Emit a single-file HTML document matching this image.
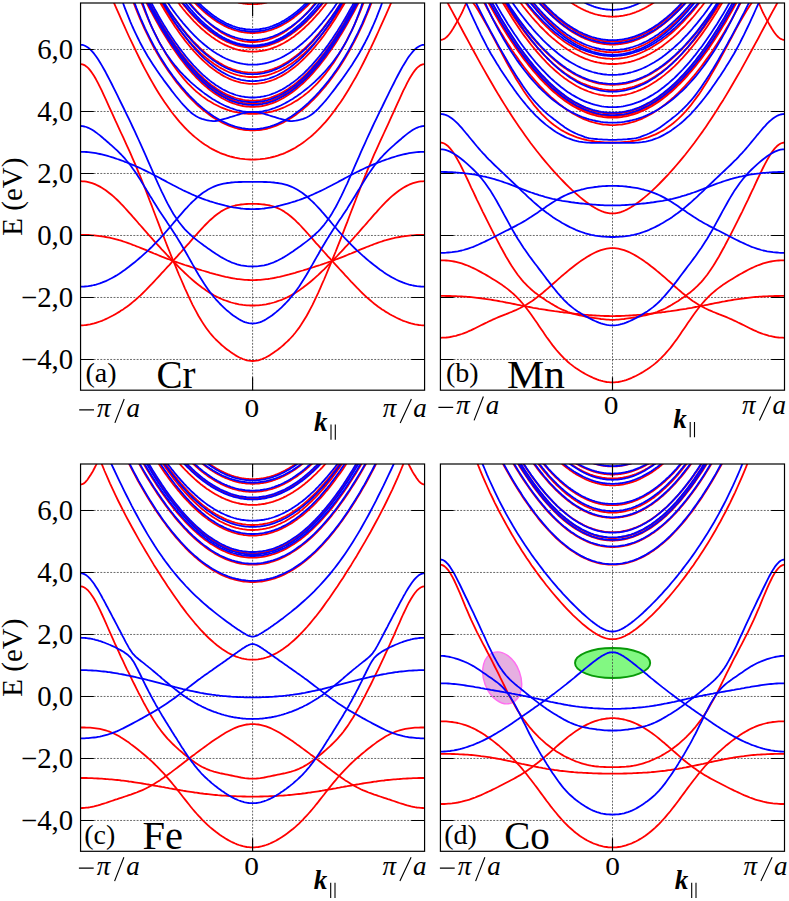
<!DOCTYPE html>
<html><head><meta charset="utf-8"><title>bands</title>
<style>
html,body{margin:0;padding:0;background:#fff;}
body{width:789px;height:901px;position:relative;overflow:hidden;font-family:"Liberation Serif",serif;}
svg text{font-family:"Liberation Serif",serif;fill:#000;}
.tk{font-size:28.8px;text-anchor:end;}
.mi{font-size:27px;font-style:italic;}
.mr{font-size:26px;}
.pl{font-size:28px;}
.el{font-size:39px;}
.yl{font-size:29px;text-anchor:middle;}
</style></head><body>
<svg width="789" height="901" viewBox="0 0 789 901" style="position:absolute;left:0;top:0">
<defs>
<clipPath id="ca"><rect x="80.5" y="3.0" width="344.0" height="387.2"/></clipPath>
<clipPath id="cb"><rect x="440.4" y="3.0" width="344.1" height="387.2"/></clipPath>
<clipPath id="cc"><rect x="80.5" y="464.0" width="344.0" height="387.3"/></clipPath>
<clipPath id="cd"><rect x="440.4" y="464.0" width="344.1" height="387.3"/></clipPath>
</defs>
<path d="M80.55 359.47 H424.58 M80.55 297.47 H424.58 M80.55 235.47 H424.58 M80.55 173.47 H424.58 M80.55 111.47 H424.58 M80.55 49.47 H424.58 M252.6 3.0 V390.2" stroke="#444" stroke-width="0.8" stroke-dasharray="1.9 1.4" fill="none"/>
<g clip-path="url(#ca)" fill="none" stroke-width="1.8" stroke-linejoin="round">
<path d="M80.6 64.1 L82.5 64.3 L84.4 65.1 L86.3 66.4 L88.3 68.2 L90.2 70.4 L92.1 73.0 L94.1 76.0 L96.0 79.3 L97.9 82.9 L99.9 86.8 L101.8 90.7 L103.7 94.9 L105.7 99.1 L107.6 103.3 L109.5 107.6 L111.5 111.9 L113.4 116.1 L115.3 120.4 L117.3 124.6 L119.2 128.8 L121.1 133.0 L123.1 137.2 L125.0 141.4 L126.9 145.6 L128.9 149.9 L130.8 154.2 L132.7 158.6 L134.7 163.1 L136.6 167.7 L138.5 172.3 L140.5 177.0 L142.4 181.8 L144.3 186.7 L146.3 191.7 L148.2 196.6 L150.1 201.7 L152.1 206.7 L154.0 211.8 L155.9 216.8 L157.9 221.9 L159.8 226.9 L161.7 231.9 L163.7 236.8 L165.6 241.8 L167.5 246.6 L169.5 251.5 L171.4 256.3 L173.3 261.0 L175.3 265.7 L177.2 270.4 L179.1 275.0 L181.1 279.5 L183.0 283.9 L184.9 288.3 L186.9 292.6 L188.8 296.8 L190.7 300.8 L192.6 304.8 L194.6 308.6 L196.5 312.2 L198.4 315.7 L200.4 319.0 L202.3 322.1 L204.2 325.1 L206.2 327.9 L208.1 330.5 L210.0 333.0 L212.0 335.3 L213.9 337.5 L215.8 339.5 L217.8 341.4 L219.7 343.2 L221.6 345.0 L223.6 346.6 L225.5 348.2 L227.4 349.7 L229.4 351.1 L231.3 352.5 L233.2 353.8 L235.2 355.1 L237.1 356.2 L239.0 357.3 L241.0 358.2 L242.9 359.0 L244.8 359.7 L246.8 360.3 L248.7 360.7 L250.6 360.9 L252.6 361.0 L254.5 360.9 L256.4 360.7 L258.4 360.3 L260.3 359.7 L262.2 359.0 L264.2 358.2 L266.1 357.3 L268.0 356.2 L270.0 355.1 L271.9 353.8 L273.8 352.5 L275.8 351.1 L277.7 349.7 L279.6 348.2 L281.6 346.6 L283.5 345.0 L285.4 343.2 L287.4 341.4 L289.3 339.5 L291.2 337.5 L293.2 335.3 L295.1 333.0 L297.0 330.5 L299.0 327.9 L300.9 325.1 L302.8 322.1 L304.7 319.0 L306.7 315.7 L308.6 312.2 L310.5 308.6 L312.5 304.8 L314.4 300.8 L316.3 296.8 L318.3 292.6 L320.2 288.3 L322.1 283.9 L324.1 279.5 L326.0 275.0 L327.9 270.4 L329.9 265.7 L331.8 261.0 L333.7 256.3 L335.7 251.5 L337.6 246.6 L339.5 241.8 L341.5 236.8 L343.4 231.9 L345.3 226.9 L347.3 221.9 L349.2 216.8 L351.1 211.8 L353.1 206.7 L355.0 201.7 L356.9 196.6 L358.9 191.7 L360.8 186.7 L362.7 181.8 L364.7 177.0 L366.6 172.3 L368.5 167.7 L370.5 163.1 L372.4 158.6 L374.3 154.2 L376.3 149.9 L378.2 145.6 L380.1 141.4 L382.1 137.2 L384.0 133.0 L385.9 128.8 L387.9 124.6 L389.8 120.4 L391.7 116.1 L393.7 111.9 L395.6 107.6 L397.5 103.3 L399.5 99.1 L401.4 94.9 L403.3 90.7 L405.3 86.8 L407.2 82.9 L409.1 79.3 L411.1 76.0 L413.0 73.0 L414.9 70.4 L416.8 68.2 L418.8 66.4 L420.7 65.1 L422.6 64.3 L424.6 64.1" stroke="#ff0000"/>
<path d="M80.6 181.2 L82.5 181.3 L84.4 181.4 L86.3 181.7 L88.3 182.1 L90.2 182.6 L92.1 183.2 L94.1 183.9 L96.0 184.7 L97.9 185.6 L99.9 186.6 L101.8 187.7 L103.7 188.9 L105.7 190.2 L107.6 191.7 L109.5 193.2 L111.5 194.8 L113.4 196.4 L115.3 198.2 L117.3 200.0 L119.2 201.9 L121.1 203.9 L123.1 205.9 L125.0 208.0 L126.9 210.1 L128.9 212.3 L130.8 214.4 L132.7 216.6 L134.7 218.8 L136.6 221.0 L138.5 223.3 L140.5 225.5 L142.4 227.7 L144.3 229.9 L146.3 232.1 L148.2 234.3 L150.1 236.5 L152.1 238.7 L154.0 240.8 L155.9 243.0 L157.9 245.1 L159.8 247.2 L161.7 249.3 L163.7 251.4 L165.6 253.4 L167.5 255.5 L169.5 257.5 L171.4 259.5 L173.3 261.5 L175.3 263.5 L177.2 265.4 L179.1 267.4 L181.1 269.3 L183.0 271.1 L184.9 273.0 L186.9 274.8 L188.8 276.6 L190.7 278.3 L192.6 280.0 L194.6 281.7 L196.5 283.3 L198.4 284.8 L200.4 286.3 L202.3 287.8 L204.2 289.1 L206.2 290.5 L208.1 291.7 L210.0 293.0 L212.0 294.1 L213.9 295.2 L215.8 296.2 L217.8 297.2 L219.7 298.1 L221.6 299.0 L223.6 299.8 L225.5 300.5 L227.4 301.2 L229.4 301.9 L231.3 302.5 L233.2 303.0 L235.2 303.5 L237.1 303.9 L239.0 304.3 L241.0 304.6 L242.9 304.9 L244.8 305.1 L246.8 305.3 L248.7 305.4 L250.6 305.5 L252.6 305.5 L254.5 305.5 L256.4 305.4 L258.4 305.3 L260.3 305.1 L262.2 304.9 L264.2 304.6 L266.1 304.3 L268.0 303.9 L270.0 303.5 L271.9 303.0 L273.8 302.5 L275.8 301.9 L277.7 301.2 L279.6 300.5 L281.6 299.8 L283.5 299.0 L285.4 298.1 L287.4 297.2 L289.3 296.2 L291.2 295.2 L293.2 294.1 L295.1 293.0 L297.0 291.7 L299.0 290.5 L300.9 289.1 L302.8 287.8 L304.7 286.3 L306.7 284.8 L308.6 283.3 L310.5 281.7 L312.5 280.0 L314.4 278.3 L316.3 276.6 L318.3 274.8 L320.2 273.0 L322.1 271.1 L324.1 269.3 L326.0 267.4 L327.9 265.4 L329.9 263.5 L331.8 261.5 L333.7 259.5 L335.7 257.5 L337.6 255.5 L339.5 253.4 L341.5 251.4 L343.4 249.3 L345.3 247.2 L347.3 245.1 L349.2 243.0 L351.1 240.8 L353.1 238.7 L355.0 236.5 L356.9 234.3 L358.9 232.1 L360.8 229.9 L362.7 227.7 L364.7 225.5 L366.6 223.3 L368.5 221.0 L370.5 218.8 L372.4 216.6 L374.3 214.4 L376.3 212.3 L378.2 210.1 L380.1 208.0 L382.1 205.9 L384.0 203.9 L385.9 201.9 L387.9 200.0 L389.8 198.2 L391.7 196.4 L393.7 194.8 L395.6 193.2 L397.5 191.7 L399.5 190.2 L401.4 188.9 L403.3 187.7 L405.3 186.6 L407.2 185.6 L409.1 184.7 L411.1 183.9 L413.0 183.2 L414.9 182.6 L416.8 182.1 L418.8 181.7 L420.7 181.4 L422.6 181.3 L424.6 181.2" stroke="#ff0000"/>
<path d="M80.6 234.8 L82.5 234.9 L84.4 234.9 L86.3 235.0 L88.3 235.0 L90.2 235.1 L92.1 235.3 L94.1 235.4 L96.0 235.6 L97.9 235.8 L99.9 236.1 L101.8 236.4 L103.7 236.7 L105.7 237.0 L107.6 237.3 L109.5 237.7 L111.5 238.2 L113.4 238.6 L115.3 239.1 L117.3 239.6 L119.2 240.2 L121.1 240.7 L123.1 241.4 L125.0 242.0 L126.9 242.6 L128.9 243.3 L130.8 244.0 L132.7 244.8 L134.7 245.5 L136.6 246.3 L138.5 247.0 L140.5 247.8 L142.4 248.6 L144.3 249.4 L146.3 250.2 L148.2 251.0 L150.1 251.8 L152.1 252.6 L154.0 253.5 L155.9 254.2 L157.9 255.0 L159.8 255.8 L161.7 256.6 L163.7 257.3 L165.6 258.1 L167.5 258.8 L169.5 259.5 L171.4 260.3 L173.3 261.0 L175.3 261.7 L177.2 262.3 L179.1 263.0 L181.1 263.7 L183.0 264.3 L184.9 265.0 L186.9 265.6 L188.8 266.2 L190.7 266.9 L192.6 267.5 L194.6 268.1 L196.5 268.7 L198.4 269.3 L200.4 269.9 L202.3 270.5 L204.2 271.0 L206.2 271.6 L208.1 272.2 L210.0 272.8 L212.0 273.3 L213.9 273.8 L215.8 274.4 L217.8 274.9 L219.7 275.4 L221.6 275.9 L223.6 276.3 L225.5 276.8 L227.4 277.2 L229.4 277.6 L231.3 278.0 L233.2 278.3 L235.2 278.7 L237.1 279.0 L239.0 279.2 L241.0 279.4 L242.9 279.6 L244.8 279.8 L246.8 279.9 L248.7 280.0 L250.6 280.1 L252.6 280.1 L254.5 280.1 L256.4 280.0 L258.4 279.9 L260.3 279.8 L262.2 279.6 L264.2 279.4 L266.1 279.2 L268.0 279.0 L270.0 278.7 L271.9 278.3 L273.8 278.0 L275.8 277.6 L277.7 277.2 L279.6 276.8 L281.6 276.3 L283.5 275.9 L285.4 275.4 L287.4 274.9 L289.3 274.4 L291.2 273.8 L293.2 273.3 L295.1 272.8 L297.0 272.2 L299.0 271.6 L300.9 271.0 L302.8 270.5 L304.7 269.9 L306.7 269.3 L308.6 268.7 L310.5 268.1 L312.5 267.5 L314.4 266.9 L316.3 266.2 L318.3 265.6 L320.2 265.0 L322.1 264.3 L324.1 263.7 L326.0 263.0 L327.9 262.3 L329.9 261.7 L331.8 261.0 L333.7 260.3 L335.7 259.5 L337.6 258.8 L339.5 258.1 L341.5 257.3 L343.4 256.6 L345.3 255.8 L347.3 255.0 L349.2 254.2 L351.1 253.5 L353.1 252.6 L355.0 251.8 L356.9 251.0 L358.9 250.2 L360.8 249.4 L362.7 248.6 L364.7 247.8 L366.6 247.0 L368.5 246.3 L370.5 245.5 L372.4 244.8 L374.3 244.0 L376.3 243.3 L378.2 242.6 L380.1 242.0 L382.1 241.4 L384.0 240.7 L385.9 240.2 L387.9 239.6 L389.8 239.1 L391.7 238.6 L393.7 238.2 L395.6 237.7 L397.5 237.3 L399.5 237.0 L401.4 236.7 L403.3 236.4 L405.3 236.1 L407.2 235.8 L409.1 235.6 L411.1 235.4 L413.0 235.3 L414.9 235.1 L416.8 235.0 L418.8 235.0 L420.7 234.9 L422.6 234.9 L424.6 234.8" stroke="#ff0000"/>
<path d="M80.6 325.4 L82.5 325.3 L84.4 325.2 L86.3 325.0 L88.3 324.7 L90.2 324.4 L92.1 323.9 L94.1 323.4 L96.0 322.8 L97.9 322.2 L99.9 321.5 L101.8 320.8 L103.7 320.0 L105.7 319.1 L107.6 318.2 L109.5 317.3 L111.5 316.3 L113.4 315.3 L115.3 314.2 L117.3 313.0 L119.2 311.9 L121.1 310.6 L123.1 309.4 L125.0 308.0 L126.9 306.7 L128.9 305.2 L130.8 303.7 L132.7 302.1 L134.7 300.5 L136.6 298.8 L138.5 297.1 L140.5 295.3 L142.4 293.5 L144.3 291.6 L146.3 289.7 L148.2 287.7 L150.1 285.7 L152.1 283.7 L154.0 281.6 L155.9 279.5 L157.9 277.4 L159.8 275.3 L161.7 273.2 L163.7 271.1 L165.6 269.0 L167.5 266.9 L169.5 264.8 L171.4 262.7 L173.3 260.5 L175.3 258.4 L177.2 256.3 L179.1 254.1 L181.1 252.0 L183.0 249.8 L184.9 247.6 L186.9 245.4 L188.8 243.3 L190.7 241.1 L192.6 238.9 L194.6 236.7 L196.5 234.5 L198.4 232.3 L200.4 230.2 L202.3 228.1 L204.2 226.0 L206.2 224.0 L208.1 222.1 L210.0 220.2 L212.0 218.5 L213.9 216.8 L215.8 215.2 L217.8 213.7 L219.7 212.4 L221.6 211.1 L223.6 210.0 L225.5 209.0 L227.4 208.1 L229.4 207.3 L231.3 206.6 L233.2 206.0 L235.2 205.5 L237.1 205.1 L239.0 204.8 L241.0 204.5 L242.9 204.3 L244.8 204.1 L246.8 204.0 L248.7 203.9 L250.6 203.9 L252.6 203.9 L254.5 203.9 L256.4 203.9 L258.4 204.0 L260.3 204.1 L262.2 204.3 L264.2 204.5 L266.1 204.8 L268.0 205.1 L270.0 205.5 L271.9 206.0 L273.8 206.6 L275.8 207.3 L277.7 208.1 L279.6 209.0 L281.6 210.0 L283.5 211.1 L285.4 212.4 L287.4 213.7 L289.3 215.2 L291.2 216.8 L293.2 218.5 L295.1 220.2 L297.0 222.1 L299.0 224.0 L300.9 226.0 L302.8 228.1 L304.7 230.2 L306.7 232.3 L308.6 234.5 L310.5 236.7 L312.5 238.9 L314.4 241.1 L316.3 243.3 L318.3 245.4 L320.2 247.6 L322.1 249.8 L324.1 252.0 L326.0 254.1 L327.9 256.3 L329.9 258.4 L331.8 260.5 L333.7 262.7 L335.7 264.8 L337.6 266.9 L339.5 269.0 L341.5 271.1 L343.4 273.2 L345.3 275.3 L347.3 277.4 L349.2 279.5 L351.1 281.6 L353.1 283.7 L355.0 285.7 L356.9 287.7 L358.9 289.7 L360.8 291.6 L362.7 293.5 L364.7 295.3 L366.6 297.1 L368.5 298.8 L370.5 300.5 L372.4 302.1 L374.3 303.7 L376.3 305.2 L378.2 306.7 L380.1 308.0 L382.1 309.4 L384.0 310.6 L385.9 311.9 L387.9 313.0 L389.8 314.2 L391.7 315.3 L393.7 316.3 L395.6 317.3 L397.5 318.2 L399.5 319.1 L401.4 320.0 L403.3 320.8 L405.3 321.5 L407.2 322.2 L409.1 322.8 L411.1 323.4 L413.0 323.9 L414.9 324.4 L416.8 324.7 L418.8 325.0 L420.7 325.2 L422.6 325.3 L424.6 325.4" stroke="#ff0000"/>
<path d="M104.1 -19.9 L106.6 -14.2 L109.1 -8.5 L111.6 -2.7 L114.1 3.1 L116.6 8.8 L119.2 14.6 L121.7 20.3 L124.2 25.9 L126.7 31.5 L129.2 37.0 L131.8 42.4 L134.3 47.7 L136.8 52.9 L139.3 58.0 L141.8 63.0 L144.3 67.8 L146.9 72.6 L149.4 77.2 L151.9 81.6 L154.4 86.0 L156.9 90.2 L159.4 94.2 L162.0 98.2 L164.5 102.0 L167.0 105.6 L169.5 109.1 L172.0 112.5 L174.5 115.7 L177.1 118.8 L179.6 121.8 L182.1 124.6 L184.6 127.3 L187.1 129.9 L189.6 132.3 L192.2 134.7 L194.7 136.9 L197.2 138.9 L199.7 140.9 L202.2 142.8 L204.7 144.5 L207.3 146.1 L209.8 147.7 L212.3 149.1 L214.8 150.4 L217.3 151.6 L219.8 152.8 L222.4 153.8 L224.9 154.7 L227.4 155.6 L229.9 156.4 L232.4 157.0 L234.9 157.6 L237.5 158.1 L240.0 158.6 L242.5 158.9 L245.0 159.2 L247.5 159.4 L250.0 159.5 L252.6 159.6 L255.1 159.5 L257.6 159.4 L260.1 159.2 L262.6 158.9 L265.1 158.6 L267.7 158.1 L270.2 157.6 L272.7 157.0 L275.2 156.4 L277.7 155.6 L280.3 154.7 L282.8 153.8 L285.3 152.8 L287.8 151.6 L290.3 150.4 L292.8 149.1 L295.4 147.7 L297.9 146.1 L300.4 144.5 L302.9 142.8 L305.4 140.9 L307.9 138.9 L310.5 136.9 L313.0 134.7 L315.5 132.3 L318.0 129.9 L320.5 127.3 L323.0 124.6 L325.6 121.8 L328.1 118.8 L330.6 115.7 L333.1 112.5 L335.6 109.1 L338.1 105.6 L340.7 102.0 L343.2 98.2 L345.7 94.2 L348.2 90.2 L350.7 86.0 L353.2 81.6 L355.8 77.2 L358.3 72.6 L360.8 67.8 L363.3 63.0 L365.8 58.0 L368.3 52.9 L370.9 47.7 L373.4 42.4 L375.9 37.0 L378.4 31.5 L380.9 25.9 L383.4 20.3 L386.0 14.6 L388.5 8.8 L391.0 3.1 L393.5 -2.7 L396.0 -8.5 L398.5 -14.2 L401.1 -19.9" stroke="#ff0000"/>
<path d="M124.9 -22.4 L127.0 -15.8 L129.2 -9.4 L131.3 -3.4 L133.5 2.5 L135.7 8.1 L137.8 13.4 L140.0 18.6 L142.2 23.6 L144.3 28.3 L146.5 32.9 L148.7 37.3 L150.8 41.6 L153.0 45.7 L155.2 49.7 L157.3 53.5 L159.5 57.2 L161.6 60.7 L163.8 64.2 L166.0 67.5 L168.1 70.7 L170.3 73.8 L172.5 76.8 L174.6 79.8 L176.8 82.6 L179.0 85.3 L181.1 87.9 L183.3 90.5 L185.5 92.9 L187.6 95.3 L189.8 97.6 L192.0 99.8 L194.1 101.9 L196.3 104.0 L198.4 106.0 L200.6 107.9 L202.8 109.7 L204.9 111.4 L207.1 113.1 L209.3 114.7 L211.4 116.2 L213.6 117.7 L215.8 119.0 L217.9 120.3 L220.1 121.5 L222.3 122.7 L224.4 123.7 L226.6 124.7 L228.8 125.6 L230.9 126.4 L233.1 127.2 L235.2 127.9 L237.4 128.5 L239.6 129.0 L241.7 129.4 L243.9 129.8 L246.1 130.0 L248.2 130.2 L250.4 130.4 L252.6 130.4 L254.7 130.4 L256.9 130.2 L259.1 130.0 L261.2 129.8 L263.4 129.4 L265.6 129.0 L267.7 128.5 L269.9 127.9 L272.0 127.2 L274.2 126.4 L276.4 125.6 L278.5 124.7 L280.7 123.7 L282.9 122.7 L285.0 121.5 L287.2 120.3 L289.4 119.0 L291.5 117.7 L293.7 116.2 L295.9 114.7 L298.0 113.1 L300.2 111.4 L302.4 109.7 L304.5 107.9 L306.7 106.0 L308.8 104.0 L311.0 101.9 L313.2 99.8 L315.3 97.6 L317.5 95.3 L319.7 92.9 L321.8 90.5 L324.0 87.9 L326.2 85.3 L328.3 82.6 L330.5 79.8 L332.7 76.8 L334.8 73.8 L337.0 70.7 L339.2 67.5 L341.3 64.2 L343.5 60.7 L345.6 57.2 L347.8 53.5 L350.0 49.7 L352.1 45.7 L354.3 41.6 L356.5 37.3 L358.6 32.9 L360.8 28.3 L363.0 23.6 L365.1 18.6 L367.3 13.4 L369.5 8.1 L371.6 2.5 L373.8 -3.4 L375.9 -9.4 L378.1 -15.8 L380.3 -22.4" stroke="#ff0000"/>
<path d="M133.2 -20.1 L135.3 -14.2 L137.3 -8.5 L139.3 -3.0 L141.3 2.3 L143.4 7.4 L145.4 12.4 L147.4 17.2 L149.4 21.8 L151.4 26.3 L153.5 30.6 L155.5 34.7 L157.5 38.7 L159.5 42.6 L161.6 46.3 L163.6 49.9 L165.6 53.3 L167.6 56.6 L169.6 59.8 L171.7 62.9 L173.7 65.8 L175.7 68.6 L177.7 71.3 L179.8 74.0 L181.8 76.4 L183.8 78.8 L185.8 81.1 L187.8 83.3 L189.9 85.4 L191.9 87.4 L193.9 89.3 L195.9 91.2 L198.0 92.9 L200.0 94.5 L202.0 96.1 L204.0 97.6 L206.0 99.0 L208.1 100.4 L210.1 101.6 L212.1 102.8 L214.1 104.0 L216.2 105.0 L218.2 106.0 L220.2 107.0 L222.2 107.8 L224.3 108.6 L226.3 109.4 L228.3 110.1 L230.3 110.7 L232.3 111.3 L234.4 111.8 L236.4 112.2 L238.4 112.6 L240.4 113.0 L242.5 113.3 L244.5 113.5 L246.5 113.7 L248.5 113.8 L250.5 113.9 L252.6 113.9 L254.6 113.9 L256.6 113.8 L258.6 113.7 L260.7 113.5 L262.7 113.3 L264.7 113.0 L266.7 112.6 L268.7 112.2 L270.8 111.8 L272.8 111.3 L274.8 110.7 L276.8 110.1 L278.9 109.4 L280.9 108.6 L282.9 107.8 L284.9 107.0 L286.9 106.0 L289.0 105.0 L291.0 104.0 L293.0 102.8 L295.0 101.6 L297.1 100.4 L299.1 99.0 L301.1 97.6 L303.1 96.1 L305.1 94.5 L307.2 92.9 L309.2 91.2 L311.2 89.3 L313.2 87.4 L315.3 85.4 L317.3 83.3 L319.3 81.1 L321.3 78.8 L323.4 76.4 L325.4 74.0 L327.4 71.3 L329.4 68.6 L331.4 65.8 L333.5 62.9 L335.5 59.8 L337.5 56.6 L339.5 53.3 L341.6 49.9 L343.6 46.3 L345.6 42.6 L347.6 38.7 L349.6 34.7 L351.7 30.6 L353.7 26.3 L355.7 21.8 L357.7 17.2 L359.8 12.4 L361.8 7.4 L363.8 2.3 L365.8 -3.0 L367.8 -8.5 L369.9 -14.2 L371.9 -20.1" stroke="#ff0000"/>
<path d="M138.5 -13.5 L140.5 -9.4 L142.4 -5.5 L144.3 -1.5 L146.3 2.3 L148.2 6.1 L150.1 9.8 L152.1 13.4 L154.0 16.9 L155.9 20.4 L157.9 23.9 L159.8 27.2 L161.7 30.5 L163.7 33.7 L165.6 36.8 L167.5 39.9 L169.5 42.9 L171.4 45.9 L173.3 48.7 L175.3 51.5 L177.2 54.3 L179.1 56.9 L181.0 59.5 L183.0 62.0 L184.9 64.5 L186.8 66.9 L188.8 69.2 L190.7 71.4 L192.6 73.6 L194.6 75.7 L196.5 77.8 L198.4 79.7 L200.4 81.6 L202.3 83.5 L204.2 85.2 L206.2 86.9 L208.1 88.5 L210.0 90.1 L212.0 91.6 L213.9 93.0 L215.8 94.3 L217.8 95.6 L219.7 96.8 L221.6 98.0 L223.6 99.0 L225.5 100.0 L227.4 101.0 L229.4 101.8 L231.3 102.6 L233.2 103.4 L235.2 104.0 L237.1 104.6 L239.0 105.1 L241.0 105.6 L242.9 106.0 L244.8 106.3 L246.8 106.5 L248.7 106.7 L250.6 106.8 L252.6 106.8 L254.5 106.8 L256.4 106.7 L258.4 106.5 L260.3 106.3 L262.2 106.0 L264.2 105.6 L266.1 105.1 L268.0 104.6 L270.0 104.0 L271.9 103.4 L273.8 102.6 L275.8 101.8 L277.7 101.0 L279.6 100.0 L281.6 99.0 L283.5 98.0 L285.4 96.8 L287.4 95.6 L289.3 94.3 L291.2 93.0 L293.2 91.6 L295.1 90.1 L297.0 88.5 L299.0 86.9 L300.9 85.2 L302.8 83.5 L304.8 81.6 L306.7 79.7 L308.6 77.8 L310.6 75.7 L312.5 73.6 L314.4 71.4 L316.3 69.2 L318.3 66.9 L320.2 64.5 L322.1 62.0 L324.1 59.5 L326.0 56.9 L327.9 54.3 L329.9 51.5 L331.8 48.7 L333.7 45.9 L335.7 42.9 L337.6 39.9 L339.5 36.8 L341.5 33.7 L343.4 30.5 L345.3 27.2 L347.3 23.9 L349.2 20.4 L351.1 16.9 L353.1 13.4 L355.0 9.8 L356.9 6.1 L358.9 2.3 L360.8 -1.5 L362.7 -5.5 L364.7 -9.4 L366.6 -13.5" stroke="#ff0000"/>
<path d="M140.2 -13.0 L142.1 -9.1 L144.0 -5.2 L145.9 -1.5 L147.8 2.3 L149.7 5.9 L151.6 9.5 L153.5 13.0 L155.4 16.5 L157.3 19.9 L159.2 23.2 L161.1 26.4 L163.0 29.6 L164.9 32.8 L166.8 35.8 L168.7 38.8 L170.6 41.7 L172.6 44.6 L174.5 47.3 L176.4 50.1 L178.3 52.7 L180.2 55.3 L182.1 57.8 L184.0 60.3 L185.9 62.6 L187.8 64.9 L189.7 67.2 L191.6 69.4 L193.5 71.5 L195.4 73.5 L197.3 75.5 L199.2 77.4 L201.1 79.3 L203.0 81.0 L204.9 82.8 L206.8 84.4 L208.7 86.0 L210.7 87.5 L212.6 88.9 L214.5 90.3 L216.4 91.6 L218.3 92.9 L220.2 94.0 L222.1 95.1 L224.0 96.2 L225.9 97.1 L227.8 98.1 L229.7 98.9 L231.6 99.7 L233.5 100.4 L235.4 101.0 L237.3 101.6 L239.2 102.1 L241.1 102.5 L243.0 102.9 L244.9 103.2 L246.8 103.4 L248.8 103.6 L250.7 103.7 L252.6 103.7 L254.5 103.7 L256.4 103.6 L258.3 103.4 L260.2 103.2 L262.1 102.9 L264.0 102.5 L265.9 102.1 L267.8 101.6 L269.7 101.0 L271.6 100.4 L273.5 99.7 L275.4 98.9 L277.3 98.1 L279.2 97.1 L281.1 96.2 L283.0 95.1 L285.0 94.0 L286.9 92.9 L288.8 91.6 L290.7 90.3 L292.6 88.9 L294.5 87.5 L296.4 86.0 L298.3 84.4 L300.2 82.8 L302.1 81.0 L304.0 79.3 L305.9 77.4 L307.8 75.5 L309.7 73.5 L311.6 71.5 L313.5 69.4 L315.4 67.2 L317.3 64.9 L319.2 62.6 L321.1 60.3 L323.1 57.8 L325.0 55.3 L326.9 52.7 L328.8 50.1 L330.7 47.3 L332.6 44.6 L334.5 41.7 L336.4 38.8 L338.3 35.8 L340.2 32.8 L342.1 29.6 L344.0 26.4 L345.9 23.2 L347.8 19.9 L349.7 16.5 L351.6 13.0 L353.5 9.5 L355.4 5.9 L357.3 2.3 L359.2 -1.5 L361.2 -5.2 L363.1 -9.1 L365.0 -13.0" stroke="#ff0000"/>
<path d="M142.0 -12.6 L143.9 -8.8 L145.7 -5.0 L147.6 -1.4 L149.5 2.2 L151.4 5.8 L153.2 9.3 L155.1 12.7 L157.0 16.0 L158.9 19.3 L160.7 22.5 L162.6 25.7 L164.5 28.8 L166.4 31.8 L168.2 34.8 L170.1 37.7 L172.0 40.5 L173.9 43.2 L175.7 45.9 L177.6 48.6 L179.5 51.2 L181.3 53.7 L183.2 56.1 L185.1 58.5 L187.0 60.8 L188.8 63.0 L190.7 65.2 L192.6 67.3 L194.5 69.4 L196.3 71.3 L198.2 73.3 L200.1 75.1 L202.0 76.9 L203.8 78.6 L205.7 80.3 L207.6 81.9 L209.5 83.4 L211.3 84.9 L213.2 86.3 L215.1 87.6 L217.0 88.9 L218.8 90.1 L220.7 91.2 L222.6 92.3 L224.5 93.3 L226.3 94.2 L228.2 95.1 L230.1 95.9 L231.9 96.7 L233.8 97.4 L235.7 98.0 L237.6 98.5 L239.4 99.0 L241.3 99.4 L243.2 99.8 L245.1 100.1 L246.9 100.3 L248.8 100.5 L250.7 100.6 L252.6 100.6 L254.4 100.6 L256.3 100.5 L258.2 100.3 L260.1 100.1 L261.9 99.8 L263.8 99.4 L265.7 99.0 L267.6 98.5 L269.4 98.0 L271.3 97.4 L273.2 96.7 L275.1 95.9 L276.9 95.1 L278.8 94.2 L280.7 93.3 L282.6 92.3 L284.4 91.2 L286.3 90.1 L288.2 88.9 L290.0 87.6 L291.9 86.3 L293.8 84.9 L295.7 83.4 L297.5 81.9 L299.4 80.3 L301.3 78.6 L303.2 76.9 L305.0 75.1 L306.9 73.3 L308.8 71.3 L310.7 69.4 L312.5 67.3 L314.4 65.2 L316.3 63.0 L318.2 60.8 L320.0 58.5 L321.9 56.1 L323.8 53.7 L325.7 51.2 L327.5 48.6 L329.4 45.9 L331.3 43.2 L333.2 40.5 L335.0 37.7 L336.9 34.8 L338.8 31.8 L340.6 28.8 L342.5 25.7 L344.4 22.5 L346.3 19.3 L348.1 16.0 L350.0 12.7 L351.9 9.3 L353.8 5.8 L355.6 2.2 L357.5 -1.4 L359.4 -5.0 L361.3 -8.8 L363.1 -12.6" stroke="#ff0000"/>
<path d="M153.1 -10.3 L154.8 -7.1 L156.5 -4.0 L158.2 -0.9 L159.9 2.1 L161.5 5.0 L163.2 7.9 L164.9 10.8 L166.6 13.5 L168.3 16.3 L170.0 18.9 L171.7 21.6 L173.3 24.1 L175.0 26.7 L176.7 29.1 L178.4 31.5 L180.1 33.9 L181.8 36.2 L183.5 38.4 L185.1 40.6 L186.8 42.7 L188.5 44.8 L190.2 46.9 L191.9 48.8 L193.6 50.8 L195.3 52.6 L196.9 54.4 L198.6 56.2 L200.3 57.9 L202.0 59.5 L203.7 61.1 L205.4 62.7 L207.1 64.2 L208.7 65.6 L210.4 67.0 L212.1 68.3 L213.8 69.6 L215.5 70.8 L217.2 72.0 L218.9 73.1 L220.5 74.1 L222.2 75.1 L223.9 76.1 L225.6 77.0 L227.3 77.8 L229.0 78.6 L230.7 79.3 L232.3 80.0 L234.0 80.6 L235.7 81.2 L237.4 81.7 L239.1 82.1 L240.8 82.6 L242.5 82.9 L244.1 83.2 L245.8 83.4 L247.5 83.6 L249.2 83.8 L250.9 83.9 L252.6 83.9 L254.3 83.9 L255.9 83.8 L257.6 83.6 L259.3 83.4 L261.0 83.2 L262.7 82.9 L264.4 82.6 L266.1 82.1 L267.7 81.7 L269.4 81.2 L271.1 80.6 L272.8 80.0 L274.5 79.3 L276.2 78.6 L277.8 77.8 L279.5 77.0 L281.2 76.1 L282.9 75.1 L284.6 74.1 L286.3 73.1 L288.0 72.0 L289.6 70.8 L291.3 69.6 L293.0 68.3 L294.7 67.0 L296.4 65.6 L298.1 64.2 L299.8 62.7 L301.4 61.1 L303.1 59.5 L304.8 57.9 L306.5 56.2 L308.2 54.4 L309.9 52.6 L311.6 50.8 L313.2 48.8 L314.9 46.9 L316.6 44.8 L318.3 42.7 L320.0 40.6 L321.7 38.4 L323.4 36.2 L325.0 33.9 L326.7 31.5 L328.4 29.1 L330.1 26.7 L331.8 24.1 L333.5 21.6 L335.2 18.9 L336.8 16.3 L338.5 13.5 L340.2 10.8 L341.9 7.9 L343.6 5.0 L345.3 2.1 L347.0 -0.9 L348.6 -4.0 L350.3 -7.1 L352.0 -10.3" stroke="#ff0000"/>
<path d="M154.2 -9.2 L155.9 -6.3 L157.5 -3.4 L159.2 -0.6 L160.9 2.1 L162.5 4.8 L164.2 7.5 L165.9 10.1 L167.5 12.6 L169.2 15.1 L170.9 17.6 L172.5 20.0 L174.2 22.3 L175.9 24.6 L177.5 26.9 L179.2 29.1 L180.9 31.3 L182.5 33.4 L184.2 35.4 L185.9 37.4 L187.5 39.4 L189.2 41.3 L190.9 43.1 L192.5 45.0 L194.2 46.7 L195.9 48.4 L197.6 50.1 L199.2 51.7 L200.9 53.3 L202.6 54.8 L204.2 56.2 L205.9 57.6 L207.6 59.0 L209.2 60.3 L210.9 61.6 L212.6 62.8 L214.2 64.0 L215.9 65.1 L217.6 66.1 L219.2 67.2 L220.9 68.1 L222.6 69.0 L224.2 69.9 L225.9 70.7 L227.6 71.5 L229.2 72.2 L230.9 72.9 L232.6 73.5 L234.2 74.1 L235.9 74.6 L237.6 75.1 L239.2 75.5 L240.9 75.8 L242.6 76.2 L244.2 76.4 L245.9 76.7 L247.6 76.8 L249.2 77.0 L250.9 77.0 L252.6 77.1 L254.2 77.0 L255.9 77.0 L257.6 76.8 L259.2 76.7 L260.9 76.4 L262.6 76.2 L264.2 75.8 L265.9 75.5 L267.6 75.1 L269.2 74.6 L270.9 74.1 L272.6 73.5 L274.2 72.9 L275.9 72.2 L277.6 71.5 L279.2 70.7 L280.9 69.9 L282.6 69.0 L284.2 68.1 L285.9 67.2 L287.6 66.1 L289.2 65.1 L290.9 64.0 L292.6 62.8 L294.2 61.6 L295.9 60.3 L297.6 59.0 L299.2 57.6 L300.9 56.2 L302.6 54.8 L304.2 53.3 L305.9 51.7 L307.6 50.1 L309.2 48.4 L310.9 46.7 L312.6 45.0 L314.2 43.1 L315.9 41.3 L317.6 39.4 L319.2 37.4 L320.9 35.4 L322.6 33.4 L324.2 31.3 L325.9 29.1 L327.6 26.9 L329.3 24.6 L330.9 22.3 L332.6 20.0 L334.3 17.6 L335.9 15.1 L337.6 12.6 L339.3 10.1 L340.9 7.5 L342.6 4.8 L344.3 2.1 L345.9 -0.6 L347.6 -3.4 L349.3 -6.3 L350.9 -9.2" stroke="#ff0000"/>
<path d="M157.3 -8.6 L158.9 -5.8 L160.5 -3.1 L162.2 -0.5 L163.8 2.1 L165.4 4.6 L167.0 7.1 L168.6 9.6 L170.2 12.0 L171.8 14.3 L173.5 16.7 L175.1 18.9 L176.7 21.1 L178.3 23.3 L179.9 25.4 L181.5 27.5 L183.1 29.5 L184.8 31.5 L186.4 33.5 L188.0 35.4 L189.6 37.2 L191.2 39.0 L192.8 40.8 L194.4 42.5 L196.1 44.1 L197.7 45.7 L199.3 47.3 L200.9 48.8 L202.5 50.3 L204.1 51.7 L205.7 53.1 L207.4 54.4 L209.0 55.7 L210.6 56.9 L212.2 58.1 L213.8 59.3 L215.4 60.4 L217.0 61.4 L218.7 62.4 L220.3 63.4 L221.9 64.3 L223.5 65.2 L225.1 66.0 L226.7 66.7 L228.3 67.5 L230.0 68.1 L231.6 68.8 L233.2 69.4 L234.8 69.9 L236.4 70.4 L238.0 70.8 L239.6 71.2 L241.3 71.6 L242.9 71.9 L244.5 72.1 L246.1 72.3 L247.7 72.5 L249.3 72.6 L251.0 72.7 L252.6 72.7 L254.2 72.7 L255.8 72.6 L257.4 72.5 L259.0 72.3 L260.6 72.1 L262.3 71.9 L263.9 71.6 L265.5 71.2 L267.1 70.8 L268.7 70.4 L270.3 69.9 L271.9 69.4 L273.6 68.8 L275.2 68.1 L276.8 67.5 L278.4 66.7 L280.0 66.0 L281.6 65.2 L283.2 64.3 L284.9 63.4 L286.5 62.4 L288.1 61.4 L289.7 60.4 L291.3 59.3 L292.9 58.1 L294.5 56.9 L296.2 55.7 L297.8 54.4 L299.4 53.1 L301.0 51.7 L302.6 50.3 L304.2 48.8 L305.8 47.3 L307.5 45.7 L309.1 44.1 L310.7 42.5 L312.3 40.8 L313.9 39.0 L315.5 37.2 L317.1 35.4 L318.8 33.5 L320.4 31.5 L322.0 29.5 L323.6 27.5 L325.2 25.4 L326.8 23.3 L328.4 21.1 L330.1 18.9 L331.7 16.7 L333.3 14.3 L334.9 12.0 L336.5 9.6 L338.1 7.1 L339.8 4.6 L341.4 2.1 L343.0 -0.5 L344.6 -3.1 L346.2 -5.8 L347.8 -8.6" stroke="#ff0000"/>
<path d="M172.3 -5.5 L173.6 -3.5 L175.0 -1.7 L176.3 0.2 L177.7 2.0 L179.1 3.8 L180.4 5.6 L181.8 7.3 L183.1 9.0 L184.5 10.6 L185.9 12.3 L187.2 13.8 L188.6 15.4 L190.0 16.9 L191.3 18.4 L192.7 19.9 L194.0 21.3 L195.4 22.7 L196.8 24.1 L198.1 25.4 L199.5 26.7 L200.8 28.0 L202.2 29.2 L203.6 30.4 L204.9 31.5 L206.3 32.7 L207.6 33.8 L209.0 34.8 L210.4 35.9 L211.7 36.9 L213.1 37.8 L214.5 38.8 L215.8 39.7 L217.2 40.6 L218.5 41.4 L219.9 42.2 L221.3 43.0 L222.6 43.7 L224.0 44.4 L225.3 45.1 L226.7 45.7 L228.1 46.3 L229.4 46.9 L230.8 47.4 L232.1 47.9 L233.5 48.4 L234.9 48.9 L236.2 49.3 L237.6 49.7 L239.0 50.0 L240.3 50.3 L241.7 50.6 L243.0 50.8 L244.4 51.0 L245.8 51.2 L247.1 51.4 L248.5 51.5 L249.8 51.6 L251.2 51.6 L252.6 51.6 L253.9 51.6 L255.3 51.6 L256.6 51.5 L258.0 51.4 L259.4 51.2 L260.7 51.0 L262.1 50.8 L263.5 50.6 L264.8 50.3 L266.2 50.0 L267.5 49.7 L268.9 49.3 L270.3 48.9 L271.6 48.4 L273.0 47.9 L274.3 47.4 L275.7 46.9 L277.1 46.3 L278.4 45.7 L279.8 45.1 L281.1 44.4 L282.5 43.7 L283.9 43.0 L285.2 42.2 L286.6 41.4 L288.0 40.6 L289.3 39.7 L290.7 38.8 L292.0 37.8 L293.4 36.9 L294.8 35.9 L296.1 34.8 L297.5 33.8 L298.8 32.7 L300.2 31.5 L301.6 30.4 L302.9 29.2 L304.3 28.0 L305.6 26.7 L307.0 25.4 L308.4 24.1 L309.7 22.7 L311.1 21.3 L312.5 19.9 L313.8 18.4 L315.2 16.9 L316.5 15.4 L317.9 13.8 L319.3 12.3 L320.6 10.6 L322.0 9.0 L323.3 7.3 L324.7 5.6 L326.1 3.8 L327.4 2.0 L328.8 0.2 L330.1 -1.7 L331.5 -3.5 L332.9 -5.5" stroke="#ff0000"/>
<path d="M176.1 -4.9 L177.4 -3.1 L178.7 -1.4 L180.0 0.3 L181.3 2.0 L182.6 3.6 L183.9 5.3 L185.2 6.8 L186.5 8.4 L187.8 9.9 L189.0 11.4 L190.3 12.9 L191.6 14.3 L192.9 15.7 L194.2 17.1 L195.5 18.4 L196.8 19.7 L198.1 21.0 L199.4 22.3 L200.7 23.5 L202.0 24.7 L203.3 25.8 L204.6 27.0 L205.9 28.1 L207.2 29.1 L208.5 30.2 L209.8 31.2 L211.1 32.2 L212.4 33.1 L213.7 34.0 L215.0 34.9 L216.3 35.8 L217.6 36.6 L218.9 37.4 L220.2 38.2 L221.5 38.9 L222.8 39.6 L224.0 40.3 L225.3 41.0 L226.6 41.6 L227.9 42.2 L229.2 42.7 L230.5 43.3 L231.8 43.7 L233.1 44.2 L234.4 44.7 L235.7 45.1 L237.0 45.4 L238.3 45.8 L239.6 46.1 L240.9 46.4 L242.2 46.6 L243.5 46.9 L244.8 47.1 L246.1 47.2 L247.4 47.4 L248.7 47.5 L250.0 47.5 L251.3 47.6 L252.6 47.6 L253.9 47.6 L255.2 47.5 L256.5 47.5 L257.7 47.4 L259.0 47.2 L260.3 47.1 L261.6 46.9 L262.9 46.6 L264.2 46.4 L265.5 46.1 L266.8 45.8 L268.1 45.4 L269.4 45.1 L270.7 44.7 L272.0 44.2 L273.3 43.7 L274.6 43.3 L275.9 42.7 L277.2 42.2 L278.5 41.6 L279.8 41.0 L281.1 40.3 L282.4 39.6 L283.7 38.9 L285.0 38.2 L286.3 37.4 L287.6 36.6 L288.9 35.8 L290.2 34.9 L291.5 34.0 L292.7 33.1 L294.0 32.2 L295.3 31.2 L296.6 30.2 L297.9 29.1 L299.2 28.1 L300.5 27.0 L301.8 25.8 L303.1 24.7 L304.4 23.5 L305.7 22.3 L307.0 21.0 L308.3 19.7 L309.6 18.4 L310.9 17.1 L312.2 15.7 L313.5 14.3 L314.8 12.9 L316.1 11.4 L317.4 9.9 L318.7 8.4 L320.0 6.8 L321.3 5.3 L322.6 3.6 L323.9 2.0 L325.2 0.3 L326.5 -1.4 L327.7 -3.1 L329.0 -4.9" stroke="#ff0000"/>
<path d="M184.3 -4.2 L185.4 -2.6 L186.6 -1.1 L187.8 0.4 L188.9 1.9 L190.1 3.3 L191.2 4.8 L192.4 6.2 L193.5 7.5 L194.7 8.9 L195.9 10.2 L197.0 11.5 L198.2 12.7 L199.3 14.0 L200.5 15.2 L201.6 16.3 L202.8 17.5 L204.0 18.6 L205.1 19.7 L206.3 20.8 L207.4 21.8 L208.6 22.9 L209.7 23.9 L210.9 24.8 L212.1 25.8 L213.2 26.7 L214.4 27.6 L215.5 28.4 L216.7 29.3 L217.9 30.1 L219.0 30.9 L220.2 31.6 L221.3 32.4 L222.5 33.1 L223.6 33.7 L224.8 34.4 L226.0 35.0 L227.1 35.6 L228.3 36.2 L229.4 36.7 L230.6 37.2 L231.7 37.7 L232.9 38.2 L234.1 38.6 L235.2 39.0 L236.4 39.4 L237.5 39.8 L238.7 40.1 L239.8 40.4 L241.0 40.7 L242.2 41.0 L243.3 41.2 L244.5 41.4 L245.6 41.6 L246.8 41.7 L247.9 41.8 L249.1 41.9 L250.3 42.0 L251.4 42.0 L252.6 42.0 L253.7 42.0 L254.9 42.0 L256.0 41.9 L257.2 41.8 L258.4 41.7 L259.5 41.6 L260.7 41.4 L261.8 41.2 L263.0 41.0 L264.1 40.7 L265.3 40.4 L266.5 40.1 L267.6 39.8 L268.8 39.4 L269.9 39.0 L271.1 38.6 L272.2 38.2 L273.4 37.7 L274.6 37.2 L275.7 36.7 L276.9 36.2 L278.0 35.6 L279.2 35.0 L280.3 34.4 L281.5 33.7 L282.7 33.1 L283.8 32.4 L285.0 31.6 L286.1 30.9 L287.3 30.1 L288.4 29.3 L289.6 28.4 L290.8 27.6 L291.9 26.7 L293.1 25.8 L294.2 24.8 L295.4 23.9 L296.5 22.9 L297.7 21.8 L298.9 20.8 L300.0 19.7 L301.2 18.6 L302.3 17.5 L303.5 16.3 L304.6 15.2 L305.8 14.0 L307.0 12.7 L308.1 11.5 L309.3 10.2 L310.4 8.9 L311.6 7.5 L312.7 6.2 L313.9 4.8 L315.1 3.3 L316.2 1.9 L317.4 0.4 L318.5 -1.1 L319.7 -2.6 L320.8 -4.2" stroke="#ff0000"/>
<path d="M189.8 -2.7 L190.8 -1.5 L191.9 -0.3 L193.0 0.9 L194.0 2.0 L195.1 3.1 L196.1 4.2 L197.2 5.3 L198.3 6.4 L199.3 7.4 L200.4 8.4 L201.5 9.4 L202.5 10.4 L203.6 11.3 L204.7 12.3 L205.7 13.2 L206.8 14.1 L207.9 14.9 L208.9 15.8 L210.0 16.6 L211.1 17.4 L212.1 18.2 L213.2 19.0 L214.2 19.7 L215.3 20.5 L216.4 21.2 L217.4 21.9 L218.5 22.5 L219.6 23.2 L220.6 23.8 L221.7 24.4 L222.8 25.0 L223.8 25.6 L224.9 26.1 L226.0 26.6 L227.0 27.1 L228.1 27.6 L229.1 28.1 L230.2 28.5 L231.3 28.9 L232.3 29.3 L233.4 29.7 L234.5 30.1 L235.5 30.4 L236.6 30.7 L237.7 31.0 L238.7 31.3 L239.8 31.6 L240.9 31.8 L241.9 32.0 L243.0 32.2 L244.0 32.4 L245.1 32.5 L246.2 32.7 L247.2 32.8 L248.3 32.9 L249.4 32.9 L250.4 33.0 L251.5 33.0 L252.6 33.0 L253.6 33.0 L254.7 33.0 L255.8 32.9 L256.8 32.9 L257.9 32.8 L259.0 32.7 L260.0 32.5 L261.1 32.4 L262.1 32.2 L263.2 32.0 L264.3 31.8 L265.3 31.6 L266.4 31.3 L267.5 31.0 L268.5 30.7 L269.6 30.4 L270.7 30.1 L271.7 29.7 L272.8 29.3 L273.9 28.9 L274.9 28.5 L276.0 28.1 L277.0 27.6 L278.1 27.1 L279.2 26.6 L280.2 26.1 L281.3 25.6 L282.4 25.0 L283.4 24.4 L284.5 23.8 L285.6 23.2 L286.6 22.5 L287.7 21.9 L288.8 21.2 L289.8 20.5 L290.9 19.7 L291.9 19.0 L293.0 18.2 L294.1 17.4 L295.1 16.6 L296.2 15.8 L297.3 14.9 L298.3 14.1 L299.4 13.2 L300.5 12.3 L301.5 11.3 L302.6 10.4 L303.7 9.4 L304.7 8.4 L305.8 7.4 L306.9 6.4 L307.9 5.3 L309.0 4.2 L310.0 3.1 L311.1 2.0 L312.2 0.9 L313.2 -0.3 L314.3 -1.5 L315.4 -2.7" stroke="#ff0000"/>
<path d="M238.1 2.4 L238.3 2.5 L238.6 2.5 L238.8 2.6 L239.1 2.7 L239.3 2.7 L239.6 2.8 L239.8 2.8 L240.0 2.9 L240.3 2.9 L240.5 3.0 L240.8 3.0 L241.0 3.1 L241.3 3.1 L241.5 3.2 L241.8 3.2 L242.0 3.3 L242.3 3.3 L242.5 3.3 L242.7 3.4 L243.0 3.4 L243.2 3.5 L243.5 3.5 L243.7 3.5 L244.0 3.6 L244.2 3.6 L244.5 3.6 L244.7 3.7 L245.0 3.7 L245.2 3.7 L245.4 3.8 L245.7 3.8 L245.9 3.8 L246.2 3.9 L246.4 3.9 L246.7 3.9 L246.9 3.9 L247.2 4.0 L247.4 4.0 L247.7 4.0 L247.9 4.0 L248.1 4.0 L248.4 4.1 L248.6 4.1 L248.9 4.1 L249.1 4.1 L249.4 4.1 L249.6 4.1 L249.9 4.1 L250.1 4.2 L250.4 4.2 L250.6 4.2 L250.8 4.2 L251.1 4.2 L251.3 4.2 L251.6 4.2 L251.8 4.2 L252.1 4.2 L252.3 4.2 L252.6 4.2 L252.8 4.2 L253.1 4.2 L253.3 4.2 L253.5 4.2 L253.8 4.2 L254.0 4.2 L254.3 4.2 L254.5 4.2 L254.8 4.2 L255.0 4.2 L255.3 4.1 L255.5 4.1 L255.8 4.1 L256.0 4.1 L256.2 4.1 L256.5 4.1 L256.7 4.1 L257.0 4.0 L257.2 4.0 L257.5 4.0 L257.7 4.0 L258.0 4.0 L258.2 3.9 L258.5 3.9 L258.7 3.9 L258.9 3.9 L259.2 3.8 L259.4 3.8 L259.7 3.8 L259.9 3.7 L260.2 3.7 L260.4 3.7 L260.7 3.6 L260.9 3.6 L261.2 3.6 L261.4 3.5 L261.6 3.5 L261.9 3.5 L262.1 3.4 L262.4 3.4 L262.6 3.3 L262.9 3.3 L263.1 3.3 L263.4 3.2 L263.6 3.2 L263.9 3.1 L264.1 3.1 L264.3 3.0 L264.6 3.0 L264.8 2.9 L265.1 2.9 L265.3 2.8 L265.6 2.8 L265.8 2.7 L266.1 2.7 L266.3 2.6 L266.6 2.5 L266.8 2.5 L267.0 2.4" stroke="#ff0000"/>
<path d="M80.6 44.8 L82.5 44.9 L84.4 45.5 L86.3 46.5 L88.3 47.8 L90.2 49.4 L92.1 51.4 L94.1 53.7 L96.0 56.3 L97.9 59.1 L99.9 62.2 L101.8 65.4 L103.7 68.8 L105.7 72.3 L107.6 76.0 L109.5 79.7 L111.5 83.5 L113.4 87.4 L115.3 91.2 L117.3 95.1 L119.2 99.1 L121.1 103.0 L123.1 107.0 L125.0 110.9 L126.9 114.9 L128.9 118.9 L130.8 122.9 L132.7 127.0 L134.7 131.1 L136.6 135.3 L138.5 139.5 L140.5 143.8 L142.4 148.1 L144.3 152.4 L146.3 156.8 L148.2 161.3 L150.1 165.7 L152.1 170.1 L154.0 174.6 L155.9 178.9 L157.9 183.3 L159.8 187.5 L161.7 191.7 L163.7 195.7 L165.6 199.6 L167.5 203.4 L169.5 207.0 L171.4 210.4 L173.3 213.7 L175.3 216.7 L177.2 219.6 L179.1 222.3 L181.1 224.8 L183.0 227.1 L184.9 229.3 L186.9 231.3 L188.8 233.2 L190.7 235.0 L192.6 236.7 L194.6 238.4 L196.5 239.9 L198.4 241.4 L200.4 242.9 L202.3 244.3 L204.2 245.7 L206.2 247.1 L208.1 248.5 L210.0 249.8 L212.0 251.2 L213.9 252.5 L215.8 253.8 L217.8 255.0 L219.7 256.2 L221.6 257.4 L223.6 258.5 L225.5 259.5 L227.4 260.5 L229.4 261.4 L231.3 262.3 L233.2 263.0 L235.2 263.7 L237.1 264.3 L239.0 264.8 L241.0 265.3 L242.9 265.6 L244.8 265.9 L246.8 266.2 L248.7 266.3 L250.6 266.4 L252.6 266.5 L254.5 266.4 L256.4 266.3 L258.4 266.2 L260.3 265.9 L262.2 265.6 L264.2 265.3 L266.1 264.8 L268.0 264.3 L270.0 263.7 L271.9 263.0 L273.8 262.3 L275.8 261.4 L277.7 260.5 L279.6 259.5 L281.6 258.5 L283.5 257.4 L285.4 256.2 L287.4 255.0 L289.3 253.8 L291.2 252.5 L293.2 251.2 L295.1 249.8 L297.0 248.5 L299.0 247.1 L300.9 245.7 L302.8 244.3 L304.7 242.9 L306.7 241.4 L308.6 239.9 L310.5 238.4 L312.5 236.7 L314.4 235.0 L316.3 233.2 L318.3 231.3 L320.2 229.3 L322.1 227.1 L324.1 224.8 L326.0 222.3 L327.9 219.6 L329.9 216.7 L331.8 213.7 L333.7 210.4 L335.7 207.0 L337.6 203.4 L339.5 199.6 L341.5 195.7 L343.4 191.7 L345.3 187.5 L347.3 183.3 L349.2 178.9 L351.1 174.6 L353.1 170.1 L355.0 165.7 L356.9 161.3 L358.9 156.8 L360.8 152.4 L362.7 148.1 L364.7 143.8 L366.6 139.5 L368.5 135.3 L370.5 131.1 L372.4 127.0 L374.3 122.9 L376.3 118.9 L378.2 114.9 L380.1 110.9 L382.1 107.0 L384.0 103.0 L385.9 99.1 L387.9 95.1 L389.8 91.2 L391.7 87.4 L393.7 83.5 L395.6 79.7 L397.5 76.0 L399.5 72.3 L401.4 68.8 L403.3 65.4 L405.3 62.2 L407.2 59.1 L409.1 56.3 L411.1 53.7 L413.0 51.4 L414.9 49.4 L416.8 47.8 L418.8 46.5 L420.7 45.5 L422.6 44.9 L424.6 44.8" stroke="#0000ff"/>
<path d="M80.6 126.0 L82.5 126.1 L84.4 126.5 L86.3 127.0 L88.3 127.8 L90.2 128.7 L92.1 129.8 L94.1 131.1 L96.0 132.4 L97.9 133.9 L99.9 135.4 L101.8 137.0 L103.7 138.7 L105.7 140.3 L107.6 142.0 L109.5 143.7 L111.5 145.4 L113.4 147.1 L115.3 148.9 L117.3 150.7 L119.2 152.6 L121.1 154.5 L123.1 156.6 L125.0 158.7 L126.9 161.0 L128.9 163.3 L130.8 165.8 L132.7 168.5 L134.7 171.2 L136.6 174.1 L138.5 177.1 L140.5 180.1 L142.4 183.2 L144.3 186.4 L146.3 189.6 L148.2 192.8 L150.1 196.0 L152.1 199.1 L154.0 202.3 L155.9 205.3 L157.9 208.4 L159.8 211.4 L161.7 214.3 L163.7 217.2 L165.6 220.1 L167.5 223.0 L169.5 225.9 L171.4 228.8 L173.3 231.8 L175.3 234.8 L177.2 237.9 L179.1 241.0 L181.1 244.2 L183.0 247.5 L184.9 250.8 L186.9 254.2 L188.8 257.6 L190.7 261.0 L192.6 264.4 L194.6 267.8 L196.5 271.2 L198.4 274.5 L200.4 277.7 L202.3 280.8 L204.2 283.8 L206.2 286.7 L208.1 289.5 L210.0 292.1 L212.0 294.6 L213.9 297.0 L215.8 299.3 L217.8 301.4 L219.7 303.5 L221.6 305.4 L223.6 307.3 L225.5 309.1 L227.4 310.8 L229.4 312.4 L231.3 314.0 L233.2 315.5 L235.2 316.8 L237.1 318.1 L239.0 319.3 L241.0 320.4 L242.9 321.3 L244.8 322.1 L246.8 322.7 L248.7 323.1 L250.6 323.4 L252.6 323.5 L254.5 323.4 L256.4 323.1 L258.4 322.7 L260.3 322.1 L262.2 321.3 L264.2 320.4 L266.1 319.3 L268.0 318.1 L270.0 316.8 L271.9 315.5 L273.8 314.0 L275.8 312.4 L277.7 310.8 L279.6 309.1 L281.6 307.3 L283.5 305.4 L285.4 303.5 L287.4 301.4 L289.3 299.3 L291.2 297.0 L293.2 294.6 L295.1 292.1 L297.0 289.5 L299.0 286.7 L300.9 283.8 L302.8 280.8 L304.7 277.7 L306.7 274.5 L308.6 271.2 L310.5 267.8 L312.5 264.4 L314.4 261.0 L316.3 257.6 L318.3 254.2 L320.2 250.8 L322.1 247.5 L324.1 244.2 L326.0 241.0 L327.9 237.9 L329.9 234.8 L331.8 231.8 L333.7 228.8 L335.7 225.9 L337.6 223.0 L339.5 220.1 L341.5 217.2 L343.4 214.3 L345.3 211.4 L347.3 208.4 L349.2 205.3 L351.1 202.3 L353.1 199.1 L355.0 196.0 L356.9 192.8 L358.9 189.6 L360.8 186.4 L362.7 183.2 L364.7 180.1 L366.6 177.1 L368.5 174.1 L370.5 171.2 L372.4 168.5 L374.3 165.8 L376.3 163.3 L378.2 161.0 L380.1 158.7 L382.1 156.6 L384.0 154.5 L385.9 152.6 L387.9 150.7 L389.8 148.9 L391.7 147.1 L393.7 145.4 L395.6 143.7 L397.5 142.0 L399.5 140.3 L401.4 138.7 L403.3 137.0 L405.3 135.4 L407.2 133.9 L409.1 132.4 L411.1 131.1 L413.0 129.8 L414.9 128.7 L416.8 127.8 L418.8 127.0 L420.7 126.5 L422.6 126.1 L424.6 126.0" stroke="#0000ff"/>
<path d="M80.6 151.8 L82.5 151.8 L84.4 151.9 L86.3 152.0 L88.3 152.1 L90.2 152.3 L92.1 152.6 L94.1 152.9 L96.0 153.2 L97.9 153.6 L99.9 154.0 L101.8 154.4 L103.7 154.9 L105.7 155.4 L107.6 155.9 L109.5 156.5 L111.5 157.1 L113.4 157.7 L115.3 158.3 L117.3 159.0 L119.2 159.6 L121.1 160.3 L123.1 161.0 L125.0 161.8 L126.9 162.5 L128.9 163.3 L130.8 164.1 L132.7 164.9 L134.7 165.7 L136.6 166.6 L138.5 167.4 L140.5 168.3 L142.4 169.2 L144.3 170.1 L146.3 171.1 L148.2 172.0 L150.1 173.0 L152.1 174.0 L154.0 175.0 L155.9 176.0 L157.9 177.0 L159.8 178.0 L161.7 179.1 L163.7 180.1 L165.6 181.1 L167.5 182.2 L169.5 183.2 L171.4 184.2 L173.3 185.3 L175.3 186.3 L177.2 187.3 L179.1 188.3 L181.1 189.2 L183.0 190.2 L184.9 191.1 L186.9 192.0 L188.8 192.9 L190.7 193.8 L192.6 194.7 L194.6 195.5 L196.5 196.3 L198.4 197.1 L200.4 197.8 L202.3 198.6 L204.2 199.3 L206.2 200.0 L208.1 200.6 L210.0 201.3 L212.0 201.9 L213.9 202.5 L215.8 203.1 L217.8 203.7 L219.7 204.2 L221.6 204.7 L223.6 205.2 L225.5 205.7 L227.4 206.1 L229.4 206.6 L231.3 206.9 L233.2 207.3 L235.2 207.6 L237.1 207.9 L239.0 208.2 L241.0 208.5 L242.9 208.7 L244.8 208.8 L246.8 209.0 L248.7 209.0 L250.6 209.1 L252.6 209.1 L254.5 209.1 L256.4 209.0 L258.4 209.0 L260.3 208.8 L262.2 208.7 L264.2 208.5 L266.1 208.2 L268.0 207.9 L270.0 207.6 L271.9 207.3 L273.8 206.9 L275.8 206.6 L277.7 206.1 L279.6 205.7 L281.6 205.2 L283.5 204.7 L285.4 204.2 L287.4 203.7 L289.3 203.1 L291.2 202.5 L293.2 201.9 L295.1 201.3 L297.0 200.6 L299.0 200.0 L300.9 199.3 L302.8 198.6 L304.7 197.8 L306.7 197.1 L308.6 196.3 L310.5 195.5 L312.5 194.7 L314.4 193.8 L316.3 192.9 L318.3 192.0 L320.2 191.1 L322.1 190.2 L324.1 189.2 L326.0 188.3 L327.9 187.3 L329.9 186.3 L331.8 185.3 L333.7 184.2 L335.7 183.2 L337.6 182.2 L339.5 181.1 L341.5 180.1 L343.4 179.1 L345.3 178.0 L347.3 177.0 L349.2 176.0 L351.1 175.0 L353.1 174.0 L355.0 173.0 L356.9 172.0 L358.9 171.1 L360.8 170.1 L362.7 169.2 L364.7 168.3 L366.6 167.4 L368.5 166.6 L370.5 165.7 L372.4 164.9 L374.3 164.1 L376.3 163.3 L378.2 162.5 L380.1 161.8 L382.1 161.0 L384.0 160.3 L385.9 159.6 L387.9 159.0 L389.8 158.3 L391.7 157.7 L393.7 157.1 L395.6 156.5 L397.5 155.9 L399.5 155.4 L401.4 154.9 L403.3 154.4 L405.3 154.0 L407.2 153.6 L409.1 153.2 L411.1 152.9 L413.0 152.6 L414.9 152.3 L416.8 152.1 L418.8 152.0 L420.7 151.9 L422.6 151.8 L424.6 151.8" stroke="#0000ff"/>
<path d="M80.6 286.6 L82.5 286.6 L84.4 286.5 L86.3 286.3 L88.3 286.1 L90.2 285.8 L92.1 285.5 L94.1 285.0 L96.0 284.6 L97.9 284.0 L99.9 283.4 L101.8 282.7 L103.7 281.9 L105.7 281.1 L107.6 280.2 L109.5 279.3 L111.5 278.3 L113.4 277.2 L115.3 276.1 L117.3 274.9 L119.2 273.7 L121.1 272.4 L123.1 271.0 L125.0 269.7 L126.9 268.3 L128.9 266.8 L130.8 265.3 L132.7 263.8 L134.7 262.2 L136.6 260.6 L138.5 259.0 L140.5 257.3 L142.4 255.6 L144.3 253.9 L146.3 252.1 L148.2 250.3 L150.1 248.5 L152.1 246.6 L154.0 244.6 L155.9 242.7 L157.9 240.6 L159.8 238.6 L161.7 236.5 L163.7 234.3 L165.6 232.2 L167.5 230.0 L169.5 227.7 L171.4 225.5 L173.3 223.2 L175.3 220.9 L177.2 218.6 L179.1 216.4 L181.1 214.1 L183.0 211.9 L184.9 209.7 L186.9 207.6 L188.8 205.5 L190.7 203.5 L192.6 201.6 L194.6 199.8 L196.5 198.0 L198.4 196.3 L200.4 194.8 L202.3 193.3 L204.2 191.9 L206.2 190.7 L208.1 189.5 L210.0 188.5 L212.0 187.5 L213.9 186.7 L215.8 185.9 L217.8 185.2 L219.7 184.6 L221.6 184.1 L223.6 183.7 L225.5 183.3 L227.4 183.0 L229.4 182.8 L231.3 182.5 L233.2 182.4 L235.2 182.2 L237.1 182.1 L239.0 182.0 L241.0 182.0 L242.9 181.9 L244.8 181.9 L246.8 181.9 L248.7 181.9 L250.6 181.8 L252.6 181.8 L254.5 181.8 L256.4 181.9 L258.4 181.9 L260.3 181.9 L262.2 181.9 L264.2 182.0 L266.1 182.0 L268.0 182.1 L270.0 182.2 L271.9 182.4 L273.8 182.5 L275.8 182.8 L277.7 183.0 L279.6 183.3 L281.6 183.7 L283.5 184.1 L285.4 184.6 L287.4 185.2 L289.3 185.9 L291.2 186.7 L293.2 187.5 L295.1 188.5 L297.0 189.5 L299.0 190.7 L300.9 191.9 L302.8 193.3 L304.7 194.8 L306.7 196.3 L308.6 198.0 L310.5 199.8 L312.5 201.6 L314.4 203.5 L316.3 205.5 L318.3 207.6 L320.2 209.7 L322.1 211.9 L324.1 214.1 L326.0 216.4 L327.9 218.6 L329.9 220.9 L331.8 223.2 L333.7 225.5 L335.7 227.7 L337.6 230.0 L339.5 232.2 L341.5 234.3 L343.4 236.5 L345.3 238.6 L347.3 240.6 L349.2 242.7 L351.1 244.6 L353.1 246.6 L355.0 248.5 L356.9 250.3 L358.9 252.1 L360.8 253.9 L362.7 255.6 L364.7 257.3 L366.6 259.0 L368.5 260.6 L370.5 262.2 L372.4 263.8 L374.3 265.3 L376.3 266.8 L378.2 268.3 L380.1 269.7 L382.1 271.0 L384.0 272.4 L385.9 273.7 L387.9 274.9 L389.8 276.1 L391.7 277.2 L393.7 278.3 L395.6 279.3 L397.5 280.2 L399.5 281.1 L401.4 281.9 L403.3 282.7 L405.3 283.4 L407.2 284.0 L409.1 284.6 L411.1 285.0 L413.0 285.5 L414.9 285.8 L416.8 286.1 L418.8 286.3 L420.7 286.5 L422.6 286.6 L424.6 286.6" stroke="#0000ff"/>
<path d="M125.8 -22.8 L127.9 -16.0 L130.1 -9.6 L132.2 -3.4 L134.4 2.4 L136.5 8.1 L138.7 13.5 L140.8 18.6 L143.0 23.6 L145.1 28.3 L147.3 32.9 L149.4 37.2 L151.6 41.4 L153.7 45.5 L155.9 49.4 L158.0 53.1 L160.1 56.8 L162.3 60.3 L164.4 63.6 L166.6 66.9 L168.7 70.1 L170.9 73.1 L173.0 76.1 L175.2 78.9 L177.3 81.7 L179.5 84.3 L181.6 86.9 L183.8 89.4 L185.9 91.9 L188.1 94.2 L190.2 96.5 L192.4 98.6 L194.5 100.7 L196.7 102.8 L198.8 104.7 L201.0 106.6 L203.1 108.4 L205.3 110.2 L207.4 111.8 L209.6 113.4 L211.7 114.9 L213.9 116.4 L216.0 117.7 L218.2 119.0 L220.3 120.2 L222.5 121.4 L224.6 122.4 L226.8 123.4 L228.9 124.3 L231.1 125.2 L233.2 125.9 L235.4 126.6 L237.5 127.2 L239.7 127.7 L241.8 128.2 L244.0 128.5 L246.1 128.8 L248.3 129.0 L250.4 129.1 L252.6 129.2 L254.7 129.1 L256.9 129.0 L259.0 128.8 L261.2 128.5 L263.3 128.2 L265.5 127.7 L267.6 127.2 L269.8 126.6 L271.9 125.9 L274.1 125.2 L276.2 124.3 L278.4 123.4 L280.5 122.4 L282.7 121.4 L284.8 120.2 L287.0 119.0 L289.1 117.7 L291.3 116.4 L293.4 114.9 L295.5 113.4 L297.7 111.8 L299.8 110.2 L302.0 108.4 L304.1 106.6 L306.3 104.7 L308.4 102.8 L310.6 100.7 L312.7 98.6 L314.9 96.5 L317.0 94.2 L319.2 91.9 L321.3 89.4 L323.5 86.9 L325.6 84.3 L327.8 81.7 L329.9 78.9 L332.1 76.1 L334.2 73.1 L336.4 70.1 L338.5 66.9 L340.7 63.6 L342.8 60.3 L345.0 56.8 L347.1 53.1 L349.3 49.4 L351.4 45.5 L353.6 41.4 L355.7 37.2 L357.9 32.9 L360.0 28.3 L362.2 23.6 L364.3 18.6 L366.5 13.5 L368.6 8.1 L370.8 2.4 L372.9 -3.4 L375.1 -9.6 L377.2 -16.0 L379.4 -22.8" stroke="#0000ff"/>
<path d="M134.3 -26.4 L136.3 -18.5 L138.3 -11.2 L140.3 -4.3 L142.3 2.1 L144.4 8.1 L146.4 13.6 L148.4 18.9 L150.4 23.8 L152.4 28.4 L154.4 32.7 L156.4 36.7 L158.4 40.6 L160.4 44.2 L162.4 47.6 L164.4 50.8 L166.4 53.9 L168.4 56.8 L170.4 59.6 L172.4 62.2 L174.4 64.8 L176.4 67.2 L178.4 69.5 L180.4 71.8 L182.4 73.9 L184.4 76.0 L186.4 78.0 L188.4 79.9 L190.4 81.8 L192.4 83.6 L194.5 85.4 L196.5 87.1 L198.5 88.7 L200.5 90.3 L202.5 91.9 L204.5 93.4 L206.5 94.8 L208.5 96.2 L210.5 97.6 L212.5 98.9 L214.5 100.1 L216.5 101.3 L218.5 102.4 L220.5 103.5 L222.5 104.5 L224.5 105.5 L226.5 106.4 L228.5 107.2 L230.5 108.0 L232.5 108.7 L234.5 109.4 L236.5 110.0 L238.5 110.5 L240.5 110.9 L242.5 111.3 L244.5 111.6 L246.6 111.9 L248.6 112.0 L250.6 112.2 L252.6 112.2 L254.6 112.2 L256.6 112.0 L258.6 111.9 L260.6 111.6 L262.6 111.3 L264.6 110.9 L266.6 110.5 L268.6 110.0 L270.6 109.4 L272.6 108.7 L274.6 108.0 L276.6 107.2 L278.6 106.4 L280.6 105.5 L282.6 104.5 L284.6 103.5 L286.6 102.4 L288.6 101.3 L290.6 100.1 L292.6 98.9 L294.6 97.6 L296.7 96.2 L298.7 94.8 L300.7 93.4 L302.7 91.9 L304.7 90.3 L306.7 88.7 L308.7 87.1 L310.7 85.4 L312.7 83.6 L314.7 81.8 L316.7 79.9 L318.7 78.0 L320.7 76.0 L322.7 73.9 L324.7 71.8 L326.7 69.5 L328.7 67.2 L330.7 64.8 L332.7 62.2 L334.7 59.6 L336.7 56.8 L338.7 53.9 L340.7 50.8 L342.7 47.6 L344.7 44.2 L346.8 40.6 L348.8 36.7 L350.8 32.7 L352.8 28.4 L354.8 23.8 L356.8 18.9 L358.8 13.6 L360.8 8.1 L362.8 2.1 L364.8 -4.3 L366.8 -11.2 L368.8 -18.5 L370.8 -26.4" stroke="#0000ff"/>
<path d="M139.6 -13.2 L141.5 -9.2 L143.4 -5.3 L145.4 -1.5 L147.3 2.3 L149.2 6.0 L151.1 9.6 L153.0 13.2 L154.9 16.7 L156.8 20.1 L158.8 23.5 L160.7 26.7 L162.6 30.0 L164.5 33.1 L166.4 36.2 L168.3 39.2 L170.2 42.2 L172.2 45.1 L174.1 47.9 L176.0 50.6 L177.9 53.3 L179.8 55.9 L181.7 58.5 L183.6 61.0 L185.6 63.4 L187.5 65.7 L189.4 68.0 L191.3 70.2 L193.2 72.3 L195.1 74.4 L197.0 76.4 L199.0 78.3 L200.9 80.2 L202.8 82.0 L204.7 83.7 L206.6 85.4 L208.5 87.0 L210.4 88.5 L212.4 90.0 L214.3 91.4 L216.2 92.7 L218.1 94.0 L220.0 95.1 L221.9 96.3 L223.9 97.3 L225.8 98.3 L227.7 99.2 L229.6 100.1 L231.5 100.9 L233.4 101.6 L235.3 102.2 L237.3 102.8 L239.2 103.3 L241.1 103.7 L243.0 104.1 L244.9 104.4 L246.8 104.7 L248.7 104.8 L250.7 104.9 L252.6 105.0 L254.5 104.9 L256.4 104.8 L258.3 104.7 L260.2 104.4 L262.1 104.1 L264.1 103.7 L266.0 103.3 L267.9 102.8 L269.8 102.2 L271.7 101.6 L273.6 100.9 L275.5 100.1 L277.5 99.2 L279.4 98.3 L281.3 97.3 L283.2 96.3 L285.1 95.1 L287.0 94.0 L288.9 92.7 L290.9 91.4 L292.8 90.0 L294.7 88.5 L296.6 87.0 L298.5 85.4 L300.4 83.7 L302.3 82.0 L304.3 80.2 L306.2 78.3 L308.1 76.4 L310.0 74.4 L311.9 72.3 L313.8 70.2 L315.7 68.0 L317.7 65.7 L319.6 63.4 L321.5 61.0 L323.4 58.5 L325.3 55.9 L327.2 53.3 L329.1 50.6 L331.1 47.9 L333.0 45.1 L334.9 42.2 L336.8 39.2 L338.7 36.2 L340.6 33.1 L342.5 30.0 L344.5 26.7 L346.4 23.5 L348.3 20.1 L350.2 16.7 L352.1 13.2 L354.0 9.6 L355.9 6.0 L357.9 2.3 L359.8 -1.5 L361.7 -5.3 L363.6 -9.2 L365.5 -13.2" stroke="#0000ff"/>
<path d="M141.4 -12.8 L143.3 -9.0 L145.2 -5.2 L147.1 -1.4 L149.0 2.2 L150.9 5.8 L152.7 9.4 L154.6 12.8 L156.5 16.2 L158.4 19.6 L160.3 22.9 L162.2 26.1 L164.0 29.2 L165.9 32.3 L167.8 35.3 L169.7 38.2 L171.6 41.1 L173.5 43.9 L175.3 46.6 L177.2 49.3 L179.1 51.9 L181.0 54.5 L182.9 56.9 L184.8 59.4 L186.6 61.7 L188.5 64.0 L190.4 66.2 L192.3 68.3 L194.2 70.4 L196.1 72.4 L197.9 74.4 L199.8 76.3 L201.7 78.1 L203.6 79.8 L205.5 81.5 L207.4 83.1 L209.2 84.7 L211.1 86.2 L213.0 87.6 L214.9 89.0 L216.8 90.2 L218.7 91.5 L220.5 92.6 L222.4 93.7 L224.3 94.7 L226.2 95.7 L228.1 96.6 L230.0 97.4 L231.8 98.2 L233.7 98.9 L235.6 99.5 L237.5 100.1 L239.4 100.6 L241.3 101.0 L243.1 101.3 L245.0 101.6 L246.9 101.9 L248.8 102.0 L250.7 102.1 L252.6 102.2 L254.4 102.1 L256.3 102.0 L258.2 101.9 L260.1 101.6 L262.0 101.3 L263.9 101.0 L265.7 100.6 L267.6 100.1 L269.5 99.5 L271.4 98.9 L273.3 98.2 L275.2 97.4 L277.0 96.6 L278.9 95.7 L280.8 94.7 L282.7 93.7 L284.6 92.6 L286.5 91.5 L288.3 90.2 L290.2 89.0 L292.1 87.6 L294.0 86.2 L295.9 84.7 L297.8 83.1 L299.7 81.5 L301.5 79.8 L303.4 78.1 L305.3 76.3 L307.2 74.4 L309.1 72.4 L311.0 70.4 L312.8 68.3 L314.7 66.2 L316.6 64.0 L318.5 61.7 L320.4 59.4 L322.3 56.9 L324.1 54.5 L326.0 51.9 L327.9 49.3 L329.8 46.6 L331.7 43.9 L333.6 41.1 L335.4 38.2 L337.3 35.3 L339.2 32.3 L341.1 29.2 L343.0 26.1 L344.9 22.9 L346.7 19.6 L348.6 16.2 L350.5 12.8 L352.4 9.4 L354.3 5.8 L356.2 2.2 L358.0 -1.4 L359.9 -5.2 L361.8 -9.0 L363.7 -12.8" stroke="#0000ff"/>
<path d="M143.6 -12.2 L145.5 -8.5 L147.3 -4.8 L149.2 -1.3 L151.0 2.2 L152.9 5.6 L154.7 9.0 L156.6 12.3 L158.4 15.6 L160.2 18.8 L162.1 21.9 L163.9 24.9 L165.8 27.9 L167.6 30.9 L169.5 33.7 L171.3 36.5 L173.2 39.3 L175.0 41.9 L176.9 44.6 L178.7 47.1 L180.6 49.6 L182.4 52.0 L184.3 54.4 L186.1 56.7 L187.9 58.9 L189.8 61.1 L191.6 63.2 L193.5 65.3 L195.3 67.2 L197.2 69.2 L199.0 71.0 L200.9 72.8 L202.7 74.6 L204.6 76.2 L206.4 77.8 L208.3 79.4 L210.1 80.9 L211.9 82.3 L213.8 83.6 L215.6 84.9 L217.5 86.1 L219.3 87.3 L221.2 88.4 L223.0 89.5 L224.9 90.4 L226.7 91.3 L228.6 92.2 L230.4 93.0 L232.3 93.7 L234.1 94.4 L235.9 95.0 L237.8 95.5 L239.6 96.0 L241.5 96.4 L243.3 96.7 L245.2 97.0 L247.0 97.2 L248.9 97.4 L250.7 97.5 L252.6 97.5 L254.4 97.5 L256.3 97.4 L258.1 97.2 L260.0 97.0 L261.8 96.7 L263.6 96.4 L265.5 96.0 L267.3 95.5 L269.2 95.0 L271.0 94.4 L272.9 93.7 L274.7 93.0 L276.6 92.2 L278.4 91.3 L280.3 90.4 L282.1 89.5 L284.0 88.4 L285.8 87.3 L287.6 86.1 L289.5 84.9 L291.3 83.6 L293.2 82.3 L295.0 80.9 L296.9 79.4 L298.7 77.8 L300.6 76.2 L302.4 74.6 L304.3 72.8 L306.1 71.0 L308.0 69.2 L309.8 67.2 L311.6 65.3 L313.5 63.2 L315.3 61.1 L317.2 58.9 L319.0 56.7 L320.9 54.4 L322.7 52.0 L324.6 49.6 L326.4 47.1 L328.3 44.6 L330.1 41.9 L332.0 39.3 L333.8 36.5 L335.6 33.7 L337.5 30.9 L339.3 27.9 L341.2 24.9 L343.0 21.9 L344.9 18.8 L346.7 15.6 L348.6 12.3 L350.4 9.0 L352.3 5.6 L354.1 2.2 L356.0 -1.3 L357.8 -4.8 L359.7 -8.5 L361.5 -12.2" stroke="#0000ff"/>
<path d="M155.8 -9.9 L157.5 -6.8 L159.1 -3.8 L160.8 -0.9 L162.4 2.0 L164.0 4.9 L165.7 7.7 L167.3 10.4 L169.0 13.1 L170.6 15.7 L172.2 18.3 L173.9 20.9 L175.5 23.4 L177.2 25.8 L178.8 28.2 L180.4 30.5 L182.1 32.8 L183.7 35.0 L185.4 37.2 L187.0 39.3 L188.6 41.3 L190.3 43.3 L191.9 45.3 L193.6 47.2 L195.2 49.1 L196.8 50.9 L198.5 52.6 L200.1 54.3 L201.7 56.0 L203.4 57.6 L205.0 59.1 L206.7 60.6 L208.3 62.0 L209.9 63.4 L211.6 64.8 L213.2 66.0 L214.9 67.3 L216.5 68.4 L218.1 69.6 L219.8 70.6 L221.4 71.7 L223.1 72.6 L224.7 73.5 L226.3 74.4 L228.0 75.2 L229.6 76.0 L231.3 76.7 L232.9 77.3 L234.5 77.9 L236.2 78.5 L237.8 79.0 L239.5 79.4 L241.1 79.8 L242.7 80.1 L244.4 80.4 L246.0 80.7 L247.6 80.9 L249.3 81.0 L250.9 81.1 L252.6 81.1 L254.2 81.1 L255.8 81.0 L257.5 80.9 L259.1 80.7 L260.8 80.4 L262.4 80.1 L264.0 79.8 L265.7 79.4 L267.3 79.0 L269.0 78.5 L270.6 77.9 L272.2 77.3 L273.9 76.7 L275.5 76.0 L277.2 75.2 L278.8 74.4 L280.4 73.5 L282.1 72.6 L283.7 71.7 L285.4 70.6 L287.0 69.6 L288.6 68.4 L290.3 67.3 L291.9 66.0 L293.5 64.8 L295.2 63.4 L296.8 62.0 L298.5 60.6 L300.1 59.1 L301.7 57.6 L303.4 56.0 L305.0 54.3 L306.7 52.6 L308.3 50.9 L309.9 49.1 L311.6 47.2 L313.2 45.3 L314.9 43.3 L316.5 41.3 L318.1 39.3 L319.8 37.2 L321.4 35.0 L323.1 32.8 L324.7 30.5 L326.3 28.2 L328.0 25.8 L329.6 23.4 L331.3 20.9 L332.9 18.3 L334.5 15.7 L336.2 13.1 L337.8 10.4 L339.4 7.7 L341.1 4.9 L342.7 2.0 L344.4 -0.9 L346.0 -3.8 L347.6 -6.8 L349.3 -9.9" stroke="#0000ff"/>
<path d="M157.1 -8.8 L158.7 -6.0 L160.4 -3.3 L162.0 -0.6 L163.6 2.1 L165.2 4.7 L166.8 7.2 L168.4 9.7 L170.1 12.2 L171.7 14.6 L173.3 17.0 L174.9 19.3 L176.5 21.5 L178.2 23.8 L179.8 25.9 L181.4 28.1 L183.0 30.1 L184.6 32.2 L186.2 34.1 L187.9 36.1 L189.5 38.0 L191.1 39.8 L192.7 41.6 L194.3 43.3 L195.9 45.0 L197.6 46.7 L199.2 48.3 L200.8 49.8 L202.4 51.3 L204.0 52.8 L205.7 54.2 L207.3 55.6 L208.9 56.9 L210.5 58.1 L212.1 59.4 L213.7 60.5 L215.4 61.6 L217.0 62.7 L218.6 63.7 L220.2 64.7 L221.8 65.7 L223.4 66.5 L225.1 67.4 L226.7 68.2 L228.3 68.9 L229.9 69.6 L231.5 70.2 L233.2 70.8 L234.8 71.4 L236.4 71.9 L238.0 72.3 L239.6 72.7 L241.2 73.1 L242.9 73.4 L244.5 73.7 L246.1 73.9 L247.7 74.1 L249.3 74.2 L250.9 74.2 L252.6 74.3 L254.2 74.2 L255.8 74.2 L257.4 74.1 L259.0 73.9 L260.7 73.7 L262.3 73.4 L263.9 73.1 L265.5 72.7 L267.1 72.3 L268.7 71.9 L270.4 71.4 L272.0 70.8 L273.6 70.2 L275.2 69.6 L276.8 68.9 L278.4 68.2 L280.1 67.4 L281.7 66.5 L283.3 65.7 L284.9 64.7 L286.5 63.7 L288.2 62.7 L289.8 61.6 L291.4 60.5 L293.0 59.4 L294.6 58.1 L296.2 56.9 L297.9 55.6 L299.5 54.2 L301.1 52.8 L302.7 51.3 L304.3 49.8 L305.9 48.3 L307.6 46.7 L309.2 45.0 L310.8 43.3 L312.4 41.6 L314.0 39.8 L315.7 38.0 L317.3 36.1 L318.9 34.1 L320.5 32.2 L322.1 30.1 L323.7 28.1 L325.4 25.9 L327.0 23.8 L328.6 21.5 L330.2 19.3 L331.8 17.0 L333.4 14.6 L335.1 12.2 L336.7 9.7 L338.3 7.2 L339.9 4.7 L341.5 2.1 L343.2 -0.6 L344.8 -3.3 L346.4 -6.0 L348.0 -8.8" stroke="#0000ff"/>
<path d="M161.1 -7.3 L162.7 -4.9 L164.2 -2.5 L165.8 -0.2 L167.3 2.1 L168.9 4.3 L170.4 6.6 L172.0 8.7 L173.5 10.9 L175.1 13.0 L176.6 15.0 L178.2 17.0 L179.7 19.0 L181.3 20.9 L182.8 22.8 L184.4 24.6 L185.9 26.4 L187.5 28.2 L189.0 29.9 L190.6 31.6 L192.1 33.2 L193.7 34.8 L195.2 36.3 L196.8 37.9 L198.3 39.3 L199.9 40.8 L201.4 42.1 L203.0 43.5 L204.5 44.8 L206.1 46.0 L207.6 47.3 L209.2 48.4 L210.7 49.6 L212.3 50.7 L213.8 51.7 L215.4 52.7 L216.9 53.7 L218.5 54.6 L220.0 55.5 L221.6 56.4 L223.1 57.2 L224.7 58.0 L226.2 58.7 L227.8 59.4 L229.3 60.0 L230.9 60.6 L232.4 61.2 L234.0 61.7 L235.5 62.2 L237.1 62.6 L238.6 63.0 L240.2 63.3 L241.7 63.6 L243.3 63.9 L244.8 64.1 L246.4 64.3 L247.9 64.5 L249.5 64.6 L251.0 64.6 L252.6 64.7 L254.1 64.6 L255.7 64.6 L257.2 64.5 L258.8 64.3 L260.3 64.1 L261.9 63.9 L263.4 63.6 L265.0 63.3 L266.5 63.0 L268.1 62.6 L269.6 62.2 L271.2 61.7 L272.7 61.2 L274.3 60.6 L275.8 60.0 L277.4 59.4 L278.9 58.7 L280.5 58.0 L282.0 57.2 L283.6 56.4 L285.1 55.5 L286.7 54.6 L288.2 53.7 L289.8 52.7 L291.3 51.7 L292.9 50.7 L294.4 49.6 L296.0 48.4 L297.5 47.3 L299.1 46.0 L300.6 44.8 L302.2 43.5 L303.7 42.1 L305.3 40.8 L306.8 39.3 L308.4 37.9 L309.9 36.3 L311.5 34.8 L313.0 33.2 L314.6 31.6 L316.1 29.9 L317.7 28.2 L319.2 26.4 L320.7 24.6 L322.3 22.8 L323.8 20.9 L325.4 19.0 L326.9 17.0 L328.5 15.0 L330.0 13.0 L331.6 10.9 L333.1 8.7 L334.7 6.6 L336.2 4.3 L337.8 2.1 L339.3 -0.2 L340.9 -2.5 L342.4 -4.9 L344.0 -7.3" stroke="#0000ff"/>
<path d="M177.0 -4.7 L178.3 -3.0 L179.6 -1.3 L180.8 0.4 L182.1 2.0 L183.4 3.6 L184.7 5.2 L186.0 6.7 L187.2 8.2 L188.5 9.7 L189.8 11.1 L191.1 12.6 L192.4 14.0 L193.6 15.3 L194.9 16.7 L196.2 18.0 L197.5 19.2 L198.8 20.5 L200.1 21.7 L201.3 22.9 L202.6 24.1 L203.9 25.2 L205.2 26.3 L206.5 27.4 L207.7 28.4 L209.0 29.4 L210.3 30.4 L211.6 31.3 L212.9 32.3 L214.1 33.2 L215.4 34.0 L216.7 34.9 L218.0 35.7 L219.3 36.5 L220.5 37.2 L221.8 37.9 L223.1 38.6 L224.4 39.3 L225.7 39.9 L226.9 40.5 L228.2 41.1 L229.5 41.6 L230.8 42.1 L232.1 42.6 L233.4 43.1 L234.6 43.5 L235.9 43.9 L237.2 44.3 L238.5 44.6 L239.8 44.9 L241.0 45.2 L242.3 45.4 L243.6 45.7 L244.9 45.8 L246.2 46.0 L247.4 46.1 L248.7 46.2 L250.0 46.3 L251.3 46.4 L252.6 46.4 L253.8 46.4 L255.1 46.3 L256.4 46.2 L257.7 46.1 L259.0 46.0 L260.2 45.8 L261.5 45.7 L262.8 45.4 L264.1 45.2 L265.4 44.9 L266.7 44.6 L267.9 44.3 L269.2 43.9 L270.5 43.5 L271.8 43.1 L273.1 42.6 L274.3 42.1 L275.6 41.6 L276.9 41.1 L278.2 40.5 L279.5 39.9 L280.7 39.3 L282.0 38.6 L283.3 37.9 L284.6 37.2 L285.9 36.5 L287.1 35.7 L288.4 34.9 L289.7 34.0 L291.0 33.2 L292.3 32.3 L293.6 31.3 L294.8 30.4 L296.1 29.4 L297.4 28.4 L298.7 27.4 L300.0 26.3 L301.2 25.2 L302.5 24.1 L303.8 22.9 L305.1 21.7 L306.4 20.5 L307.6 19.2 L308.9 18.0 L310.2 16.7 L311.5 15.3 L312.8 14.0 L314.0 12.6 L315.3 11.1 L316.6 9.7 L317.9 8.2 L319.2 6.7 L320.4 5.2 L321.7 3.6 L323.0 2.0 L324.3 0.4 L325.6 -1.3 L326.9 -3.0 L328.1 -4.7" stroke="#0000ff"/>
<path d="M179.7 -4.6 L181.0 -2.9 L182.2 -1.3 L183.4 0.3 L184.7 1.9 L185.9 3.5 L187.1 5.0 L188.4 6.6 L189.6 8.0 L190.8 9.5 L192.1 10.9 L193.3 12.3 L194.5 13.7 L195.8 15.0 L197.0 16.3 L198.3 17.6 L199.5 18.9 L200.7 20.1 L202.0 21.3 L203.2 22.4 L204.4 23.6 L205.7 24.7 L206.9 25.8 L208.1 26.8 L209.4 27.8 L210.6 28.8 L211.8 29.8 L213.1 30.7 L214.3 31.6 L215.5 32.5 L216.8 33.3 L218.0 34.2 L219.2 35.0 L220.5 35.7 L221.7 36.5 L222.9 37.2 L224.2 37.8 L225.4 38.5 L226.6 39.1 L227.9 39.7 L229.1 40.2 L230.3 40.8 L231.6 41.3 L232.8 41.8 L234.0 42.2 L235.3 42.6 L236.5 43.0 L237.8 43.4 L239.0 43.7 L240.2 44.0 L241.5 44.3 L242.7 44.5 L243.9 44.7 L245.2 44.9 L246.4 45.1 L247.6 45.2 L248.9 45.3 L250.1 45.4 L251.3 45.4 L252.6 45.4 L253.8 45.4 L255.0 45.4 L256.3 45.3 L257.5 45.2 L258.7 45.1 L260.0 44.9 L261.2 44.7 L262.4 44.5 L263.7 44.3 L264.9 44.0 L266.1 43.7 L267.4 43.4 L268.6 43.0 L269.8 42.6 L271.1 42.2 L272.3 41.8 L273.6 41.3 L274.8 40.8 L276.0 40.2 L277.3 39.7 L278.5 39.1 L279.7 38.5 L281.0 37.8 L282.2 37.2 L283.4 36.5 L284.7 35.7 L285.9 35.0 L287.1 34.2 L288.4 33.3 L289.6 32.5 L290.8 31.6 L292.1 30.7 L293.3 29.8 L294.5 28.8 L295.8 27.8 L297.0 26.8 L298.2 25.8 L299.5 24.7 L300.7 23.6 L301.9 22.4 L303.2 21.3 L304.4 20.1 L305.6 18.9 L306.9 17.6 L308.1 16.3 L309.3 15.0 L310.6 13.7 L311.8 12.3 L313.1 10.9 L314.3 9.5 L315.5 8.0 L316.8 6.6 L318.0 5.0 L319.2 3.5 L320.5 1.9 L321.7 0.3 L322.9 -1.3 L324.2 -2.9 L325.4 -4.6" stroke="#0000ff"/>
<path d="M183.2 -3.8 L184.4 -2.3 L185.5 -0.9 L186.7 0.6 L187.9 2.0 L189.1 3.4 L190.3 4.7 L191.4 6.0 L192.6 7.3 L193.8 8.6 L195.0 9.9 L196.1 11.1 L197.3 12.3 L198.5 13.5 L199.7 14.6 L200.8 15.7 L202.0 16.8 L203.2 17.9 L204.4 18.9 L205.5 20.0 L206.7 21.0 L207.9 21.9 L209.1 22.9 L210.2 23.8 L211.4 24.7 L212.6 25.6 L213.8 26.4 L214.9 27.2 L216.1 28.0 L217.3 28.8 L218.5 29.6 L219.6 30.3 L220.8 31.0 L222.0 31.6 L223.2 32.3 L224.3 32.9 L225.5 33.5 L226.7 34.1 L227.9 34.6 L229.1 35.1 L230.2 35.6 L231.4 36.1 L232.6 36.5 L233.8 36.9 L234.9 37.3 L236.1 37.7 L237.3 38.0 L238.5 38.4 L239.6 38.6 L240.8 38.9 L242.0 39.1 L243.2 39.4 L244.3 39.6 L245.5 39.7 L246.7 39.9 L247.9 40.0 L249.0 40.1 L250.2 40.1 L251.4 40.2 L252.6 40.2 L253.7 40.2 L254.9 40.1 L256.1 40.1 L257.3 40.0 L258.4 39.9 L259.6 39.7 L260.8 39.6 L262.0 39.4 L263.1 39.1 L264.3 38.9 L265.5 38.6 L266.7 38.4 L267.8 38.0 L269.0 37.7 L270.2 37.3 L271.4 36.9 L272.6 36.5 L273.7 36.1 L274.9 35.6 L276.1 35.1 L277.3 34.6 L278.4 34.1 L279.6 33.5 L280.8 32.9 L282.0 32.3 L283.1 31.6 L284.3 31.0 L285.5 30.3 L286.7 29.6 L287.8 28.8 L289.0 28.0 L290.2 27.2 L291.4 26.4 L292.5 25.6 L293.7 24.7 L294.9 23.8 L296.1 22.9 L297.2 21.9 L298.4 21.0 L299.6 20.0 L300.8 18.9 L301.9 17.9 L303.1 16.8 L304.3 15.7 L305.5 14.6 L306.6 13.5 L307.8 12.3 L309.0 11.1 L310.2 9.9 L311.4 8.6 L312.5 7.3 L313.7 6.0 L314.9 4.7 L316.1 3.4 L317.2 2.0 L318.4 0.6 L319.6 -0.9 L320.8 -2.3 L321.9 -3.8" stroke="#0000ff"/>
<path d="M191.6 -2.4 L192.6 -1.3 L193.7 -0.2 L194.7 0.9 L195.7 2.0 L196.8 3.1 L197.8 4.1 L198.8 5.1 L199.9 6.1 L200.9 7.1 L201.9 8.1 L203.0 9.0 L204.0 10.0 L205.0 10.9 L206.1 11.8 L207.1 12.6 L208.1 13.5 L209.2 14.3 L210.2 15.1 L211.2 15.9 L212.3 16.7 L213.3 17.4 L214.3 18.1 L215.4 18.9 L216.4 19.5 L217.4 20.2 L218.5 20.9 L219.5 21.5 L220.5 22.1 L221.6 22.7 L222.6 23.3 L223.6 23.8 L224.7 24.4 L225.7 24.9 L226.7 25.4 L227.8 25.9 L228.8 26.3 L229.8 26.8 L230.9 27.2 L231.9 27.6 L232.9 28.0 L234.0 28.3 L235.0 28.7 L236.0 29.0 L237.1 29.3 L238.1 29.6 L239.1 29.8 L240.2 30.1 L241.2 30.3 L242.2 30.5 L243.3 30.7 L244.3 30.9 L245.3 31.0 L246.4 31.1 L247.4 31.2 L248.4 31.3 L249.5 31.4 L250.5 31.5 L251.5 31.5 L252.6 31.5 L253.6 31.5 L254.6 31.5 L255.7 31.4 L256.7 31.3 L257.7 31.2 L258.8 31.1 L259.8 31.0 L260.8 30.9 L261.9 30.7 L262.9 30.5 L263.9 30.3 L265.0 30.1 L266.0 29.8 L267.0 29.6 L268.1 29.3 L269.1 29.0 L270.1 28.7 L271.2 28.3 L272.2 28.0 L273.2 27.6 L274.3 27.2 L275.3 26.8 L276.3 26.3 L277.4 25.9 L278.4 25.4 L279.4 24.9 L280.5 24.4 L281.5 23.8 L282.5 23.3 L283.6 22.7 L284.6 22.1 L285.6 21.5 L286.7 20.9 L287.7 20.2 L288.7 19.5 L289.8 18.9 L290.8 18.1 L291.8 17.4 L292.9 16.7 L293.9 15.9 L294.9 15.1 L296.0 14.3 L297.0 13.5 L298.0 12.6 L299.1 11.8 L300.1 10.9 L301.1 10.0 L302.2 9.0 L303.2 8.1 L304.2 7.1 L305.3 6.1 L306.3 5.1 L307.3 4.1 L308.4 3.1 L309.4 2.0 L310.4 0.9 L311.5 -0.2 L312.5 -1.3 L313.5 -2.4" stroke="#0000ff"/>
<path d="M194.0 -2.2 L194.9 -1.1 L195.9 -0.0 L196.9 1.0 L197.9 2.0 L198.9 3.0 L199.9 4.0 L200.9 4.9 L201.9 5.9 L202.9 6.8 L203.9 7.7 L204.9 8.6 L205.9 9.5 L206.9 10.3 L207.9 11.1 L208.9 11.9 L209.9 12.7 L210.8 13.5 L211.8 14.3 L212.8 15.0 L213.8 15.7 L214.8 16.4 L215.8 17.1 L216.8 17.8 L217.8 18.4 L218.8 19.1 L219.8 19.7 L220.8 20.3 L221.8 20.9 L222.8 21.4 L223.8 21.9 L224.8 22.5 L225.7 23.0 L226.7 23.5 L227.7 23.9 L228.7 24.4 L229.7 24.8 L230.7 25.2 L231.7 25.6 L232.7 26.0 L233.7 26.3 L234.7 26.7 L235.7 27.0 L236.7 27.3 L237.7 27.6 L238.7 27.8 L239.7 28.1 L240.6 28.3 L241.6 28.5 L242.6 28.7 L243.6 28.9 L244.6 29.0 L245.6 29.2 L246.6 29.3 L247.6 29.4 L248.6 29.5 L249.6 29.5 L250.6 29.6 L251.6 29.6 L252.6 29.6 L253.6 29.6 L254.6 29.6 L255.5 29.5 L256.5 29.5 L257.5 29.4 L258.5 29.3 L259.5 29.2 L260.5 29.0 L261.5 28.9 L262.5 28.7 L263.5 28.5 L264.5 28.3 L265.5 28.1 L266.5 27.8 L267.5 27.6 L268.5 27.3 L269.5 27.0 L270.4 26.7 L271.4 26.3 L272.4 26.0 L273.4 25.6 L274.4 25.2 L275.4 24.8 L276.4 24.4 L277.4 23.9 L278.4 23.5 L279.4 23.0 L280.4 22.5 L281.4 21.9 L282.4 21.4 L283.4 20.9 L284.4 20.3 L285.3 19.7 L286.3 19.1 L287.3 18.4 L288.3 17.8 L289.3 17.1 L290.3 16.4 L291.3 15.7 L292.3 15.0 L293.3 14.3 L294.3 13.5 L295.3 12.7 L296.3 11.9 L297.3 11.1 L298.3 10.3 L299.3 9.5 L300.2 8.6 L301.2 7.7 L302.2 6.8 L303.2 5.9 L304.2 4.9 L305.2 4.0 L306.2 3.0 L307.2 2.0 L308.2 1.0 L309.2 -0.0 L310.2 -1.1 L311.2 -2.2" stroke="#0000ff"/>
<path d="M123.0 3.0 L124.9 8.1 L126.8 12.9 L128.7 17.6 L130.5 22.1 L132.4 26.5 L134.3 30.6 L136.2 34.6 L138.1 38.5 L139.9 42.2 L141.8 45.7 L143.7 49.2 L145.6 52.5 L147.4 55.7 L149.3 58.8 L151.2 61.8 L153.1 64.7 L155.0 67.6 L156.8 70.3 L158.7 73.0 L160.6 75.7 L162.5 78.3 L164.3 80.9 L166.2 83.4 L168.1 85.9 L170.0 88.4 L171.8 90.9 L173.7 93.3 L175.6 95.7 L177.5 98.0 L179.4 100.3 L181.2 102.5 L183.1 104.7 L185.0 106.7 L186.9 108.7 L188.7 110.5 L190.6 112.2 L192.5 113.7 L194.4 115.1 L196.2 116.3 L198.1 117.3 L200.0 118.2 L201.9 118.9 L203.8 119.4 L205.6 119.9 L207.5 120.3 L209.4 120.7 L211.3 120.9 L213.1 121.1 L215.0 121.0 L216.9 120.8 L218.8 120.4 L220.7 119.9 L222.5 119.4 L224.4 118.9 L226.3 118.4 L228.2 117.8 L230.0 117.2 L231.9 116.7 L233.8 116.1 L235.7 115.5 L237.5 114.9 L239.4 114.3 L241.3 113.7 L243.2 113.2 L245.1 112.8 L246.9 112.4 L248.8 112.1 L250.7 111.9 L252.6 111.8 L254.4 111.9 L256.3 112.1 L258.2 112.4 L260.1 112.8 L262.0 113.2 L263.8 113.7 L265.7 114.3 L267.6 114.9 L269.5 115.5 L271.3 116.1 L273.2 116.7 L275.1 117.2 L277.0 117.8 L278.8 118.4 L280.7 118.9 L282.6 119.4 L284.5 119.9 L286.4 120.4 L288.2 120.8 L290.1 121.0 L292.0 121.1 L293.9 120.9 L295.7 120.7 L297.6 120.3 L299.5 119.9 L301.4 119.4 L303.2 118.9 L305.1 118.2 L307.0 117.3 L308.9 116.3 L310.8 115.1 L312.6 113.7 L314.5 112.2 L316.4 110.5 L318.3 108.7 L320.1 106.7 L322.0 104.7 L323.9 102.5 L325.8 100.3 L327.7 98.0 L329.5 95.7 L331.4 93.3 L333.3 90.9 L335.2 88.4 L337.0 85.9 L338.9 83.4 L340.8 80.9 L342.7 78.3 L344.5 75.7 L346.4 73.0 L348.3 70.3 L350.2 67.6 L352.1 64.7 L353.9 61.8 L355.8 58.8 L357.7 55.7 L359.6 52.5 L361.4 49.2 L363.3 45.7 L365.2 42.2 L367.1 38.5 L369.0 34.6 L370.8 30.6 L372.7 26.5 L374.6 22.1 L376.5 17.6 L378.3 12.9 L380.2 8.1 L382.1 3.0" stroke="#0000ff"/>
</g>
<path d="M80.55 359.47 h13.3 M424.58 359.47 h-13.3 M80.55 297.47 h13.3 M424.58 297.47 h-13.3 M80.55 235.47 h13.3 M424.58 235.47 h-13.3 M80.55 173.47 h13.3 M424.58 173.47 h-13.3 M80.55 111.47 h13.3 M424.58 111.47 h-13.3 M80.55 49.47 h13.3 M424.58 49.47 h-13.3 M252.6 3.0 v13 M252.6 390.2 v-13" stroke="#000" stroke-width="1.15" fill="none"/>
<rect x="80.55" y="3.00" width="344.03" height="387.20" fill="none" stroke="#000" stroke-width="1.2"/>
<path d="M440.42 359.47 H784.50 M440.42 297.47 H784.50 M440.42 235.47 H784.50 M440.42 173.47 H784.50 M440.42 111.47 H784.50 M440.42 49.47 H784.50 M612.5 3.0 V390.2" stroke="#444" stroke-width="0.8" stroke-dasharray="1.9 1.4" fill="none"/>
<g clip-path="url(#cb)" fill="none" stroke-width="1.8" stroke-linejoin="round">
<path d="M440.4 142.5 L442.4 142.8 L444.3 143.5 L446.2 144.7 L448.2 146.3 L450.1 148.4 L452.0 150.8 L454.0 153.6 L455.9 156.7 L457.8 160.1 L459.8 163.7 L461.7 167.5 L463.6 171.4 L465.5 175.4 L467.5 179.5 L469.4 183.6 L471.3 187.8 L473.3 191.9 L475.2 196.0 L477.1 200.1 L479.1 204.1 L481.0 208.1 L482.9 212.1 L484.9 216.0 L486.8 219.9 L488.7 223.7 L490.7 227.6 L492.6 231.4 L494.5 235.1 L496.5 238.9 L498.4 242.5 L500.3 246.2 L502.3 249.8 L504.2 253.3 L506.1 256.7 L508.1 260.0 L510.0 263.2 L511.9 266.3 L513.9 269.2 L515.8 272.0 L517.7 274.7 L519.7 277.2 L521.6 279.6 L523.5 281.8 L525.5 283.9 L527.4 285.9 L529.3 287.7 L531.3 289.5 L533.2 291.1 L535.1 292.7 L537.1 294.1 L539.0 295.6 L540.9 297.0 L542.9 298.3 L544.8 299.6 L546.7 300.9 L548.7 302.1 L550.6 303.3 L552.5 304.4 L554.5 305.6 L556.4 306.6 L558.3 307.7 L560.3 308.7 L562.2 309.6 L564.1 310.4 L566.1 311.2 L568.0 312.0 L569.9 312.7 L571.9 313.3 L573.8 313.8 L575.7 314.4 L577.7 314.8 L579.6 315.3 L581.5 315.7 L583.5 316.1 L585.4 316.5 L587.3 316.8 L589.3 317.2 L591.2 317.5 L593.1 317.8 L595.1 318.1 L597.0 318.4 L598.9 318.7 L600.9 319.0 L602.8 319.2 L604.7 319.4 L606.7 319.6 L608.6 319.7 L610.5 319.8 L612.5 319.8 L614.4 319.8 L616.3 319.7 L618.3 319.6 L620.2 319.4 L622.1 319.2 L624.1 319.0 L626.0 318.7 L627.9 318.4 L629.9 318.1 L631.8 317.8 L633.7 317.5 L635.7 317.2 L637.6 316.8 L639.5 316.5 L641.5 316.1 L643.4 315.7 L645.3 315.3 L647.3 314.8 L649.2 314.4 L651.1 313.8 L653.1 313.3 L655.0 312.7 L656.9 312.0 L658.9 311.2 L660.8 310.4 L662.7 309.6 L664.7 308.7 L666.6 307.7 L668.5 306.6 L670.5 305.6 L672.4 304.4 L674.3 303.3 L676.3 302.1 L678.2 300.9 L680.1 299.6 L682.0 298.3 L684.0 297.0 L685.9 295.6 L687.8 294.1 L689.8 292.7 L691.7 291.1 L693.6 289.5 L695.6 287.7 L697.5 285.9 L699.4 283.9 L701.4 281.8 L703.3 279.6 L705.2 277.2 L707.2 274.7 L709.1 272.0 L711.0 269.2 L713.0 266.3 L714.9 263.2 L716.8 260.0 L718.8 256.7 L720.7 253.3 L722.6 249.8 L724.6 246.2 L726.5 242.5 L728.4 238.9 L730.4 235.1 L732.3 231.4 L734.2 227.6 L736.2 223.7 L738.1 219.9 L740.0 216.0 L742.0 212.1 L743.9 208.1 L745.8 204.1 L747.8 200.1 L749.7 196.0 L751.6 191.9 L753.6 187.8 L755.5 183.6 L757.4 179.5 L759.4 175.4 L761.3 171.4 L763.2 167.5 L765.2 163.7 L767.1 160.1 L769.0 156.7 L771.0 153.6 L772.9 150.8 L774.8 148.4 L776.8 146.3 L778.7 144.7 L780.6 143.5 L782.6 142.8 L784.5 142.5" stroke="#ff0000"/>
<path d="M440.4 -9.9 L443.3 -4.8 L446.3 0.4 L449.2 5.7 L452.1 11.1 L455.0 16.5 L457.9 21.9 L460.8 27.3 L463.7 32.7 L466.7 38.2 L469.6 43.6 L472.5 49.0 L475.4 54.3 L478.3 59.6 L481.2 64.9 L484.2 70.1 L487.1 75.2 L490.0 80.3 L492.9 85.3 L495.8 90.2 L498.7 95.1 L501.7 99.9 L504.6 104.6 L507.5 109.2 L510.4 113.8 L513.3 118.2 L516.2 122.6 L519.2 126.9 L522.1 131.1 L525.0 135.2 L527.9 139.2 L530.8 143.2 L533.7 147.0 L536.6 150.8 L539.6 154.5 L542.5 158.1 L545.4 161.6 L548.3 165.0 L551.2 168.4 L554.1 171.7 L557.1 174.9 L560.0 178.0 L562.9 181.0 L565.8 184.0 L568.7 186.8 L571.6 189.6 L574.6 192.3 L577.5 194.9 L580.4 197.4 L583.3 199.7 L586.2 202.0 L589.1 204.1 L591.8 205.9 L592.0 206.1 L592.7 206.5 L593.5 207.0 L594.4 207.5 L595.0 207.9 L595.3 208.0 L596.1 208.5 L597.0 209.0 L597.8 209.5 L597.9 209.5 L598.7 209.9 L599.6 210.3 L600.4 210.7 L600.8 210.8 L601.3 211.0 L602.1 211.4 L603.0 211.7 L603.7 212.0 L603.9 212.0 L604.7 212.3 L605.6 212.5 L606.4 212.7 L606.6 212.8 L607.3 212.9 L608.2 213.1 L609.0 213.2 L609.5 213.3 L609.9 213.3 L610.7 213.4 L611.6 213.4 L612.5 213.5 L613.3 213.4 L614.2 213.4 L615.0 213.3 L615.4 213.3 L615.9 213.2 L616.8 213.1 L617.6 212.9 L618.3 212.8 L618.5 212.7 L619.3 212.5 L620.2 212.3 L621.1 212.0 L621.2 212.0 L621.9 211.7 L622.8 211.4 L623.6 211.0 L624.1 210.8 L624.5 210.7 L625.4 210.3 L626.2 209.9 L627.0 209.5 L627.1 209.5 L627.9 209.0 L628.8 208.5 L629.7 208.0 L630.0 207.9 L630.5 207.5 L631.4 207.0 L632.2 206.5 L632.9 206.1 L633.1 205.9 L635.8 204.1 L638.7 202.0 L641.6 199.7 L644.5 197.4 L647.5 194.9 L650.4 192.3 L653.3 189.6 L656.2 186.8 L659.1 184.0 L662.0 181.0 L664.9 178.0 L667.9 174.9 L670.8 171.7 L673.7 168.4 L676.6 165.0 L679.5 161.6 L682.4 158.1 L685.4 154.5 L688.3 150.8 L691.2 147.0 L694.1 143.2 L697.0 139.2 L699.9 135.2 L702.9 131.1 L705.8 126.9 L708.7 122.6 L711.6 118.2 L714.5 113.8 L717.4 109.2 L720.3 104.6 L723.3 99.9 L726.2 95.1 L729.1 90.2 L732.0 85.3 L734.9 80.3 L737.8 75.2 L740.8 70.1 L743.7 64.9 L746.6 59.6 L749.5 54.3 L752.4 49.0 L755.3 43.6 L758.3 38.2 L761.2 32.7 L764.1 27.3 L767.0 21.9 L769.9 16.5 L772.8 11.1 L775.8 5.7 L778.7 0.4 L781.6 -4.8 L784.5 -9.9" stroke="#ff0000"/>
<path d="M440.4 260.3 L442.4 260.3 L444.3 260.4 L446.2 260.5 L448.2 260.7 L450.1 260.9 L452.0 261.2 L454.0 261.5 L455.9 261.9 L457.8 262.4 L459.8 262.9 L461.7 263.4 L463.6 264.1 L465.5 264.8 L467.5 265.5 L469.4 266.3 L471.3 267.2 L473.3 268.1 L475.2 269.0 L477.1 270.0 L479.1 271.1 L481.0 272.1 L482.9 273.2 L484.9 274.3 L486.8 275.4 L488.7 276.5 L490.7 277.7 L492.6 278.9 L494.5 280.1 L496.5 281.3 L498.4 282.5 L500.3 283.8 L502.3 285.1 L504.2 286.5 L506.1 287.9 L508.1 289.4 L510.0 291.0 L511.9 292.6 L513.9 294.3 L515.8 296.2 L517.7 298.1 L519.7 300.2 L521.6 302.3 L523.5 304.6 L525.5 307.0 L527.4 309.5 L529.3 312.0 L531.3 314.7 L533.2 317.4 L535.1 320.2 L537.1 323.0 L539.0 325.9 L540.9 328.7 L542.9 331.6 L544.8 334.4 L546.7 337.2 L548.7 339.9 L550.6 342.5 L552.5 345.1 L554.5 347.6 L556.4 350.0 L558.3 352.2 L560.3 354.4 L562.2 356.4 L564.1 358.4 L566.1 360.2 L568.0 362.0 L569.9 363.6 L571.9 365.1 L573.8 366.6 L575.7 368.0 L577.7 369.3 L579.6 370.6 L581.5 371.8 L583.5 372.9 L585.4 374.0 L587.3 375.0 L589.3 376.0 L591.2 376.9 L593.1 377.8 L595.1 378.6 L597.0 379.4 L598.9 380.1 L600.9 380.7 L602.8 381.2 L604.7 381.6 L606.7 382.0 L608.6 382.2 L610.5 382.4 L612.5 382.4 L614.4 382.4 L616.3 382.2 L618.3 382.0 L620.2 381.6 L622.1 381.2 L624.1 380.7 L626.0 380.1 L627.9 379.4 L629.9 378.6 L631.8 377.8 L633.7 376.9 L635.7 376.0 L637.6 375.0 L639.5 374.0 L641.5 372.9 L643.4 371.8 L645.3 370.6 L647.3 369.3 L649.2 368.0 L651.1 366.6 L653.1 365.1 L655.0 363.6 L656.9 362.0 L658.9 360.2 L660.8 358.4 L662.7 356.4 L664.7 354.4 L666.6 352.2 L668.5 350.0 L670.5 347.6 L672.4 345.1 L674.3 342.5 L676.3 339.9 L678.2 337.2 L680.1 334.4 L682.0 331.6 L684.0 328.7 L685.9 325.9 L687.8 323.0 L689.8 320.2 L691.7 317.4 L693.6 314.7 L695.6 312.0 L697.5 309.5 L699.4 307.0 L701.4 304.6 L703.3 302.3 L705.2 300.2 L707.2 298.1 L709.1 296.2 L711.0 294.3 L713.0 292.6 L714.9 291.0 L716.8 289.4 L718.8 287.9 L720.7 286.5 L722.6 285.1 L724.6 283.8 L726.5 282.5 L728.4 281.3 L730.4 280.1 L732.3 278.9 L734.2 277.7 L736.2 276.5 L738.1 275.4 L740.0 274.3 L742.0 273.2 L743.9 272.1 L745.8 271.1 L747.8 270.0 L749.7 269.0 L751.6 268.1 L753.6 267.2 L755.5 266.3 L757.4 265.5 L759.4 264.8 L761.3 264.1 L763.2 263.4 L765.2 262.9 L767.1 262.4 L769.0 261.9 L771.0 261.5 L772.9 261.2 L774.8 260.9 L776.8 260.7 L778.7 260.5 L780.6 260.4 L782.6 260.3 L784.5 260.3" stroke="#ff0000"/>
<path d="M440.4 295.9 L442.4 295.9 L444.3 295.9 L446.2 296.0 L448.2 296.0 L450.1 296.0 L452.0 296.1 L454.0 296.1 L455.9 296.2 L457.8 296.3 L459.8 296.4 L461.7 296.5 L463.6 296.6 L465.5 296.7 L467.5 296.9 L469.4 297.0 L471.3 297.2 L473.3 297.4 L475.2 297.6 L477.1 297.8 L479.1 298.0 L481.0 298.3 L482.9 298.5 L484.9 298.8 L486.8 299.1 L488.7 299.4 L490.7 299.7 L492.6 300.0 L494.5 300.3 L496.5 300.6 L498.4 301.0 L500.3 301.4 L502.3 301.7 L504.2 302.1 L506.1 302.5 L508.1 302.8 L510.0 303.2 L511.9 303.6 L513.9 304.0 L515.8 304.4 L517.7 304.8 L519.7 305.2 L521.6 305.6 L523.5 305.9 L525.5 306.3 L527.4 306.7 L529.3 307.0 L531.3 307.4 L533.2 307.8 L535.1 308.1 L537.1 308.4 L539.0 308.8 L540.9 309.1 L542.9 309.4 L544.8 309.7 L546.7 310.0 L548.7 310.3 L550.6 310.6 L552.5 310.9 L554.5 311.2 L556.4 311.4 L558.3 311.7 L560.3 312.0 L562.2 312.2 L564.1 312.5 L566.1 312.7 L568.0 312.9 L569.9 313.2 L571.9 313.4 L573.8 313.6 L575.7 313.8 L577.7 314.0 L579.6 314.2 L581.5 314.4 L583.5 314.6 L585.4 314.8 L587.3 314.9 L589.3 315.1 L591.2 315.2 L593.1 315.4 L595.1 315.5 L597.0 315.6 L598.9 315.7 L600.9 315.8 L602.8 315.9 L604.7 316.0 L606.7 316.0 L608.6 316.0 L610.5 316.1 L612.5 316.1 L614.4 316.1 L616.3 316.0 L618.3 316.0 L620.2 316.0 L622.1 315.9 L624.1 315.8 L626.0 315.7 L627.9 315.6 L629.9 315.5 L631.8 315.4 L633.7 315.2 L635.7 315.1 L637.6 314.9 L639.5 314.8 L641.5 314.6 L643.4 314.4 L645.3 314.2 L647.3 314.0 L649.2 313.8 L651.1 313.6 L653.1 313.4 L655.0 313.2 L656.9 312.9 L658.9 312.7 L660.8 312.5 L662.7 312.2 L664.7 312.0 L666.6 311.7 L668.5 311.4 L670.5 311.2 L672.4 310.9 L674.3 310.6 L676.3 310.3 L678.2 310.0 L680.1 309.7 L682.0 309.4 L684.0 309.1 L685.9 308.8 L687.8 308.4 L689.8 308.1 L691.7 307.8 L693.6 307.4 L695.6 307.0 L697.5 306.7 L699.4 306.3 L701.4 305.9 L703.3 305.6 L705.2 305.2 L707.2 304.8 L709.1 304.4 L711.0 304.0 L713.0 303.6 L714.9 303.2 L716.8 302.8 L718.8 302.5 L720.7 302.1 L722.6 301.7 L724.6 301.4 L726.5 301.0 L728.4 300.6 L730.4 300.3 L732.3 300.0 L734.2 299.7 L736.2 299.4 L738.1 299.1 L740.0 298.8 L742.0 298.5 L743.9 298.3 L745.8 298.0 L747.8 297.8 L749.7 297.6 L751.6 297.4 L753.6 297.2 L755.5 297.0 L757.4 296.9 L759.4 296.7 L761.3 296.6 L763.2 296.5 L765.2 296.4 L767.1 296.3 L769.0 296.2 L771.0 296.1 L772.9 296.1 L774.8 296.0 L776.8 296.0 L778.7 296.0 L780.6 295.9 L782.6 295.9 L784.5 295.9" stroke="#ff0000"/>
<path d="M440.4 337.8 L442.4 337.7 L444.3 337.6 L446.2 337.5 L448.2 337.3 L450.1 337.0 L452.0 336.6 L454.0 336.2 L455.9 335.8 L457.8 335.2 L459.8 334.6 L461.7 334.0 L463.6 333.3 L465.5 332.6 L467.5 331.8 L469.4 330.9 L471.3 330.1 L473.3 329.1 L475.2 328.2 L477.1 327.3 L479.1 326.3 L481.0 325.3 L482.9 324.4 L484.9 323.4 L486.8 322.5 L488.7 321.5 L490.7 320.6 L492.6 319.7 L494.5 318.9 L496.5 318.0 L498.4 317.2 L500.3 316.4 L502.3 315.6 L504.2 314.8 L506.1 314.1 L508.1 313.3 L510.0 312.5 L511.9 311.8 L513.9 310.9 L515.8 310.1 L517.7 309.2 L519.7 308.3 L521.6 307.3 L523.5 306.3 L525.5 305.2 L527.4 304.0 L529.3 302.8 L531.3 301.6 L533.2 300.2 L535.1 298.8 L537.1 297.3 L539.0 295.8 L540.9 294.3 L542.9 292.7 L544.8 291.0 L546.7 289.4 L548.7 287.7 L550.6 286.0 L552.5 284.2 L554.5 282.5 L556.4 280.8 L558.3 279.1 L560.3 277.4 L562.2 275.7 L564.1 274.1 L566.1 272.5 L568.0 270.9 L569.9 269.3 L571.9 267.7 L573.8 266.2 L575.7 264.7 L577.7 263.3 L579.6 261.9 L581.5 260.5 L583.5 259.2 L585.4 258.0 L587.3 256.7 L589.3 255.6 L591.2 254.5 L593.1 253.5 L595.1 252.5 L597.0 251.6 L598.9 250.9 L600.9 250.2 L602.8 249.6 L604.7 249.1 L606.7 248.7 L608.6 248.4 L610.5 248.2 L612.5 248.2 L614.4 248.2 L616.3 248.4 L618.3 248.7 L620.2 249.1 L622.1 249.6 L624.1 250.2 L626.0 250.9 L627.9 251.6 L629.9 252.5 L631.8 253.5 L633.7 254.5 L635.7 255.6 L637.6 256.7 L639.5 258.0 L641.5 259.2 L643.4 260.5 L645.3 261.9 L647.3 263.3 L649.2 264.7 L651.1 266.2 L653.1 267.7 L655.0 269.3 L656.9 270.9 L658.9 272.5 L660.8 274.1 L662.7 275.7 L664.7 277.4 L666.6 279.1 L668.5 280.8 L670.5 282.5 L672.4 284.2 L674.3 286.0 L676.3 287.7 L678.2 289.4 L680.1 291.0 L682.0 292.7 L684.0 294.3 L685.9 295.8 L687.8 297.3 L689.8 298.8 L691.7 300.2 L693.6 301.6 L695.6 302.8 L697.5 304.0 L699.4 305.2 L701.4 306.3 L703.3 307.3 L705.2 308.3 L707.2 309.2 L709.1 310.1 L711.0 310.9 L713.0 311.8 L714.9 312.5 L716.8 313.3 L718.8 314.1 L720.7 314.8 L722.6 315.6 L724.6 316.4 L726.5 317.2 L728.4 318.0 L730.4 318.9 L732.3 319.7 L734.2 320.6 L736.2 321.5 L738.1 322.5 L740.0 323.4 L742.0 324.4 L743.9 325.3 L745.8 326.3 L747.8 327.3 L749.7 328.2 L751.6 329.1 L753.6 330.1 L755.5 330.9 L757.4 331.8 L759.4 332.6 L761.3 333.3 L763.2 334.0 L765.2 334.6 L767.1 335.2 L769.0 335.8 L771.0 336.2 L772.9 336.6 L774.8 337.0 L776.8 337.3 L778.7 337.5 L780.6 337.6 L782.6 337.7 L784.5 337.8" stroke="#ff0000"/>
<path d="M440.4 39.9 L440.8 39.8 L441.2 39.8 L441.6 39.8 L442.0 39.7 L442.4 39.6 L442.8 39.5 L443.2 39.3 L443.6 39.1 L444.0 39.0 L444.4 38.7 L444.8 38.5 L445.2 38.2 L445.6 37.9 L446.0 37.6 L446.4 37.3 L446.8 36.9 L447.2 36.5 L447.6 36.1 L448.0 35.7 L448.4 35.2 L448.8 34.7 L449.2 34.2 L449.6 33.7 L450.0 33.2 L450.4 32.6 L450.8 32.1 L451.2 31.5 L451.6 30.9 L452.0 30.3 L452.4 29.6 L452.8 29.0 L453.2 28.4 L453.6 27.7 L454.0 27.0 L454.4 26.3 L454.8 25.7 L455.2 25.0 L455.6 24.3 L456.0 23.6 L456.4 22.9 L456.8 22.1 L457.2 21.4 L457.6 20.7 L458.0 20.0 L458.4 19.3 L458.8 18.6 L459.2 17.9 L459.6 17.1 L460.0 16.4 L460.4 15.7 L460.8 14.9 L461.2 14.1 L461.6 13.3 L462.0 12.5 L462.4 11.7 L462.8 10.8 L463.2 10.0 L463.6 9.0 L464.0 8.1 L464.4 7.2 L464.8 6.2 L465.2 5.3 L465.6 4.4 L466.0 3.4 L466.4 2.5 L466.7 1.7 L467.1 0.8 L467.5 0.0 L467.9 -0.8 M757.0 -0.8 L757.4 0.0 L757.8 0.8 L758.2 1.7 L758.6 2.5 L759.0 3.4 L759.4 4.4 L759.8 5.3 L760.2 6.2 L760.6 7.2 L761.0 8.1 L761.4 9.0 L761.8 10.0 L762.2 10.8 L762.6 11.7 L763.0 12.5 L763.4 13.3 L763.8 14.1 L764.2 14.9 L764.6 15.7 L765.0 16.4 L765.4 17.1 L765.8 17.9 L766.1 18.6 L766.5 19.3 L766.9 20.0 L767.3 20.7 L767.7 21.4 L768.1 22.1 L768.5 22.9 L768.9 23.6 L769.3 24.3 L769.7 25.0 L770.1 25.7 L770.5 26.3 L770.9 27.0 L771.3 27.7 L771.7 28.4 L772.1 29.0 L772.5 29.6 L772.9 30.3 L773.3 30.9 L773.7 31.5 L774.1 32.1 L774.5 32.6 L774.9 33.2 L775.3 33.7 L775.7 34.2 L776.1 34.7 L776.5 35.2 L776.9 35.7 L777.3 36.1 L777.7 36.5 L778.1 36.9 L778.5 37.3 L778.9 37.6 L779.3 37.9 L779.7 38.2 L780.1 38.5 L780.5 38.7 L780.9 39.0 L781.3 39.1 L781.7 39.3 L782.1 39.5 L782.5 39.6 L782.9 39.7 L783.3 39.8 L783.7 39.8 L784.1 39.8 L784.5 39.9" stroke="#ff0000"/>
<path d="M463.2 -8.9 L465.7 -6.4 L468.3 -3.6 L470.8 -0.4 L473.3 3.0 L475.9 6.8 L478.4 10.8 L480.9 15.0 L483.4 19.3 L486.0 23.8 L488.5 28.4 L491.0 33.1 L493.6 37.8 L496.1 42.6 L498.6 47.4 L501.2 52.1 L503.7 56.8 L506.2 61.5 L508.7 66.0 L511.3 70.5 L513.8 74.9 L516.3 79.2 L518.9 83.3 L521.4 87.3 L523.9 91.2 L526.5 94.9 L529.0 98.4 L531.5 101.8 L534.0 105.1 L536.6 108.1 L539.1 111.1 L541.6 113.8 L544.2 116.4 L546.7 118.9 L549.2 121.1 L551.7 123.3 L554.3 125.3 L556.8 127.1 L559.3 128.8 L561.9 130.4 L564.4 131.8 L566.9 133.1 L569.5 134.4 L572.0 135.4 L574.5 136.4 L577.0 137.3 L579.6 138.1 L582.1 138.9 L584.6 139.5 L587.2 140.1 L589.7 140.6 L592.2 141.0 L594.8 141.4 L597.3 141.7 L599.8 141.9 L602.3 142.1 L604.9 142.3 L607.4 142.4 L609.9 142.5 L612.5 142.5 L615.0 142.5 L617.5 142.4 L620.0 142.3 L622.6 142.1 L625.1 141.9 L627.6 141.7 L630.2 141.4 L632.7 141.0 L635.2 140.6 L637.8 140.1 L640.3 139.5 L642.8 138.9 L645.3 138.1 L647.9 137.3 L650.4 136.4 L652.9 135.4 L655.5 134.4 L658.0 133.1 L660.5 131.8 L663.1 130.4 L665.6 128.8 L668.1 127.1 L670.6 125.3 L673.2 123.3 L675.7 121.1 L678.2 118.9 L680.8 116.4 L683.3 113.8 L685.8 111.1 L688.4 108.1 L690.9 105.1 L693.4 101.8 L695.9 98.4 L698.5 94.9 L701.0 91.2 L703.5 87.3 L706.1 83.3 L708.6 79.2 L711.1 74.9 L713.6 70.5 L716.2 66.0 L718.7 61.5 L721.2 56.8 L723.8 52.1 L726.3 47.4 L728.8 42.6 L731.4 37.8 L733.9 33.1 L736.4 28.4 L738.9 23.8 L741.5 19.3 L744.0 15.0 L746.5 10.8 L749.1 6.8 L751.6 3.0 L754.1 -0.4 L756.7 -3.6 L759.2 -6.4 L761.7 -8.9" stroke="#ff0000"/>
<path d="M474.9 -15.6 L477.2 -10.9 L479.5 -6.2 L481.9 -1.7 L484.2 2.8 L486.5 7.2 L488.9 11.5 L491.2 15.8 L493.5 20.0 L495.9 24.0 L498.2 28.0 L500.5 32.0 L502.9 35.8 L505.2 39.6 L507.5 43.2 L509.9 46.8 L512.2 50.4 L514.5 53.8 L516.9 57.1 L519.2 60.4 L521.5 63.6 L523.8 66.7 L526.2 69.8 L528.5 72.7 L530.8 75.6 L533.2 78.4 L535.5 81.1 L537.8 83.7 L540.2 86.3 L542.5 88.7 L544.8 91.1 L547.2 93.4 L549.5 95.6 L551.8 97.8 L554.2 99.8 L556.5 101.8 L558.8 103.7 L561.2 105.5 L563.5 107.3 L565.8 108.9 L568.2 110.5 L570.5 112.0 L572.8 113.4 L575.2 114.8 L577.5 116.0 L579.8 117.2 L582.1 118.3 L584.5 119.3 L586.8 120.2 L589.1 121.1 L591.5 121.8 L593.8 122.5 L596.1 123.1 L598.5 123.7 L600.8 124.1 L603.1 124.5 L605.5 124.7 L607.8 124.9 L610.1 125.1 L612.5 125.1 L614.8 125.1 L617.1 124.9 L619.5 124.7 L621.8 124.5 L624.1 124.1 L626.5 123.7 L628.8 123.1 L631.1 122.5 L633.4 121.8 L635.8 121.1 L638.1 120.2 L640.4 119.3 L642.8 118.3 L645.1 117.2 L647.4 116.0 L649.8 114.8 L652.1 113.4 L654.4 112.0 L656.8 110.5 L659.1 108.9 L661.4 107.3 L663.8 105.5 L666.1 103.7 L668.4 101.8 L670.8 99.8 L673.1 97.8 L675.4 95.6 L677.8 93.4 L680.1 91.1 L682.4 88.7 L684.7 86.3 L687.1 83.7 L689.4 81.1 L691.7 78.4 L694.1 75.6 L696.4 72.7 L698.7 69.8 L701.1 66.7 L703.4 63.6 L705.7 60.4 L708.1 57.1 L710.4 53.8 L712.7 50.4 L715.1 46.8 L717.4 43.2 L719.7 39.6 L722.1 35.8 L724.4 32.0 L726.7 28.0 L729.1 24.0 L731.4 20.0 L733.7 15.8 L736.0 11.5 L738.4 7.2 L740.7 2.8 L743.0 -1.7 L745.4 -6.2 L747.7 -10.9 L750.0 -15.6" stroke="#ff0000"/>
<path d="M479.4 -14.6 L481.7 -10.2 L483.9 -5.8 L486.2 -1.5 L488.5 2.7 L490.7 6.9 L493.0 10.9 L495.2 14.9 L497.5 18.8 L499.7 22.7 L502.0 26.4 L504.2 30.1 L506.5 33.7 L508.7 37.3 L511.0 40.7 L513.3 44.1 L515.5 47.4 L517.8 50.6 L520.0 53.8 L522.3 56.9 L524.5 59.9 L526.8 62.8 L529.0 65.6 L531.3 68.4 L533.5 71.1 L535.8 73.7 L538.1 76.3 L540.3 78.8 L542.6 81.2 L544.8 83.5 L547.1 85.7 L549.3 87.9 L551.6 90.0 L553.8 92.0 L556.1 93.9 L558.3 95.8 L560.6 97.6 L562.9 99.3 L565.1 100.9 L567.4 102.5 L569.6 104.0 L571.9 105.4 L574.1 106.7 L576.4 107.9 L578.6 109.1 L580.9 110.2 L583.2 111.2 L585.4 112.2 L587.7 113.1 L589.9 113.9 L592.2 114.6 L594.4 115.2 L596.7 115.8 L598.9 116.3 L601.2 116.7 L603.4 117.1 L605.7 117.3 L608.0 117.5 L610.2 117.6 L612.5 117.7 L614.7 117.6 L617.0 117.5 L619.2 117.3 L621.5 117.1 L623.7 116.7 L626.0 116.3 L628.2 115.8 L630.5 115.2 L632.8 114.6 L635.0 113.9 L637.3 113.1 L639.5 112.2 L641.8 111.2 L644.0 110.2 L646.3 109.1 L648.5 107.9 L650.8 106.7 L653.0 105.4 L655.3 104.0 L657.6 102.5 L659.8 100.9 L662.1 99.3 L664.3 97.6 L666.6 95.8 L668.8 93.9 L671.1 92.0 L673.3 90.0 L675.6 87.9 L677.8 85.7 L680.1 83.5 L682.4 81.2 L684.6 78.8 L686.9 76.3 L689.1 73.7 L691.4 71.1 L693.6 68.4 L695.9 65.6 L698.1 62.8 L700.4 59.9 L702.6 56.9 L704.9 53.8 L707.2 50.6 L709.4 47.4 L711.7 44.1 L713.9 40.7 L716.2 37.3 L718.4 33.7 L720.7 30.1 L722.9 26.4 L725.2 22.7 L727.4 18.8 L729.7 14.9 L732.0 10.9 L734.2 6.9 L736.5 2.7 L738.7 -1.5 L741.0 -5.8 L743.2 -10.2 L745.5 -14.6" stroke="#ff0000"/>
<path d="M480.4 -14.4 L482.6 -10.0 L484.8 -5.7 L487.1 -1.5 L489.3 2.7 L491.5 6.8 L493.8 10.8 L496.0 14.7 L498.3 18.6 L500.5 22.4 L502.7 26.1 L505.0 29.7 L507.2 33.3 L509.5 36.8 L511.7 40.2 L513.9 43.5 L516.2 46.8 L518.4 50.0 L520.7 53.1 L522.9 56.1 L525.1 59.1 L527.4 62.0 L529.6 64.8 L531.9 67.5 L534.1 70.2 L536.3 72.8 L538.6 75.3 L540.8 77.7 L543.0 80.1 L545.3 82.4 L547.5 84.6 L549.8 86.7 L552.0 88.8 L554.2 90.8 L556.5 92.7 L558.7 94.5 L561.0 96.3 L563.2 98.0 L565.4 99.6 L567.7 101.1 L569.9 102.6 L572.2 104.0 L574.4 105.3 L576.6 106.5 L578.9 107.7 L581.1 108.8 L583.4 109.8 L585.6 110.7 L587.8 111.6 L590.1 112.4 L592.3 113.1 L594.5 113.7 L596.8 114.3 L599.0 114.8 L601.3 115.2 L603.5 115.5 L605.7 115.8 L608.0 116.0 L610.2 116.1 L612.5 116.1 L614.7 116.1 L616.9 116.0 L619.2 115.8 L621.4 115.5 L623.7 115.2 L625.9 114.8 L628.1 114.3 L630.4 113.7 L632.6 113.1 L634.9 112.4 L637.1 111.6 L639.3 110.7 L641.6 109.8 L643.8 108.8 L646.0 107.7 L648.3 106.5 L650.5 105.3 L652.8 104.0 L655.0 102.6 L657.2 101.1 L659.5 99.6 L661.7 98.0 L664.0 96.3 L666.2 94.5 L668.4 92.7 L670.7 90.8 L672.9 88.8 L675.2 86.7 L677.4 84.6 L679.6 82.4 L681.9 80.1 L684.1 77.7 L686.4 75.3 L688.6 72.8 L690.8 70.2 L693.1 67.5 L695.3 64.8 L697.5 62.0 L699.8 59.1 L702.0 56.1 L704.3 53.1 L706.5 50.0 L708.7 46.8 L711.0 43.5 L713.2 40.2 L715.5 36.8 L717.7 33.3 L719.9 29.7 L722.2 26.1 L724.4 22.4 L726.7 18.6 L728.9 14.7 L731.1 10.8 L733.4 6.8 L735.6 2.7 L737.9 -1.5 L740.1 -5.7 L742.3 -10.0 L744.6 -14.4" stroke="#ff0000"/>
<path d="M483.1 -14.1 L485.3 -9.8 L487.5 -5.6 L489.7 -1.4 L491.9 2.6 L494.0 6.6 L496.2 10.6 L498.4 14.4 L500.6 18.2 L502.8 21.9 L505.0 25.5 L507.2 29.1 L509.4 32.6 L511.6 36.0 L513.8 39.3 L516.0 42.6 L518.2 45.8 L520.4 48.9 L522.6 52.0 L524.7 54.9 L526.9 57.8 L529.1 60.7 L531.3 63.4 L533.5 66.1 L535.7 68.7 L537.9 71.2 L540.1 73.7 L542.3 76.1 L544.5 78.4 L546.7 80.6 L548.9 82.8 L551.1 84.9 L553.3 86.9 L555.4 88.8 L557.6 90.7 L559.8 92.5 L562.0 94.2 L564.2 95.9 L566.4 97.5 L568.6 99.0 L570.8 100.4 L573.0 101.8 L575.2 103.0 L577.4 104.2 L579.6 105.4 L581.8 106.4 L584.0 107.4 L586.1 108.4 L588.3 109.2 L590.5 110.0 L592.7 110.7 L594.9 111.3 L597.1 111.8 L599.3 112.3 L601.5 112.7 L603.7 113.1 L605.9 113.3 L608.1 113.5 L610.3 113.6 L612.5 113.6 L614.7 113.6 L616.8 113.5 L619.0 113.3 L621.2 113.1 L623.4 112.7 L625.6 112.3 L627.8 111.8 L630.0 111.3 L632.2 110.7 L634.4 110.0 L636.6 109.2 L638.8 108.4 L641.0 107.4 L643.2 106.4 L645.4 105.4 L647.5 104.2 L649.7 103.0 L651.9 101.8 L654.1 100.4 L656.3 99.0 L658.5 97.5 L660.7 95.9 L662.9 94.2 L665.1 92.5 L667.3 90.7 L669.5 88.8 L671.7 86.9 L673.9 84.9 L676.1 82.8 L678.2 80.6 L680.4 78.4 L682.6 76.1 L684.8 73.7 L687.0 71.2 L689.2 68.7 L691.4 66.1 L693.6 63.4 L695.8 60.7 L698.0 57.8 L700.2 54.9 L702.4 52.0 L704.6 48.9 L706.7 45.8 L708.9 42.6 L711.1 39.3 L713.3 36.0 L715.5 32.6 L717.7 29.1 L719.9 25.5 L722.1 21.9 L724.3 18.2 L726.5 14.4 L728.7 10.6 L730.9 6.6 L733.1 2.6 L735.3 -1.4 L737.4 -5.6 L739.6 -9.8 L741.8 -14.1" stroke="#ff0000"/>
<path d="M494.6 -11.6 L496.6 -8.0 L498.6 -4.5 L500.6 -1.0 L502.6 2.5 L504.6 5.8 L506.6 9.1 L508.6 12.4 L510.6 15.6 L512.6 18.7 L514.6 21.7 L516.6 24.7 L518.6 27.7 L520.5 30.6 L522.5 33.4 L524.5 36.1 L526.5 38.8 L528.5 41.4 L530.5 44.0 L532.5 46.5 L534.5 48.9 L536.5 51.3 L538.5 53.6 L540.5 55.9 L542.5 58.1 L544.5 60.2 L546.5 62.3 L548.5 64.3 L550.5 66.3 L552.5 68.1 L554.5 70.0 L556.5 71.7 L558.5 73.4 L560.5 75.1 L562.5 76.6 L564.5 78.2 L566.5 79.6 L568.5 81.0 L570.5 82.3 L572.5 83.6 L574.5 84.8 L576.5 86.0 L578.5 87.0 L580.5 88.1 L582.5 89.0 L584.5 89.9 L586.5 90.7 L588.5 91.5 L590.5 92.2 L592.5 92.9 L594.5 93.5 L596.5 94.0 L598.5 94.5 L600.5 94.9 L602.5 95.2 L604.5 95.5 L606.5 95.7 L608.5 95.8 L610.5 95.9 L612.5 96.0 L614.5 95.9 L616.5 95.8 L618.5 95.7 L620.5 95.5 L622.5 95.2 L624.4 94.9 L626.4 94.5 L628.4 94.0 L630.4 93.5 L632.4 92.9 L634.4 92.2 L636.4 91.5 L638.4 90.7 L640.4 89.9 L642.4 89.0 L644.4 88.1 L646.4 87.0 L648.4 86.0 L650.4 84.8 L652.4 83.6 L654.4 82.3 L656.4 81.0 L658.4 79.6 L660.4 78.2 L662.4 76.6 L664.4 75.1 L666.4 73.4 L668.4 71.7 L670.4 70.0 L672.4 68.1 L674.4 66.3 L676.4 64.3 L678.4 62.3 L680.4 60.2 L682.4 58.1 L684.4 55.9 L686.4 53.6 L688.4 51.3 L690.4 48.9 L692.4 46.5 L694.4 44.0 L696.4 41.4 L698.4 38.8 L700.4 36.1 L702.4 33.4 L704.4 30.6 L706.4 27.7 L708.4 24.7 L710.4 21.7 L712.4 18.7 L714.4 15.6 L716.4 12.4 L718.4 9.1 L720.4 5.8 L722.4 2.5 L724.4 -1.0 L726.3 -4.5 L728.3 -8.0 L730.3 -11.6" stroke="#ff0000"/>
<path d="M496.6 -10.8 L498.5 -7.4 L500.5 -4.0 L502.5 -0.8 L504.4 2.4 L506.4 5.6 L508.4 8.7 L510.3 11.7 L512.3 14.7 L514.3 17.7 L516.2 20.5 L518.2 23.3 L520.1 26.1 L522.1 28.8 L524.1 31.4 L526.0 34.0 L528.0 36.5 L530.0 39.0 L531.9 41.4 L533.9 43.7 L535.9 46.0 L537.8 48.2 L539.8 50.4 L541.8 52.5 L543.7 54.6 L545.7 56.6 L547.6 58.5 L549.6 60.4 L551.6 62.2 L553.5 64.0 L555.5 65.7 L557.5 67.4 L559.4 69.0 L561.4 70.5 L563.4 72.0 L565.3 73.4 L567.3 74.8 L569.3 76.1 L571.2 77.3 L573.2 78.5 L575.1 79.6 L577.1 80.7 L579.1 81.7 L581.0 82.7 L583.0 83.6 L585.0 84.4 L586.9 85.2 L588.9 85.9 L590.9 86.6 L592.8 87.2 L594.8 87.7 L596.7 88.2 L598.7 88.7 L600.7 89.0 L602.6 89.4 L604.6 89.6 L606.6 89.8 L608.5 90.0 L610.5 90.1 L612.5 90.1 L614.4 90.1 L616.4 90.0 L618.4 89.8 L620.3 89.6 L622.3 89.4 L624.2 89.0 L626.2 88.7 L628.2 88.2 L630.1 87.7 L632.1 87.2 L634.1 86.6 L636.0 85.9 L638.0 85.2 L640.0 84.4 L641.9 83.6 L643.9 82.7 L645.8 81.7 L647.8 80.7 L649.8 79.6 L651.7 78.5 L653.7 77.3 L655.7 76.1 L657.6 74.8 L659.6 73.4 L661.6 72.0 L663.5 70.5 L665.5 69.0 L667.5 67.4 L669.4 65.7 L671.4 64.0 L673.3 62.2 L675.3 60.4 L677.3 58.5 L679.2 56.6 L681.2 54.6 L683.2 52.5 L685.1 50.4 L687.1 48.2 L689.1 46.0 L691.0 43.7 L693.0 41.4 L695.0 39.0 L696.9 36.5 L698.9 34.0 L700.8 31.4 L702.8 28.8 L704.8 26.1 L706.7 23.3 L708.7 20.5 L710.7 17.7 L712.6 14.7 L714.6 11.7 L716.6 8.7 L718.5 5.6 L720.5 2.4 L722.4 -0.8 L724.4 -4.0 L726.4 -7.4 L728.3 -10.8" stroke="#ff0000"/>
<path d="M499.1 -10.0 L501.1 -6.8 L503.0 -3.7 L504.9 -0.6 L506.8 2.4 L508.7 5.4 L510.7 8.3 L512.6 11.2 L514.5 14.0 L516.4 16.7 L518.3 19.4 L520.3 22.1 L522.2 24.6 L524.1 27.2 L526.0 29.7 L527.9 32.1 L529.9 34.4 L531.8 36.8 L533.7 39.0 L535.6 41.2 L537.5 43.4 L539.5 45.5 L541.4 47.5 L543.3 49.5 L545.2 51.4 L547.2 53.3 L549.1 55.1 L551.0 56.9 L552.9 58.6 L554.8 60.3 L556.8 61.9 L558.7 63.5 L560.6 65.0 L562.5 66.4 L564.4 67.8 L566.4 69.1 L568.3 70.4 L570.2 71.6 L572.1 72.8 L574.0 73.9 L576.0 75.0 L577.9 76.0 L579.8 76.9 L581.7 77.8 L583.6 78.7 L585.6 79.5 L587.5 80.2 L589.4 80.9 L591.3 81.5 L593.3 82.1 L595.2 82.6 L597.1 83.1 L599.0 83.5 L600.9 83.8 L602.9 84.1 L604.8 84.4 L606.7 84.6 L608.6 84.7 L610.5 84.8 L612.5 84.8 L614.4 84.8 L616.3 84.7 L618.2 84.6 L620.1 84.4 L622.1 84.1 L624.0 83.8 L625.9 83.5 L627.8 83.1 L629.7 82.6 L631.7 82.1 L633.6 81.5 L635.5 80.9 L637.4 80.2 L639.4 79.5 L641.3 78.7 L643.2 77.8 L645.1 76.9 L647.0 76.0 L649.0 75.0 L650.9 73.9 L652.8 72.8 L654.7 71.6 L656.6 70.4 L658.6 69.1 L660.5 67.8 L662.4 66.4 L664.3 65.0 L666.2 63.5 L668.2 61.9 L670.1 60.3 L672.0 58.6 L673.9 56.9 L675.8 55.1 L677.8 53.3 L679.7 51.4 L681.6 49.5 L683.5 47.5 L685.4 45.5 L687.4 43.4 L689.3 41.2 L691.2 39.0 L693.1 36.8 L695.1 34.4 L697.0 32.1 L698.9 29.7 L700.8 27.2 L702.7 24.6 L704.7 22.1 L706.6 19.4 L708.5 16.7 L710.4 14.0 L712.3 11.2 L714.3 8.3 L716.2 5.4 L718.1 2.4 L720.0 -0.6 L721.9 -3.7 L723.9 -6.8 L725.8 -10.0" stroke="#ff0000"/>
<path d="M513.4 -7.0 L515.0 -4.6 L516.7 -2.3 L518.4 0.0 L520.1 2.3 L521.8 4.5 L523.4 6.7 L525.1 8.8 L526.8 10.9 L528.5 13.0 L530.2 15.0 L531.8 17.0 L533.5 18.9 L535.2 20.8 L536.9 22.7 L538.6 24.5 L540.2 26.3 L541.9 28.0 L543.6 29.7 L545.3 31.4 L547.0 33.0 L548.6 34.6 L550.3 36.1 L552.0 37.6 L553.7 39.0 L555.4 40.4 L557.0 41.8 L558.7 43.1 L560.4 44.4 L562.1 45.7 L563.7 46.9 L565.4 48.0 L567.1 49.2 L568.8 50.2 L570.5 51.3 L572.1 52.3 L573.8 53.2 L575.5 54.2 L577.2 55.0 L578.9 55.9 L580.5 56.7 L582.2 57.4 L583.9 58.1 L585.6 58.8 L587.3 59.4 L588.9 60.0 L590.6 60.6 L592.3 61.1 L594.0 61.6 L595.7 62.0 L597.3 62.4 L599.0 62.7 L600.7 63.0 L602.4 63.3 L604.1 63.5 L605.7 63.7 L607.4 63.9 L609.1 64.0 L610.8 64.0 L612.5 64.0 L614.1 64.0 L615.8 64.0 L617.5 63.9 L619.2 63.7 L620.9 63.5 L622.5 63.3 L624.2 63.0 L625.9 62.7 L627.6 62.4 L629.3 62.0 L630.9 61.6 L632.6 61.1 L634.3 60.6 L636.0 60.0 L637.7 59.4 L639.3 58.8 L641.0 58.1 L642.7 57.4 L644.4 56.7 L646.1 55.9 L647.7 55.0 L649.4 54.2 L651.1 53.2 L652.8 52.3 L654.5 51.3 L656.1 50.2 L657.8 49.2 L659.5 48.0 L661.2 46.9 L662.9 45.7 L664.5 44.4 L666.2 43.1 L667.9 41.8 L669.6 40.4 L671.2 39.0 L672.9 37.6 L674.6 36.1 L676.3 34.6 L678.0 33.0 L679.6 31.4 L681.3 29.7 L683.0 28.0 L684.7 26.3 L686.4 24.5 L688.0 22.7 L689.7 20.8 L691.4 18.9 L693.1 17.0 L694.8 15.0 L696.4 13.0 L698.1 10.9 L699.8 8.8 L701.5 6.7 L703.2 4.5 L704.8 2.3 L706.5 0.0 L708.2 -2.3 L709.9 -4.6 L711.6 -7.0" stroke="#ff0000"/>
<path d="M518.6 -6.3 L520.2 -4.1 L521.8 -2.0 L523.4 0.2 L525.0 2.2 L526.6 4.3 L528.2 6.3 L529.8 8.2 L531.4 10.2 L533.0 12.0 L534.5 13.9 L536.1 15.7 L537.7 17.5 L539.3 19.2 L540.9 20.9 L542.5 22.6 L544.1 24.2 L545.7 25.8 L547.3 27.4 L548.9 28.9 L550.4 30.3 L552.0 31.8 L553.6 33.2 L555.2 34.5 L556.8 35.9 L558.4 37.2 L560.0 38.4 L561.6 39.6 L563.2 40.8 L564.8 41.9 L566.3 43.1 L567.9 44.1 L569.5 45.1 L571.1 46.1 L572.7 47.1 L574.3 48.0 L575.9 48.9 L577.5 49.7 L579.1 50.5 L580.7 51.3 L582.2 52.0 L583.8 52.7 L585.4 53.4 L587.0 54.0 L588.6 54.6 L590.2 55.1 L591.8 55.6 L593.4 56.1 L595.0 56.5 L596.6 56.9 L598.1 57.3 L599.7 57.6 L601.3 57.9 L602.9 58.1 L604.5 58.3 L606.1 58.5 L607.7 58.6 L609.3 58.7 L610.9 58.8 L612.5 58.8 L614.1 58.8 L615.6 58.7 L617.2 58.6 L618.8 58.5 L620.4 58.3 L622.0 58.1 L623.6 57.9 L625.2 57.6 L626.8 57.3 L628.4 56.9 L630.0 56.5 L631.5 56.1 L633.1 55.6 L634.7 55.1 L636.3 54.6 L637.9 54.0 L639.5 53.4 L641.1 52.7 L642.7 52.0 L644.3 51.3 L645.9 50.5 L647.4 49.7 L649.0 48.9 L650.6 48.0 L652.2 47.1 L653.8 46.1 L655.4 45.1 L657.0 44.1 L658.6 43.1 L660.2 41.9 L661.8 40.8 L663.3 39.6 L664.9 38.4 L666.5 37.2 L668.1 35.9 L669.7 34.5 L671.3 33.2 L672.9 31.8 L674.5 30.3 L676.1 28.9 L677.7 27.4 L679.2 25.8 L680.8 24.2 L682.4 22.6 L684.0 20.9 L685.6 19.2 L687.2 17.5 L688.8 15.7 L690.4 13.9 L692.0 12.0 L693.6 10.2 L695.1 8.2 L696.7 6.3 L698.3 4.3 L699.9 2.2 L701.5 0.2 L703.1 -2.0 L704.7 -4.1 L706.3 -6.3" stroke="#ff0000"/>
<path d="M525.0 -5.4 L526.5 -3.4 L528.0 -1.5 L529.5 0.3 L531.0 2.2 L532.4 4.0 L533.9 5.8 L535.4 7.5 L536.9 9.2 L538.4 10.9 L539.8 12.5 L541.3 14.1 L542.8 15.7 L544.3 17.2 L545.8 18.7 L547.3 20.2 L548.7 21.6 L550.2 23.1 L551.7 24.4 L553.2 25.8 L554.7 27.1 L556.1 28.4 L557.6 29.6 L559.1 30.8 L560.6 32.0 L562.1 33.1 L563.6 34.2 L565.0 35.3 L566.5 36.4 L568.0 37.4 L569.5 38.3 L571.0 39.3 L572.4 40.2 L573.9 41.1 L575.4 41.9 L576.9 42.7 L578.4 43.5 L579.9 44.2 L581.3 45.0 L582.8 45.6 L584.3 46.3 L585.8 46.9 L587.3 47.5 L588.7 48.0 L590.2 48.5 L591.7 49.0 L593.2 49.5 L594.7 49.9 L596.2 50.3 L597.6 50.6 L599.1 50.9 L600.6 51.2 L602.1 51.4 L603.6 51.7 L605.1 51.8 L606.5 52.0 L608.0 52.1 L609.5 52.2 L611.0 52.2 L612.5 52.3 L613.9 52.2 L615.4 52.2 L616.9 52.1 L618.4 52.0 L619.9 51.8 L621.4 51.7 L622.8 51.4 L624.3 51.2 L625.8 50.9 L627.3 50.6 L628.8 50.3 L630.2 49.9 L631.7 49.5 L633.2 49.0 L634.7 48.5 L636.2 48.0 L637.7 47.5 L639.1 46.9 L640.6 46.3 L642.1 45.6 L643.6 45.0 L645.1 44.2 L646.5 43.5 L648.0 42.7 L649.5 41.9 L651.0 41.1 L652.5 40.2 L654.0 39.3 L655.4 38.3 L656.9 37.4 L658.4 36.4 L659.9 35.3 L661.4 34.2 L662.8 33.1 L664.3 32.0 L665.8 30.8 L667.3 29.6 L668.8 28.4 L670.3 27.1 L671.7 25.8 L673.2 24.4 L674.7 23.1 L676.2 21.6 L677.7 20.2 L679.1 18.7 L680.6 17.2 L682.1 15.7 L683.6 14.1 L685.1 12.5 L686.6 10.9 L688.0 9.2 L689.5 7.5 L691.0 5.8 L692.5 4.0 L694.0 2.2 L695.4 0.3 L696.9 -1.5 L698.4 -3.4 L699.9 -5.4" stroke="#ff0000"/>
<path d="M533.4 -4.3 L534.8 -2.6 L536.1 -1.0 L537.4 0.6 L538.8 2.1 L540.1 3.7 L541.5 5.2 L542.8 6.6 L544.1 8.1 L545.5 9.5 L546.8 10.9 L548.2 12.2 L549.5 13.6 L550.8 14.9 L552.2 16.1 L553.5 17.4 L554.9 18.6 L556.2 19.8 L557.5 21.0 L558.9 22.1 L560.2 23.2 L561.6 24.3 L562.9 25.3 L564.2 26.4 L565.6 27.3 L566.9 28.3 L568.3 29.3 L569.6 30.2 L570.9 31.0 L572.3 31.9 L573.6 32.7 L574.9 33.5 L576.3 34.3 L577.6 35.0 L579.0 35.8 L580.3 36.4 L581.6 37.1 L583.0 37.7 L584.3 38.3 L585.7 38.9 L587.0 39.5 L588.3 40.0 L589.7 40.5 L591.0 40.9 L592.4 41.4 L593.7 41.8 L595.0 42.1 L596.4 42.5 L597.7 42.8 L599.1 43.1 L600.4 43.4 L601.7 43.6 L603.1 43.8 L604.4 44.0 L605.8 44.2 L607.1 44.3 L608.4 44.4 L609.8 44.5 L611.1 44.5 L612.5 44.5 L613.8 44.5 L615.1 44.5 L616.5 44.4 L617.8 44.3 L619.2 44.2 L620.5 44.0 L621.8 43.8 L623.2 43.6 L624.5 43.4 L625.9 43.1 L627.2 42.8 L628.5 42.5 L629.9 42.1 L631.2 41.8 L632.6 41.4 L633.9 40.9 L635.2 40.5 L636.6 40.0 L637.9 39.5 L639.3 38.9 L640.6 38.3 L641.9 37.7 L643.3 37.1 L644.6 36.4 L646.0 35.8 L647.3 35.0 L648.6 34.3 L650.0 33.5 L651.3 32.7 L652.7 31.9 L654.0 31.0 L655.3 30.2 L656.7 29.3 L658.0 28.3 L659.3 27.3 L660.7 26.4 L662.0 25.3 L663.4 24.3 L664.7 23.2 L666.0 22.1 L667.4 21.0 L668.7 19.8 L670.1 18.6 L671.4 17.4 L672.7 16.1 L674.1 14.9 L675.4 13.6 L676.8 12.2 L678.1 10.9 L679.4 9.5 L680.8 8.1 L682.1 6.6 L683.5 5.2 L684.8 3.7 L686.1 2.1 L687.5 0.6 L688.8 -1.0 L690.2 -2.6 L691.5 -4.3" stroke="#ff0000"/>
<path d="M536.0 -3.8 L537.3 -2.3 L538.6 -0.8 L539.9 0.7 L541.2 2.1 L542.5 3.5 L543.7 5.0 L545.0 6.3 L546.3 7.7 L547.6 9.0 L548.9 10.3 L550.2 11.6 L551.5 12.8 L552.8 14.0 L554.1 15.2 L555.4 16.4 L556.7 17.5 L558.0 18.6 L559.3 19.7 L560.6 20.8 L561.9 21.8 L563.2 22.8 L564.5 23.8 L565.8 24.8 L567.1 25.7 L568.4 26.6 L569.7 27.5 L571.0 28.3 L572.3 29.1 L573.6 29.9 L574.9 30.7 L576.2 31.5 L577.5 32.2 L578.8 32.9 L580.0 33.5 L581.3 34.2 L582.6 34.8 L583.9 35.4 L585.2 35.9 L586.5 36.5 L587.8 37.0 L589.1 37.5 L590.4 37.9 L591.7 38.4 L593.0 38.8 L594.3 39.2 L595.6 39.5 L596.9 39.8 L598.2 40.1 L599.5 40.4 L600.8 40.7 L602.1 40.9 L603.4 41.1 L604.7 41.2 L606.0 41.4 L607.3 41.5 L608.6 41.6 L609.9 41.7 L611.2 41.7 L612.5 41.7 L613.8 41.7 L615.1 41.7 L616.3 41.6 L617.6 41.5 L618.9 41.4 L620.2 41.2 L621.5 41.1 L622.8 40.9 L624.1 40.7 L625.4 40.4 L626.7 40.1 L628.0 39.8 L629.3 39.5 L630.6 39.2 L631.9 38.8 L633.2 38.4 L634.5 37.9 L635.8 37.5 L637.1 37.0 L638.4 36.5 L639.7 35.9 L641.0 35.4 L642.3 34.8 L643.6 34.2 L644.9 33.5 L646.2 32.9 L647.5 32.2 L648.8 31.5 L650.1 30.7 L651.4 29.9 L652.6 29.1 L653.9 28.3 L655.2 27.5 L656.5 26.6 L657.8 25.7 L659.1 24.8 L660.4 23.8 L661.7 22.8 L663.0 21.8 L664.3 20.8 L665.6 19.7 L666.9 18.6 L668.2 17.5 L669.5 16.4 L670.8 15.2 L672.1 14.0 L673.4 12.8 L674.7 11.6 L676.0 10.3 L677.3 9.0 L678.6 7.7 L679.9 6.3 L681.2 5.0 L682.5 3.5 L683.8 2.1 L685.1 0.7 L686.4 -0.8 L687.7 -2.3 L688.9 -3.8" stroke="#ff0000"/>
<path d="M567.5 0.0 L568.3 0.6 L569.0 1.1 L569.8 1.7 L570.6 2.2 L571.3 2.7 L572.1 3.2 L572.9 3.7 L573.6 4.2 L574.4 4.7 L575.1 5.2 L575.9 5.6 L576.7 6.1 L577.4 6.5 L578.2 7.0 L578.9 7.4 L579.7 7.8 L580.5 8.2 L581.2 8.6 L582.0 9.0 L582.8 9.4 L583.5 9.7 L584.3 10.1 L585.0 10.4 L585.8 10.8 L586.6 11.1 L587.3 11.4 L588.1 11.7 L588.8 12.0 L589.6 12.3 L590.4 12.6 L591.1 12.9 L591.9 13.1 L592.7 13.4 L593.4 13.6 L594.2 13.9 L594.9 14.1 L595.7 14.3 L596.5 14.5 L597.2 14.7 L598.0 14.9 L598.7 15.1 L599.5 15.2 L600.3 15.4 L601.0 15.5 L601.8 15.7 L602.6 15.8 L603.3 15.9 L604.1 16.0 L604.8 16.1 L605.6 16.2 L606.4 16.3 L607.1 16.4 L607.9 16.4 L608.7 16.5 L609.4 16.5 L610.2 16.6 L610.9 16.6 L611.7 16.6 L612.5 16.6 L613.2 16.6 L614.0 16.6 L614.7 16.6 L615.5 16.5 L616.3 16.5 L617.0 16.4 L617.8 16.4 L618.6 16.3 L619.3 16.2 L620.1 16.1 L620.8 16.0 L621.6 15.9 L622.4 15.8 L623.1 15.7 L623.9 15.5 L624.6 15.4 L625.4 15.2 L626.2 15.1 L626.9 14.9 L627.7 14.7 L628.5 14.5 L629.2 14.3 L630.0 14.1 L630.7 13.9 L631.5 13.6 L632.3 13.4 L633.0 13.1 L633.8 12.9 L634.5 12.6 L635.3 12.3 L636.1 12.0 L636.8 11.7 L637.6 11.4 L638.4 11.1 L639.1 10.8 L639.9 10.4 L640.6 10.1 L641.4 9.7 L642.2 9.4 L642.9 9.0 L643.7 8.6 L644.5 8.2 L645.2 7.8 L646.0 7.4 L646.7 7.0 L647.5 6.5 L648.3 6.1 L649.0 5.6 L649.8 5.2 L650.5 4.7 L651.3 4.2 L652.1 3.7 L652.8 3.2 L653.6 2.7 L654.4 2.2 L655.1 1.7 L655.9 1.1 L656.6 0.6 L657.4 0.0" stroke="#ff0000"/>
<path d="M440.4 114.0 L442.4 114.1 L444.3 114.5 L446.2 115.1 L448.2 116.0 L450.1 117.2 L452.0 118.5 L454.0 120.1 L455.9 121.8 L457.8 123.7 L459.8 125.8 L461.7 127.9 L463.6 130.2 L465.5 132.5 L467.5 134.8 L469.4 137.2 L471.3 139.5 L473.3 141.9 L475.2 144.2 L477.1 146.5 L479.1 148.8 L481.0 151.0 L482.9 153.1 L484.9 155.2 L486.8 157.3 L488.7 159.3 L490.7 161.2 L492.6 163.1 L494.5 165.0 L496.5 166.9 L498.4 168.7 L500.3 170.5 L502.3 172.3 L504.2 174.2 L506.1 176.0 L508.1 177.8 L510.0 179.6 L511.9 181.5 L513.9 183.3 L515.8 185.2 L517.7 187.0 L519.7 188.9 L521.6 190.8 L523.5 192.6 L525.5 194.4 L527.4 196.3 L529.3 198.1 L531.3 199.8 L533.2 201.6 L535.1 203.3 L537.1 205.0 L539.0 206.6 L540.9 208.2 L542.9 209.7 L544.8 211.3 L546.7 212.7 L548.7 214.1 L550.6 215.5 L552.5 216.9 L554.5 218.2 L556.4 219.4 L558.3 220.6 L560.3 221.8 L562.2 223.0 L564.1 224.0 L566.1 225.1 L568.0 226.1 L569.9 227.1 L571.9 228.0 L573.8 228.9 L575.7 229.8 L577.7 230.6 L579.6 231.3 L581.5 232.0 L583.5 232.7 L585.4 233.3 L587.3 233.8 L589.3 234.3 L591.2 234.8 L593.1 235.2 L595.1 235.6 L597.0 235.9 L598.9 236.2 L600.9 236.4 L602.8 236.6 L604.7 236.7 L606.7 236.9 L608.6 236.9 L610.5 237.0 L612.5 237.0 L614.4 237.0 L616.3 236.9 L618.3 236.9 L620.2 236.7 L622.1 236.6 L624.1 236.4 L626.0 236.2 L627.9 235.9 L629.9 235.6 L631.8 235.2 L633.7 234.8 L635.7 234.3 L637.6 233.8 L639.5 233.3 L641.5 232.7 L643.4 232.0 L645.3 231.3 L647.3 230.6 L649.2 229.8 L651.1 228.9 L653.1 228.0 L655.0 227.1 L656.9 226.1 L658.9 225.1 L660.8 224.0 L662.7 223.0 L664.7 221.8 L666.6 220.6 L668.5 219.4 L670.5 218.2 L672.4 216.9 L674.3 215.5 L676.3 214.1 L678.2 212.7 L680.1 211.3 L682.0 209.7 L684.0 208.2 L685.9 206.6 L687.8 205.0 L689.8 203.3 L691.7 201.6 L693.6 199.8 L695.6 198.1 L697.5 196.3 L699.4 194.4 L701.4 192.6 L703.3 190.8 L705.2 188.9 L707.2 187.0 L709.1 185.2 L711.0 183.3 L713.0 181.5 L714.9 179.6 L716.8 177.8 L718.8 176.0 L720.7 174.2 L722.6 172.3 L724.6 170.5 L726.5 168.7 L728.4 166.9 L730.4 165.0 L732.3 163.1 L734.2 161.2 L736.2 159.3 L738.1 157.3 L740.0 155.2 L742.0 153.1 L743.9 151.0 L745.8 148.8 L747.8 146.5 L749.7 144.2 L751.6 141.9 L753.6 139.5 L755.5 137.2 L757.4 134.8 L759.4 132.5 L761.3 130.2 L763.2 127.9 L765.2 125.8 L767.1 123.7 L769.0 121.8 L771.0 120.1 L772.9 118.5 L774.8 117.2 L776.8 116.0 L778.7 115.1 L780.6 114.5 L782.6 114.1 L784.5 114.0" stroke="#0000ff"/>
<path d="M440.4 149.3 L442.4 149.4 L444.3 149.7 L446.2 150.2 L448.2 150.8 L450.1 151.6 L452.0 152.6 L454.0 153.7 L455.9 155.0 L457.8 156.3 L459.8 157.7 L461.7 159.2 L463.6 160.8 L465.5 162.4 L467.5 164.1 L469.4 165.8 L471.3 167.6 L473.3 169.5 L475.2 171.4 L477.1 173.4 L479.1 175.6 L481.0 177.8 L482.9 180.2 L484.9 182.7 L486.8 185.4 L488.7 188.2 L490.7 191.1 L492.6 194.2 L494.5 197.4 L496.5 200.7 L498.4 204.2 L500.3 207.6 L502.3 211.2 L504.2 214.8 L506.1 218.3 L508.1 221.9 L510.0 225.4 L511.9 228.9 L513.9 232.2 L515.8 235.5 L517.7 238.7 L519.7 241.8 L521.6 244.8 L523.5 247.7 L525.5 250.5 L527.4 253.3 L529.3 256.0 L531.3 258.6 L533.2 261.2 L535.1 263.8 L537.1 266.3 L539.0 268.9 L540.9 271.4 L542.9 274.0 L544.8 276.5 L546.7 279.1 L548.7 281.6 L550.6 284.1 L552.5 286.6 L554.5 289.0 L556.4 291.4 L558.3 293.7 L560.3 295.9 L562.2 298.0 L564.1 300.1 L566.1 302.0 L568.0 303.8 L569.9 305.5 L571.9 307.1 L573.8 308.6 L575.7 310.0 L577.7 311.4 L579.6 312.6 L581.5 313.8 L583.5 315.0 L585.4 316.1 L587.3 317.1 L589.3 318.2 L591.2 319.1 L593.1 320.1 L595.1 321.0 L597.0 321.8 L598.9 322.6 L600.9 323.3 L602.8 323.9 L604.7 324.4 L606.7 324.8 L608.6 325.1 L610.5 325.3 L612.5 325.4 L614.4 325.3 L616.3 325.1 L618.3 324.8 L620.2 324.4 L622.1 323.9 L624.1 323.3 L626.0 322.6 L627.9 321.8 L629.9 321.0 L631.8 320.1 L633.7 319.1 L635.7 318.2 L637.6 317.1 L639.5 316.1 L641.5 315.0 L643.4 313.8 L645.3 312.6 L647.3 311.4 L649.2 310.0 L651.1 308.6 L653.1 307.1 L655.0 305.5 L656.9 303.8 L658.9 302.0 L660.8 300.1 L662.7 298.0 L664.7 295.9 L666.6 293.7 L668.5 291.4 L670.5 289.0 L672.4 286.6 L674.3 284.1 L676.3 281.6 L678.2 279.1 L680.1 276.5 L682.0 274.0 L684.0 271.4 L685.9 268.9 L687.8 266.3 L689.8 263.8 L691.7 261.2 L693.6 258.6 L695.6 256.0 L697.5 253.3 L699.4 250.5 L701.4 247.7 L703.3 244.8 L705.2 241.8 L707.2 238.7 L709.1 235.5 L711.0 232.2 L713.0 228.9 L714.9 225.4 L716.8 221.9 L718.8 218.3 L720.7 214.8 L722.6 211.2 L724.6 207.6 L726.5 204.2 L728.4 200.7 L730.4 197.4 L732.3 194.2 L734.2 191.1 L736.2 188.2 L738.1 185.4 L740.0 182.7 L742.0 180.2 L743.9 177.8 L745.8 175.6 L747.8 173.4 L749.7 171.4 L751.6 169.5 L753.6 167.6 L755.5 165.8 L757.4 164.1 L759.4 162.4 L761.3 160.8 L763.2 159.2 L765.2 157.7 L767.1 156.3 L769.0 155.0 L771.0 153.7 L772.9 152.6 L774.8 151.6 L776.8 150.8 L778.7 150.2 L780.6 149.7 L782.6 149.4 L784.5 149.3" stroke="#0000ff"/>
<path d="M440.4 171.9 L442.4 171.9 L444.3 172.0 L446.2 172.0 L448.2 172.1 L450.1 172.1 L452.0 172.2 L454.0 172.3 L455.9 172.5 L457.8 172.6 L459.8 172.8 L461.7 172.9 L463.6 173.1 L465.5 173.4 L467.5 173.6 L469.4 173.8 L471.3 174.1 L473.3 174.4 L475.2 174.7 L477.1 175.1 L479.1 175.5 L481.0 175.8 L482.9 176.3 L484.9 176.7 L486.8 177.2 L488.7 177.6 L490.7 178.1 L492.6 178.7 L494.5 179.2 L496.5 179.8 L498.4 180.4 L500.3 181.0 L502.3 181.7 L504.2 182.4 L506.1 183.0 L508.1 183.7 L510.0 184.4 L511.9 185.2 L513.9 185.9 L515.8 186.6 L517.7 187.4 L519.7 188.1 L521.6 188.9 L523.5 189.6 L525.5 190.3 L527.4 191.1 L529.3 191.8 L531.3 192.5 L533.2 193.1 L535.1 193.8 L537.1 194.4 L539.0 195.1 L540.9 195.7 L542.9 196.2 L544.8 196.8 L546.7 197.3 L548.7 197.8 L550.6 198.3 L552.5 198.8 L554.5 199.2 L556.4 199.6 L558.3 200.0 L560.3 200.4 L562.2 200.8 L564.1 201.1 L566.1 201.4 L568.0 201.7 L569.9 202.0 L571.9 202.3 L573.8 202.5 L575.7 202.8 L577.7 203.0 L579.6 203.3 L581.5 203.5 L583.5 203.7 L585.4 203.9 L587.3 204.1 L589.3 204.3 L591.2 204.4 L593.1 204.6 L595.1 204.7 L597.0 204.9 L598.9 205.0 L600.9 205.1 L602.8 205.2 L604.7 205.3 L606.7 205.3 L608.6 205.4 L610.5 205.4 L612.5 205.4 L614.4 205.4 L616.3 205.4 L618.3 205.3 L620.2 205.3 L622.1 205.2 L624.1 205.1 L626.0 205.0 L627.9 204.9 L629.9 204.7 L631.8 204.6 L633.7 204.4 L635.7 204.3 L637.6 204.1 L639.5 203.9 L641.5 203.7 L643.4 203.5 L645.3 203.3 L647.3 203.0 L649.2 202.8 L651.1 202.5 L653.1 202.3 L655.0 202.0 L656.9 201.7 L658.9 201.4 L660.8 201.1 L662.7 200.8 L664.7 200.4 L666.6 200.0 L668.5 199.6 L670.5 199.2 L672.4 198.8 L674.3 198.3 L676.3 197.8 L678.2 197.3 L680.1 196.8 L682.0 196.2 L684.0 195.7 L685.9 195.1 L687.8 194.4 L689.8 193.8 L691.7 193.1 L693.6 192.5 L695.6 191.8 L697.5 191.1 L699.4 190.3 L701.4 189.6 L703.3 188.9 L705.2 188.1 L707.2 187.4 L709.1 186.6 L711.0 185.9 L713.0 185.2 L714.9 184.4 L716.8 183.7 L718.8 183.0 L720.7 182.4 L722.6 181.7 L724.6 181.0 L726.5 180.4 L728.4 179.8 L730.4 179.2 L732.3 178.7 L734.2 178.1 L736.2 177.6 L738.1 177.2 L740.0 176.7 L742.0 176.3 L743.9 175.8 L745.8 175.5 L747.8 175.1 L749.7 174.7 L751.6 174.4 L753.6 174.1 L755.5 173.8 L757.4 173.6 L759.4 173.4 L761.3 173.1 L763.2 172.9 L765.2 172.8 L767.1 172.6 L769.0 172.5 L771.0 172.3 L772.9 172.2 L774.8 172.1 L776.8 172.1 L778.7 172.0 L780.6 172.0 L782.6 171.9 L784.5 171.9" stroke="#0000ff"/>
<path d="M440.4 252.8 L442.4 252.8 L444.3 252.8 L446.2 252.7 L448.2 252.5 L450.1 252.4 L452.0 252.2 L454.0 251.9 L455.9 251.6 L457.8 251.3 L459.8 250.9 L461.7 250.5 L463.6 250.0 L465.5 249.4 L467.5 248.8 L469.4 248.2 L471.3 247.5 L473.3 246.8 L475.2 246.0 L477.1 245.2 L479.1 244.3 L481.0 243.4 L482.9 242.5 L484.9 241.6 L486.8 240.6 L488.7 239.7 L490.7 238.7 L492.6 237.7 L494.5 236.7 L496.5 235.7 L498.4 234.7 L500.3 233.8 L502.3 232.8 L504.2 231.8 L506.1 230.8 L508.1 229.9 L510.0 228.9 L511.9 227.9 L513.9 226.9 L515.8 225.9 L517.7 224.8 L519.7 223.8 L521.6 222.7 L523.5 221.6 L525.5 220.4 L527.4 219.2 L529.3 218.0 L531.3 216.8 L533.2 215.5 L535.1 214.3 L537.1 213.0 L539.0 211.6 L540.9 210.3 L542.9 209.0 L544.8 207.7 L546.7 206.3 L548.7 205.1 L550.6 203.8 L552.5 202.5 L554.5 201.3 L556.4 200.1 L558.3 199.0 L560.3 197.9 L562.2 196.9 L564.1 195.9 L566.1 195.0 L568.0 194.1 L569.9 193.3 L571.9 192.6 L573.8 191.9 L575.7 191.2 L577.7 190.6 L579.6 190.1 L581.5 189.5 L583.5 189.1 L585.4 188.6 L587.3 188.2 L589.3 187.9 L591.2 187.6 L593.1 187.3 L595.1 187.0 L597.0 186.8 L598.9 186.5 L600.9 186.4 L602.8 186.2 L604.7 186.1 L606.7 186.0 L608.6 185.9 L610.5 185.9 L612.5 185.9 L614.4 185.9 L616.3 185.9 L618.3 186.0 L620.2 186.1 L622.1 186.2 L624.1 186.4 L626.0 186.5 L627.9 186.8 L629.9 187.0 L631.8 187.3 L633.7 187.6 L635.7 187.9 L637.6 188.2 L639.5 188.6 L641.5 189.1 L643.4 189.5 L645.3 190.1 L647.3 190.6 L649.2 191.2 L651.1 191.9 L653.1 192.6 L655.0 193.3 L656.9 194.1 L658.9 195.0 L660.8 195.9 L662.7 196.9 L664.7 197.9 L666.6 199.0 L668.5 200.1 L670.5 201.3 L672.4 202.5 L674.3 203.8 L676.3 205.1 L678.2 206.3 L680.1 207.7 L682.0 209.0 L684.0 210.3 L685.9 211.6 L687.8 213.0 L689.8 214.3 L691.7 215.5 L693.6 216.8 L695.6 218.0 L697.5 219.2 L699.4 220.4 L701.4 221.6 L703.3 222.7 L705.2 223.8 L707.2 224.8 L709.1 225.9 L711.0 226.9 L713.0 227.9 L714.9 228.9 L716.8 229.9 L718.8 230.8 L720.7 231.8 L722.6 232.8 L724.6 233.8 L726.5 234.7 L728.4 235.7 L730.4 236.7 L732.3 237.7 L734.2 238.7 L736.2 239.7 L738.1 240.6 L740.0 241.6 L742.0 242.5 L743.9 243.4 L745.8 244.3 L747.8 245.2 L749.7 246.0 L751.6 246.8 L753.6 247.5 L755.5 248.2 L757.4 248.8 L759.4 249.4 L761.3 250.0 L763.2 250.5 L765.2 250.9 L767.1 251.3 L769.0 251.6 L771.0 251.9 L772.9 252.2 L774.8 252.4 L776.8 252.5 L778.7 252.7 L780.6 252.8 L782.6 252.8 L784.5 252.8" stroke="#0000ff"/>
<path d="M457.6 -17.2 L459.6 -12.5 L461.5 -7.8 L463.5 -3.2 L465.5 1.3 L467.4 5.6 L469.4 10.0 L471.3 14.3 L473.3 18.6 L475.3 22.8 L477.2 27.0 L479.2 31.1 L481.1 35.1 L483.1 39.0 L485.1 42.9 L487.0 46.6 L489.0 50.2 L490.9 53.7 L492.9 57.0 L494.9 60.3 L496.8 63.5 L498.8 66.6 L500.7 69.7 L502.7 72.7 L504.7 75.7 L506.6 78.6 L508.6 81.5 L510.5 84.3 L512.5 87.1 L514.5 89.9 L516.4 92.6 L518.4 95.2 L520.3 97.7 L522.3 100.2 L524.3 102.6 L526.2 105.0 L528.2 107.3 L530.1 109.5 L532.1 111.7 L534.1 113.8 L536.0 115.8 L538.0 117.7 L539.9 119.5 L541.9 121.3 L543.9 123.0 L545.8 124.6 L547.8 126.1 L549.7 127.6 L551.7 129.0 L553.7 130.4 L555.6 131.7 L557.6 132.9 L559.5 134.0 L561.5 135.1 L563.5 136.1 L565.4 137.1 L567.4 138.0 L569.3 138.7 L571.3 139.4 L573.3 140.1 L575.2 140.7 L577.2 141.2 L579.1 141.6 L581.1 141.9 L583.1 142.2 L585.0 142.4 L587.0 142.6 L588.9 142.7 L590.9 142.8 L592.9 142.8 L594.8 142.8 L596.8 142.9 L598.7 142.9 L600.7 142.9 L602.7 142.9 L604.6 142.9 L606.6 142.9 L608.5 142.9 L610.5 142.9 L612.5 142.9 L614.4 142.9 L616.4 142.9 L618.3 142.9 L620.3 142.9 L622.3 142.9 L624.2 142.9 L626.2 142.9 L628.1 142.9 L630.1 142.8 L632.1 142.8 L634.0 142.8 L636.0 142.7 L637.9 142.6 L639.9 142.4 L641.9 142.2 L643.8 141.9 L645.8 141.6 L647.7 141.2 L649.7 140.7 L651.7 140.1 L653.6 139.4 L655.6 138.7 L657.5 138.0 L659.5 137.1 L661.5 136.1 L663.4 135.1 L665.4 134.0 L667.3 132.9 L669.3 131.7 L671.3 130.4 L673.2 129.0 L675.2 127.6 L677.1 126.1 L679.1 124.6 L681.1 123.0 L683.0 121.3 L685.0 119.5 L686.9 117.7 L688.9 115.8 L690.9 113.8 L692.8 111.7 L694.8 109.5 L696.7 107.3 L698.7 105.0 L700.7 102.6 L702.6 100.2 L704.6 97.7 L706.5 95.2 L708.5 92.6 L710.5 89.9 L712.4 87.1 L714.4 84.3 L716.3 81.5 L718.3 78.6 L720.3 75.7 L722.2 72.7 L724.2 69.7 L726.1 66.6 L728.1 63.5 L730.1 60.3 L732.0 57.0 L734.0 53.7 L735.9 50.2 L737.9 46.6 L739.9 42.9 L741.8 39.0 L743.8 35.1 L745.7 31.1 L747.7 27.0 L749.7 22.8 L751.6 18.6 L753.6 14.3 L755.5 10.0 L757.5 5.6 L759.5 1.3 L761.4 -3.2 L763.4 -7.8 L765.3 -12.5 L767.3 -17.2" stroke="#0000ff"/>
<path d="M467.9 -14.1 L469.8 -10.1 L471.6 -6.2 L473.4 -2.4 L475.3 1.4 L477.1 5.1 L478.9 8.7 L480.8 12.4 L482.6 15.9 L484.4 19.5 L486.2 23.0 L488.1 26.5 L489.9 29.9 L491.7 33.3 L493.6 36.7 L495.4 40.0 L497.2 43.4 L499.0 46.6 L500.9 49.9 L502.7 53.1 L504.5 56.3 L506.4 59.5 L508.2 62.7 L510.0 65.8 L511.8 68.8 L513.7 71.8 L515.5 74.7 L517.3 77.5 L519.2 80.3 L521.0 83.0 L522.8 85.7 L524.7 88.4 L526.5 91.0 L528.3 93.5 L530.1 95.9 L532.0 98.2 L533.8 100.4 L535.6 102.4 L537.5 104.4 L539.3 106.3 L541.1 108.2 L542.9 109.9 L544.8 111.6 L546.6 113.3 L548.4 114.9 L550.3 116.4 L552.1 117.8 L553.9 119.3 L555.8 120.6 L557.6 122.0 L559.4 123.4 L561.2 124.8 L563.1 126.1 L564.9 127.4 L566.7 128.6 L568.6 129.7 L570.4 130.8 L572.2 131.7 L574.0 132.6 L575.9 133.5 L577.7 134.3 L579.5 135.0 L581.4 135.7 L583.2 136.4 L585.0 137.1 L586.8 137.7 L588.7 138.1 L590.5 138.4 L592.3 138.6 L594.2 138.8 L596.0 139.0 L597.8 139.2 L599.7 139.3 L601.5 139.4 L603.3 139.6 L605.1 139.7 L607.0 139.7 L608.8 139.8 L610.6 139.8 L612.5 139.8 L614.3 139.8 L616.1 139.8 L617.9 139.7 L619.8 139.7 L621.6 139.6 L623.4 139.4 L625.3 139.3 L627.1 139.2 L628.9 139.0 L630.8 138.8 L632.6 138.6 L634.4 138.4 L636.2 138.1 L638.1 137.7 L639.9 137.1 L641.7 136.4 L643.6 135.7 L645.4 135.0 L647.2 134.3 L649.0 133.5 L650.9 132.6 L652.7 131.7 L654.5 130.8 L656.4 129.7 L658.2 128.6 L660.0 127.4 L661.9 126.1 L663.7 124.8 L665.5 123.4 L667.3 122.0 L669.2 120.6 L671.0 119.3 L672.8 117.8 L674.7 116.4 L676.5 114.9 L678.3 113.3 L680.1 111.6 L682.0 109.9 L683.8 108.2 L685.6 106.3 L687.5 104.4 L689.3 102.4 L691.1 100.4 L692.9 98.2 L694.8 95.9 L696.6 93.5 L698.4 91.0 L700.3 88.4 L702.1 85.7 L703.9 83.0 L705.8 80.3 L707.6 77.5 L709.4 74.7 L711.2 71.8 L713.1 68.8 L714.9 65.8 L716.7 62.7 L718.6 59.5 L720.4 56.3 L722.2 53.1 L724.0 49.9 L725.9 46.6 L727.7 43.4 L729.5 40.0 L731.4 36.7 L733.2 33.3 L735.0 29.9 L736.9 26.5 L738.7 23.0 L740.5 19.5 L742.3 15.9 L744.2 12.4 L746.0 8.7 L747.8 5.1 L749.7 1.4 L751.5 -2.4 L753.3 -6.2 L755.1 -10.1 L757.0 -14.1" stroke="#0000ff"/>
<path d="M475.8 -18.7 L478.1 -13.1 L480.4 -7.7 L482.7 -2.4 L485.1 2.8 L487.4 7.8 L489.7 12.6 L492.0 17.3 L494.3 21.9 L496.6 26.4 L499.0 30.7 L501.3 34.9 L503.6 39.0 L505.9 42.9 L508.2 46.7 L510.5 50.4 L512.9 54.0 L515.2 57.5 L517.5 60.9 L519.8 64.1 L522.1 67.3 L524.4 70.3 L526.8 73.2 L529.1 76.1 L531.4 78.8 L533.7 81.5 L536.0 84.0 L538.3 86.5 L540.7 88.8 L543.0 91.1 L545.3 93.2 L547.6 95.3 L549.9 97.3 L552.2 99.3 L554.5 101.1 L556.9 102.8 L559.2 104.5 L561.5 106.1 L563.8 107.6 L566.1 109.0 L568.4 110.4 L570.8 111.7 L573.1 112.9 L575.4 114.0 L577.7 115.1 L580.0 116.1 L582.3 117.0 L584.7 117.8 L587.0 118.6 L589.3 119.3 L591.6 119.9 L593.9 120.5 L596.2 121.0 L598.6 121.4 L600.9 121.8 L603.2 122.1 L605.5 122.3 L607.8 122.5 L610.1 122.6 L612.5 122.6 L614.8 122.6 L617.1 122.5 L619.4 122.3 L621.7 122.1 L624.0 121.8 L626.4 121.4 L628.7 121.0 L631.0 120.5 L633.3 119.9 L635.6 119.3 L637.9 118.6 L640.3 117.8 L642.6 117.0 L644.9 116.1 L647.2 115.1 L649.5 114.0 L651.8 112.9 L654.2 111.7 L656.5 110.4 L658.8 109.0 L661.1 107.6 L663.4 106.1 L665.7 104.5 L668.1 102.8 L670.4 101.1 L672.7 99.3 L675.0 97.3 L677.3 95.3 L679.6 93.2 L682.0 91.1 L684.3 88.8 L686.6 86.5 L688.9 84.0 L691.2 81.5 L693.5 78.8 L695.9 76.1 L698.2 73.2 L700.5 70.3 L702.8 67.3 L705.1 64.1 L707.4 60.9 L709.7 57.5 L712.1 54.0 L714.4 50.4 L716.7 46.7 L719.0 42.9 L721.3 39.0 L723.6 34.9 L726.0 30.7 L728.3 26.4 L730.6 21.9 L732.9 17.3 L735.2 12.6 L737.5 7.8 L739.9 2.8 L742.2 -2.4 L744.5 -7.7 L746.8 -13.1 L749.1 -18.7" stroke="#0000ff"/>
<path d="M481.1 -14.3 L483.3 -9.9 L485.5 -5.6 L487.8 -1.4 L490.0 2.7 L492.2 6.7 L494.4 10.7 L496.7 14.6 L498.9 18.5 L501.1 22.2 L503.3 25.9 L505.6 29.5 L507.8 33.0 L510.0 36.5 L512.3 39.9 L514.5 43.2 L516.7 46.4 L518.9 49.6 L521.2 52.7 L523.4 55.7 L525.6 58.6 L527.8 61.5 L530.1 64.3 L532.3 67.0 L534.5 69.6 L536.7 72.2 L539.0 74.7 L541.2 77.1 L543.4 79.5 L545.7 81.7 L547.9 83.9 L550.1 86.0 L552.3 88.1 L554.6 90.0 L556.8 91.9 L559.0 93.8 L561.2 95.5 L563.5 97.2 L565.7 98.8 L567.9 100.3 L570.2 101.8 L572.4 103.1 L574.6 104.4 L576.8 105.7 L579.1 106.8 L581.3 107.9 L583.5 108.9 L585.7 109.8 L588.0 110.7 L590.2 111.5 L592.4 112.2 L594.6 112.8 L596.9 113.4 L599.1 113.9 L601.3 114.3 L603.6 114.6 L605.8 114.9 L608.0 115.0 L610.2 115.2 L612.5 115.2 L614.7 115.2 L616.9 115.0 L619.1 114.9 L621.4 114.6 L623.6 114.3 L625.8 113.9 L628.0 113.4 L630.3 112.8 L632.5 112.2 L634.7 111.5 L637.0 110.7 L639.2 109.8 L641.4 108.9 L643.6 107.9 L645.9 106.8 L648.1 105.7 L650.3 104.4 L652.5 103.1 L654.8 101.8 L657.0 100.3 L659.2 98.8 L661.4 97.2 L663.7 95.5 L665.9 93.8 L668.1 91.9 L670.4 90.0 L672.6 88.1 L674.8 86.0 L677.0 83.9 L679.3 81.7 L681.5 79.5 L683.7 77.1 L685.9 74.7 L688.2 72.2 L690.4 69.6 L692.6 67.0 L694.9 64.3 L697.1 61.5 L699.3 58.6 L701.5 55.7 L703.8 52.7 L706.0 49.6 L708.2 46.4 L710.4 43.2 L712.7 39.9 L714.9 36.5 L717.1 33.0 L719.3 29.5 L721.6 25.9 L723.8 22.2 L726.0 18.5 L728.3 14.6 L730.5 10.7 L732.7 6.7 L734.9 2.7 L737.2 -1.4 L739.4 -5.6 L741.6 -9.9 L743.8 -14.3" stroke="#0000ff"/>
<path d="M483.5 -13.9 L485.6 -9.7 L487.8 -5.5 L490.0 -1.4 L492.2 2.6 L494.4 6.6 L496.6 10.5 L498.8 14.3 L500.9 18.1 L503.1 21.7 L505.3 25.3 L507.5 28.9 L509.7 32.3 L511.9 35.7 L514.1 39.0 L516.2 42.3 L518.4 45.4 L520.6 48.5 L522.8 51.5 L525.0 54.5 L527.2 57.4 L529.4 60.2 L531.6 62.9 L533.7 65.6 L535.9 68.1 L538.1 70.6 L540.3 73.1 L542.5 75.5 L544.7 77.7 L546.9 80.0 L549.0 82.1 L551.2 84.2 L553.4 86.2 L555.6 88.1 L557.8 90.0 L560.0 91.8 L562.2 93.5 L564.4 95.1 L566.5 96.7 L568.7 98.2 L570.9 99.6 L573.1 100.9 L575.3 102.2 L577.5 103.4 L579.7 104.5 L581.8 105.6 L584.0 106.6 L586.2 107.5 L588.4 108.3 L590.6 109.1 L592.8 109.8 L595.0 110.4 L597.2 110.9 L599.3 111.4 L601.5 111.8 L603.7 112.1 L605.9 112.4 L608.1 112.6 L610.3 112.7 L612.5 112.7 L614.6 112.7 L616.8 112.6 L619.0 112.4 L621.2 112.1 L623.4 111.8 L625.6 111.4 L627.8 110.9 L630.0 110.4 L632.1 109.8 L634.3 109.1 L636.5 108.3 L638.7 107.5 L640.9 106.6 L643.1 105.6 L645.3 104.5 L647.4 103.4 L649.6 102.2 L651.8 100.9 L654.0 99.6 L656.2 98.2 L658.4 96.7 L660.6 95.1 L662.8 93.5 L664.9 91.8 L667.1 90.0 L669.3 88.1 L671.5 86.2 L673.7 84.2 L675.9 82.1 L678.1 80.0 L680.2 77.7 L682.4 75.5 L684.6 73.1 L686.8 70.6 L689.0 68.1 L691.2 65.6 L693.4 62.9 L695.6 60.2 L697.7 57.4 L699.9 54.5 L702.1 51.5 L704.3 48.5 L706.5 45.4 L708.7 42.3 L710.9 39.0 L713.0 35.7 L715.2 32.3 L717.4 28.9 L719.6 25.3 L721.8 21.7 L724.0 18.1 L726.2 14.3 L728.3 10.5 L730.5 6.6 L732.7 2.6 L734.9 -1.4 L737.1 -5.5 L739.3 -9.7 L741.5 -13.9" stroke="#0000ff"/>
<path d="M486.7 -13.2 L488.9 -9.1 L491.0 -5.2 L493.1 -1.3 L495.3 2.6 L497.4 6.4 L499.5 10.1 L501.6 13.7 L503.8 17.2 L505.9 20.7 L508.0 24.2 L510.2 27.5 L512.3 30.8 L514.4 34.0 L516.6 37.1 L518.7 40.2 L520.8 43.2 L523.0 46.2 L525.1 49.0 L527.2 51.8 L529.4 54.6 L531.5 57.2 L533.6 59.8 L535.7 62.3 L537.9 64.8 L540.0 67.2 L542.1 69.5 L544.3 71.7 L546.4 73.9 L548.5 76.0 L550.7 78.1 L552.8 80.0 L554.9 81.9 L557.1 83.8 L559.2 85.5 L561.3 87.2 L563.4 88.8 L565.6 90.4 L567.7 91.9 L569.8 93.3 L572.0 94.7 L574.1 95.9 L576.2 97.1 L578.4 98.3 L580.5 99.4 L582.6 100.4 L584.8 101.3 L586.9 102.2 L589.0 102.9 L591.2 103.7 L593.3 104.3 L595.4 104.9 L597.5 105.4 L599.7 105.9 L601.8 106.3 L603.9 106.6 L606.1 106.8 L608.2 107.0 L610.3 107.1 L612.5 107.1 L614.6 107.1 L616.7 107.0 L618.9 106.8 L621.0 106.6 L623.1 106.3 L625.2 105.9 L627.4 105.4 L629.5 104.9 L631.6 104.3 L633.8 103.7 L635.9 102.9 L638.0 102.2 L640.2 101.3 L642.3 100.4 L644.4 99.4 L646.6 98.3 L648.7 97.1 L650.8 95.9 L652.9 94.7 L655.1 93.3 L657.2 91.9 L659.3 90.4 L661.5 88.8 L663.6 87.2 L665.7 85.5 L667.9 83.8 L670.0 81.9 L672.1 80.0 L674.3 78.1 L676.4 76.0 L678.5 73.9 L680.7 71.7 L682.8 69.5 L684.9 67.2 L687.0 64.8 L689.2 62.3 L691.3 59.8 L693.4 57.2 L695.6 54.6 L697.7 51.8 L699.8 49.0 L702.0 46.2 L704.1 43.2 L706.2 40.2 L708.4 37.1 L710.5 34.0 L712.6 30.8 L714.7 27.5 L716.9 24.2 L719.0 20.7 L721.1 17.2 L723.3 13.7 L725.4 10.1 L727.5 6.4 L729.7 2.6 L731.8 -1.3 L733.9 -5.2 L736.1 -9.1 L738.2 -13.2" stroke="#0000ff"/>
<path d="M498.2 -11.1 L500.2 -7.6 L502.1 -4.2 L504.0 -0.9 L506.0 2.4 L507.9 5.6 L509.8 8.8 L511.8 11.9 L513.7 14.9 L515.6 17.9 L517.6 20.8 L519.5 23.7 L521.5 26.5 L523.4 29.2 L525.3 31.9 L527.3 34.5 L529.2 37.1 L531.1 39.6 L533.1 42.0 L535.0 44.4 L536.9 46.8 L538.9 49.0 L540.8 51.2 L542.8 53.4 L544.7 55.5 L546.6 57.5 L548.6 59.5 L550.5 61.4 L552.4 63.3 L554.4 65.1 L556.3 66.8 L558.2 68.5 L560.2 70.1 L562.1 71.7 L564.1 73.2 L566.0 74.6 L567.9 76.0 L569.9 77.4 L571.8 78.6 L573.7 79.8 L575.7 81.0 L577.6 82.1 L579.5 83.1 L581.5 84.1 L583.4 85.0 L585.4 85.8 L587.3 86.6 L589.2 87.4 L591.2 88.1 L593.1 88.7 L595.0 89.2 L597.0 89.7 L598.9 90.2 L600.8 90.6 L602.8 90.9 L604.7 91.2 L606.7 91.4 L608.6 91.5 L610.5 91.6 L612.5 91.6 L614.4 91.6 L616.3 91.5 L618.3 91.4 L620.2 91.2 L622.1 90.9 L624.1 90.6 L626.0 90.2 L627.9 89.7 L629.9 89.2 L631.8 88.7 L633.8 88.1 L635.7 87.4 L637.6 86.6 L639.6 85.8 L641.5 85.0 L643.4 84.1 L645.4 83.1 L647.3 82.1 L649.2 81.0 L651.2 79.8 L653.1 78.6 L655.1 77.4 L657.0 76.0 L658.9 74.6 L660.9 73.2 L662.8 71.7 L664.7 70.1 L666.7 68.5 L668.6 66.8 L670.5 65.1 L672.5 63.3 L674.4 61.4 L676.4 59.5 L678.3 57.5 L680.2 55.5 L682.2 53.4 L684.1 51.2 L686.0 49.0 L688.0 46.8 L689.9 44.4 L691.8 42.0 L693.8 39.6 L695.7 37.1 L697.7 34.5 L699.6 31.9 L701.5 29.2 L703.5 26.5 L705.4 23.7 L707.3 20.8 L709.3 17.9 L711.2 14.9 L713.1 11.9 L715.1 8.8 L717.0 5.6 L719.0 2.4 L720.9 -0.9 L722.8 -4.2 L724.8 -7.6 L726.7 -11.1" stroke="#0000ff"/>
<path d="M499.7 -9.9 L501.6 -6.7 L503.5 -3.6 L505.4 -0.6 L507.3 2.4 L509.2 5.3 L511.1 8.2 L513.1 11.1 L515.0 13.8 L516.9 16.6 L518.8 19.2 L520.7 21.8 L522.6 24.4 L524.5 26.9 L526.4 29.3 L528.4 31.7 L530.3 34.1 L532.2 36.4 L534.1 38.6 L536.0 40.8 L537.9 42.9 L539.8 45.0 L541.7 47.0 L543.6 49.0 L545.6 50.9 L547.5 52.7 L549.4 54.6 L551.3 56.3 L553.2 58.0 L555.1 59.6 L557.0 61.2 L558.9 62.8 L560.8 64.2 L562.8 65.7 L564.7 67.0 L566.6 68.4 L568.5 69.6 L570.4 70.8 L572.3 72.0 L574.2 73.1 L576.1 74.2 L578.1 75.2 L580.0 76.1 L581.9 77.0 L583.8 77.8 L585.7 78.6 L587.6 79.3 L589.5 80.0 L591.4 80.6 L593.3 81.2 L595.3 81.7 L597.2 82.2 L599.1 82.6 L601.0 82.9 L602.9 83.2 L604.8 83.4 L606.7 83.6 L608.6 83.8 L610.5 83.9 L612.5 83.9 L614.4 83.9 L616.3 83.8 L618.2 83.6 L620.1 83.4 L622.0 83.2 L623.9 82.9 L625.8 82.6 L627.8 82.2 L629.7 81.7 L631.6 81.2 L633.5 80.6 L635.4 80.0 L637.3 79.3 L639.2 78.6 L641.1 77.8 L643.0 77.0 L645.0 76.1 L646.9 75.2 L648.8 74.2 L650.7 73.1 L652.6 72.0 L654.5 70.8 L656.4 69.6 L658.3 68.4 L660.2 67.0 L662.2 65.7 L664.1 64.2 L666.0 62.8 L667.9 61.2 L669.8 59.6 L671.7 58.0 L673.6 56.3 L675.5 54.6 L677.5 52.7 L679.4 50.9 L681.3 49.0 L683.2 47.0 L685.1 45.0 L687.0 42.9 L688.9 40.8 L690.8 38.6 L692.7 36.4 L694.7 34.1 L696.6 31.7 L698.5 29.3 L700.4 26.9 L702.3 24.4 L704.2 21.8 L706.1 19.2 L708.0 16.6 L709.9 13.8 L711.9 11.1 L713.8 8.2 L715.7 5.3 L717.6 2.4 L719.5 -0.6 L721.4 -3.6 L723.3 -6.7 L725.2 -9.9" stroke="#0000ff"/>
<path d="M505.0 -8.6 L506.8 -5.8 L508.6 -3.0 L510.4 -0.3 L512.3 2.4 L514.1 5.0 L515.9 7.5 L517.7 10.1 L519.5 12.5 L521.4 15.0 L523.2 17.3 L525.0 19.6 L526.8 21.9 L528.7 24.2 L530.5 26.3 L532.3 28.5 L534.1 30.6 L535.9 32.6 L537.8 34.6 L539.6 36.5 L541.4 38.4 L543.2 40.3 L545.1 42.1 L546.9 43.8 L548.7 45.5 L550.5 47.2 L552.3 48.8 L554.2 50.3 L556.0 51.8 L557.8 53.3 L559.6 54.7 L561.4 56.1 L563.3 57.4 L565.1 58.7 L566.9 59.9 L568.7 61.1 L570.6 62.2 L572.4 63.3 L574.2 64.3 L576.0 65.3 L577.8 66.2 L579.7 67.1 L581.5 68.0 L583.3 68.8 L585.1 69.5 L587.0 70.2 L588.8 70.8 L590.6 71.4 L592.4 72.0 L594.2 72.5 L596.1 72.9 L597.9 73.4 L599.7 73.7 L601.5 74.0 L603.4 74.3 L605.2 74.5 L607.0 74.7 L608.8 74.8 L610.6 74.9 L612.5 74.9 L614.3 74.9 L616.1 74.8 L617.9 74.7 L619.7 74.5 L621.6 74.3 L623.4 74.0 L625.2 73.7 L627.0 73.4 L628.9 72.9 L630.7 72.5 L632.5 72.0 L634.3 71.4 L636.1 70.8 L638.0 70.2 L639.8 69.5 L641.6 68.8 L643.4 68.0 L645.3 67.1 L647.1 66.2 L648.9 65.3 L650.7 64.3 L652.5 63.3 L654.4 62.2 L656.2 61.1 L658.0 59.9 L659.8 58.7 L661.7 57.4 L663.5 56.1 L665.3 54.7 L667.1 53.3 L668.9 51.8 L670.8 50.3 L672.6 48.8 L674.4 47.2 L676.2 45.5 L678.0 43.8 L679.9 42.1 L681.7 40.3 L683.5 38.4 L685.3 36.5 L687.2 34.6 L689.0 32.6 L690.8 30.6 L692.6 28.5 L694.4 26.3 L696.3 24.2 L698.1 21.9 L699.9 19.6 L701.7 17.3 L703.6 15.0 L705.4 12.5 L707.2 10.1 L709.0 7.5 L710.8 5.0 L712.7 2.4 L714.5 -0.3 L716.3 -3.0 L718.1 -5.8 L720.0 -8.6" stroke="#0000ff"/>
<path d="M519.9 -5.9 L521.5 -3.8 L523.1 -1.7 L524.6 0.3 L526.2 2.2 L527.8 4.2 L529.3 6.1 L530.9 7.9 L532.5 9.8 L534.0 11.6 L535.6 13.3 L537.2 15.0 L538.7 16.7 L540.3 18.4 L541.9 20.0 L543.4 21.6 L545.0 23.1 L546.6 24.6 L548.2 26.1 L549.7 27.6 L551.3 29.0 L552.9 30.3 L554.4 31.7 L556.0 33.0 L557.6 34.2 L559.1 35.4 L560.7 36.6 L562.3 37.8 L563.8 38.9 L565.4 40.0 L567.0 41.0 L568.5 42.1 L570.1 43.0 L571.7 44.0 L573.2 44.9 L574.8 45.7 L576.4 46.6 L578.0 47.4 L579.5 48.1 L581.1 48.9 L582.7 49.6 L584.2 50.2 L585.8 50.8 L587.4 51.4 L588.9 52.0 L590.5 52.5 L592.1 53.0 L593.6 53.4 L595.2 53.8 L596.8 54.2 L598.3 54.5 L599.9 54.8 L601.5 55.1 L603.0 55.3 L604.6 55.5 L606.2 55.7 L607.8 55.8 L609.3 55.9 L610.9 56.0 L612.5 56.0 L614.0 56.0 L615.6 55.9 L617.2 55.8 L618.7 55.7 L620.3 55.5 L621.9 55.3 L623.4 55.1 L625.0 54.8 L626.6 54.5 L628.1 54.2 L629.7 53.8 L631.3 53.4 L632.8 53.0 L634.4 52.5 L636.0 52.0 L637.6 51.4 L639.1 50.8 L640.7 50.2 L642.3 49.6 L643.8 48.9 L645.4 48.1 L647.0 47.4 L648.5 46.6 L650.1 45.7 L651.7 44.9 L653.2 44.0 L654.8 43.0 L656.4 42.1 L657.9 41.0 L659.5 40.0 L661.1 38.9 L662.6 37.8 L664.2 36.6 L665.8 35.4 L667.4 34.2 L668.9 33.0 L670.5 31.7 L672.1 30.3 L673.6 29.0 L675.2 27.6 L676.8 26.1 L678.3 24.6 L679.9 23.1 L681.5 21.6 L683.0 20.0 L684.6 18.4 L686.2 16.7 L687.7 15.0 L689.3 13.3 L690.9 11.6 L692.4 9.8 L694.0 7.9 L695.6 6.1 L697.2 4.2 L698.7 2.2 L700.3 0.3 L701.9 -1.7 L703.4 -3.8 L705.0 -5.9" stroke="#0000ff"/>
<path d="M523.9 -5.8 L525.4 -3.7 L526.9 -1.7 L528.4 0.2 L529.9 2.2 L531.4 4.1 L532.9 5.9 L534.4 7.7 L535.9 9.5 L537.4 11.3 L538.9 13.0 L540.4 14.7 L541.9 16.3 L543.4 18.0 L544.9 19.5 L546.4 21.1 L547.9 22.6 L549.4 24.1 L550.9 25.5 L552.4 26.9 L553.9 28.3 L555.4 29.6 L556.9 30.9 L558.4 32.2 L559.9 33.5 L561.4 34.6 L562.9 35.8 L564.4 36.9 L565.9 38.0 L567.4 39.1 L568.9 40.1 L570.4 41.1 L571.9 42.1 L573.4 43.0 L574.9 43.9 L576.4 44.7 L578.0 45.5 L579.5 46.3 L581.0 47.1 L582.5 47.8 L584.0 48.5 L585.5 49.1 L587.0 49.7 L588.5 50.3 L590.0 50.8 L591.5 51.3 L593.0 51.8 L594.5 52.2 L596.0 52.6 L597.5 53.0 L599.0 53.3 L600.5 53.6 L602.0 53.9 L603.5 54.1 L605.0 54.3 L606.5 54.5 L608.0 54.6 L609.5 54.7 L611.0 54.7 L612.5 54.7 L614.0 54.7 L615.5 54.7 L617.0 54.6 L618.5 54.5 L620.0 54.3 L621.5 54.1 L623.0 53.9 L624.5 53.6 L626.0 53.3 L627.5 53.0 L629.0 52.6 L630.5 52.2 L632.0 51.8 L633.5 51.3 L635.0 50.8 L636.5 50.3 L638.0 49.7 L639.5 49.1 L641.0 48.5 L642.5 47.8 L644.0 47.1 L645.5 46.3 L647.0 45.5 L648.5 44.7 L650.0 43.9 L651.5 43.0 L653.0 42.1 L654.5 41.1 L656.0 40.1 L657.5 39.1 L659.0 38.0 L660.5 36.9 L662.0 35.8 L663.5 34.6 L665.0 33.5 L666.5 32.2 L668.0 30.9 L669.5 29.6 L671.0 28.3 L672.5 26.9 L674.0 25.5 L675.5 24.1 L677.0 22.6 L678.5 21.1 L680.0 19.5 L681.5 18.0 L683.0 16.3 L684.5 14.7 L686.0 13.0 L687.5 11.3 L689.0 9.5 L690.5 7.7 L692.0 5.9 L693.5 4.1 L695.0 2.2 L696.5 0.2 L698.0 -1.7 L699.5 -3.7 L701.0 -5.8" stroke="#0000ff"/>
<path d="M527.2 -5.1 L528.7 -3.2 L530.1 -1.4 L531.6 0.4 L533.0 2.2 L534.4 3.9 L535.9 5.6 L537.3 7.3 L538.8 8.9 L540.2 10.5 L541.7 12.1 L543.1 13.6 L544.6 15.1 L546.0 16.6 L547.4 18.0 L548.9 19.4 L550.3 20.8 L551.8 22.1 L553.2 23.5 L554.7 24.7 L556.1 26.0 L557.6 27.2 L559.0 28.4 L560.4 29.6 L561.9 30.7 L563.3 31.8 L564.8 32.8 L566.2 33.9 L567.7 34.9 L569.1 35.8 L570.6 36.8 L572.0 37.7 L573.5 38.5 L574.9 39.4 L576.3 40.2 L577.8 41.0 L579.2 41.7 L580.7 42.4 L582.1 43.1 L583.6 43.8 L585.0 44.4 L586.5 45.0 L587.9 45.5 L589.3 46.0 L590.8 46.5 L592.2 47.0 L593.7 47.4 L595.1 47.8 L596.6 48.2 L598.0 48.5 L599.5 48.8 L600.9 49.1 L602.3 49.3 L603.8 49.5 L605.2 49.7 L606.7 49.8 L608.1 49.9 L609.6 50.0 L611.0 50.1 L612.5 50.1 L613.9 50.1 L615.3 50.0 L616.8 49.9 L618.2 49.8 L619.7 49.7 L621.1 49.5 L622.6 49.3 L624.0 49.1 L625.5 48.8 L626.9 48.5 L628.4 48.2 L629.8 47.8 L631.2 47.4 L632.7 47.0 L634.1 46.5 L635.6 46.0 L637.0 45.5 L638.5 45.0 L639.9 44.4 L641.4 43.8 L642.8 43.1 L644.2 42.4 L645.7 41.7 L647.1 41.0 L648.6 40.2 L650.0 39.4 L651.5 38.5 L652.9 37.7 L654.4 36.8 L655.8 35.8 L657.2 34.9 L658.7 33.9 L660.1 32.8 L661.6 31.8 L663.0 30.7 L664.5 29.6 L665.9 28.4 L667.4 27.2 L668.8 26.0 L670.3 24.7 L671.7 23.5 L673.1 22.1 L674.6 20.8 L676.0 19.4 L677.5 18.0 L678.9 16.6 L680.4 15.1 L681.8 13.6 L683.3 12.1 L684.7 10.5 L686.1 8.9 L687.6 7.3 L689.0 5.6 L690.5 3.9 L691.9 2.2 L693.4 0.4 L694.8 -1.4 L696.3 -3.2 L697.7 -5.1" stroke="#0000ff"/>
<path d="M533.2 -4.0 L534.6 -2.5 L535.9 -0.9 L537.3 0.6 L538.6 2.2 L539.9 3.6 L541.3 5.1 L542.6 6.5 L544.0 7.9 L545.3 9.3 L546.7 10.6 L548.0 12.0 L549.3 13.2 L550.7 14.5 L552.0 15.7 L553.4 17.0 L554.7 18.1 L556.1 19.3 L557.4 20.4 L558.7 21.5 L560.1 22.6 L561.4 23.6 L562.8 24.7 L564.1 25.7 L565.5 26.6 L566.8 27.6 L568.1 28.5 L569.5 29.4 L570.8 30.2 L572.2 31.0 L573.5 31.8 L574.9 32.6 L576.2 33.4 L577.5 34.1 L578.9 34.8 L580.2 35.4 L581.6 36.1 L582.9 36.7 L584.3 37.3 L585.6 37.8 L586.9 38.4 L588.3 38.9 L589.6 39.3 L591.0 39.8 L592.3 40.2 L593.7 40.6 L595.0 41.0 L596.3 41.3 L597.7 41.6 L599.0 41.9 L600.4 42.2 L601.7 42.4 L603.1 42.6 L604.4 42.8 L605.7 42.9 L607.1 43.1 L608.4 43.1 L609.8 43.2 L611.1 43.3 L612.5 43.3 L613.8 43.3 L615.1 43.2 L616.5 43.1 L617.8 43.1 L619.2 42.9 L620.5 42.8 L621.9 42.6 L623.2 42.4 L624.5 42.2 L625.9 41.9 L627.2 41.6 L628.6 41.3 L629.9 41.0 L631.3 40.6 L632.6 40.2 L633.9 39.8 L635.3 39.3 L636.6 38.9 L638.0 38.4 L639.3 37.8 L640.7 37.3 L642.0 36.7 L643.3 36.1 L644.7 35.4 L646.0 34.8 L647.4 34.1 L648.7 33.4 L650.1 32.6 L651.4 31.8 L652.7 31.0 L654.1 30.2 L655.4 29.4 L656.8 28.5 L658.1 27.6 L659.5 26.6 L660.8 25.7 L662.1 24.7 L663.5 23.6 L664.8 22.6 L666.2 21.5 L667.5 20.4 L668.9 19.3 L670.2 18.1 L671.5 17.0 L672.9 15.7 L674.2 14.5 L675.6 13.2 L676.9 12.0 L678.3 10.6 L679.6 9.3 L680.9 7.9 L682.3 6.5 L683.6 5.1 L685.0 3.6 L686.3 2.2 L687.7 0.6 L689.0 -0.9 L690.3 -2.5 L691.7 -4.0" stroke="#0000ff"/>
<path d="M537.2 -3.6 L538.5 -2.1 L539.8 -0.7 L541.1 0.7 L542.3 2.1 L543.6 3.5 L544.9 4.8 L546.2 6.2 L547.4 7.5 L548.7 8.7 L550.0 10.0 L551.3 11.2 L552.5 12.4 L553.8 13.6 L555.1 14.7 L556.4 15.8 L557.6 16.9 L558.9 18.0 L560.2 19.0 L561.5 20.0 L562.7 21.0 L564.0 22.0 L565.3 23.0 L566.6 23.9 L567.8 24.8 L569.1 25.6 L570.4 26.5 L571.7 27.3 L572.9 28.1 L574.2 28.9 L575.5 29.6 L576.8 30.3 L578.0 31.0 L579.3 31.7 L580.6 32.3 L581.9 32.9 L583.1 33.5 L584.4 34.1 L585.7 34.6 L587.0 35.1 L588.2 35.6 L589.5 36.1 L590.8 36.5 L592.1 37.0 L593.3 37.3 L594.6 37.7 L595.9 38.0 L597.2 38.4 L598.4 38.6 L599.7 38.9 L601.0 39.2 L602.3 39.4 L603.5 39.6 L604.8 39.7 L606.1 39.9 L607.4 40.0 L608.6 40.1 L609.9 40.1 L611.2 40.2 L612.5 40.2 L613.7 40.2 L615.0 40.1 L616.3 40.1 L617.6 40.0 L618.8 39.9 L620.1 39.7 L621.4 39.6 L622.7 39.4 L623.9 39.2 L625.2 38.9 L626.5 38.6 L627.8 38.4 L629.0 38.0 L630.3 37.7 L631.6 37.3 L632.9 37.0 L634.1 36.5 L635.4 36.1 L636.7 35.6 L638.0 35.1 L639.2 34.6 L640.5 34.1 L641.8 33.5 L643.1 32.9 L644.3 32.3 L645.6 31.7 L646.9 31.0 L648.2 30.3 L649.4 29.6 L650.7 28.9 L652.0 28.1 L653.3 27.3 L654.5 26.5 L655.8 25.6 L657.1 24.8 L658.4 23.9 L659.6 23.0 L660.9 22.0 L662.2 21.0 L663.5 20.0 L664.7 19.0 L666.0 18.0 L667.3 16.9 L668.6 15.8 L669.8 14.7 L671.1 13.6 L672.4 12.4 L673.6 11.2 L674.9 10.0 L676.2 8.7 L677.5 7.5 L678.7 6.2 L680.0 4.8 L681.3 3.5 L682.6 2.1 L683.8 0.7 L685.1 -0.7 L686.4 -2.1 L687.7 -3.6" stroke="#0000ff"/>
<path d="M582.1 1.2 L582.6 1.5 L583.1 1.8 L583.7 2.0 L584.2 2.3 L584.7 2.6 L585.2 2.8 L585.7 3.1 L586.2 3.4 L586.7 3.6 L587.3 3.9 L587.8 4.1 L588.3 4.3 L588.8 4.6 L589.3 4.8 L589.8 5.0 L590.3 5.2 L590.9 5.4 L591.4 5.6 L591.9 5.8 L592.4 6.0 L592.9 6.2 L593.4 6.4 L593.9 6.6 L594.5 6.8 L595.0 6.9 L595.5 7.1 L596.0 7.3 L596.5 7.4 L597.0 7.6 L597.5 7.7 L598.1 7.9 L598.6 8.0 L599.1 8.1 L599.6 8.2 L600.1 8.4 L600.6 8.5 L601.1 8.6 L601.7 8.7 L602.2 8.8 L602.7 8.9 L603.2 9.0 L603.7 9.1 L604.2 9.2 L604.7 9.2 L605.3 9.3 L605.8 9.4 L606.3 9.4 L606.8 9.5 L607.3 9.5 L607.8 9.6 L608.3 9.6 L608.9 9.7 L609.4 9.7 L609.9 9.7 L610.4 9.8 L610.9 9.8 L611.4 9.8 L611.9 9.8 L612.5 9.8 L613.0 9.8 L613.5 9.8 L614.0 9.8 L614.5 9.8 L615.0 9.7 L615.5 9.7 L616.1 9.7 L616.6 9.6 L617.1 9.6 L617.6 9.5 L618.1 9.5 L618.6 9.4 L619.1 9.4 L619.7 9.3 L620.2 9.2 L620.7 9.2 L621.2 9.1 L621.7 9.0 L622.2 8.9 L622.7 8.8 L623.3 8.7 L623.8 8.6 L624.3 8.5 L624.8 8.4 L625.3 8.2 L625.8 8.1 L626.3 8.0 L626.9 7.9 L627.4 7.7 L627.9 7.6 L628.4 7.4 L628.9 7.3 L629.4 7.1 L630.0 6.9 L630.5 6.8 L631.0 6.6 L631.5 6.4 L632.0 6.2 L632.5 6.0 L633.0 5.8 L633.6 5.6 L634.1 5.4 L634.6 5.2 L635.1 5.0 L635.6 4.8 L636.1 4.6 L636.6 4.3 L637.2 4.1 L637.7 3.9 L638.2 3.6 L638.7 3.4 L639.2 3.1 L639.7 2.8 L640.2 2.6 L640.8 2.3 L641.3 2.0 L641.8 1.8 L642.3 1.5 L642.8 1.2" stroke="#0000ff"/>
</g>
<path d="M440.42 359.47 h13.3 M784.50 359.47 h-13.3 M440.42 297.47 h13.3 M784.50 297.47 h-13.3 M440.42 235.47 h13.3 M784.50 235.47 h-13.3 M440.42 173.47 h13.3 M784.50 173.47 h-13.3 M440.42 111.47 h13.3 M784.50 111.47 h-13.3 M440.42 49.47 h13.3 M784.50 49.47 h-13.3 M612.5 3.0 v13 M612.5 390.2 v-13" stroke="#000" stroke-width="1.15" fill="none"/>
<rect x="440.42" y="3.00" width="344.08" height="387.20" fill="none" stroke="#000" stroke-width="1.2"/>
<path d="M80.55 820.46 H424.58 M80.55 758.46 H424.58 M80.55 696.46 H424.58 M80.55 634.46 H424.58 M80.55 572.46 H424.58 M80.55 510.46 H424.58 M252.6 464.0 V851.3" stroke="#444" stroke-width="0.8" stroke-dasharray="1.9 1.4" fill="none"/>
<g clip-path="url(#cc)" fill="none" stroke-width="1.8" stroke-linejoin="round">
<path d="M80.6 586.4 L82.5 586.7 L84.4 587.5 L86.3 588.9 L88.3 590.7 L90.2 593.0 L92.1 595.7 L94.1 598.8 L96.0 602.2 L97.9 605.9 L99.9 609.9 L101.8 614.0 L103.7 618.2 L105.7 622.6 L107.6 627.0 L109.5 631.4 L111.5 635.8 L113.4 640.1 L115.3 644.5 L117.3 648.7 L119.2 652.9 L121.1 657.1 L123.1 661.2 L125.0 665.3 L126.9 669.3 L128.9 673.2 L130.8 677.2 L132.7 681.1 L134.7 685.0 L136.6 688.8 L138.5 692.7 L140.5 696.4 L142.4 700.1 L144.3 703.8 L146.3 707.4 L148.2 710.8 L150.1 714.2 L152.1 717.5 L154.0 720.6 L155.9 723.6 L157.9 726.4 L159.8 729.1 L161.7 731.7 L163.7 734.1 L165.6 736.4 L167.5 738.6 L169.5 740.6 L171.4 742.6 L173.3 744.5 L175.3 746.4 L177.2 748.1 L179.1 749.9 L181.1 751.5 L183.0 753.2 L184.9 754.8 L186.9 756.4 L188.8 757.9 L190.7 759.4 L192.6 760.8 L194.6 762.2 L196.5 763.5 L198.4 764.7 L200.4 765.9 L202.3 767.0 L204.2 767.9 L206.2 768.8 L208.1 769.6 L210.0 770.4 L212.0 771.0 L213.9 771.6 L215.8 772.1 L217.8 772.6 L219.7 773.1 L221.6 773.5 L223.6 773.9 L225.5 774.3 L227.4 774.7 L229.4 775.1 L231.3 775.5 L233.2 775.9 L235.2 776.3 L237.1 776.7 L239.0 777.1 L241.0 777.5 L242.9 777.8 L244.8 778.1 L246.8 778.3 L248.7 778.5 L250.6 778.6 L252.6 778.6 L254.5 778.6 L256.4 778.5 L258.4 778.3 L260.3 778.1 L262.2 777.8 L264.2 777.5 L266.1 777.1 L268.0 776.7 L270.0 776.3 L271.9 775.9 L273.8 775.5 L275.8 775.1 L277.7 774.7 L279.6 774.3 L281.6 773.9 L283.5 773.5 L285.4 773.1 L287.4 772.6 L289.3 772.1 L291.2 771.6 L293.2 771.0 L295.1 770.4 L297.0 769.6 L299.0 768.8 L300.9 767.9 L302.8 767.0 L304.7 765.9 L306.7 764.7 L308.6 763.5 L310.5 762.2 L312.5 760.8 L314.4 759.4 L316.3 757.9 L318.3 756.4 L320.2 754.8 L322.1 753.2 L324.1 751.5 L326.0 749.9 L327.9 748.1 L329.9 746.4 L331.8 744.5 L333.7 742.6 L335.7 740.6 L337.6 738.6 L339.5 736.4 L341.5 734.1 L343.4 731.7 L345.3 729.1 L347.3 726.4 L349.2 723.6 L351.1 720.6 L353.1 717.5 L355.0 714.2 L356.9 710.8 L358.9 707.4 L360.8 703.8 L362.7 700.1 L364.7 696.4 L366.6 692.7 L368.5 688.8 L370.5 685.0 L372.4 681.1 L374.3 677.2 L376.3 673.2 L378.2 669.3 L380.1 665.3 L382.1 661.2 L384.0 657.1 L385.9 652.9 L387.9 648.7 L389.8 644.5 L391.7 640.1 L393.7 635.8 L395.6 631.4 L397.5 627.0 L399.5 622.6 L401.4 618.2 L403.3 614.0 L405.3 609.9 L407.2 605.9 L409.1 602.2 L411.1 598.8 L413.0 595.7 L414.9 593.0 L416.8 590.7 L418.8 588.9 L420.7 587.5 L422.6 586.7 L424.6 586.4" stroke="#ff0000"/>
<path d="M90.9 434.8 L93.7 442.7 L96.4 450.2 L99.2 457.5 L101.9 464.4 L104.6 471.0 L107.4 477.4 L110.1 483.6 L112.9 489.6 L115.6 495.4 L118.3 501.0 L121.1 506.5 L123.8 511.9 L126.5 517.1 L129.3 522.3 L132.0 527.3 L134.8 532.3 L137.5 537.1 L140.2 541.9 L143.0 546.6 L145.7 551.3 L148.5 555.9 L151.2 560.4 L153.9 564.9 L156.7 569.3 L159.4 573.6 L162.2 577.9 L164.9 582.1 L167.6 586.3 L170.4 590.3 L173.1 594.3 L175.9 598.3 L178.6 602.1 L181.3 605.9 L184.1 609.6 L186.8 613.2 L189.6 616.7 L192.3 620.0 L195.0 623.3 L197.8 626.5 L200.5 629.6 L203.3 632.5 L206.0 635.3 L208.7 638.0 L211.5 640.5 L214.2 642.9 L217.0 645.2 L219.7 647.3 L222.4 649.2 L225.2 651.0 L227.9 652.7 L230.6 654.1 L233.4 655.4 L236.1 656.6 L238.9 657.5 L241.6 658.3 L244.3 658.9 L247.1 659.4 L249.8 659.7 L252.6 659.7 L255.3 659.7 L258.0 659.4 L260.8 658.9 L263.5 658.3 L266.3 657.5 L269.0 656.6 L271.7 655.4 L274.5 654.1 L277.2 652.7 L280.0 651.0 L282.7 649.2 L285.4 647.3 L288.2 645.2 L290.9 642.9 L293.7 640.5 L296.4 638.0 L299.1 635.3 L301.9 632.5 L304.6 629.6 L307.4 626.5 L310.1 623.3 L312.8 620.0 L315.6 616.7 L318.3 613.2 L321.1 609.6 L323.8 605.9 L326.5 602.1 L329.3 598.3 L332.0 594.3 L334.7 590.3 L337.5 586.3 L340.2 582.1 L343.0 577.9 L345.7 573.6 L348.4 569.3 L351.2 564.9 L353.9 560.4 L356.7 555.9 L359.4 551.3 L362.1 546.6 L364.9 541.9 L367.6 537.1 L370.4 532.3 L373.1 527.3 L375.8 522.3 L378.6 517.1 L381.3 511.9 L384.1 506.5 L386.8 501.0 L389.5 495.4 L392.3 489.6 L395.0 483.6 L397.8 477.4 L400.5 471.0 L403.2 464.4 L406.0 457.5 L408.7 450.2 L411.5 442.7 L414.2 434.8" stroke="#ff0000"/>
<path d="M80.6 727.5 L82.5 727.5 L84.4 727.5 L86.3 727.6 L88.3 727.6 L90.2 727.7 L92.1 727.9 L94.1 728.1 L96.0 728.3 L97.9 728.6 L99.9 728.9 L101.8 729.3 L103.7 729.8 L105.7 730.4 L107.6 731.0 L109.5 731.7 L111.5 732.5 L113.4 733.3 L115.3 734.2 L117.3 735.3 L119.2 736.3 L121.1 737.5 L123.1 738.7 L125.0 740.0 L126.9 741.3 L128.9 742.6 L130.8 744.1 L132.7 745.5 L134.7 747.0 L136.6 748.5 L138.5 750.0 L140.5 751.6 L142.4 753.2 L144.3 754.8 L146.3 756.5 L148.2 758.2 L150.1 759.9 L152.1 761.7 L154.0 763.5 L155.9 765.4 L157.9 767.3 L159.8 769.3 L161.7 771.3 L163.7 773.4 L165.6 775.6 L167.5 777.8 L169.5 780.1 L171.4 782.4 L173.3 784.7 L175.3 787.1 L177.2 789.6 L179.1 792.0 L181.1 794.5 L183.0 797.0 L184.9 799.4 L186.9 801.9 L188.8 804.3 L190.7 806.7 L192.6 809.0 L194.6 811.3 L196.5 813.5 L198.4 815.6 L200.4 817.7 L202.3 819.8 L204.2 821.7 L206.2 823.6 L208.1 825.4 L210.0 827.1 L212.0 828.7 L213.9 830.3 L215.8 831.8 L217.8 833.3 L219.7 834.7 L221.6 836.0 L223.6 837.3 L225.5 838.5 L227.4 839.6 L229.4 840.7 L231.3 841.7 L233.2 842.6 L235.2 843.5 L237.1 844.3 L239.0 845.0 L241.0 845.6 L242.9 846.2 L244.8 846.6 L246.8 847.0 L248.7 847.2 L250.6 847.4 L252.6 847.4 L254.5 847.4 L256.4 847.2 L258.4 847.0 L260.3 846.6 L262.2 846.2 L264.2 845.6 L266.1 845.0 L268.0 844.3 L270.0 843.5 L271.9 842.6 L273.8 841.7 L275.8 840.7 L277.7 839.6 L279.6 838.5 L281.6 837.3 L283.5 836.0 L285.4 834.7 L287.4 833.3 L289.3 831.8 L291.2 830.3 L293.2 828.7 L295.1 827.1 L297.0 825.4 L299.0 823.6 L300.9 821.7 L302.8 819.8 L304.7 817.7 L306.7 815.6 L308.6 813.5 L310.5 811.3 L312.5 809.0 L314.4 806.7 L316.3 804.3 L318.3 801.9 L320.2 799.4 L322.1 797.0 L324.1 794.5 L326.0 792.0 L327.9 789.6 L329.9 787.1 L331.8 784.7 L333.7 782.4 L335.7 780.1 L337.6 777.8 L339.5 775.6 L341.5 773.4 L343.4 771.3 L345.3 769.3 L347.3 767.3 L349.2 765.4 L351.1 763.5 L353.1 761.7 L355.0 759.9 L356.9 758.2 L358.9 756.5 L360.8 754.8 L362.7 753.2 L364.7 751.6 L366.6 750.0 L368.5 748.5 L370.5 747.0 L372.4 745.5 L374.3 744.1 L376.3 742.6 L378.2 741.3 L380.1 740.0 L382.1 738.7 L384.0 737.5 L385.9 736.3 L387.9 735.3 L389.8 734.2 L391.7 733.3 L393.7 732.5 L395.6 731.7 L397.5 731.0 L399.5 730.4 L401.4 729.8 L403.3 729.3 L405.3 728.9 L407.2 728.6 L409.1 728.3 L411.1 728.1 L413.0 727.9 L414.9 727.7 L416.8 727.6 L418.8 727.6 L420.7 727.5 L422.6 727.5 L424.6 727.5" stroke="#ff0000"/>
<path d="M80.6 778.0 L82.5 778.0 L84.4 778.0 L86.3 778.0 L88.3 778.1 L90.2 778.1 L92.1 778.2 L94.1 778.3 L96.0 778.4 L97.9 778.5 L99.9 778.6 L101.8 778.7 L103.7 778.8 L105.7 779.0 L107.6 779.1 L109.5 779.3 L111.5 779.4 L113.4 779.6 L115.3 779.8 L117.3 780.0 L119.2 780.2 L121.1 780.5 L123.1 780.7 L125.0 780.9 L126.9 781.2 L128.9 781.5 L130.8 781.7 L132.7 782.0 L134.7 782.3 L136.6 782.6 L138.5 782.9 L140.5 783.2 L142.4 783.5 L144.3 783.8 L146.3 784.2 L148.2 784.5 L150.1 784.8 L152.1 785.2 L154.0 785.5 L155.9 785.8 L157.9 786.2 L159.8 786.5 L161.7 786.9 L163.7 787.2 L165.6 787.6 L167.5 787.9 L169.5 788.3 L171.4 788.6 L173.3 789.0 L175.3 789.3 L177.2 789.7 L179.1 790.0 L181.1 790.3 L183.0 790.7 L184.9 791.0 L186.9 791.3 L188.8 791.6 L190.7 791.9 L192.6 792.2 L194.6 792.5 L196.5 792.7 L198.4 793.0 L200.4 793.3 L202.3 793.5 L204.2 793.8 L206.2 794.0 L208.1 794.2 L210.0 794.4 L212.0 794.6 L213.9 794.8 L215.8 795.0 L217.8 795.2 L219.7 795.3 L221.6 795.5 L223.6 795.6 L225.5 795.7 L227.4 795.9 L229.4 796.0 L231.3 796.1 L233.2 796.2 L235.2 796.2 L237.1 796.3 L239.0 796.4 L241.0 796.4 L242.9 796.5 L244.8 796.5 L246.8 796.6 L248.7 796.6 L250.6 796.6 L252.6 796.6 L254.5 796.6 L256.4 796.6 L258.4 796.6 L260.3 796.5 L262.2 796.5 L264.2 796.4 L266.1 796.4 L268.0 796.3 L270.0 796.2 L271.9 796.2 L273.8 796.1 L275.8 796.0 L277.7 795.9 L279.6 795.7 L281.6 795.6 L283.5 795.5 L285.4 795.3 L287.4 795.2 L289.3 795.0 L291.2 794.8 L293.2 794.6 L295.1 794.4 L297.0 794.2 L299.0 794.0 L300.9 793.8 L302.8 793.5 L304.7 793.3 L306.7 793.0 L308.6 792.7 L310.5 792.5 L312.5 792.2 L314.4 791.9 L316.3 791.6 L318.3 791.3 L320.2 791.0 L322.1 790.7 L324.1 790.3 L326.0 790.0 L327.9 789.7 L329.9 789.3 L331.8 789.0 L333.7 788.6 L335.7 788.3 L337.6 787.9 L339.5 787.6 L341.5 787.2 L343.4 786.9 L345.3 786.5 L347.3 786.2 L349.2 785.8 L351.1 785.5 L353.1 785.2 L355.0 784.8 L356.9 784.5 L358.9 784.2 L360.8 783.8 L362.7 783.5 L364.7 783.2 L366.6 782.9 L368.5 782.6 L370.5 782.3 L372.4 782.0 L374.3 781.7 L376.3 781.5 L378.2 781.2 L380.1 780.9 L382.1 780.7 L384.0 780.5 L385.9 780.2 L387.9 780.0 L389.8 779.8 L391.7 779.6 L393.7 779.4 L395.6 779.3 L397.5 779.1 L399.5 779.0 L401.4 778.8 L403.3 778.7 L405.3 778.6 L407.2 778.5 L409.1 778.4 L411.1 778.3 L413.0 778.2 L414.9 778.1 L416.8 778.1 L418.8 778.0 L420.7 778.0 L422.6 778.0 L424.6 778.0" stroke="#ff0000"/>
<path d="M80.6 808.1 L82.5 808.0 L84.4 807.9 L86.3 807.7 L88.3 807.5 L90.2 807.2 L92.1 806.8 L94.1 806.4 L96.0 805.9 L97.9 805.4 L99.9 804.8 L101.8 804.2 L103.7 803.6 L105.7 803.0 L107.6 802.3 L109.5 801.7 L111.5 801.0 L113.4 800.4 L115.3 799.7 L117.3 799.1 L119.2 798.4 L121.1 797.8 L123.1 797.2 L125.0 796.5 L126.9 795.9 L128.9 795.2 L130.8 794.6 L132.7 793.9 L134.7 793.2 L136.6 792.5 L138.5 791.7 L140.5 790.9 L142.4 790.1 L144.3 789.2 L146.3 788.2 L148.2 787.3 L150.1 786.2 L152.1 785.1 L154.0 784.0 L155.9 782.8 L157.9 781.6 L159.8 780.4 L161.7 779.0 L163.7 777.7 L165.6 776.3 L167.5 774.9 L169.5 773.5 L171.4 772.1 L173.3 770.6 L175.3 769.1 L177.2 767.7 L179.1 766.2 L181.1 764.7 L183.0 763.2 L184.9 761.7 L186.9 760.2 L188.8 758.8 L190.7 757.3 L192.6 755.8 L194.6 754.4 L196.5 752.9 L198.4 751.5 L200.4 750.0 L202.3 748.6 L204.2 747.2 L206.2 745.8 L208.1 744.4 L210.0 743.0 L212.0 741.6 L213.9 740.3 L215.8 739.0 L217.8 737.7 L219.7 736.4 L221.6 735.2 L223.6 734.0 L225.5 732.8 L227.4 731.7 L229.4 730.7 L231.3 729.7 L233.2 728.8 L235.2 727.9 L237.1 727.1 L239.0 726.4 L241.0 725.8 L242.9 725.3 L244.8 724.8 L246.8 724.5 L248.7 724.3 L250.6 724.1 L252.6 724.1 L254.5 724.1 L256.4 724.3 L258.4 724.5 L260.3 724.8 L262.2 725.3 L264.2 725.8 L266.1 726.4 L268.0 727.1 L270.0 727.9 L271.9 728.8 L273.8 729.7 L275.8 730.7 L277.7 731.7 L279.6 732.8 L281.6 734.0 L283.5 735.2 L285.4 736.4 L287.4 737.7 L289.3 739.0 L291.2 740.3 L293.2 741.6 L295.1 743.0 L297.0 744.4 L299.0 745.8 L300.9 747.2 L302.8 748.6 L304.7 750.0 L306.7 751.5 L308.6 752.9 L310.5 754.4 L312.5 755.8 L314.4 757.3 L316.3 758.8 L318.3 760.2 L320.2 761.7 L322.1 763.2 L324.1 764.7 L326.0 766.2 L327.9 767.7 L329.9 769.1 L331.8 770.6 L333.7 772.1 L335.7 773.5 L337.6 774.9 L339.5 776.3 L341.5 777.7 L343.4 779.0 L345.3 780.4 L347.3 781.6 L349.2 782.8 L351.1 784.0 L353.1 785.1 L355.0 786.2 L356.9 787.3 L358.9 788.2 L360.8 789.2 L362.7 790.1 L364.7 790.9 L366.6 791.7 L368.5 792.5 L370.5 793.2 L372.4 793.9 L374.3 794.6 L376.3 795.2 L378.2 795.9 L380.1 796.5 L382.1 797.2 L384.0 797.8 L385.9 798.4 L387.9 799.1 L389.8 799.7 L391.7 800.4 L393.7 801.0 L395.6 801.7 L397.5 802.3 L399.5 803.0 L401.4 803.6 L403.3 804.2 L405.3 804.8 L407.2 805.4 L409.1 805.9 L411.1 806.4 L413.0 806.8 L414.9 807.2 L416.8 807.5 L418.8 807.7 L420.7 807.9 L422.6 808.0 L424.6 808.1" stroke="#ff0000"/>
<path d="M80.6 484.4 L80.8 484.4 L81.1 484.4 L81.3 484.4 L81.6 484.3 L81.9 484.3 L82.1 484.2 L82.4 484.1 L82.6 484.0 L82.9 483.9 L83.2 483.7 L83.4 483.6 L83.7 483.4 L84.0 483.3 L84.2 483.1 L84.5 482.9 L84.7 482.7 L85.0 482.4 L85.3 482.2 L85.5 481.9 L85.8 481.6 L86.0 481.4 L86.3 481.0 L86.6 480.7 L86.8 480.4 L87.1 480.1 L87.4 479.7 L87.6 479.4 L87.9 479.0 L88.1 478.6 L88.4 478.2 L88.7 477.9 L88.9 477.5 L89.2 477.1 L89.4 476.7 L89.7 476.3 L90.0 475.9 L90.2 475.5 L90.5 475.1 L90.8 474.7 L91.0 474.3 L91.3 473.9 L91.5 473.4 L91.8 473.0 L92.1 472.6 L92.3 472.1 L92.6 471.7 L92.9 471.2 L93.1 470.8 L93.4 470.3 L93.6 469.8 L93.9 469.3 L94.2 468.8 L94.4 468.3 L94.7 467.8 L94.9 467.3 L95.2 466.8 L95.5 466.2 L95.7 465.7 L96.0 465.1 L96.3 464.6 L96.5 464.0 L96.8 463.5 L97.0 462.9 L97.3 462.3 L97.6 461.7 L97.8 461.1 L98.1 460.5 L98.3 459.9 L98.6 459.3 M406.5 459.3 L406.8 459.9 L407.0 460.5 L407.3 461.1 L407.6 461.7 L407.8 462.3 L408.1 462.9 L408.4 463.5 L408.6 464.0 L408.9 464.6 L409.1 465.1 L409.4 465.7 L409.7 466.2 L409.9 466.8 L410.2 467.3 L410.4 467.8 L410.7 468.3 L411.0 468.8 L411.2 469.3 L411.5 469.8 L411.8 470.3 L412.0 470.8 L412.3 471.2 L412.5 471.7 L412.8 472.1 L413.1 472.6 L413.3 473.0 L413.6 473.4 L413.8 473.9 L414.1 474.3 L414.4 474.7 L414.6 475.1 L414.9 475.5 L415.2 475.9 L415.4 476.3 L415.7 476.7 L415.9 477.1 L416.2 477.5 L416.5 477.9 L416.7 478.2 L417.0 478.6 L417.3 479.0 L417.5 479.4 L417.8 479.7 L418.0 480.1 L418.3 480.4 L418.6 480.7 L418.8 481.0 L419.1 481.4 L419.3 481.6 L419.6 481.9 L419.9 482.2 L420.1 482.4 L420.4 482.7 L420.7 482.9 L420.9 483.1 L421.2 483.3 L421.4 483.4 L421.7 483.6 L422.0 483.7 L422.2 483.9 L422.5 484.0 L422.7 484.1 L423.0 484.2 L423.3 484.3 L423.5 484.3 L423.8 484.4 L424.1 484.4 L424.3 484.4 L424.6 484.4" stroke="#ff0000"/>
<path d="M119.9 445.3 L122.2 450.0 L124.4 454.7 L126.7 459.2 L128.9 463.7 L131.2 468.1 L133.4 472.4 L135.7 476.6 L137.9 480.7 L140.2 484.7 L142.4 488.6 L144.7 492.5 L146.9 496.2 L149.2 499.9 L151.4 503.5 L153.6 507.0 L155.9 510.5 L158.1 513.8 L160.4 517.1 L162.6 520.2 L164.9 523.3 L167.1 526.4 L169.4 529.3 L171.6 532.1 L173.9 534.9 L176.1 537.6 L178.4 540.2 L180.6 542.7 L182.9 545.2 L185.1 547.5 L187.4 549.8 L189.6 552.0 L191.9 554.1 L194.1 556.2 L196.4 558.1 L198.6 560.0 L200.9 561.8 L203.1 563.6 L205.4 565.2 L207.6 566.8 L209.9 568.3 L212.1 569.7 L214.3 571.0 L216.6 572.3 L218.8 573.5 L221.1 574.6 L223.3 575.6 L225.6 576.6 L227.8 577.5 L230.1 578.3 L232.3 579.0 L234.6 579.6 L236.8 580.2 L239.1 580.7 L241.3 581.1 L243.6 581.5 L245.8 581.7 L248.1 581.9 L250.3 582.0 L252.6 582.1 L254.8 582.0 L257.1 581.9 L259.3 581.7 L261.6 581.5 L263.8 581.1 L266.1 580.7 L268.3 580.2 L270.5 579.6 L272.8 579.0 L275.0 578.3 L277.3 577.5 L279.5 576.6 L281.8 575.6 L284.0 574.6 L286.3 573.5 L288.5 572.3 L290.8 571.0 L293.0 569.7 L295.3 568.3 L297.5 566.8 L299.8 565.2 L302.0 563.6 L304.3 561.8 L306.5 560.0 L308.8 558.1 L311.0 556.2 L313.3 554.1 L315.5 552.0 L317.8 549.8 L320.0 547.5 L322.3 545.2 L324.5 542.7 L326.8 540.2 L329.0 537.6 L331.2 534.9 L333.5 532.1 L335.7 529.3 L338.0 526.4 L340.2 523.3 L342.5 520.2 L344.7 517.1 L347.0 513.8 L349.2 510.5 L351.5 507.0 L353.7 503.5 L356.0 499.9 L358.2 496.2 L360.5 492.5 L362.7 488.6 L365.0 484.7 L367.2 480.7 L369.5 476.6 L371.7 472.4 L374.0 468.1 L376.2 463.7 L378.5 459.2 L380.7 454.7 L383.0 450.0 L385.2 445.3" stroke="#ff0000"/>
<path d="M130.7 448.2 L132.8 452.2 L134.8 456.0 L136.9 459.8 L138.9 463.5 L141.0 467.1 L143.1 470.7 L145.1 474.2 L147.2 477.7 L149.3 481.1 L151.3 484.4 L153.4 487.6 L155.5 490.8 L157.5 493.9 L159.6 497.0 L161.7 499.9 L163.7 502.8 L165.8 505.7 L167.9 508.5 L169.9 511.2 L172.0 513.8 L174.1 516.4 L176.1 518.9 L178.2 521.3 L180.3 523.7 L182.3 526.0 L184.4 528.3 L186.5 530.4 L188.5 532.6 L190.6 534.6 L192.7 536.6 L194.7 538.5 L196.8 540.3 L198.9 542.1 L200.9 543.8 L203.0 545.4 L205.1 547.0 L207.1 548.5 L209.2 550.0 L211.2 551.3 L213.3 552.6 L215.4 553.9 L217.4 555.0 L219.5 556.1 L221.6 557.2 L223.6 558.2 L225.7 559.1 L227.8 559.9 L229.8 560.7 L231.9 561.4 L234.0 562.0 L236.0 562.6 L238.1 563.1 L240.2 563.5 L242.2 563.9 L244.3 564.2 L246.4 564.4 L248.4 564.6 L250.5 564.7 L252.6 564.7 L254.6 564.7 L256.7 564.6 L258.8 564.4 L260.8 564.2 L262.9 563.9 L265.0 563.5 L267.0 563.1 L269.1 562.6 L271.2 562.0 L273.2 561.4 L275.3 560.7 L277.4 559.9 L279.4 559.1 L281.5 558.2 L283.6 557.2 L285.6 556.1 L287.7 555.0 L289.7 553.9 L291.8 552.6 L293.9 551.3 L295.9 550.0 L298.0 548.5 L300.1 547.0 L302.1 545.4 L304.2 543.8 L306.3 542.1 L308.3 540.3 L310.4 538.5 L312.5 536.6 L314.5 534.6 L316.6 532.6 L318.7 530.4 L320.7 528.3 L322.8 526.0 L324.9 523.7 L326.9 521.3 L329.0 518.9 L331.1 516.4 L333.1 513.8 L335.2 511.2 L337.3 508.5 L339.3 505.7 L341.4 502.8 L343.5 499.9 L345.5 497.0 L347.6 493.9 L349.7 490.8 L351.7 487.6 L353.8 484.4 L355.9 481.1 L357.9 477.7 L360.0 474.2 L362.0 470.7 L364.1 467.1 L366.2 463.5 L368.2 459.8 L370.3 456.0 L372.4 452.2 L374.4 448.2" stroke="#ff0000"/>
<path d="M135.4 449.2 L137.4 452.9 L139.4 456.5 L141.4 460.0 L143.4 463.4 L145.4 466.8 L147.3 470.1 L149.3 473.4 L151.3 476.6 L153.3 479.8 L155.3 482.8 L157.3 485.9 L159.3 488.8 L161.2 491.7 L163.2 494.5 L165.2 497.3 L167.2 500.0 L169.2 502.7 L171.2 505.3 L173.1 507.8 L175.1 510.2 L177.1 512.6 L179.1 515.0 L181.1 517.2 L183.1 519.5 L185.1 521.6 L187.0 523.7 L189.0 525.7 L191.0 527.7 L193.0 529.6 L195.0 531.4 L197.0 533.2 L199.0 534.9 L200.9 536.5 L202.9 538.1 L204.9 539.7 L206.9 541.1 L208.9 542.5 L210.9 543.9 L212.9 545.1 L214.8 546.3 L216.8 547.5 L218.8 548.6 L220.8 549.6 L222.8 550.6 L224.8 551.5 L226.8 552.3 L228.7 553.1 L230.7 553.8 L232.7 554.5 L234.7 555.1 L236.7 555.6 L238.7 556.1 L240.7 556.5 L242.6 556.8 L244.6 557.1 L246.6 557.3 L248.6 557.5 L250.6 557.5 L252.6 557.6 L254.6 557.5 L256.5 557.5 L258.5 557.3 L260.5 557.1 L262.5 556.8 L264.5 556.5 L266.5 556.1 L268.4 555.6 L270.4 555.1 L272.4 554.5 L274.4 553.8 L276.4 553.1 L278.4 552.3 L280.4 551.5 L282.3 550.6 L284.3 549.6 L286.3 548.6 L288.3 547.5 L290.3 546.3 L292.3 545.1 L294.3 543.9 L296.2 542.5 L298.2 541.1 L300.2 539.7 L302.2 538.1 L304.2 536.5 L306.2 534.9 L308.2 533.2 L310.1 531.4 L312.1 529.6 L314.1 527.7 L316.1 525.7 L318.1 523.7 L320.1 521.6 L322.1 519.5 L324.0 517.2 L326.0 515.0 L328.0 512.6 L330.0 510.2 L332.0 507.8 L334.0 505.3 L336.0 502.7 L337.9 500.0 L339.9 497.3 L341.9 494.5 L343.9 491.7 L345.9 488.8 L347.9 485.9 L349.8 482.8 L351.8 479.8 L353.8 476.6 L355.8 473.4 L357.8 470.1 L359.8 466.8 L361.8 463.4 L363.7 460.0 L365.7 456.5 L367.7 452.9 L369.7 449.2" stroke="#ff0000"/>
<path d="M139.6 449.8 L141.5 453.3 L143.4 456.7 L145.4 460.1 L147.3 463.3 L149.2 466.6 L151.1 469.8 L153.0 472.9 L154.9 475.9 L156.8 478.9 L158.8 481.9 L160.7 484.8 L162.6 487.6 L164.5 490.4 L166.4 493.1 L168.3 495.7 L170.2 498.3 L172.2 500.8 L174.1 503.3 L176.0 505.7 L177.9 508.0 L179.8 510.3 L181.7 512.6 L183.6 514.7 L185.6 516.8 L187.5 518.9 L189.4 520.9 L191.3 522.8 L193.2 524.7 L195.1 526.5 L197.0 528.2 L199.0 529.9 L200.9 531.6 L202.8 533.2 L204.7 534.7 L206.6 536.1 L208.5 537.5 L210.4 538.9 L212.4 540.1 L214.3 541.4 L216.2 542.5 L218.1 543.6 L220.0 544.7 L221.9 545.6 L223.9 546.6 L225.8 547.4 L227.7 548.2 L229.6 549.0 L231.5 549.6 L233.4 550.3 L235.3 550.8 L237.3 551.3 L239.2 551.8 L241.1 552.2 L243.0 552.5 L244.9 552.8 L246.8 553.0 L248.7 553.1 L250.7 553.2 L252.6 553.2 L254.5 553.2 L256.4 553.1 L258.3 553.0 L260.2 552.8 L262.1 552.5 L264.1 552.2 L266.0 551.8 L267.9 551.3 L269.8 550.8 L271.7 550.3 L273.6 549.6 L275.5 549.0 L277.5 548.2 L279.4 547.4 L281.3 546.6 L283.2 545.6 L285.1 544.7 L287.0 543.6 L288.9 542.5 L290.9 541.4 L292.8 540.1 L294.7 538.9 L296.6 537.5 L298.5 536.1 L300.4 534.7 L302.3 533.2 L304.3 531.6 L306.2 529.9 L308.1 528.2 L310.0 526.5 L311.9 524.7 L313.8 522.8 L315.7 520.9 L317.7 518.9 L319.6 516.8 L321.5 514.7 L323.4 512.6 L325.3 510.3 L327.2 508.0 L329.1 505.7 L331.1 503.3 L333.0 500.8 L334.9 498.3 L336.8 495.7 L338.7 493.1 L340.6 490.4 L342.5 487.6 L344.5 484.8 L346.4 481.9 L348.3 478.9 L350.2 475.9 L352.1 472.9 L354.0 469.8 L355.9 466.6 L357.9 463.3 L359.8 460.1 L361.7 456.7 L363.6 453.3 L365.5 449.8" stroke="#ff0000"/>
<path d="M151.5 452.3 L153.2 455.1 L154.9 457.8 L156.6 460.6 L158.3 463.2 L160.0 465.8 L161.8 468.4 L163.5 470.9 L165.2 473.4 L166.9 475.8 L168.6 478.1 L170.3 480.5 L172.0 482.7 L173.7 485.0 L175.5 487.1 L177.2 489.3 L178.9 491.3 L180.6 493.4 L182.3 495.4 L184.0 497.3 L185.7 499.2 L187.5 501.0 L189.2 502.8 L190.9 504.6 L192.6 506.3 L194.3 507.9 L196.0 509.5 L197.7 511.1 L199.4 512.6 L201.2 514.0 L202.9 515.5 L204.6 516.8 L206.3 518.1 L208.0 519.4 L209.7 520.6 L211.4 521.8 L213.2 522.9 L214.9 524.0 L216.6 525.0 L218.3 526.0 L220.0 526.9 L221.7 527.8 L223.4 528.7 L225.1 529.4 L226.9 530.2 L228.6 530.9 L230.3 531.5 L232.0 532.1 L233.7 532.7 L235.4 533.2 L237.1 533.6 L238.9 534.0 L240.6 534.4 L242.3 534.7 L244.0 535.0 L245.7 535.2 L247.4 535.4 L249.1 535.5 L250.9 535.5 L252.6 535.6 L254.3 535.5 L256.0 535.5 L257.7 535.4 L259.4 535.2 L261.1 535.0 L262.8 534.7 L264.6 534.4 L266.3 534.0 L268.0 533.6 L269.7 533.2 L271.4 532.7 L273.1 532.1 L274.8 531.5 L276.6 530.9 L278.3 530.2 L280.0 529.4 L281.7 528.7 L283.4 527.8 L285.1 526.9 L286.8 526.0 L288.5 525.0 L290.3 524.0 L292.0 522.9 L293.7 521.8 L295.4 520.6 L297.1 519.4 L298.8 518.1 L300.5 516.8 L302.3 515.5 L304.0 514.0 L305.7 512.6 L307.4 511.1 L309.1 509.5 L310.8 507.9 L312.5 506.3 L314.2 504.6 L316.0 502.8 L317.7 501.0 L319.4 499.2 L321.1 497.3 L322.8 495.4 L324.5 493.4 L326.2 491.3 L328.0 489.3 L329.7 487.1 L331.4 485.0 L333.1 482.7 L334.8 480.5 L336.5 478.1 L338.2 475.8 L340.0 473.4 L341.7 470.9 L343.4 468.4 L345.1 465.8 L346.8 463.2 L348.5 460.6 L350.2 457.8 L351.9 455.1 L353.7 452.3" stroke="#ff0000"/>
<path d="M156.0 453.1 L157.7 455.7 L159.3 458.2 L160.9 460.7 L162.6 463.2 L164.2 465.6 L165.8 467.9 L167.5 470.2 L169.1 472.5 L170.8 474.8 L172.4 476.9 L174.0 479.1 L175.7 481.2 L177.3 483.2 L178.9 485.3 L180.6 487.2 L182.2 489.1 L183.8 491.0 L185.5 492.9 L187.1 494.6 L188.8 496.4 L190.4 498.1 L192.0 499.7 L193.7 501.4 L195.3 502.9 L196.9 504.4 L198.6 505.9 L200.2 507.4 L201.8 508.8 L203.5 510.1 L205.1 511.4 L206.8 512.7 L208.4 513.9 L210.0 515.1 L211.7 516.2 L213.3 517.3 L214.9 518.3 L216.6 519.3 L218.2 520.2 L219.8 521.2 L221.5 522.0 L223.1 522.8 L224.7 523.6 L226.4 524.3 L228.0 525.0 L229.7 525.7 L231.3 526.3 L232.9 526.8 L234.6 527.3 L236.2 527.8 L237.8 528.2 L239.5 528.6 L241.1 528.9 L242.7 529.2 L244.4 529.4 L246.0 529.6 L247.7 529.8 L249.3 529.9 L250.9 530.0 L252.6 530.0 L254.2 530.0 L255.8 529.9 L257.5 529.8 L259.1 529.6 L260.7 529.4 L262.4 529.2 L264.0 528.9 L265.7 528.6 L267.3 528.2 L268.9 527.8 L270.6 527.3 L272.2 526.8 L273.8 526.3 L275.5 525.7 L277.1 525.0 L278.7 524.3 L280.4 523.6 L282.0 522.8 L283.7 522.0 L285.3 521.2 L286.9 520.2 L288.6 519.3 L290.2 518.3 L291.8 517.3 L293.5 516.2 L295.1 515.1 L296.7 513.9 L298.4 512.7 L300.0 511.4 L301.7 510.1 L303.3 508.8 L304.9 507.4 L306.6 505.9 L308.2 504.4 L309.8 502.9 L311.5 501.4 L313.1 499.7 L314.7 498.1 L316.4 496.4 L318.0 494.6 L319.6 492.9 L321.3 491.0 L322.9 489.1 L324.6 487.2 L326.2 485.3 L327.8 483.2 L329.5 481.2 L331.1 479.1 L332.7 476.9 L334.4 474.8 L336.0 472.5 L337.6 470.2 L339.3 467.9 L340.9 465.6 L342.6 463.2 L344.2 460.7 L345.8 458.2 L347.5 455.7 L349.1 453.1" stroke="#ff0000"/>
<path d="M158.8 453.8 L160.4 456.2 L161.9 458.6 L163.5 460.9 L165.1 463.2 L166.7 465.4 L168.3 467.6 L169.9 469.7 L171.5 471.8 L173.1 473.9 L174.7 475.9 L176.3 477.9 L177.8 479.8 L179.4 481.7 L181.0 483.6 L182.6 485.4 L184.2 487.2 L185.8 488.9 L187.4 490.6 L189.0 492.3 L190.6 493.9 L192.2 495.5 L193.7 497.0 L195.3 498.5 L196.9 500.0 L198.5 501.4 L200.1 502.8 L201.7 504.1 L203.3 505.4 L204.9 506.6 L206.5 507.8 L208.0 509.0 L209.6 510.1 L211.2 511.2 L212.8 512.2 L214.4 513.2 L216.0 514.2 L217.6 515.1 L219.2 516.0 L220.8 516.8 L222.4 517.6 L223.9 518.4 L225.5 519.1 L227.1 519.8 L228.7 520.4 L230.3 521.0 L231.9 521.6 L233.5 522.1 L235.1 522.6 L236.7 523.0 L238.3 523.4 L239.8 523.7 L241.4 524.0 L243.0 524.3 L244.6 524.5 L246.2 524.7 L247.8 524.8 L249.4 524.9 L251.0 525.0 L252.6 525.0 L254.2 525.0 L255.7 524.9 L257.3 524.8 L258.9 524.7 L260.5 524.5 L262.1 524.3 L263.7 524.0 L265.3 523.7 L266.9 523.4 L268.5 523.0 L270.1 522.6 L271.6 522.1 L273.2 521.6 L274.8 521.0 L276.4 520.4 L278.0 519.8 L279.6 519.1 L281.2 518.4 L282.8 517.6 L284.4 516.8 L286.0 516.0 L287.5 515.1 L289.1 514.2 L290.7 513.2 L292.3 512.2 L293.9 511.2 L295.5 510.1 L297.1 509.0 L298.7 507.8 L300.3 506.6 L301.8 505.4 L303.4 504.1 L305.0 502.8 L306.6 501.4 L308.2 500.0 L309.8 498.5 L311.4 497.0 L313.0 495.5 L314.6 493.9 L316.2 492.3 L317.7 490.6 L319.3 488.9 L320.9 487.2 L322.5 485.4 L324.1 483.6 L325.7 481.7 L327.3 479.8 L328.9 477.9 L330.5 475.9 L332.1 473.9 L333.6 471.8 L335.2 469.7 L336.8 467.6 L338.4 465.4 L340.0 463.2 L341.6 460.9 L343.2 458.6 L344.8 456.2 L346.4 453.8" stroke="#ff0000"/>
<path d="M173.7 456.8 L175.1 458.4 L176.4 460.0 L177.7 461.6 L179.1 463.1 L180.4 464.6 L181.7 466.1 L183.1 467.6 L184.4 469.0 L185.7 470.4 L187.1 471.7 L188.4 473.1 L189.8 474.4 L191.1 475.7 L192.4 476.9 L193.8 478.2 L195.1 479.4 L196.4 480.5 L197.8 481.7 L199.1 482.8 L200.4 483.9 L201.8 484.9 L203.1 486.0 L204.5 487.0 L205.8 488.0 L207.1 488.9 L208.5 489.8 L209.8 490.7 L211.1 491.6 L212.5 492.5 L213.8 493.3 L215.1 494.1 L216.5 494.8 L217.8 495.5 L219.2 496.3 L220.5 496.9 L221.8 497.6 L223.2 498.2 L224.5 498.8 L225.8 499.4 L227.2 499.9 L228.5 500.4 L229.8 500.9 L231.2 501.3 L232.5 501.8 L233.9 502.2 L235.2 502.5 L236.5 502.9 L237.9 503.2 L239.2 503.5 L240.5 503.8 L241.9 504.0 L243.2 504.2 L244.5 504.4 L245.9 504.5 L247.2 504.7 L248.6 504.8 L249.9 504.8 L251.2 504.9 L252.6 504.9 L253.9 504.9 L255.2 504.8 L256.6 504.8 L257.9 504.7 L259.2 504.5 L260.6 504.4 L261.9 504.2 L263.3 504.0 L264.6 503.8 L265.9 503.5 L267.3 503.2 L268.6 502.9 L269.9 502.5 L271.3 502.2 L272.6 501.8 L273.9 501.3 L275.3 500.9 L276.6 500.4 L278.0 499.9 L279.3 499.4 L280.6 498.8 L282.0 498.2 L283.3 497.6 L284.6 496.9 L286.0 496.3 L287.3 495.5 L288.6 494.8 L290.0 494.1 L291.3 493.3 L292.7 492.5 L294.0 491.6 L295.3 490.7 L296.7 489.8 L298.0 488.9 L299.3 488.0 L300.7 487.0 L302.0 486.0 L303.3 484.9 L304.7 483.9 L306.0 482.8 L307.4 481.7 L308.7 480.5 L310.0 479.4 L311.4 478.2 L312.7 476.9 L314.0 475.7 L315.4 474.4 L316.7 473.1 L318.0 471.7 L319.4 470.4 L320.7 469.0 L322.1 467.6 L323.4 466.1 L324.7 464.6 L326.1 463.1 L327.4 461.6 L328.7 460.0 L330.1 458.4 L331.4 456.8" stroke="#ff0000"/>
<path d="M179.7 457.8 L181.0 459.1 L182.2 460.5 L183.4 461.8 L184.7 463.1 L185.9 464.4 L187.1 465.7 L188.4 466.9 L189.6 468.1 L190.8 469.3 L192.1 470.5 L193.3 471.6 L194.5 472.7 L195.8 473.8 L197.0 474.9 L198.3 475.9 L199.5 476.9 L200.7 477.9 L202.0 478.9 L203.2 479.9 L204.4 480.8 L205.7 481.7 L206.9 482.6 L208.1 483.4 L209.4 484.3 L210.6 485.1 L211.8 485.9 L213.1 486.6 L214.3 487.4 L215.5 488.1 L216.8 488.8 L218.0 489.5 L219.2 490.1 L220.5 490.7 L221.7 491.3 L222.9 491.9 L224.2 492.5 L225.4 493.0 L226.6 493.5 L227.9 494.0 L229.1 494.4 L230.3 494.9 L231.6 495.3 L232.8 495.7 L234.0 496.0 L235.3 496.4 L236.5 496.7 L237.8 497.0 L239.0 497.3 L240.2 497.5 L241.5 497.7 L242.7 497.9 L243.9 498.1 L245.2 498.3 L246.4 498.4 L247.6 498.5 L248.9 498.6 L250.1 498.6 L251.3 498.7 L252.6 498.7 L253.8 498.7 L255.0 498.6 L256.3 498.6 L257.5 498.5 L258.7 498.4 L260.0 498.3 L261.2 498.1 L262.4 497.9 L263.7 497.7 L264.9 497.5 L266.1 497.3 L267.4 497.0 L268.6 496.7 L269.8 496.4 L271.1 496.0 L272.3 495.7 L273.6 495.3 L274.8 494.9 L276.0 494.4 L277.3 494.0 L278.5 493.5 L279.7 493.0 L281.0 492.5 L282.2 491.9 L283.4 491.3 L284.7 490.7 L285.9 490.1 L287.1 489.5 L288.4 488.8 L289.6 488.1 L290.8 487.4 L292.1 486.6 L293.3 485.9 L294.5 485.1 L295.8 484.3 L297.0 483.4 L298.2 482.6 L299.5 481.7 L300.7 480.8 L301.9 479.9 L303.2 478.9 L304.4 477.9 L305.6 476.9 L306.9 475.9 L308.1 474.9 L309.3 473.8 L310.6 472.7 L311.8 471.6 L313.1 470.5 L314.3 469.3 L315.5 468.1 L316.8 466.9 L318.0 465.7 L319.2 464.4 L320.5 463.1 L321.7 461.8 L322.9 460.5 L324.2 459.1 L325.4 457.8" stroke="#ff0000"/>
<path d="M187.9 458.8 L189.0 459.9 L190.1 461.0 L191.2 462.1 L192.3 463.1 L193.4 464.1 L194.5 465.2 L195.6 466.2 L196.7 467.1 L197.8 468.1 L198.9 469.0 L200.0 470.0 L201.1 470.9 L202.2 471.7 L203.3 472.6 L204.4 473.5 L205.5 474.3 L206.6 475.1 L207.7 475.9 L208.8 476.7 L209.8 477.4 L210.9 478.1 L212.0 478.8 L213.1 479.5 L214.2 480.2 L215.3 480.9 L216.4 481.5 L217.5 482.1 L218.6 482.7 L219.7 483.3 L220.8 483.9 L221.9 484.4 L223.0 484.9 L224.1 485.4 L225.2 485.9 L226.3 486.4 L227.4 486.8 L228.5 487.3 L229.6 487.7 L230.7 488.1 L231.8 488.4 L232.8 488.8 L233.9 489.1 L235.0 489.4 L236.1 489.7 L237.2 490.0 L238.3 490.3 L239.4 490.5 L240.5 490.7 L241.6 490.9 L242.7 491.1 L243.8 491.3 L244.9 491.4 L246.0 491.5 L247.1 491.6 L248.2 491.7 L249.3 491.8 L250.4 491.8 L251.5 491.9 L252.6 491.9 L253.7 491.9 L254.8 491.8 L255.9 491.8 L256.9 491.7 L258.0 491.6 L259.1 491.5 L260.2 491.4 L261.3 491.3 L262.4 491.1 L263.5 490.9 L264.6 490.7 L265.7 490.5 L266.8 490.3 L267.9 490.0 L269.0 489.7 L270.1 489.4 L271.2 489.1 L272.3 488.8 L273.4 488.4 L274.5 488.1 L275.6 487.7 L276.7 487.3 L277.8 486.8 L278.9 486.4 L279.9 485.9 L281.0 485.4 L282.1 484.9 L283.2 484.4 L284.3 483.9 L285.4 483.3 L286.5 482.7 L287.6 482.1 L288.7 481.5 L289.8 480.9 L290.9 480.2 L292.0 479.5 L293.1 478.8 L294.2 478.1 L295.3 477.4 L296.4 476.7 L297.5 475.9 L298.6 475.1 L299.7 474.3 L300.8 473.5 L301.9 472.6 L303.0 471.7 L304.0 470.9 L305.1 470.0 L306.2 469.0 L307.3 468.1 L308.4 467.1 L309.5 466.2 L310.6 465.2 L311.7 464.1 L312.8 463.1 L313.9 462.1 L315.0 461.0 L316.1 459.9 L317.2 458.8" stroke="#ff0000"/>
<path d="M198.0 460.0 L198.9 460.8 L199.8 461.6 L200.7 462.4 L201.7 463.1 L202.6 463.9 L203.5 464.6 L204.4 465.3 L205.4 466.0 L206.3 466.7 L207.2 467.4 L208.1 468.1 L209.1 468.7 L210.0 469.4 L210.9 470.0 L211.8 470.6 L212.8 471.2 L213.7 471.8 L214.6 472.3 L215.5 472.9 L216.5 473.4 L217.4 473.9 L218.3 474.5 L219.3 475.0 L220.2 475.4 L221.1 475.9 L222.0 476.4 L223.0 476.8 L223.9 477.2 L224.8 477.7 L225.7 478.1 L226.7 478.4 L227.6 478.8 L228.5 479.2 L229.4 479.5 L230.4 479.9 L231.3 480.2 L232.2 480.5 L233.1 480.8 L234.1 481.1 L235.0 481.3 L235.9 481.6 L236.8 481.8 L237.8 482.1 L238.7 482.3 L239.6 482.5 L240.5 482.6 L241.5 482.8 L242.4 483.0 L243.3 483.1 L244.2 483.2 L245.2 483.4 L246.1 483.5 L247.0 483.6 L247.9 483.6 L248.9 483.7 L249.8 483.7 L250.7 483.8 L251.6 483.8 L252.6 483.8 L253.5 483.8 L254.4 483.8 L255.3 483.7 L256.3 483.7 L257.2 483.6 L258.1 483.6 L259.0 483.5 L260.0 483.4 L260.9 483.2 L261.8 483.1 L262.7 483.0 L263.7 482.8 L264.6 482.6 L265.5 482.5 L266.4 482.3 L267.4 482.1 L268.3 481.8 L269.2 481.6 L270.1 481.3 L271.1 481.1 L272.0 480.8 L272.9 480.5 L273.8 480.2 L274.8 479.9 L275.7 479.5 L276.6 479.2 L277.6 478.8 L278.5 478.4 L279.4 478.1 L280.3 477.7 L281.3 477.2 L282.2 476.8 L283.1 476.4 L284.0 475.9 L285.0 475.4 L285.9 475.0 L286.8 474.5 L287.7 473.9 L288.7 473.4 L289.6 472.9 L290.5 472.3 L291.4 471.8 L292.4 471.2 L293.3 470.6 L294.2 470.0 L295.1 469.4 L296.1 468.7 L297.0 468.1 L297.9 467.4 L298.8 466.7 L299.8 466.0 L300.7 465.3 L301.6 464.6 L302.5 463.9 L303.5 463.1 L304.4 462.4 L305.3 461.6 L306.2 460.8 L307.2 460.0" stroke="#ff0000"/>
<path d="M205.3 460.8 L206.1 461.4 L206.9 462.0 L207.7 462.6 L208.5 463.2 L209.3 463.8 L210.1 464.3 L210.9 464.9 L211.7 465.4 L212.5 465.9 L213.3 466.5 L214.1 467.0 L214.9 467.5 L215.7 468.0 L216.5 468.5 L217.3 468.9 L218.1 469.4 L218.9 469.8 L219.7 470.3 L220.5 470.7 L221.3 471.1 L222.1 471.5 L222.9 471.9 L223.7 472.3 L224.5 472.7 L225.3 473.0 L226.1 473.4 L226.9 473.7 L227.7 474.1 L228.5 474.4 L229.3 474.7 L230.1 475.0 L230.9 475.3 L231.7 475.6 L232.5 475.8 L233.3 476.1 L234.1 476.4 L234.9 476.6 L235.7 476.8 L236.5 477.0 L237.3 477.2 L238.1 477.4 L238.9 477.6 L239.7 477.8 L240.5 478.0 L241.3 478.1 L242.1 478.3 L242.9 478.4 L243.7 478.5 L244.5 478.6 L245.3 478.7 L246.2 478.8 L247.0 478.9 L247.8 479.0 L248.6 479.0 L249.4 479.1 L250.2 479.1 L251.0 479.1 L251.8 479.1 L252.6 479.2 L253.4 479.1 L254.2 479.1 L255.0 479.1 L255.8 479.1 L256.6 479.0 L257.4 479.0 L258.2 478.9 L259.0 478.8 L259.8 478.7 L260.6 478.6 L261.4 478.5 L262.2 478.4 L263.0 478.3 L263.8 478.1 L264.6 478.0 L265.4 477.8 L266.2 477.6 L267.0 477.4 L267.8 477.2 L268.6 477.0 L269.4 476.8 L270.2 476.6 L271.0 476.4 L271.8 476.1 L272.6 475.8 L273.4 475.6 L274.2 475.3 L275.0 475.0 L275.8 474.7 L276.6 474.4 L277.4 474.1 L278.2 473.7 L279.0 473.4 L279.8 473.0 L280.6 472.7 L281.4 472.3 L282.2 471.9 L283.0 471.5 L283.8 471.1 L284.6 470.7 L285.4 470.3 L286.2 469.8 L287.0 469.4 L287.8 468.9 L288.6 468.5 L289.4 468.0 L290.2 467.5 L291.0 467.0 L291.9 466.5 L292.7 465.9 L293.5 465.4 L294.3 464.9 L295.1 464.3 L295.9 463.8 L296.7 463.2 L297.5 462.6 L298.3 462.0 L299.1 461.4 L299.9 460.8" stroke="#ff0000"/>
<path d="M80.6 573.2 L81.8 573.3 L83.0 573.6 L84.3 574.1 L85.5 574.8 L86.7 575.6 L88.0 576.6 L89.2 577.8 L90.5 579.2 L91.7 580.7 L92.9 582.3 L94.2 584.0 L95.4 585.9 L96.6 587.8 L97.9 589.8 L99.1 591.9 L100.4 594.1 L101.6 596.3 L102.8 598.6 L104.1 600.8 L105.3 603.1 L106.5 605.5 L107.8 607.8 L109.0 610.1 L110.3 612.5 L111.5 614.8 L112.7 617.2 L114.0 619.5 L115.2 621.9 L116.4 624.2 L117.7 626.6 L118.9 629.0 L120.2 631.3 L121.4 633.7 L122.6 636.1 L123.9 638.4 L125.1 640.8 L126.3 643.1 L127.6 645.4 L128.8 647.6 L130.1 649.7 L131.3 651.6 L132.5 653.3 L133.8 654.7 L135.0 656.0 L136.2 657.1 L137.5 658.2 L138.7 659.2 L140.0 660.2 L141.2 661.2 L142.4 662.1 L143.7 663.1 L144.9 664.1 L146.1 665.1 L147.4 666.1 L148.6 667.1 L149.9 668.1 L151.1 669.1 L152.3 670.1 L153.6 671.2 L154.8 672.2 L156.0 673.3 L157.3 674.3 L158.5 675.4 L159.8 676.4 L161.0 677.5 L162.2 678.6 L163.5 679.6 L164.7 680.7 L165.9 681.7 L167.2 682.8 L168.4 683.8 L169.7 684.8 L170.9 685.9 L172.1 686.9 L173.4 687.9 L174.6 688.9 L175.8 689.8 L177.1 690.8 L178.3 691.7 L179.6 692.7 L180.8 693.6 L182.0 694.5 L183.3 695.4 L184.5 696.2 L185.7 697.1 L187.0 697.9 L188.2 698.7 L189.5 699.5 L190.7 700.3 L191.9 701.0 L193.2 701.8 L194.4 702.5 L195.6 703.2 L196.9 703.9 L198.1 704.6 L199.4 705.2 L200.6 705.8 L201.8 706.5 L203.1 707.1 L204.3 707.7 L205.5 708.2 L206.8 708.8 L208.0 709.3 L209.3 709.8 L210.5 710.3 L211.7 710.8 L213.0 711.3 L214.2 711.8 L215.4 712.2 L216.7 712.7 L217.9 713.1 L219.2 713.5 L220.4 713.9 L221.6 714.3 L222.9 714.6 L224.1 715.0 L225.3 715.3 L226.6 715.7 L227.8 716.0 L229.1 716.3 L230.3 716.5 L231.5 716.8 L232.8 717.0 L234.0 717.3 L235.2 717.5 L236.5 717.7 L237.7 717.9 L239.0 718.0 L240.2 718.2 L241.4 718.3 L242.7 718.5 L243.9 718.6 L245.1 718.7 L246.4 718.8 L247.6 718.8 L248.9 718.9 L250.1 718.9 L251.3 718.9 L252.6 719.0 L253.8 718.9 L255.0 718.9 L256.3 718.9 L257.5 718.8 L258.8 718.8 L260.0 718.7 L261.2 718.6 L262.5 718.5 L263.7 718.3 L264.9 718.2 L266.2 718.0 L267.4 717.9 L268.7 717.7 L269.9 717.5 L271.1 717.3 L272.4 717.0 L273.6 716.8 L274.8 716.5 L276.1 716.3 L277.3 716.0 L278.6 715.7 L279.8 715.3 L281.0 715.0 L282.3 714.6 L283.5 714.3 L284.7 713.9 L286.0 713.5 L287.2 713.1 L288.5 712.7 L289.7 712.2 L290.9 711.8 L292.2 711.3 L293.4 710.8 L294.6 710.3 L295.9 709.8 L297.1 709.3 L298.4 708.8 L299.6 708.2 L300.8 707.7 L302.1 707.1 L303.3 706.5 L304.5 705.8 L305.8 705.2 L307.0 704.6 L308.3 703.9 L309.5 703.2 L310.7 702.5 L312.0 701.8 L313.2 701.0 L314.4 700.3 L315.7 699.5 L316.9 698.7 L318.2 697.9 L319.4 697.1 L320.6 696.2 L321.9 695.4 L323.1 694.5 L324.3 693.6 L325.6 692.7 L326.8 691.7 L328.1 690.8 L329.3 689.8 L330.5 688.9 L331.8 687.9 L333.0 686.9 L334.2 685.9 L335.5 684.8 L336.7 683.8 L338.0 682.8 L339.2 681.7 L340.4 680.7 L341.7 679.6 L342.9 678.6 L344.1 677.5 L345.4 676.4 L346.6 675.4 L347.9 674.3 L349.1 673.3 L350.3 672.2 L351.6 671.2 L352.8 670.1 L354.0 669.1 L355.3 668.1 L356.5 667.1 L357.8 666.1 L359.0 665.1 L360.2 664.1 L361.5 663.1 L362.7 662.1 L363.9 661.2 L365.2 660.2 L366.4 659.2 L367.7 658.2 L368.9 657.1 L370.1 656.0 L371.4 654.7 L372.6 653.3 L373.8 651.6 L375.1 649.7 L376.3 647.6 L377.6 645.4 L378.8 643.1 L380.0 640.8 L381.3 638.4 L382.5 636.1 L383.7 633.7 L385.0 631.3 L386.2 629.0 L387.5 626.6 L388.7 624.2 L389.9 621.9 L391.2 619.5 L392.4 617.2 L393.6 614.8 L394.9 612.5 L396.1 610.1 L397.4 607.8 L398.6 605.5 L399.8 603.1 L401.1 600.8 L402.3 598.6 L403.5 596.3 L404.8 594.1 L406.0 591.9 L407.3 589.8 L408.5 587.8 L409.7 585.9 L411.0 584.0 L412.2 582.3 L413.4 580.7 L414.7 579.2 L415.9 577.8 L417.2 576.6 L418.4 575.6 L419.6 574.8 L420.9 574.1 L422.1 573.6 L423.3 573.3 L424.6 573.2" stroke="#0000ff"/>
<path d="M80.6 637.7 L81.8 637.8 L83.0 637.8 L84.3 637.9 L85.5 638.0 L86.7 638.1 L88.0 638.3 L89.2 638.5 L90.5 638.7 L91.7 638.9 L92.9 639.2 L94.2 639.4 L95.4 639.8 L96.6 640.1 L97.9 640.4 L99.1 640.8 L100.4 641.2 L101.6 641.6 L102.8 642.1 L104.1 642.5 L105.3 643.0 L106.5 643.5 L107.8 644.0 L109.0 644.5 L110.3 645.0 L111.5 645.6 L112.7 646.1 L114.0 646.7 L115.2 647.3 L116.4 647.9 L117.7 648.6 L118.9 649.2 L120.2 649.9 L121.4 650.6 L122.6 651.3 L123.9 652.1 L125.1 652.9 L126.3 653.7 L127.6 654.7 L128.8 655.8 L130.1 657.0 L131.3 658.4 L132.5 660.2 L133.8 662.1 L135.0 664.3 L136.2 666.6 L137.5 669.0 L138.7 671.5 L140.0 674.0 L141.2 676.5 L142.4 679.1 L143.7 681.6 L144.9 684.1 L146.1 686.5 L147.4 689.0 L148.6 691.4 L149.9 693.8 L151.1 696.1 L152.3 698.4 L153.6 700.7 L154.8 702.9 L156.0 705.2 L157.3 707.3 L158.5 709.4 L159.8 711.6 L161.0 713.6 L162.2 715.7 L163.5 717.7 L164.7 719.7 L165.9 721.8 L167.2 723.8 L168.4 725.8 L169.7 727.7 L170.9 729.7 L172.1 731.7 L173.4 733.7 L174.6 735.7 L175.8 737.6 L177.1 739.6 L178.3 741.6 L179.6 743.5 L180.8 745.5 L182.0 747.4 L183.3 749.3 L184.5 751.2 L185.7 753.0 L187.0 754.9 L188.2 756.7 L189.5 758.4 L190.7 760.2 L191.9 761.9 L193.2 763.5 L194.4 765.1 L195.6 766.7 L196.9 768.2 L198.1 769.7 L199.4 771.1 L200.6 772.5 L201.8 773.8 L203.1 775.1 L204.3 776.3 L205.5 777.5 L206.8 778.7 L208.0 779.9 L209.3 780.9 L210.5 782.0 L211.7 783.1 L213.0 784.1 L214.2 785.1 L215.4 786.1 L216.7 787.0 L217.9 788.0 L219.2 788.9 L220.4 789.8 L221.6 790.7 L222.9 791.5 L224.1 792.3 L225.3 793.2 L226.6 794.0 L227.8 794.7 L229.1 795.5 L230.3 796.2 L231.5 796.9 L232.8 797.6 L234.0 798.2 L235.2 798.9 L236.5 799.4 L237.7 800.0 L239.0 800.5 L240.2 800.9 L241.4 801.4 L242.7 801.7 L243.9 802.1 L245.1 802.4 L246.4 802.6 L247.6 802.8 L248.9 803.0 L250.1 803.1 L251.3 803.2 L252.6 803.2 L253.8 803.2 L255.0 803.1 L256.3 803.0 L257.5 802.8 L258.8 802.6 L260.0 802.4 L261.2 802.1 L262.5 801.7 L263.7 801.4 L264.9 800.9 L266.2 800.5 L267.4 800.0 L268.7 799.4 L269.9 798.9 L271.1 798.2 L272.4 797.6 L273.6 796.9 L274.8 796.2 L276.1 795.5 L277.3 794.7 L278.6 794.0 L279.8 793.2 L281.0 792.3 L282.3 791.5 L283.5 790.7 L284.7 789.8 L286.0 788.9 L287.2 788.0 L288.5 787.0 L289.7 786.1 L290.9 785.1 L292.2 784.1 L293.4 783.1 L294.6 782.0 L295.9 780.9 L297.1 779.9 L298.4 778.7 L299.6 777.5 L300.8 776.3 L302.1 775.1 L303.3 773.8 L304.5 772.5 L305.8 771.1 L307.0 769.7 L308.3 768.2 L309.5 766.7 L310.7 765.1 L312.0 763.5 L313.2 761.9 L314.4 760.2 L315.7 758.4 L316.9 756.7 L318.2 754.9 L319.4 753.0 L320.6 751.2 L321.9 749.3 L323.1 747.4 L324.3 745.5 L325.6 743.5 L326.8 741.6 L328.1 739.6 L329.3 737.6 L330.5 735.7 L331.8 733.7 L333.0 731.7 L334.2 729.7 L335.5 727.7 L336.7 725.8 L338.0 723.8 L339.2 721.8 L340.4 719.7 L341.7 717.7 L342.9 715.7 L344.1 713.6 L345.4 711.6 L346.6 709.4 L347.9 707.3 L349.1 705.2 L350.3 702.9 L351.6 700.7 L352.8 698.4 L354.0 696.1 L355.3 693.8 L356.5 691.4 L357.8 689.0 L359.0 686.5 L360.2 684.1 L361.5 681.6 L362.7 679.1 L363.9 676.5 L365.2 674.0 L366.4 671.5 L367.7 669.0 L368.9 666.6 L370.1 664.3 L371.4 662.1 L372.6 660.2 L373.8 658.4 L375.1 657.0 L376.3 655.8 L377.6 654.7 L378.8 653.7 L380.0 652.9 L381.3 652.1 L382.5 651.3 L383.7 650.6 L385.0 649.9 L386.2 649.2 L387.5 648.6 L388.7 647.9 L389.9 647.3 L391.2 646.7 L392.4 646.1 L393.6 645.6 L394.9 645.0 L396.1 644.5 L397.4 644.0 L398.6 643.5 L399.8 643.0 L401.1 642.5 L402.3 642.1 L403.5 641.6 L404.8 641.2 L406.0 640.8 L407.3 640.4 L408.5 640.1 L409.7 639.8 L411.0 639.4 L412.2 639.2 L413.4 638.9 L414.7 638.7 L415.9 638.5 L417.2 638.3 L418.4 638.1 L419.6 638.0 L420.9 637.9 L422.1 637.8 L423.3 637.8 L424.6 637.7" stroke="#0000ff"/>
<path d="M80.6 670.1 L82.5 670.1 L84.4 670.1 L86.3 670.2 L88.3 670.3 L90.2 670.4 L92.1 670.5 L94.1 670.6 L96.0 670.7 L97.9 670.9 L99.9 671.1 L101.8 671.3 L103.7 671.5 L105.7 671.7 L107.6 672.0 L109.5 672.2 L111.5 672.5 L113.4 672.8 L115.3 673.1 L117.3 673.4 L119.2 673.8 L121.1 674.1 L123.1 674.5 L125.0 674.9 L126.9 675.3 L128.9 675.7 L130.8 676.1 L132.7 676.5 L134.7 676.9 L136.6 677.4 L138.5 677.8 L140.5 678.3 L142.4 678.7 L144.3 679.2 L146.3 679.7 L148.2 680.2 L150.1 680.6 L152.1 681.1 L154.0 681.6 L155.9 682.1 L157.9 682.6 L159.8 683.1 L161.7 683.6 L163.7 684.2 L165.6 684.7 L167.5 685.2 L169.5 685.7 L171.4 686.2 L173.3 686.7 L175.3 687.2 L177.2 687.6 L179.1 688.1 L181.1 688.6 L183.0 689.1 L184.9 689.5 L186.9 690.0 L188.8 690.4 L190.7 690.8 L192.6 691.2 L194.6 691.6 L196.5 692.0 L198.4 692.4 L200.4 692.8 L202.3 693.1 L204.2 693.5 L206.2 693.8 L208.1 694.1 L210.0 694.4 L212.0 694.7 L213.9 694.9 L215.8 695.2 L217.8 695.4 L219.7 695.7 L221.6 695.9 L223.6 696.1 L225.5 696.2 L227.4 696.4 L229.4 696.5 L231.3 696.7 L233.2 696.8 L235.2 696.9 L237.1 697.0 L239.0 697.1 L241.0 697.2 L242.9 697.2 L244.8 697.3 L246.8 697.3 L248.7 697.4 L250.6 697.4 L252.6 697.4 L254.5 697.4 L256.4 697.4 L258.4 697.3 L260.3 697.3 L262.2 697.2 L264.2 697.2 L266.1 697.1 L268.0 697.0 L270.0 696.9 L271.9 696.8 L273.8 696.7 L275.8 696.5 L277.7 696.4 L279.6 696.2 L281.6 696.1 L283.5 695.9 L285.4 695.7 L287.4 695.4 L289.3 695.2 L291.2 694.9 L293.2 694.7 L295.1 694.4 L297.0 694.1 L299.0 693.8 L300.9 693.5 L302.8 693.1 L304.7 692.8 L306.7 692.4 L308.6 692.0 L310.5 691.6 L312.5 691.2 L314.4 690.8 L316.3 690.4 L318.3 690.0 L320.2 689.5 L322.1 689.1 L324.1 688.6 L326.0 688.1 L327.9 687.6 L329.9 687.2 L331.8 686.7 L333.7 686.2 L335.7 685.7 L337.6 685.2 L339.5 684.7 L341.5 684.2 L343.4 683.6 L345.3 683.1 L347.3 682.6 L349.2 682.1 L351.1 681.6 L353.1 681.1 L355.0 680.6 L356.9 680.2 L358.9 679.7 L360.8 679.2 L362.7 678.7 L364.7 678.3 L366.6 677.8 L368.5 677.4 L370.5 676.9 L372.4 676.5 L374.3 676.1 L376.3 675.7 L378.2 675.3 L380.1 674.9 L382.1 674.5 L384.0 674.1 L385.9 673.8 L387.9 673.4 L389.8 673.1 L391.7 672.8 L393.7 672.5 L395.6 672.2 L397.5 672.0 L399.5 671.7 L401.4 671.5 L403.3 671.3 L405.3 671.1 L407.2 670.9 L409.1 670.7 L411.1 670.6 L413.0 670.5 L414.9 670.4 L416.8 670.3 L418.8 670.2 L420.7 670.1 L422.6 670.1 L424.6 670.1" stroke="#0000ff"/>
<path d="M80.6 738.3 L82.5 738.3 L84.4 738.3 L86.3 738.2 L88.3 738.1 L90.2 737.9 L92.1 737.7 L94.1 737.5 L96.0 737.3 L97.9 736.9 L99.9 736.6 L101.8 736.2 L103.7 735.7 L105.7 735.2 L107.6 734.7 L109.5 734.0 L111.5 733.4 L113.4 732.6 L115.3 731.9 L117.3 731.1 L119.2 730.2 L121.1 729.3 L123.1 728.4 L125.0 727.4 L126.9 726.4 L128.9 725.4 L130.8 724.4 L132.7 723.4 L134.7 722.3 L136.6 721.3 L138.5 720.2 L140.5 719.1 L142.4 718.1 L144.3 717.0 L146.3 715.9 L148.2 714.8 L150.1 713.7 L152.1 712.6 L154.0 711.5 L155.9 710.4 L157.9 709.2 L159.8 708.0 L161.7 706.8 L163.7 705.5 L165.6 704.3 L167.5 703.0 L169.5 701.6 L171.4 700.3 L173.3 698.9 L175.3 697.5 L177.2 696.0 L179.1 694.6 L181.1 693.1 L183.0 691.6 L184.9 690.1 L186.9 688.6 L188.8 687.1 L190.7 685.7 L192.6 684.2 L194.6 682.7 L196.5 681.3 L198.4 679.8 L200.4 678.4 L202.3 677.0 L204.2 675.6 L206.2 674.2 L208.1 672.9 L210.0 671.5 L212.0 670.2 L213.9 668.8 L215.8 667.5 L217.8 666.1 L219.7 664.8 L221.6 663.4 L223.6 662.0 L225.5 660.7 L227.4 659.3 L229.4 657.9 L231.3 656.5 L231.9 656.1 L232.8 655.5 L233.2 655.1 L233.6 654.8 L234.5 654.2 L235.2 653.7 L235.4 653.6 L236.2 653.0 L237.1 652.4 L237.1 652.4 L237.9 651.8 L238.8 651.2 L239.0 651.0 L239.7 650.6 L240.5 650.0 L241.0 649.7 L241.4 649.4 L242.2 648.8 L242.9 648.4 L243.1 648.2 L244.0 647.7 L244.8 647.1 L244.8 647.1 L245.7 646.6 L246.5 646.1 L246.8 646.0 L247.4 645.6 L248.3 645.2 L248.7 645.0 L249.1 644.8 L250.0 644.5 L250.6 644.3 L250.8 644.2 L251.7 644.1 L252.6 644.0 L253.4 644.1 L254.3 644.2 L254.5 644.3 L255.1 644.5 L256.0 644.8 L256.4 645.0 L256.9 645.2 L257.7 645.6 L258.4 646.0 L258.6 646.1 L259.4 646.6 L260.3 647.1 L260.3 647.1 L261.2 647.7 L262.0 648.2 L262.2 648.4 L262.9 648.8 L263.7 649.4 L264.2 649.7 L264.6 650.0 L265.5 650.6 L266.1 651.0 L266.3 651.2 L267.2 651.8 L268.0 652.4 L268.0 652.4 L268.9 653.0 L269.8 653.6 L270.0 653.7 L270.6 654.2 L271.5 654.8 L271.9 655.1 L272.3 655.5 L273.2 656.1 L273.8 656.5 L275.8 657.9 L277.7 659.3 L279.6 660.7 L281.6 662.0 L283.5 663.4 L285.4 664.8 L287.4 666.1 L289.3 667.5 L291.2 668.8 L293.2 670.2 L295.1 671.5 L297.0 672.9 L299.0 674.2 L300.9 675.6 L302.8 677.0 L304.7 678.4 L306.7 679.8 L308.6 681.3 L310.5 682.7 L312.5 684.2 L314.4 685.7 L316.3 687.1 L318.3 688.6 L320.2 690.1 L322.1 691.6 L324.1 693.1 L326.0 694.6 L327.9 696.0 L329.9 697.5 L331.8 698.9 L333.7 700.3 L335.7 701.6 L337.6 703.0 L339.5 704.3 L341.5 705.5 L343.4 706.8 L345.3 708.0 L347.3 709.2 L349.2 710.4 L351.1 711.5 L353.1 712.6 L355.0 713.7 L356.9 714.8 L358.9 715.9 L360.8 717.0 L362.7 718.1 L364.7 719.1 L366.6 720.2 L368.5 721.3 L370.5 722.3 L372.4 723.4 L374.3 724.4 L376.3 725.4 L378.2 726.4 L380.1 727.4 L382.1 728.4 L384.0 729.3 L385.9 730.2 L387.9 731.1 L389.8 731.9 L391.7 732.6 L393.7 733.4 L395.6 734.0 L397.5 734.7 L399.5 735.2 L401.4 735.7 L403.3 736.2 L405.3 736.6 L407.2 736.9 L409.1 737.3 L411.1 737.5 L413.0 737.7 L414.9 737.9 L416.8 738.1 L418.8 738.2 L420.7 738.3 L422.6 738.3 L424.6 738.3" stroke="#0000ff"/>
<path d="M101.1 442.4 L103.7 447.8 L106.3 453.2 L108.8 458.7 L111.4 464.1 L114.0 469.5 L116.5 474.9 L119.1 480.3 L121.7 485.6 L124.2 490.8 L126.8 496.0 L129.4 501.1 L131.9 506.1 L134.5 511.0 L137.1 515.7 L139.6 520.4 L142.2 525.0 L144.8 529.5 L147.3 533.9 L149.9 538.1 L152.5 542.2 L155.0 546.3 L157.6 550.2 L160.2 553.9 L162.7 557.6 L165.3 561.2 L167.9 564.6 L170.4 568.0 L173.0 571.2 L175.6 574.4 L178.1 577.4 L180.7 580.4 L183.3 583.2 L185.8 586.0 L188.4 588.7 L191.0 591.3 L193.5 593.8 L196.1 596.3 L198.7 598.7 L201.2 601.0 L203.8 603.3 L206.4 605.5 L208.9 607.7 L211.5 609.8 L214.1 611.9 L216.6 613.9 L219.2 615.9 L221.8 617.9 L224.3 619.8 L226.9 621.7 L229.5 623.6 L231.9 625.3 L232.0 625.4 L232.8 625.9 L233.6 626.5 L234.5 627.1 L234.6 627.2 L235.4 627.7 L236.2 628.3 L237.1 628.9 L237.2 628.9 L237.9 629.4 L238.8 630.0 L239.7 630.6 L239.7 630.6 L240.5 631.1 L241.4 631.7 L242.2 632.2 L242.3 632.3 L243.1 632.8 L244.0 633.3 L244.8 633.8 L244.9 633.8 L245.7 634.3 L246.5 634.7 L247.4 635.2 L247.4 635.2 L248.3 635.6 L249.1 635.9 L250.0 636.2 L250.0 636.2 L250.8 636.4 L251.7 636.6 L252.6 636.6 L253.4 636.6 L254.3 636.4 L255.1 636.2 L255.1 636.2 L256.0 635.9 L256.9 635.6 L257.7 635.2 L257.7 635.2 L258.6 634.7 L259.4 634.3 L260.3 633.8 L260.3 633.8 L261.2 633.3 L262.0 632.8 L262.8 632.3 L262.9 632.2 L263.7 631.7 L264.6 631.1 L265.4 630.6 L265.5 630.6 L266.3 630.0 L267.2 629.4 L268.0 628.9 L268.0 628.9 L268.9 628.3 L269.8 627.7 L270.5 627.2 L270.6 627.1 L271.5 626.5 L272.3 625.9 L273.1 625.4 L273.2 625.3 L275.7 623.6 L278.2 621.7 L280.8 619.8 L283.4 617.9 L285.9 615.9 L288.5 613.9 L291.1 611.9 L293.6 609.8 L296.2 607.7 L298.8 605.5 L301.3 603.3 L303.9 601.0 L306.5 598.7 L309.0 596.3 L311.6 593.8 L314.2 591.3 L316.7 588.7 L319.3 586.0 L321.9 583.2 L324.4 580.4 L327.0 577.4 L329.6 574.4 L332.1 571.2 L334.7 568.0 L337.3 564.6 L339.8 561.2 L342.4 557.6 L345.0 553.9 L347.5 550.2 L350.1 546.3 L352.7 542.2 L355.2 538.1 L357.8 533.9 L360.4 529.5 L362.9 525.0 L365.5 520.4 L368.1 515.7 L370.6 511.0 L373.2 506.1 L375.8 501.1 L378.3 496.0 L380.9 490.8 L383.5 485.6 L386.0 480.3 L388.6 474.9 L391.2 469.5 L393.7 464.1 L396.3 458.7 L398.9 453.2 L401.4 447.8 L404.0 442.4" stroke="#0000ff"/>
<path d="M120.7 445.3 L122.9 450.0 L125.1 454.7 L127.4 459.2 L129.6 463.7 L131.8 468.0 L134.1 472.3 L136.3 476.5 L138.5 480.6 L140.8 484.6 L143.0 488.5 L145.3 492.4 L147.5 496.1 L149.7 499.8 L152.0 503.3 L154.2 506.8 L156.4 510.2 L158.7 513.5 L160.9 516.8 L163.1 519.9 L165.4 523.0 L167.6 526.0 L169.8 528.9 L172.1 531.7 L174.3 534.4 L176.6 537.1 L178.8 539.6 L181.0 542.1 L183.3 544.5 L185.5 546.9 L187.7 549.1 L190.0 551.3 L192.2 553.4 L194.4 555.4 L196.7 557.3 L198.9 559.2 L201.1 561.0 L203.4 562.7 L205.6 564.3 L207.9 565.8 L210.1 567.3 L212.3 568.7 L214.6 570.0 L216.8 571.2 L219.0 572.4 L221.3 573.5 L223.5 574.5 L225.7 575.4 L228.0 576.3 L230.2 577.1 L232.4 577.8 L234.7 578.4 L236.9 579.0 L239.2 579.5 L241.4 579.9 L243.6 580.2 L245.9 580.5 L248.1 580.7 L250.3 580.8 L252.6 580.8 L254.8 580.8 L257.0 580.7 L259.3 580.5 L261.5 580.2 L263.7 579.9 L266.0 579.5 L268.2 579.0 L270.5 578.4 L272.7 577.8 L274.9 577.1 L277.2 576.3 L279.4 575.4 L281.6 574.5 L283.9 573.5 L286.1 572.4 L288.3 571.2 L290.6 570.0 L292.8 568.7 L295.0 567.3 L297.3 565.8 L299.5 564.3 L301.8 562.7 L304.0 561.0 L306.2 559.2 L308.5 557.3 L310.7 555.4 L312.9 553.4 L315.2 551.3 L317.4 549.1 L319.6 546.9 L321.9 544.5 L324.1 542.1 L326.3 539.6 L328.6 537.1 L330.8 534.4 L333.1 531.7 L335.3 528.9 L337.5 526.0 L339.8 523.0 L342.0 519.9 L344.2 516.8 L346.5 513.5 L348.7 510.2 L350.9 506.8 L353.2 503.3 L355.4 499.8 L357.6 496.1 L359.9 492.4 L362.1 488.5 L364.4 484.6 L366.6 480.6 L368.8 476.5 L371.1 472.3 L373.3 468.0 L375.5 463.7 L377.8 459.2 L380.0 454.7 L382.2 450.0 L384.5 445.3" stroke="#0000ff"/>
<path d="M131.4 448.4 L133.5 452.3 L135.5 456.1 L137.6 459.8 L139.6 463.5 L141.7 467.1 L143.7 470.6 L145.8 474.1 L147.8 477.5 L149.9 480.9 L151.9 484.1 L154.0 487.4 L156.1 490.5 L158.1 493.6 L160.2 496.6 L162.2 499.5 L164.3 502.4 L166.3 505.2 L168.4 508.0 L170.4 510.7 L172.5 513.3 L174.5 515.8 L176.6 518.3 L178.6 520.7 L180.7 523.1 L182.7 525.4 L184.8 527.6 L186.9 529.7 L188.9 531.8 L191.0 533.8 L193.0 535.8 L195.1 537.7 L197.1 539.5 L199.2 541.2 L201.2 542.9 L203.3 544.6 L205.3 546.1 L207.4 547.6 L209.4 549.0 L211.5 550.4 L213.6 551.7 L215.6 552.9 L217.7 554.1 L219.7 555.2 L221.8 556.2 L223.8 557.1 L225.9 558.0 L227.9 558.9 L230.0 559.6 L232.0 560.3 L234.1 560.9 L236.1 561.5 L238.2 562.0 L240.2 562.4 L242.3 562.8 L244.4 563.1 L246.4 563.3 L248.5 563.5 L250.5 563.6 L252.6 563.6 L254.6 563.6 L256.7 563.5 L258.7 563.3 L260.8 563.1 L262.8 562.8 L264.9 562.4 L266.9 562.0 L269.0 561.5 L271.0 560.9 L273.1 560.3 L275.2 559.6 L277.2 558.9 L279.3 558.0 L281.3 557.1 L283.4 556.2 L285.4 555.2 L287.5 554.1 L289.5 552.9 L291.6 551.7 L293.6 550.4 L295.7 549.0 L297.7 547.6 L299.8 546.1 L301.8 544.6 L303.9 542.9 L306.0 541.2 L308.0 539.5 L310.1 537.7 L312.1 535.8 L314.2 533.8 L316.2 531.8 L318.3 529.7 L320.3 527.6 L322.4 525.4 L324.4 523.1 L326.5 520.7 L328.5 518.3 L330.6 515.8 L332.6 513.3 L334.7 510.7 L336.8 508.0 L338.8 505.2 L340.9 502.4 L342.9 499.5 L345.0 496.6 L347.0 493.6 L349.1 490.5 L351.1 487.4 L353.2 484.1 L355.2 480.9 L357.3 477.5 L359.3 474.1 L361.4 470.6 L363.4 467.1 L365.5 463.5 L367.6 459.8 L369.6 456.1 L371.7 452.3 L373.7 448.4" stroke="#0000ff"/>
<path d="M136.3 449.4 L138.3 453.0 L140.3 456.6 L142.2 460.0 L144.2 463.4 L146.2 466.7 L148.2 470.0 L150.1 473.2 L152.1 476.4 L154.1 479.5 L156.0 482.5 L158.0 485.5 L160.0 488.4 L161.9 491.2 L163.9 494.0 L165.9 496.8 L167.9 499.4 L169.8 502.0 L171.8 504.6 L173.8 507.0 L175.7 509.5 L177.7 511.8 L179.7 514.1 L181.6 516.3 L183.6 518.5 L185.6 520.6 L187.6 522.7 L189.5 524.7 L191.5 526.6 L193.5 528.5 L195.4 530.3 L197.4 532.0 L199.4 533.7 L201.3 535.3 L203.3 536.9 L205.3 538.4 L207.3 539.8 L209.2 541.2 L211.2 542.5 L213.2 543.8 L215.1 545.0 L217.1 546.1 L219.1 547.2 L221.0 548.2 L223.0 549.1 L225.0 550.0 L227.0 550.9 L228.9 551.6 L230.9 552.3 L232.9 553.0 L234.8 553.5 L236.8 554.1 L238.8 554.5 L240.7 554.9 L242.7 555.3 L244.7 555.5 L246.7 555.8 L248.6 555.9 L250.6 556.0 L252.6 556.0 L254.5 556.0 L256.5 555.9 L258.5 555.8 L260.4 555.5 L262.4 555.3 L264.4 554.9 L266.4 554.5 L268.3 554.1 L270.3 553.5 L272.3 553.0 L274.2 552.3 L276.2 551.6 L278.2 550.9 L280.1 550.0 L282.1 549.1 L284.1 548.2 L286.1 547.2 L288.0 546.1 L290.0 545.0 L292.0 543.8 L293.9 542.5 L295.9 541.2 L297.9 539.8 L299.8 538.4 L301.8 536.9 L303.8 535.3 L305.8 533.7 L307.7 532.0 L309.7 530.3 L311.7 528.5 L313.6 526.6 L315.6 524.7 L317.6 522.7 L319.5 520.6 L321.5 518.5 L323.5 516.3 L325.5 514.1 L327.4 511.8 L329.4 509.5 L331.4 507.0 L333.3 504.6 L335.3 502.0 L337.3 499.4 L339.2 496.8 L341.2 494.0 L343.2 491.2 L345.2 488.4 L347.1 485.5 L349.1 482.5 L351.1 479.5 L353.0 476.4 L355.0 473.2 L357.0 470.0 L358.9 466.7 L360.9 463.4 L362.9 460.0 L364.9 456.6 L366.8 453.0 L368.8 449.4" stroke="#0000ff"/>
<path d="M138.7 449.6 L140.6 453.2 L142.6 456.6 L144.5 460.0 L146.4 463.4 L148.4 466.6 L150.3 469.9 L152.2 473.0 L154.1 476.1 L156.1 479.2 L158.0 482.2 L159.9 485.1 L161.9 487.9 L163.8 490.7 L165.7 493.5 L167.7 496.2 L169.6 498.8 L171.5 501.3 L173.4 503.8 L175.4 506.3 L177.3 508.7 L179.2 511.0 L181.2 513.2 L183.1 515.4 L185.0 517.6 L187.0 519.7 L188.9 521.7 L190.8 523.6 L192.7 525.5 L194.7 527.4 L196.6 529.1 L198.5 530.9 L200.5 532.5 L202.4 534.1 L204.3 535.7 L206.3 537.1 L208.2 538.5 L210.1 539.9 L212.0 541.2 L214.0 542.4 L215.9 543.6 L217.8 544.7 L219.8 545.8 L221.7 546.8 L223.6 547.7 L225.5 548.6 L227.5 549.4 L229.4 550.1 L231.3 550.8 L233.3 551.5 L235.2 552.0 L237.1 552.6 L239.1 553.0 L241.0 553.4 L242.9 553.7 L244.8 554.0 L246.8 554.2 L248.7 554.4 L250.6 554.4 L252.6 554.5 L254.5 554.4 L256.4 554.4 L258.4 554.2 L260.3 554.0 L262.2 553.7 L264.1 553.4 L266.1 553.0 L268.0 552.6 L269.9 552.0 L271.9 551.5 L273.8 550.8 L275.7 550.1 L277.7 549.4 L279.6 548.6 L281.5 547.7 L283.4 546.8 L285.4 545.8 L287.3 544.7 L289.2 543.6 L291.2 542.4 L293.1 541.2 L295.0 539.9 L296.9 538.5 L298.9 537.1 L300.8 535.7 L302.7 534.1 L304.7 532.5 L306.6 530.9 L308.5 529.1 L310.5 527.4 L312.4 525.5 L314.3 523.6 L316.2 521.7 L318.2 519.7 L320.1 517.6 L322.0 515.4 L324.0 513.2 L325.9 511.0 L327.8 508.7 L329.8 506.3 L331.7 503.8 L333.6 501.3 L335.5 498.8 L337.5 496.2 L339.4 493.5 L341.3 490.7 L343.3 487.9 L345.2 485.1 L347.1 482.2 L349.1 479.2 L351.0 476.1 L352.9 473.0 L354.8 469.9 L356.8 466.6 L358.7 463.4 L360.6 460.0 L362.6 456.6 L364.5 453.2 L366.4 449.6" stroke="#0000ff"/>
<path d="M141.1 450.0 L143.0 453.4 L144.9 456.8 L146.7 460.1 L148.6 463.3 L150.5 466.5 L152.4 469.7 L154.3 472.7 L156.2 475.8 L158.1 478.7 L160.0 481.6 L161.9 484.5 L163.8 487.2 L165.6 490.0 L167.5 492.6 L169.4 495.2 L171.3 497.8 L173.2 500.3 L175.1 502.7 L177.0 505.1 L178.9 507.4 L180.8 509.7 L182.6 511.9 L184.5 514.0 L186.4 516.1 L188.3 518.1 L190.2 520.1 L192.1 522.0 L194.0 523.8 L195.9 525.6 L197.8 527.3 L199.7 529.0 L201.5 530.6 L203.4 532.2 L205.3 533.7 L207.2 535.1 L209.1 536.5 L211.0 537.8 L212.9 539.1 L214.8 540.3 L216.7 541.4 L218.6 542.5 L220.4 543.5 L222.3 544.5 L224.2 545.4 L226.1 546.3 L228.0 547.0 L229.9 547.8 L231.8 548.5 L233.7 549.1 L235.6 549.6 L237.4 550.1 L239.3 550.6 L241.2 550.9 L243.1 551.3 L245.0 551.5 L246.9 551.7 L248.8 551.9 L250.7 552.0 L252.6 552.0 L254.5 552.0 L256.3 551.9 L258.2 551.7 L260.1 551.5 L262.0 551.3 L263.9 550.9 L265.8 550.6 L267.7 550.1 L269.6 549.6 L271.5 549.1 L273.4 548.5 L275.2 547.8 L277.1 547.0 L279.0 546.3 L280.9 545.4 L282.8 544.5 L284.7 543.5 L286.6 542.5 L288.5 541.4 L290.4 540.3 L292.2 539.1 L294.1 537.8 L296.0 536.5 L297.9 535.1 L299.8 533.7 L301.7 532.2 L303.6 530.6 L305.5 529.0 L307.4 527.3 L309.3 525.6 L311.1 523.8 L313.0 522.0 L314.9 520.1 L316.8 518.1 L318.7 516.1 L320.6 514.0 L322.5 511.9 L324.4 509.7 L326.3 507.4 L328.1 505.1 L330.0 502.7 L331.9 500.3 L333.8 497.8 L335.7 495.2 L337.6 492.6 L339.5 490.0 L341.4 487.2 L343.3 484.5 L345.2 481.6 L347.0 478.7 L348.9 475.8 L350.8 472.7 L352.7 469.7 L354.6 466.5 L356.5 463.3 L358.4 460.1 L360.3 456.8 L362.2 453.4 L364.1 450.0" stroke="#0000ff"/>
<path d="M153.3 452.5 L155.0 455.2 L156.7 457.9 L158.3 460.6 L160.0 463.2 L161.7 465.7 L163.4 468.2 L165.1 470.7 L166.8 473.1 L168.4 475.5 L170.1 477.8 L171.8 480.1 L173.5 482.3 L175.2 484.5 L176.9 486.6 L178.5 488.7 L180.2 490.7 L181.9 492.7 L183.6 494.7 L185.3 496.6 L186.9 498.4 L188.6 500.2 L190.3 502.0 L192.0 503.7 L193.7 505.3 L195.4 506.9 L197.0 508.5 L198.7 510.0 L200.4 511.5 L202.1 512.9 L203.8 514.3 L205.5 515.7 L207.1 516.9 L208.8 518.2 L210.5 519.4 L212.2 520.5 L213.9 521.6 L215.5 522.7 L217.2 523.7 L218.9 524.7 L220.6 525.6 L222.3 526.4 L224.0 527.3 L225.6 528.0 L227.3 528.8 L229.0 529.4 L230.7 530.1 L232.4 530.6 L234.1 531.2 L235.7 531.7 L237.4 532.1 L239.1 532.5 L240.8 532.9 L242.5 533.2 L244.2 533.4 L245.8 533.6 L247.5 533.8 L249.2 533.9 L250.9 534.0 L252.6 534.0 L254.2 534.0 L255.9 533.9 L257.6 533.8 L259.3 533.6 L261.0 533.4 L262.7 533.2 L264.3 532.9 L266.0 532.5 L267.7 532.1 L269.4 531.7 L271.1 531.2 L272.8 530.6 L274.4 530.1 L276.1 529.4 L277.8 528.8 L279.5 528.0 L281.2 527.3 L282.9 526.4 L284.5 525.6 L286.2 524.7 L287.9 523.7 L289.6 522.7 L291.3 521.6 L292.9 520.5 L294.6 519.4 L296.3 518.2 L298.0 516.9 L299.7 515.7 L301.4 514.3 L303.0 512.9 L304.7 511.5 L306.4 510.0 L308.1 508.5 L309.8 506.9 L311.5 505.3 L313.1 503.7 L314.8 502.0 L316.5 500.2 L318.2 498.4 L319.9 496.6 L321.5 494.7 L323.2 492.7 L324.9 490.7 L326.6 488.7 L328.3 486.6 L330.0 484.5 L331.6 482.3 L333.3 480.1 L335.0 477.8 L336.7 475.5 L338.4 473.1 L340.1 470.7 L341.7 468.2 L343.4 465.7 L345.1 463.2 L346.8 460.6 L348.5 457.9 L350.2 455.2 L351.8 452.5" stroke="#0000ff"/>
<path d="M157.5 453.6 L159.1 456.0 L160.7 458.4 L162.3 460.8 L163.9 463.2 L165.5 465.5 L167.2 467.7 L168.8 469.9 L170.4 472.1 L172.0 474.2 L173.6 476.3 L175.2 478.3 L176.8 480.4 L178.4 482.3 L180.0 484.2 L181.7 486.1 L183.3 487.9 L184.9 489.7 L186.5 491.5 L188.1 493.2 L189.7 494.8 L191.3 496.5 L192.9 498.0 L194.6 499.6 L196.2 501.1 L197.8 502.5 L199.4 503.9 L201.0 505.3 L202.6 506.6 L204.2 507.9 L205.8 509.2 L207.4 510.4 L209.1 511.5 L210.7 512.6 L212.3 513.7 L213.9 514.8 L215.5 515.7 L217.1 516.7 L218.7 517.6 L220.3 518.5 L221.9 519.3 L223.6 520.1 L225.2 520.8 L226.8 521.5 L228.4 522.1 L230.0 522.8 L231.6 523.3 L233.2 523.9 L234.8 524.3 L236.5 524.8 L238.1 525.2 L239.7 525.5 L241.3 525.9 L242.9 526.1 L244.5 526.4 L246.1 526.6 L247.7 526.7 L249.3 526.8 L251.0 526.9 L252.6 526.9 L254.2 526.9 L255.8 526.8 L257.4 526.7 L259.0 526.6 L260.6 526.4 L262.2 526.1 L263.8 525.9 L265.5 525.5 L267.1 525.2 L268.7 524.8 L270.3 524.3 L271.9 523.9 L273.5 523.3 L275.1 522.8 L276.7 522.1 L278.3 521.5 L280.0 520.8 L281.6 520.1 L283.2 519.3 L284.8 518.5 L286.4 517.6 L288.0 516.7 L289.6 515.7 L291.2 514.8 L292.9 513.7 L294.5 512.6 L296.1 511.5 L297.7 510.4 L299.3 509.2 L300.9 507.9 L302.5 506.6 L304.1 505.3 L305.7 503.9 L307.4 502.5 L309.0 501.1 L310.6 499.6 L312.2 498.0 L313.8 496.5 L315.4 494.8 L317.0 493.2 L318.6 491.5 L320.2 489.7 L321.9 487.9 L323.5 486.1 L325.1 484.2 L326.7 482.3 L328.3 480.4 L329.9 478.3 L331.5 476.3 L333.1 474.2 L334.7 472.1 L336.4 469.9 L338.0 467.7 L339.6 465.5 L341.2 463.2 L342.8 460.8 L344.4 458.4 L346.0 456.0 L347.6 453.6" stroke="#0000ff"/>
<path d="M161.0 454.5 L162.5 456.7 L164.1 458.9 L165.6 461.0 L167.2 463.2 L168.7 465.2 L170.3 467.3 L171.8 469.3 L173.4 471.2 L174.9 473.1 L176.5 475.0 L178.0 476.9 L179.6 478.7 L181.1 480.4 L182.7 482.2 L184.2 483.9 L185.8 485.5 L187.3 487.1 L188.9 488.7 L190.5 490.3 L192.0 491.8 L193.6 493.2 L195.1 494.7 L196.7 496.0 L198.2 497.4 L199.8 498.7 L201.3 500.0 L202.9 501.2 L204.4 502.4 L206.0 503.6 L207.5 504.7 L209.1 505.8 L210.6 506.8 L212.2 507.8 L213.7 508.8 L215.3 509.7 L216.9 510.6 L218.4 511.5 L220.0 512.3 L221.5 513.1 L223.1 513.8 L224.6 514.5 L226.2 515.2 L227.7 515.8 L229.3 516.4 L230.8 517.0 L232.4 517.5 L233.9 518.0 L235.5 518.4 L237.0 518.8 L238.6 519.1 L240.1 519.5 L241.7 519.8 L243.2 520.0 L244.8 520.2 L246.4 520.4 L247.9 520.5 L249.5 520.6 L251.0 520.7 L252.6 520.7 L254.1 520.7 L255.7 520.6 L257.2 520.5 L258.8 520.4 L260.3 520.2 L261.9 520.0 L263.4 519.8 L265.0 519.5 L266.5 519.1 L268.1 518.8 L269.6 518.4 L271.2 518.0 L272.8 517.5 L274.3 517.0 L275.9 516.4 L277.4 515.8 L279.0 515.2 L280.5 514.5 L282.1 513.8 L283.6 513.1 L285.2 512.3 L286.7 511.5 L288.3 510.6 L289.8 509.7 L291.4 508.8 L292.9 507.8 L294.5 506.8 L296.0 505.8 L297.6 504.7 L299.1 503.6 L300.7 502.4 L302.3 501.2 L303.8 500.0 L305.4 498.7 L306.9 497.4 L308.5 496.0 L310.0 494.7 L311.6 493.2 L313.1 491.8 L314.7 490.3 L316.2 488.7 L317.8 487.1 L319.3 485.5 L320.9 483.9 L322.4 482.2 L324.0 480.4 L325.5 478.7 L327.1 476.9 L328.6 475.0 L330.2 473.1 L331.8 471.2 L333.3 469.3 L334.9 467.3 L336.4 465.2 L338.0 463.2 L339.5 461.0 L341.1 458.9 L342.6 456.7 L344.2 454.5" stroke="#0000ff"/>
<path d="M178.5 457.7 L179.7 459.1 L181.0 460.4 L182.2 461.8 L183.5 463.1 L184.7 464.4 L186.0 465.7 L187.2 467.0 L188.5 468.2 L189.8 469.4 L191.0 470.6 L192.3 471.8 L193.5 472.9 L194.8 474.0 L196.0 475.1 L197.3 476.2 L198.6 477.3 L199.8 478.3 L201.1 479.3 L202.3 480.2 L203.6 481.2 L204.8 482.1 L206.1 483.0 L207.3 483.9 L208.6 484.7 L209.9 485.6 L211.1 486.4 L212.4 487.2 L213.6 487.9 L214.9 488.6 L216.1 489.4 L217.4 490.0 L218.7 490.7 L219.9 491.3 L221.2 491.9 L222.4 492.5 L223.7 493.1 L224.9 493.6 L226.2 494.2 L227.4 494.7 L228.7 495.1 L230.0 495.6 L231.2 496.0 L232.5 496.4 L233.7 496.8 L235.0 497.1 L236.2 497.4 L237.5 497.7 L238.7 498.0 L240.0 498.3 L241.3 498.5 L242.5 498.7 L243.8 498.9 L245.0 499.0 L246.3 499.2 L247.5 499.3 L248.8 499.3 L250.1 499.4 L251.3 499.4 L252.6 499.5 L253.8 499.4 L255.1 499.4 L256.3 499.3 L257.6 499.3 L258.8 499.2 L260.1 499.0 L261.4 498.9 L262.6 498.7 L263.9 498.5 L265.1 498.3 L266.4 498.0 L267.6 497.7 L268.9 497.4 L270.1 497.1 L271.4 496.8 L272.7 496.4 L273.9 496.0 L275.2 495.6 L276.4 495.1 L277.7 494.7 L278.9 494.2 L280.2 493.6 L281.5 493.1 L282.7 492.5 L284.0 491.9 L285.2 491.3 L286.5 490.7 L287.7 490.0 L289.0 489.4 L290.2 488.6 L291.5 487.9 L292.8 487.2 L294.0 486.4 L295.3 485.6 L296.5 484.7 L297.8 483.9 L299.0 483.0 L300.3 482.1 L301.6 481.2 L302.8 480.2 L304.1 479.3 L305.3 478.3 L306.6 477.3 L307.8 476.2 L309.1 475.1 L310.3 474.0 L311.6 472.9 L312.9 471.8 L314.1 470.6 L315.4 469.4 L316.6 468.2 L317.9 467.0 L319.1 465.7 L320.4 464.4 L321.6 463.1 L322.9 461.8 L324.2 460.4 L325.4 459.1 L326.7 457.7" stroke="#0000ff"/>
<path d="M181.6 457.9 L182.8 459.3 L184.0 460.6 L185.2 461.8 L186.4 463.1 L187.6 464.3 L188.8 465.6 L190.0 466.7 L191.2 467.9 L192.4 469.1 L193.6 470.2 L194.8 471.3 L196.0 472.4 L197.2 473.4 L198.4 474.5 L199.6 475.5 L200.8 476.5 L202.0 477.4 L203.2 478.4 L204.4 479.3 L205.6 480.2 L206.8 481.1 L208.0 481.9 L209.2 482.7 L210.4 483.5 L211.6 484.3 L212.8 485.1 L214.1 485.8 L215.3 486.5 L216.5 487.2 L217.7 487.9 L218.9 488.5 L220.1 489.2 L221.3 489.8 L222.5 490.3 L223.7 490.9 L224.9 491.4 L226.1 491.9 L227.3 492.4 L228.5 492.9 L229.7 493.3 L230.9 493.8 L232.1 494.2 L233.3 494.5 L234.5 494.9 L235.7 495.2 L236.9 495.5 L238.1 495.8 L239.3 496.1 L240.5 496.3 L241.7 496.5 L242.9 496.7 L244.1 496.9 L245.3 497.0 L246.5 497.2 L247.8 497.3 L249.0 497.3 L250.2 497.4 L251.4 497.4 L252.6 497.4 L253.8 497.4 L255.0 497.4 L256.2 497.3 L257.4 497.3 L258.6 497.2 L259.8 497.0 L261.0 496.9 L262.2 496.7 L263.4 496.5 L264.6 496.3 L265.8 496.1 L267.0 495.8 L268.2 495.5 L269.4 495.2 L270.6 494.9 L271.8 494.5 L273.0 494.2 L274.2 493.8 L275.4 493.3 L276.6 492.9 L277.8 492.4 L279.0 491.9 L280.2 491.4 L281.4 490.9 L282.7 490.3 L283.9 489.8 L285.1 489.2 L286.3 488.5 L287.5 487.9 L288.7 487.2 L289.9 486.5 L291.1 485.8 L292.3 485.1 L293.5 484.3 L294.7 483.5 L295.9 482.7 L297.1 481.9 L298.3 481.1 L299.5 480.2 L300.7 479.3 L301.9 478.4 L303.1 477.4 L304.3 476.5 L305.5 475.5 L306.7 474.5 L307.9 473.4 L309.1 472.4 L310.3 471.3 L311.5 470.2 L312.7 469.1 L313.9 467.9 L315.1 466.7 L316.4 465.6 L317.6 464.3 L318.8 463.1 L320.0 461.8 L321.2 460.6 L322.4 459.3 L323.6 457.9" stroke="#0000ff"/>
<path d="M189.4 459.0 L190.5 460.0 L191.5 461.1 L192.6 462.1 L193.7 463.1 L194.8 464.1 L195.8 465.1 L196.9 466.0 L198.0 467.0 L199.0 467.9 L200.1 468.8 L201.2 469.7 L202.2 470.5 L203.3 471.4 L204.4 472.2 L205.5 473.0 L206.5 473.8 L207.6 474.6 L208.7 475.3 L209.7 476.1 L210.8 476.8 L211.9 477.5 L213.0 478.2 L214.0 478.8 L215.1 479.5 L216.2 480.1 L217.2 480.7 L218.3 481.3 L219.4 481.9 L220.4 482.4 L221.5 483.0 L222.6 483.5 L223.7 484.0 L224.7 484.5 L225.8 484.9 L226.9 485.4 L227.9 485.8 L229.0 486.2 L230.1 486.6 L231.2 487.0 L232.2 487.3 L233.3 487.7 L234.4 488.0 L235.4 488.3 L236.5 488.6 L237.6 488.8 L238.6 489.1 L239.7 489.3 L240.8 489.5 L241.9 489.7 L242.9 489.9 L244.0 490.0 L245.1 490.2 L246.1 490.3 L247.2 490.4 L248.3 490.5 L249.4 490.5 L250.4 490.6 L251.5 490.6 L252.6 490.6 L253.6 490.6 L254.7 490.6 L255.8 490.5 L256.8 490.5 L257.9 490.4 L259.0 490.3 L260.1 490.2 L261.1 490.0 L262.2 489.9 L263.3 489.7 L264.3 489.5 L265.4 489.3 L266.5 489.1 L267.6 488.8 L268.6 488.6 L269.7 488.3 L270.8 488.0 L271.8 487.7 L272.9 487.3 L274.0 487.0 L275.0 486.6 L276.1 486.2 L277.2 485.8 L278.3 485.4 L279.3 484.9 L280.4 484.5 L281.5 484.0 L282.5 483.5 L283.6 483.0 L284.7 482.4 L285.8 481.9 L286.8 481.3 L287.9 480.7 L289.0 480.1 L290.0 479.5 L291.1 478.8 L292.2 478.2 L293.2 477.5 L294.3 476.8 L295.4 476.1 L296.5 475.3 L297.5 474.6 L298.6 473.8 L299.7 473.0 L300.7 472.2 L301.8 471.4 L302.9 470.5 L304.0 469.7 L305.0 468.8 L306.1 467.9 L307.2 467.0 L308.2 466.0 L309.3 465.1 L310.4 464.1 L311.4 463.1 L312.5 462.1 L313.6 461.1 L314.7 460.0 L315.7 459.0" stroke="#0000ff"/>
<path d="M199.1 460.2 L200.0 461.0 L200.9 461.7 L201.8 462.5 L202.7 463.2 L203.6 463.9 L204.5 464.6 L205.4 465.2 L206.3 465.9 L207.2 466.5 L208.1 467.2 L209.0 467.8 L209.9 468.4 L210.9 469.0 L211.8 469.6 L212.7 470.2 L213.6 470.7 L214.5 471.3 L215.4 471.8 L216.3 472.3 L217.2 472.8 L218.1 473.3 L219.0 473.8 L219.9 474.3 L220.8 474.7 L221.7 475.2 L222.6 475.6 L223.5 476.0 L224.5 476.4 L225.4 476.8 L226.3 477.2 L227.2 477.5 L228.1 477.9 L229.0 478.2 L229.9 478.6 L230.8 478.9 L231.7 479.2 L232.6 479.5 L233.5 479.7 L234.4 480.0 L235.3 480.2 L236.2 480.5 L237.1 480.7 L238.1 480.9 L239.0 481.1 L239.9 481.3 L240.8 481.5 L241.7 481.6 L242.6 481.8 L243.5 481.9 L244.4 482.0 L245.3 482.1 L246.2 482.2 L247.1 482.3 L248.0 482.4 L248.9 482.5 L249.8 482.5 L250.8 482.5 L251.7 482.6 L252.6 482.6 L253.5 482.6 L254.4 482.5 L255.3 482.5 L256.2 482.5 L257.1 482.4 L258.0 482.3 L258.9 482.2 L259.8 482.1 L260.7 482.0 L261.6 481.9 L262.5 481.8 L263.4 481.6 L264.4 481.5 L265.3 481.3 L266.2 481.1 L267.1 480.9 L268.0 480.7 L268.9 480.5 L269.8 480.2 L270.7 480.0 L271.6 479.7 L272.5 479.5 L273.4 479.2 L274.3 478.9 L275.2 478.6 L276.1 478.2 L277.0 477.9 L278.0 477.5 L278.9 477.2 L279.8 476.8 L280.7 476.4 L281.6 476.0 L282.5 475.6 L283.4 475.2 L284.3 474.7 L285.2 474.3 L286.1 473.8 L287.0 473.3 L287.9 472.8 L288.8 472.3 L289.7 471.8 L290.7 471.3 L291.6 470.7 L292.5 470.2 L293.4 469.6 L294.3 469.0 L295.2 468.4 L296.1 467.8 L297.0 467.2 L297.9 466.5 L298.8 465.9 L299.7 465.2 L300.6 464.6 L301.5 463.9 L302.4 463.2 L303.3 462.5 L304.3 461.7 L305.2 461.0 L306.1 460.2" stroke="#0000ff"/>
<path d="M203.4 460.6 L204.3 461.2 L205.1 461.9 L205.9 462.5 L206.8 463.2 L207.6 463.8 L208.4 464.4 L209.3 465.0 L210.1 465.6 L210.9 466.2 L211.8 466.7 L212.6 467.3 L213.4 467.8 L214.3 468.3 L215.1 468.9 L215.9 469.4 L216.8 469.9 L217.6 470.3 L218.4 470.8 L219.3 471.3 L220.1 471.7 L220.9 472.2 L221.8 472.6 L222.6 473.0 L223.4 473.4 L224.3 473.8 L225.1 474.2 L225.9 474.6 L226.8 474.9 L227.6 475.3 L228.4 475.6 L229.3 475.9 L230.1 476.2 L230.9 476.5 L231.7 476.8 L232.6 477.1 L233.4 477.4 L234.2 477.6 L235.1 477.9 L235.9 478.1 L236.7 478.3 L237.6 478.5 L238.4 478.7 L239.2 478.9 L240.1 479.1 L240.9 479.3 L241.7 479.4 L242.6 479.6 L243.4 479.7 L244.2 479.8 L245.1 479.9 L245.9 480.0 L246.7 480.1 L247.6 480.2 L248.4 480.2 L249.2 480.3 L250.1 480.3 L250.9 480.4 L251.7 480.4 L252.6 480.4 L253.4 480.4 L254.2 480.4 L255.1 480.3 L255.9 480.3 L256.7 480.2 L257.6 480.2 L258.4 480.1 L259.2 480.0 L260.1 479.9 L260.9 479.8 L261.7 479.7 L262.6 479.6 L263.4 479.4 L264.2 479.3 L265.1 479.1 L265.9 478.9 L266.7 478.7 L267.6 478.5 L268.4 478.3 L269.2 478.1 L270.1 477.9 L270.9 477.6 L271.7 477.4 L272.5 477.1 L273.4 476.8 L274.2 476.5 L275.0 476.2 L275.9 475.9 L276.7 475.6 L277.5 475.3 L278.4 474.9 L279.2 474.6 L280.0 474.2 L280.9 473.8 L281.7 473.4 L282.5 473.0 L283.4 472.6 L284.2 472.2 L285.0 471.7 L285.9 471.3 L286.7 470.8 L287.5 470.3 L288.4 469.9 L289.2 469.4 L290.0 468.9 L290.9 468.3 L291.7 467.8 L292.5 467.3 L293.4 466.7 L294.2 466.2 L295.0 465.6 L295.9 465.0 L296.7 464.4 L297.5 463.8 L298.4 463.2 L299.2 462.5 L300.0 461.9 L300.9 461.2 L301.7 460.6" stroke="#0000ff"/>
</g>
<path d="M80.55 820.46 h13.3 M424.58 820.46 h-13.3 M80.55 758.46 h13.3 M424.58 758.46 h-13.3 M80.55 696.46 h13.3 M424.58 696.46 h-13.3 M80.55 634.46 h13.3 M424.58 634.46 h-13.3 M80.55 572.46 h13.3 M424.58 572.46 h-13.3 M80.55 510.46 h13.3 M424.58 510.46 h-13.3 M252.6 464.0 v13 M252.6 851.3 v-13" stroke="#000" stroke-width="1.15" fill="none"/>
<rect x="80.55" y="464.00" width="344.03" height="387.30" fill="none" stroke="#000" stroke-width="1.2"/>
<g clip-path="url(#cd)"><ellipse cx="502.2" cy="677.9" rx="18.3" ry="26.8" transform="rotate(-20 502.2 677.9)" fill="#e6afe1" stroke="#ff6ef0" stroke-width="1.4"/><ellipse cx="612.6" cy="663" rx="37.6" ry="15" fill="#82f882" stroke="#089a08" stroke-width="1.9"/></g>
<path d="M440.42 820.46 H784.50 M440.42 758.46 H784.50 M440.42 696.46 H784.50 M440.42 634.46 H784.50 M440.42 572.46 H784.50 M440.42 510.46 H784.50 M612.5 464.0 V851.3" stroke="#444" stroke-width="0.8" stroke-dasharray="1.9 1.4" fill="none"/>
<g clip-path="url(#cd)" fill="none" stroke-width="1.8" stroke-linejoin="round">
<path d="M440.4 564.7 L442.4 565.1 L444.3 566.1 L446.2 567.8 L448.2 570.1 L450.1 572.9 L452.0 576.2 L454.0 580.0 L455.9 584.1 L457.8 588.4 L459.8 592.9 L461.7 597.5 L463.6 602.2 L465.5 606.8 L467.5 611.3 L469.4 615.8 L471.3 620.1 L473.3 624.3 L475.2 628.4 L477.1 632.3 L479.1 636.1 L481.0 639.9 L482.9 643.6 L484.9 647.3 L486.8 651.0 L488.7 654.7 L490.7 658.4 L492.6 662.2 L494.5 666.0 L496.5 669.8 L498.4 673.7 L500.3 677.7 L502.3 681.6 L504.2 685.5 L506.1 689.3 L508.1 693.1 L510.0 696.8 L511.9 700.4 L513.9 703.9 L515.8 707.3 L517.7 710.5 L519.7 713.5 L521.6 716.5 L523.5 719.2 L525.5 721.9 L527.4 724.4 L529.3 726.8 L531.3 729.1 L533.2 731.3 L535.1 733.3 L537.1 735.4 L539.0 737.3 L540.9 739.1 L542.9 740.9 L544.8 742.6 L546.7 744.3 L548.7 745.8 L550.6 747.3 L552.5 748.7 L554.5 750.1 L556.4 751.4 L558.3 752.6 L560.3 753.8 L562.2 754.9 L564.1 756.0 L566.1 757.0 L568.0 757.9 L569.9 758.8 L571.9 759.7 L573.8 760.5 L575.7 761.3 L577.7 762.0 L579.6 762.7 L581.5 763.3 L583.5 763.9 L585.4 764.4 L587.3 764.9 L589.3 765.3 L591.2 765.7 L593.1 766.0 L595.1 766.3 L597.0 766.5 L598.9 766.7 L600.9 766.8 L602.8 766.9 L604.7 767.0 L606.7 767.1 L608.6 767.1 L610.5 767.1 L612.5 767.1 L614.4 767.1 L616.3 767.1 L618.3 767.1 L620.2 767.0 L622.1 766.9 L624.1 766.8 L626.0 766.7 L627.9 766.5 L629.9 766.3 L631.8 766.0 L633.7 765.7 L635.7 765.3 L637.6 764.9 L639.5 764.4 L641.5 763.9 L643.4 763.3 L645.3 762.7 L647.3 762.0 L649.2 761.3 L651.1 760.5 L653.1 759.7 L655.0 758.8 L656.9 757.9 L658.9 757.0 L660.8 756.0 L662.7 754.9 L664.7 753.8 L666.6 752.6 L668.5 751.4 L670.5 750.1 L672.4 748.7 L674.3 747.3 L676.3 745.8 L678.2 744.3 L680.1 742.6 L682.0 740.9 L684.0 739.1 L685.9 737.3 L687.8 735.4 L689.8 733.3 L691.7 731.3 L693.6 729.1 L695.6 726.8 L697.5 724.4 L699.4 721.9 L701.4 719.2 L703.3 716.5 L705.2 713.5 L707.2 710.5 L709.1 707.3 L711.0 703.9 L713.0 700.4 L714.9 696.8 L716.8 693.1 L718.8 689.3 L720.7 685.5 L722.6 681.6 L724.6 677.7 L726.5 673.7 L728.4 669.8 L730.4 666.0 L732.3 662.2 L734.2 658.4 L736.2 654.7 L738.1 651.0 L740.0 647.3 L742.0 643.6 L743.9 639.9 L745.8 636.1 L747.8 632.3 L749.7 628.4 L751.6 624.3 L753.6 620.1 L755.5 615.8 L757.4 611.3 L759.4 606.8 L761.3 602.2 L763.2 597.5 L765.2 592.9 L767.1 588.4 L769.0 584.1 L771.0 580.0 L772.9 576.2 L774.8 572.9 L776.8 570.1 L778.7 567.8 L780.6 566.1 L782.6 565.1 L784.5 564.7" stroke="#ff0000"/>
<path d="M467.8 437.8 L470.2 444.6 L472.7 451.3 L475.1 457.7 L477.6 463.9 L480.0 469.9 L482.5 475.8 L484.9 481.4 L487.4 487.0 L489.8 492.3 L492.3 497.5 L494.7 502.6 L497.2 507.5 L499.6 512.3 L502.1 516.9 L504.6 521.5 L507.0 525.9 L509.5 530.3 L511.9 534.5 L514.4 538.6 L516.8 542.7 L519.3 546.6 L521.7 550.5 L524.2 554.3 L526.6 558.0 L529.1 561.6 L531.5 565.2 L534.0 568.6 L536.4 572.0 L538.9 575.4 L541.3 578.6 L543.8 581.8 L546.2 585.0 L548.7 588.0 L551.1 591.0 L553.6 594.0 L556.1 596.9 L558.5 599.7 L561.0 602.5 L563.4 605.1 L565.9 607.8 L568.3 610.3 L570.8 612.8 L573.2 615.3 L575.7 617.6 L578.1 619.9 L580.6 622.1 L583.0 624.3 L585.5 626.3 L587.9 628.2 L590.4 630.1 L591.8 631.1 L592.7 631.7 L592.8 631.8 L593.5 632.2 L594.4 632.8 L595.3 633.3 L595.3 633.4 L596.1 633.9 L597.0 634.4 L597.7 634.8 L597.8 634.9 L598.7 635.3 L599.6 635.8 L600.2 636.1 L600.4 636.2 L601.3 636.6 L602.1 637.0 L602.7 637.2 L603.0 637.3 L603.9 637.6 L604.7 637.9 L605.1 638.0 L605.6 638.2 L606.4 638.4 L607.3 638.6 L607.6 638.7 L608.2 638.8 L609.0 639.0 L609.9 639.1 L610.0 639.1 L610.7 639.2 L611.6 639.2 L612.5 639.2 L613.3 639.2 L614.2 639.2 L614.9 639.1 L615.0 639.1 L615.9 639.0 L616.8 638.8 L617.4 638.7 L617.6 638.6 L618.5 638.4 L619.3 638.2 L619.8 638.0 L620.2 637.9 L621.1 637.6 L621.9 637.3 L622.3 637.2 L622.8 637.0 L623.6 636.6 L624.5 636.2 L624.7 636.1 L625.4 635.8 L626.2 635.3 L627.1 634.9 L627.2 634.8 L627.9 634.4 L628.8 633.9 L629.6 633.4 L629.7 633.3 L630.5 632.8 L631.4 632.2 L632.1 631.8 L632.2 631.7 L633.1 631.1 L634.5 630.1 L637.0 628.2 L639.4 626.3 L641.9 624.3 L644.3 622.1 L646.8 619.9 L649.2 617.6 L651.7 615.3 L654.2 612.8 L656.6 610.3 L659.1 607.8 L661.5 605.1 L664.0 602.5 L666.4 599.7 L668.9 596.9 L671.3 594.0 L673.8 591.0 L676.2 588.0 L678.7 585.0 L681.1 581.8 L683.6 578.6 L686.0 575.4 L688.5 572.0 L690.9 568.6 L693.4 565.2 L695.8 561.6 L698.3 558.0 L700.7 554.3 L703.2 550.5 L705.7 546.6 L708.1 542.7 L710.6 538.6 L713.0 534.5 L715.5 530.3 L717.9 525.9 L720.4 521.5 L722.8 516.9 L725.3 512.3 L727.7 507.5 L730.2 502.6 L732.6 497.5 L735.1 492.3 L737.5 487.0 L740.0 481.4 L742.4 475.8 L744.9 469.9 L747.3 463.9 L749.8 457.7 L752.2 451.3 L754.7 444.6 L757.2 437.8" stroke="#ff0000"/>
<path d="M440.4 721.3 L442.4 721.3 L444.3 721.3 L446.2 721.4 L448.2 721.6 L450.1 721.8 L452.0 722.0 L454.0 722.3 L455.9 722.6 L457.8 723.0 L459.8 723.5 L461.7 724.0 L463.6 724.6 L465.5 725.2 L467.5 725.9 L469.4 726.7 L471.3 727.5 L473.3 728.4 L475.2 729.3 L477.1 730.4 L479.1 731.5 L481.0 732.6 L482.9 733.8 L484.9 735.1 L486.8 736.4 L488.7 737.7 L490.7 739.2 L492.6 740.6 L494.5 742.1 L496.5 743.7 L498.4 745.2 L500.3 746.9 L502.3 748.6 L504.2 750.3 L506.1 752.0 L508.1 753.9 L510.0 755.7 L511.9 757.7 L513.9 759.7 L515.8 761.7 L517.7 763.8 L519.7 766.0 L521.6 768.2 L523.5 770.5 L525.5 772.8 L527.4 775.2 L529.3 777.7 L531.3 780.2 L533.2 782.7 L535.1 785.3 L537.1 787.9 L539.0 790.5 L540.9 793.1 L542.9 795.8 L544.8 798.4 L546.7 801.0 L548.7 803.5 L550.6 806.1 L552.5 808.5 L554.5 811.0 L556.4 813.3 L558.3 815.6 L560.3 817.9 L562.2 820.0 L564.1 822.1 L566.1 824.1 L568.0 826.0 L569.9 827.8 L571.9 829.5 L573.8 831.2 L575.7 832.8 L577.7 834.2 L579.6 835.7 L581.5 837.0 L583.5 838.2 L585.4 839.4 L587.3 840.5 L589.3 841.5 L591.2 842.4 L593.1 843.3 L595.1 844.0 L597.0 844.7 L598.9 845.4 L600.9 845.9 L602.8 846.4 L604.7 846.8 L606.7 847.0 L608.6 847.3 L610.5 847.4 L612.5 847.4 L614.4 847.4 L616.3 847.3 L618.3 847.0 L620.2 846.8 L622.1 846.4 L624.1 845.9 L626.0 845.4 L627.9 844.7 L629.9 844.0 L631.8 843.3 L633.7 842.4 L635.7 841.5 L637.6 840.5 L639.5 839.4 L641.5 838.2 L643.4 837.0 L645.3 835.7 L647.3 834.2 L649.2 832.8 L651.1 831.2 L653.1 829.5 L655.0 827.8 L656.9 826.0 L658.9 824.1 L660.8 822.1 L662.7 820.0 L664.7 817.9 L666.6 815.6 L668.5 813.3 L670.5 811.0 L672.4 808.5 L674.3 806.1 L676.3 803.5 L678.2 801.0 L680.1 798.4 L682.0 795.8 L684.0 793.1 L685.9 790.5 L687.8 787.9 L689.8 785.3 L691.7 782.7 L693.6 780.2 L695.6 777.7 L697.5 775.2 L699.4 772.8 L701.4 770.5 L703.3 768.2 L705.2 766.0 L707.2 763.8 L709.1 761.7 L711.0 759.7 L713.0 757.7 L714.9 755.7 L716.8 753.9 L718.8 752.0 L720.7 750.3 L722.6 748.6 L724.6 746.9 L726.5 745.2 L728.4 743.7 L730.4 742.1 L732.3 740.6 L734.2 739.2 L736.2 737.7 L738.1 736.4 L740.0 735.1 L742.0 733.8 L743.9 732.6 L745.8 731.5 L747.8 730.4 L749.7 729.3 L751.6 728.4 L753.6 727.5 L755.5 726.7 L757.4 725.9 L759.4 725.2 L761.3 724.6 L763.2 724.0 L765.2 723.5 L767.1 723.0 L769.0 722.6 L771.0 722.3 L772.9 722.0 L774.8 721.8 L776.8 721.6 L778.7 721.4 L780.6 721.3 L782.6 721.3 L784.5 721.3" stroke="#ff0000"/>
<path d="M440.4 753.8 L442.4 753.8 L444.3 753.8 L446.2 753.8 L448.2 753.9 L450.1 753.9 L452.0 754.0 L454.0 754.0 L455.9 754.1 L457.8 754.2 L459.8 754.3 L461.7 754.4 L463.6 754.5 L465.5 754.6 L467.5 754.7 L469.4 754.9 L471.3 755.0 L473.3 755.2 L475.2 755.4 L477.1 755.6 L479.1 755.8 L481.0 756.1 L482.9 756.3 L484.9 756.6 L486.8 756.9 L488.7 757.2 L490.7 757.5 L492.6 757.8 L494.5 758.1 L496.5 758.5 L498.4 758.8 L500.3 759.2 L502.3 759.6 L504.2 760.0 L506.1 760.4 L508.1 760.8 L510.0 761.2 L511.9 761.6 L513.9 762.0 L515.8 762.5 L517.7 762.9 L519.7 763.3 L521.6 763.8 L523.5 764.2 L525.5 764.6 L527.4 765.0 L529.3 765.4 L531.3 765.8 L533.2 766.2 L535.1 766.6 L537.1 767.0 L539.0 767.4 L540.9 767.7 L542.9 768.1 L544.8 768.4 L546.7 768.8 L548.7 769.1 L550.6 769.4 L552.5 769.7 L554.5 770.0 L556.4 770.2 L558.3 770.5 L560.3 770.8 L562.2 771.0 L564.1 771.2 L566.1 771.4 L568.0 771.6 L569.9 771.8 L571.9 772.0 L573.8 772.2 L575.7 772.3 L577.7 772.5 L579.6 772.6 L581.5 772.7 L583.5 772.8 L585.4 772.9 L587.3 773.0 L589.3 773.1 L591.2 773.2 L593.1 773.3 L595.1 773.4 L597.0 773.4 L598.9 773.5 L600.9 773.5 L602.8 773.6 L604.7 773.6 L606.7 773.6 L608.6 773.6 L610.5 773.6 L612.5 773.6 L614.4 773.6 L616.3 773.6 L618.3 773.6 L620.2 773.6 L622.1 773.6 L624.1 773.5 L626.0 773.5 L627.9 773.4 L629.9 773.4 L631.8 773.3 L633.7 773.2 L635.7 773.1 L637.6 773.0 L639.5 772.9 L641.5 772.8 L643.4 772.7 L645.3 772.6 L647.3 772.5 L649.2 772.3 L651.1 772.2 L653.1 772.0 L655.0 771.8 L656.9 771.6 L658.9 771.4 L660.8 771.2 L662.7 771.0 L664.7 770.8 L666.6 770.5 L668.5 770.2 L670.5 770.0 L672.4 769.7 L674.3 769.4 L676.3 769.1 L678.2 768.8 L680.1 768.4 L682.0 768.1 L684.0 767.7 L685.9 767.4 L687.8 767.0 L689.8 766.6 L691.7 766.2 L693.6 765.8 L695.6 765.4 L697.5 765.0 L699.4 764.6 L701.4 764.2 L703.3 763.8 L705.2 763.3 L707.2 762.9 L709.1 762.5 L711.0 762.0 L713.0 761.6 L714.9 761.2 L716.8 760.8 L718.8 760.4 L720.7 760.0 L722.6 759.6 L724.6 759.2 L726.5 758.8 L728.4 758.5 L730.4 758.1 L732.3 757.8 L734.2 757.5 L736.2 757.2 L738.1 756.9 L740.0 756.6 L742.0 756.3 L743.9 756.1 L745.8 755.8 L747.8 755.6 L749.7 755.4 L751.6 755.2 L753.6 755.0 L755.5 754.9 L757.4 754.7 L759.4 754.6 L761.3 754.5 L763.2 754.4 L765.2 754.3 L767.1 754.2 L769.0 754.1 L771.0 754.0 L772.9 754.0 L774.8 753.9 L776.8 753.9 L778.7 753.8 L780.6 753.8 L782.6 753.8 L784.5 753.8" stroke="#ff0000"/>
<path d="M440.4 804.0 L442.4 804.0 L444.3 804.0 L446.2 803.9 L448.2 803.7 L450.1 803.6 L452.0 803.4 L454.0 803.1 L455.9 802.8 L457.8 802.5 L459.8 802.1 L461.7 801.7 L463.6 801.2 L465.5 800.7 L467.5 800.2 L469.4 799.6 L471.3 798.9 L473.3 798.2 L475.2 797.5 L477.1 796.7 L479.1 795.9 L481.0 795.1 L482.9 794.2 L484.9 793.3 L486.8 792.4 L488.7 791.5 L490.7 790.6 L492.6 789.6 L494.5 788.7 L496.5 787.7 L498.4 786.8 L500.3 785.8 L502.3 784.8 L504.2 783.8 L506.1 782.8 L508.1 781.8 L510.0 780.8 L511.9 779.8 L513.9 778.7 L515.8 777.6 L517.7 776.5 L519.7 775.4 L521.6 774.2 L523.5 773.0 L525.5 771.7 L527.4 770.4 L529.3 769.1 L531.3 767.7 L533.2 766.3 L535.1 764.8 L537.1 763.3 L539.0 761.8 L540.9 760.2 L542.9 758.5 L544.8 756.9 L546.7 755.2 L548.7 753.5 L550.6 751.8 L552.5 750.1 L554.5 748.4 L556.4 746.7 L558.3 745.0 L560.3 743.3 L562.2 741.7 L564.1 740.1 L566.1 738.5 L568.0 736.9 L569.9 735.4 L571.9 734.0 L573.8 732.6 L575.7 731.2 L577.7 730.0 L579.6 728.7 L581.5 727.5 L583.5 726.4 L585.4 725.4 L587.3 724.4 L589.3 723.5 L591.2 722.7 L593.1 721.9 L595.1 721.2 L597.0 720.6 L598.9 720.0 L600.9 719.5 L602.8 719.1 L604.7 718.8 L606.7 718.5 L608.6 718.3 L610.5 718.2 L612.5 718.2 L614.4 718.2 L616.3 718.3 L618.3 718.5 L620.2 718.8 L622.1 719.1 L624.1 719.5 L626.0 720.0 L627.9 720.6 L629.9 721.2 L631.8 721.9 L633.7 722.7 L635.7 723.5 L637.6 724.4 L639.5 725.4 L641.5 726.4 L643.4 727.5 L645.3 728.7 L647.3 730.0 L649.2 731.2 L651.1 732.6 L653.1 734.0 L655.0 735.4 L656.9 736.9 L658.9 738.5 L660.8 740.1 L662.7 741.7 L664.7 743.3 L666.6 745.0 L668.5 746.7 L670.5 748.4 L672.4 750.1 L674.3 751.8 L676.3 753.5 L678.2 755.2 L680.1 756.9 L682.0 758.5 L684.0 760.2 L685.9 761.8 L687.8 763.3 L689.8 764.8 L691.7 766.3 L693.6 767.7 L695.6 769.1 L697.5 770.4 L699.4 771.7 L701.4 773.0 L703.3 774.2 L705.2 775.4 L707.2 776.5 L709.1 777.6 L711.0 778.7 L713.0 779.8 L714.9 780.8 L716.8 781.8 L718.8 782.8 L720.7 783.8 L722.6 784.8 L724.6 785.8 L726.5 786.8 L728.4 787.7 L730.4 788.7 L732.3 789.6 L734.2 790.6 L736.2 791.5 L738.1 792.4 L740.0 793.3 L742.0 794.2 L743.9 795.1 L745.8 795.9 L747.8 796.7 L749.7 797.5 L751.6 798.2 L753.6 798.9 L755.5 799.6 L757.4 800.2 L759.4 800.7 L761.3 801.2 L763.2 801.7 L765.2 802.1 L767.1 802.5 L769.0 802.8 L771.0 803.1 L772.9 803.4 L774.8 803.6 L776.8 803.7 L778.7 803.9 L780.6 804.0 L782.6 804.0 L784.5 804.0" stroke="#ff0000"/>
<path d="M494.8 448.1 L496.8 452.0 L498.7 455.9 L500.7 459.7 L502.7 463.4 L504.7 467.0 L506.7 470.6 L508.7 474.1 L510.7 477.6 L512.7 481.0 L514.7 484.3 L516.7 487.5 L518.7 490.7 L520.7 493.8 L522.7 496.9 L524.7 499.9 L526.7 502.8 L528.7 505.6 L530.7 508.4 L532.7 511.1 L534.7 513.8 L536.7 516.3 L538.6 518.9 L540.6 521.3 L542.6 523.7 L544.6 526.0 L546.6 528.2 L548.6 530.4 L550.6 532.5 L552.6 534.6 L554.6 536.5 L556.6 538.5 L558.6 540.3 L560.6 542.1 L562.6 543.8 L564.6 545.4 L566.6 547.0 L568.6 548.5 L570.6 549.9 L572.6 551.3 L574.6 552.6 L576.6 553.9 L578.5 555.0 L580.5 556.1 L582.5 557.2 L584.5 558.1 L586.5 559.0 L588.5 559.9 L590.5 560.7 L592.5 561.4 L594.5 562.0 L596.5 562.6 L598.5 563.1 L600.5 563.5 L602.5 563.9 L604.5 564.2 L606.5 564.4 L608.5 564.6 L610.5 564.7 L612.5 564.7 L614.5 564.7 L616.4 564.6 L618.4 564.4 L620.4 564.2 L622.4 563.9 L624.4 563.5 L626.4 563.1 L628.4 562.6 L630.4 562.0 L632.4 561.4 L634.4 560.7 L636.4 559.9 L638.4 559.0 L640.4 558.1 L642.4 557.2 L644.4 556.1 L646.4 555.0 L648.4 553.9 L650.4 552.6 L652.4 551.3 L654.4 549.9 L656.3 548.5 L658.3 547.0 L660.3 545.4 L662.3 543.8 L664.3 542.1 L666.3 540.3 L668.3 538.5 L670.3 536.5 L672.3 534.6 L674.3 532.5 L676.3 530.4 L678.3 528.2 L680.3 526.0 L682.3 523.7 L684.3 521.3 L686.3 518.9 L688.3 516.3 L690.3 513.8 L692.3 511.1 L694.3 508.4 L696.2 505.6 L698.2 502.8 L700.2 499.9 L702.2 496.9 L704.2 493.8 L706.2 490.7 L708.2 487.5 L710.2 484.3 L712.2 481.0 L714.2 477.6 L716.2 474.1 L718.2 470.6 L720.2 467.0 L722.2 463.4 L724.2 459.7 L726.2 455.9 L728.2 452.0 L730.2 448.1" stroke="#ff0000"/>
<path d="M505.9 450.6 L507.7 453.8 L509.5 457.0 L511.3 460.2 L513.1 463.2 L514.9 466.3 L516.7 469.2 L518.5 472.1 L520.3 475.0 L522.1 477.8 L523.9 480.5 L525.8 483.2 L527.6 485.8 L529.4 488.4 L531.2 490.9 L533.0 493.4 L534.8 495.8 L536.6 498.2 L538.4 500.5 L540.2 502.7 L542.0 504.9 L543.8 507.0 L545.6 509.1 L547.4 511.1 L549.2 513.1 L551.0 515.0 L552.8 516.9 L554.7 518.7 L556.5 520.4 L558.3 522.1 L560.1 523.7 L561.9 525.3 L563.7 526.8 L565.5 528.3 L567.3 529.7 L569.1 531.1 L570.9 532.4 L572.7 533.6 L574.5 534.8 L576.3 536.0 L578.1 537.0 L579.9 538.1 L581.8 539.0 L583.6 539.9 L585.4 540.8 L587.2 541.6 L589.0 542.4 L590.8 543.1 L592.6 543.7 L594.4 544.3 L596.2 544.8 L598.0 545.3 L599.8 545.7 L601.6 546.0 L603.4 546.3 L605.2 546.6 L607.0 546.8 L608.8 546.9 L610.7 547.0 L612.5 547.0 L614.3 547.0 L616.1 546.9 L617.9 546.8 L619.7 546.6 L621.5 546.3 L623.3 546.0 L625.1 545.7 L626.9 545.3 L628.7 544.8 L630.5 544.3 L632.3 543.7 L634.1 543.1 L635.9 542.4 L637.7 541.6 L639.6 540.8 L641.4 539.9 L643.2 539.0 L645.0 538.1 L646.8 537.0 L648.6 536.0 L650.4 534.8 L652.2 533.6 L654.0 532.4 L655.8 531.1 L657.6 529.7 L659.4 528.3 L661.2 526.8 L663.0 525.3 L664.8 523.7 L666.7 522.1 L668.5 520.4 L670.3 518.7 L672.1 516.9 L673.9 515.0 L675.7 513.1 L677.5 511.1 L679.3 509.1 L681.1 507.0 L682.9 504.9 L684.7 502.7 L686.5 500.5 L688.3 498.2 L690.1 495.8 L691.9 493.4 L693.7 490.9 L695.6 488.4 L697.4 485.8 L699.2 483.2 L701.0 480.5 L702.8 477.8 L704.6 475.0 L706.4 472.1 L708.2 469.2 L710.0 466.3 L711.8 463.2 L713.6 460.2 L715.4 457.0 L717.2 453.8 L719.0 450.6" stroke="#ff0000"/>
<path d="M510.8 451.5 L512.5 454.5 L514.3 457.4 L516.0 460.3 L517.7 463.2 L519.4 466.0 L521.1 468.7 L522.9 471.4 L524.6 474.0 L526.3 476.6 L528.0 479.1 L529.8 481.6 L531.5 484.0 L533.2 486.4 L534.9 488.7 L536.6 491.0 L538.4 493.2 L540.1 495.4 L541.8 497.5 L543.5 499.6 L545.3 501.6 L547.0 503.6 L548.7 505.5 L550.4 507.4 L552.2 509.2 L553.9 511.0 L555.6 512.7 L557.3 514.3 L559.0 516.0 L560.8 517.5 L562.5 519.0 L564.2 520.5 L565.9 521.9 L567.7 523.2 L569.4 524.5 L571.1 525.8 L572.8 527.0 L574.6 528.2 L576.3 529.3 L578.0 530.3 L579.7 531.3 L581.4 532.2 L583.2 533.1 L584.9 534.0 L586.6 534.8 L588.3 535.5 L590.1 536.2 L591.8 536.8 L593.5 537.4 L595.2 538.0 L597.0 538.5 L598.7 538.9 L600.4 539.3 L602.1 539.6 L603.8 539.9 L605.6 540.1 L607.3 540.3 L609.0 540.4 L610.7 540.5 L612.5 540.5 L614.2 540.5 L615.9 540.4 L617.6 540.3 L619.4 540.1 L621.1 539.9 L622.8 539.6 L624.5 539.3 L626.2 538.9 L628.0 538.5 L629.7 538.0 L631.4 537.4 L633.1 536.8 L634.9 536.2 L636.6 535.5 L638.3 534.8 L640.0 534.0 L641.8 533.1 L643.5 532.2 L645.2 531.3 L646.9 530.3 L648.6 529.3 L650.4 528.2 L652.1 527.0 L653.8 525.8 L655.5 524.5 L657.3 523.2 L659.0 521.9 L660.7 520.5 L662.4 519.0 L664.1 517.5 L665.9 516.0 L667.6 514.3 L669.3 512.7 L671.0 511.0 L672.8 509.2 L674.5 507.4 L676.2 505.5 L677.9 503.6 L679.7 501.6 L681.4 499.6 L683.1 497.5 L684.8 495.4 L686.5 493.2 L688.3 491.0 L690.0 488.7 L691.7 486.4 L693.4 484.0 L695.2 481.6 L696.9 479.1 L698.6 476.6 L700.3 474.0 L702.1 471.4 L703.8 468.7 L705.5 466.0 L707.2 463.2 L708.9 460.3 L710.7 457.4 L712.4 454.5 L714.1 451.5" stroke="#ff0000"/>
<path d="M513.0 451.8 L514.7 454.7 L516.4 457.6 L518.1 460.4 L519.7 463.1 L521.4 465.8 L523.1 468.5 L524.8 471.1 L526.5 473.6 L528.2 476.1 L529.9 478.6 L531.5 481.0 L533.2 483.3 L534.9 485.6 L536.6 487.9 L538.3 490.1 L540.0 492.3 L541.7 494.4 L543.3 496.4 L545.0 498.4 L546.7 500.4 L548.4 502.3 L550.1 504.1 L551.8 506.0 L553.5 507.7 L555.1 509.4 L556.8 511.1 L558.5 512.7 L560.2 514.3 L561.9 515.8 L563.6 517.2 L565.3 518.6 L566.9 520.0 L568.6 521.3 L570.3 522.6 L572.0 523.8 L573.7 524.9 L575.4 526.1 L577.1 527.1 L578.7 528.1 L580.4 529.1 L582.1 530.0 L583.8 530.9 L585.5 531.7 L587.2 532.5 L588.9 533.2 L590.5 533.9 L592.2 534.5 L593.9 535.1 L595.6 535.6 L597.3 536.0 L599.0 536.5 L600.7 536.8 L602.3 537.2 L604.0 537.4 L605.7 537.7 L607.4 537.8 L609.1 538.0 L610.8 538.0 L612.5 538.0 L614.1 538.0 L615.8 538.0 L617.5 537.8 L619.2 537.7 L620.9 537.4 L622.6 537.2 L624.3 536.8 L625.9 536.5 L627.6 536.0 L629.3 535.6 L631.0 535.1 L632.7 534.5 L634.4 533.9 L636.1 533.2 L637.7 532.5 L639.4 531.7 L641.1 530.9 L642.8 530.0 L644.5 529.1 L646.2 528.1 L647.9 527.1 L649.5 526.1 L651.2 524.9 L652.9 523.8 L654.6 522.6 L656.3 521.3 L658.0 520.0 L659.7 518.6 L661.4 517.2 L663.0 515.8 L664.7 514.3 L666.4 512.7 L668.1 511.1 L669.8 509.4 L671.5 507.7 L673.2 506.0 L674.8 504.1 L676.5 502.3 L678.2 500.4 L679.9 498.4 L681.6 496.4 L683.3 494.4 L685.0 492.3 L686.6 490.1 L688.3 487.9 L690.0 485.6 L691.7 483.3 L693.4 481.0 L695.1 478.6 L696.8 476.1 L698.4 473.6 L700.1 471.1 L701.8 468.5 L703.5 465.8 L705.2 463.1 L706.9 460.4 L708.6 457.6 L710.2 454.7 L711.9 451.8" stroke="#ff0000"/>
<path d="M516.3 452.7 L517.9 455.4 L519.5 458.0 L521.2 460.6 L522.8 463.1 L524.4 465.6 L526.1 468.1 L527.7 470.4 L529.3 472.8 L530.9 475.1 L532.6 477.4 L534.2 479.6 L535.8 481.7 L537.5 483.9 L539.1 485.9 L540.7 488.0 L542.4 490.0 L544.0 491.9 L545.6 493.8 L547.3 495.6 L548.9 497.4 L550.5 499.2 L552.1 500.9 L553.8 502.6 L555.4 504.2 L557.0 505.8 L558.7 507.3 L560.3 508.8 L561.9 510.2 L563.6 511.6 L565.2 513.0 L566.8 514.3 L568.4 515.5 L570.1 516.7 L571.7 517.9 L573.3 519.0 L575.0 520.1 L576.6 521.1 L578.2 522.1 L579.9 523.0 L581.5 523.9 L583.1 524.8 L584.7 525.6 L586.4 526.3 L588.0 527.0 L589.6 527.7 L591.3 528.3 L592.9 528.9 L594.5 529.4 L596.2 529.9 L597.8 530.3 L599.4 530.7 L601.0 531.0 L602.7 531.3 L604.3 531.6 L605.9 531.8 L607.6 532.0 L609.2 532.1 L610.8 532.1 L612.5 532.2 L614.1 532.1 L615.7 532.1 L617.4 532.0 L619.0 531.8 L620.6 531.6 L622.2 531.3 L623.9 531.0 L625.5 530.7 L627.1 530.3 L628.8 529.9 L630.4 529.4 L632.0 528.9 L633.7 528.3 L635.3 527.7 L636.9 527.0 L638.5 526.3 L640.2 525.6 L641.8 524.8 L643.4 523.9 L645.1 523.0 L646.7 522.1 L648.3 521.1 L650.0 520.1 L651.6 519.0 L653.2 517.9 L654.8 516.7 L656.5 515.5 L658.1 514.3 L659.7 513.0 L661.4 511.6 L663.0 510.2 L664.6 508.8 L666.3 507.3 L667.9 505.8 L669.5 504.2 L671.1 502.6 L672.8 500.9 L674.4 499.2 L676.0 497.4 L677.7 495.6 L679.3 493.8 L680.9 491.9 L682.6 490.0 L684.2 488.0 L685.8 485.9 L687.5 483.9 L689.1 481.7 L690.7 479.6 L692.3 477.4 L694.0 475.1 L695.6 472.8 L697.2 470.4 L698.9 468.1 L700.5 465.6 L702.1 463.1 L703.8 460.6 L705.4 458.0 L707.0 455.4 L708.6 452.7" stroke="#ff0000"/>
<path d="M527.4 454.8 L528.8 456.9 L530.3 459.0 L531.7 461.0 L533.2 463.0 L534.6 465.0 L536.1 467.0 L537.5 468.9 L538.9 470.7 L540.4 472.6 L541.8 474.4 L543.3 476.1 L544.7 477.8 L546.1 479.5 L547.6 481.2 L549.0 482.8 L550.5 484.4 L551.9 485.9 L553.4 487.4 L554.8 488.9 L556.2 490.3 L557.7 491.7 L559.1 493.1 L560.6 494.4 L562.0 495.7 L563.4 496.9 L564.9 498.1 L566.3 499.3 L567.8 500.5 L569.2 501.6 L570.7 502.6 L572.1 503.7 L573.5 504.7 L575.0 505.6 L576.4 506.6 L577.9 507.5 L579.3 508.3 L580.7 509.1 L582.2 509.9 L583.6 510.6 L585.1 511.4 L586.5 512.0 L588.0 512.7 L589.4 513.3 L590.8 513.8 L592.3 514.3 L593.7 514.8 L595.2 515.3 L596.6 515.7 L598.0 516.1 L599.5 516.4 L600.9 516.7 L602.4 517.0 L603.8 517.2 L605.3 517.4 L606.7 517.6 L608.1 517.7 L609.6 517.8 L611.0 517.9 L612.5 517.9 L613.9 517.9 L615.3 517.8 L616.8 517.7 L618.2 517.6 L619.7 517.4 L621.1 517.2 L622.6 517.0 L624.0 516.7 L625.4 516.4 L626.9 516.1 L628.3 515.7 L629.8 515.3 L631.2 514.8 L632.6 514.3 L634.1 513.8 L635.5 513.3 L637.0 512.7 L638.4 512.0 L639.9 511.4 L641.3 510.6 L642.7 509.9 L644.2 509.1 L645.6 508.3 L647.1 507.5 L648.5 506.6 L649.9 505.6 L651.4 504.7 L652.8 503.7 L654.3 502.6 L655.7 501.6 L657.2 500.5 L658.6 499.3 L660.0 498.1 L661.5 496.9 L662.9 495.7 L664.4 494.4 L665.8 493.1 L667.2 491.7 L668.7 490.3 L670.1 488.9 L671.6 487.4 L673.0 485.9 L674.5 484.4 L675.9 482.8 L677.3 481.2 L678.8 479.5 L680.2 477.8 L681.7 476.1 L683.1 474.4 L684.5 472.6 L686.0 470.7 L687.4 468.9 L688.9 467.0 L690.3 465.0 L691.8 463.0 L693.2 461.0 L694.6 459.0 L696.1 456.9 L697.5 454.8" stroke="#ff0000"/>
<path d="M532.1 455.5 L533.5 457.4 L534.9 459.3 L536.2 461.2 L537.6 463.0 L538.9 464.8 L540.3 466.5 L541.7 468.3 L543.0 470.0 L544.4 471.6 L545.8 473.2 L547.1 474.8 L548.5 476.4 L549.8 477.9 L551.2 479.4 L552.6 480.9 L553.9 482.3 L555.3 483.7 L556.6 485.1 L558.0 486.4 L559.4 487.7 L560.7 488.9 L562.1 490.2 L563.5 491.4 L564.8 492.5 L566.2 493.7 L567.5 494.8 L568.9 495.8 L570.3 496.9 L571.6 497.9 L573.0 498.8 L574.3 499.8 L575.7 500.7 L577.1 501.5 L578.4 502.4 L579.8 503.2 L581.1 504.0 L582.5 504.7 L583.9 505.4 L585.2 506.1 L586.6 506.7 L588.0 507.3 L589.3 507.9 L590.7 508.4 L592.0 508.9 L593.4 509.4 L594.8 509.9 L596.1 510.3 L597.5 510.6 L598.8 511.0 L600.2 511.3 L601.6 511.6 L602.9 511.8 L604.3 512.0 L605.7 512.2 L607.0 512.4 L608.4 512.5 L609.7 512.6 L611.1 512.6 L612.5 512.6 L613.8 512.6 L615.2 512.6 L616.5 512.5 L617.9 512.4 L619.3 512.2 L620.6 512.0 L622.0 511.8 L623.4 511.6 L624.7 511.3 L626.1 511.0 L627.4 510.6 L628.8 510.3 L630.2 509.9 L631.5 509.4 L632.9 508.9 L634.2 508.4 L635.6 507.9 L637.0 507.3 L638.3 506.7 L639.7 506.1 L641.0 505.4 L642.4 504.7 L643.8 504.0 L645.1 503.2 L646.5 502.4 L647.9 501.5 L649.2 500.7 L650.6 499.8 L651.9 498.8 L653.3 497.9 L654.7 496.9 L656.0 495.8 L657.4 494.8 L658.7 493.7 L660.1 492.5 L661.5 491.4 L662.8 490.2 L664.2 488.9 L665.6 487.7 L666.9 486.4 L668.3 485.1 L669.6 483.7 L671.0 482.3 L672.4 480.9 L673.7 479.4 L675.1 477.9 L676.4 476.4 L677.8 474.8 L679.2 473.2 L680.5 471.6 L681.9 470.0 L683.2 468.3 L684.6 466.5 L686.0 464.8 L687.3 463.0 L688.7 461.2 L690.1 459.3 L691.4 457.4 L692.8 455.5" stroke="#ff0000"/>
<path d="M537.6 456.7 L538.9 458.3 L540.1 459.9 L541.4 461.5 L542.7 463.0 L544.0 464.5 L545.2 466.0 L546.5 467.5 L547.8 468.9 L549.0 470.3 L550.3 471.7 L551.6 473.1 L552.8 474.4 L554.1 475.7 L555.4 477.0 L556.6 478.2 L557.9 479.4 L559.2 480.6 L560.4 481.8 L561.7 482.9 L563.0 484.0 L564.3 485.1 L565.5 486.1 L566.8 487.1 L568.1 488.1 L569.3 489.1 L570.6 490.0 L571.9 490.9 L573.1 491.8 L574.4 492.6 L575.7 493.5 L576.9 494.3 L578.2 495.0 L579.5 495.8 L580.7 496.5 L582.0 497.2 L583.3 497.8 L584.6 498.4 L585.8 499.0 L587.1 499.6 L588.4 500.2 L589.6 500.7 L590.9 501.2 L592.2 501.6 L593.4 502.1 L594.7 502.5 L596.0 502.8 L597.2 503.2 L598.5 503.5 L599.8 503.8 L601.0 504.1 L602.3 504.3 L603.6 504.5 L604.8 504.7 L606.1 504.8 L607.4 505.0 L608.7 505.1 L609.9 505.1 L611.2 505.2 L612.5 505.2 L613.7 505.2 L615.0 505.1 L616.3 505.1 L617.5 505.0 L618.8 504.8 L620.1 504.7 L621.3 504.5 L622.6 504.3 L623.9 504.1 L625.1 503.8 L626.4 503.5 L627.7 503.2 L629.0 502.8 L630.2 502.5 L631.5 502.1 L632.8 501.6 L634.0 501.2 L635.3 500.7 L636.6 500.2 L637.8 499.6 L639.1 499.0 L640.4 498.4 L641.6 497.8 L642.9 497.2 L644.2 496.5 L645.4 495.8 L646.7 495.0 L648.0 494.3 L649.2 493.5 L650.5 492.6 L651.8 491.8 L653.1 490.9 L654.3 490.0 L655.6 489.1 L656.9 488.1 L658.1 487.1 L659.4 486.1 L660.7 485.1 L661.9 484.0 L663.2 482.9 L664.5 481.8 L665.7 480.6 L667.0 479.4 L668.3 478.2 L669.5 477.0 L670.8 475.7 L672.1 474.4 L673.4 473.1 L674.6 471.7 L675.9 470.3 L677.2 468.9 L678.4 467.5 L679.7 466.0 L681.0 464.5 L682.2 463.0 L683.5 461.5 L684.8 459.9 L686.0 458.3 L687.3 456.7" stroke="#ff0000"/>
<path d="M557.3 459.7 L558.2 460.6 L559.2 461.5 L560.1 462.3 L561.0 463.1 L562.0 463.9 L562.9 464.7 L563.9 465.5 L564.8 466.2 L565.7 467.0 L566.7 467.7 L567.6 468.4 L568.5 469.1 L569.5 469.8 L570.4 470.5 L571.3 471.1 L572.3 471.7 L573.2 472.4 L574.1 473.0 L575.1 473.6 L576.0 474.2 L576.9 474.7 L577.9 475.3 L578.8 475.8 L579.7 476.3 L580.7 476.8 L581.6 477.3 L582.5 477.8 L583.5 478.3 L584.4 478.7 L585.4 479.2 L586.3 479.6 L587.2 480.0 L588.2 480.4 L589.1 480.8 L590.0 481.1 L591.0 481.5 L591.9 481.8 L592.8 482.1 L593.8 482.4 L594.7 482.7 L595.6 483.0 L596.6 483.2 L597.5 483.5 L598.4 483.7 L599.4 483.9 L600.3 484.1 L601.2 484.3 L602.2 484.5 L603.1 484.6 L604.0 484.8 L605.0 484.9 L605.9 485.0 L606.9 485.1 L607.8 485.2 L608.7 485.2 L609.7 485.3 L610.6 485.3 L611.5 485.3 L612.5 485.4 L613.4 485.3 L614.3 485.3 L615.3 485.3 L616.2 485.2 L617.1 485.2 L618.1 485.1 L619.0 485.0 L619.9 484.9 L620.9 484.8 L621.8 484.6 L622.7 484.5 L623.7 484.3 L624.6 484.1 L625.5 483.9 L626.5 483.7 L627.4 483.5 L628.4 483.2 L629.3 483.0 L630.2 482.7 L631.2 482.4 L632.1 482.1 L633.0 481.8 L634.0 481.5 L634.9 481.1 L635.8 480.8 L636.8 480.4 L637.7 480.0 L638.6 479.6 L639.6 479.2 L640.5 478.7 L641.4 478.3 L642.4 477.8 L643.3 477.3 L644.2 476.8 L645.2 476.3 L646.1 475.8 L647.0 475.3 L648.0 474.7 L648.9 474.2 L649.9 473.6 L650.8 473.0 L651.7 472.4 L652.7 471.7 L653.6 471.1 L654.5 470.5 L655.5 469.8 L656.4 469.1 L657.3 468.4 L658.3 467.7 L659.2 467.0 L660.1 466.2 L661.1 465.5 L662.0 464.7 L662.9 463.9 L663.9 463.1 L664.8 462.3 L665.7 461.5 L666.7 460.6 L667.6 459.7" stroke="#ff0000"/>
<path d="M566.4 460.9 L567.2 461.5 L568.0 462.0 L568.8 462.6 L569.5 463.2 L570.3 463.7 L571.1 464.3 L571.9 464.8 L572.7 465.3 L573.4 465.8 L574.2 466.3 L575.0 466.8 L575.8 467.3 L576.6 467.8 L577.3 468.3 L578.1 468.7 L578.9 469.1 L579.7 469.6 L580.5 470.0 L581.3 470.4 L582.0 470.8 L582.8 471.2 L583.6 471.6 L584.4 472.0 L585.2 472.3 L585.9 472.7 L586.7 473.0 L587.5 473.3 L588.3 473.7 L589.1 474.0 L589.8 474.3 L590.6 474.6 L591.4 474.8 L592.2 475.1 L593.0 475.4 L593.7 475.6 L594.5 475.8 L595.3 476.1 L596.1 476.3 L596.9 476.5 L597.6 476.7 L598.4 476.9 L599.2 477.1 L600.0 477.2 L600.8 477.4 L601.5 477.5 L602.3 477.7 L603.1 477.8 L603.9 477.9 L604.7 478.0 L605.4 478.1 L606.2 478.2 L607.0 478.3 L607.8 478.3 L608.6 478.4 L609.3 478.4 L610.1 478.5 L610.9 478.5 L611.7 478.5 L612.5 478.5 L613.2 478.5 L614.0 478.5 L614.8 478.5 L615.6 478.4 L616.4 478.4 L617.1 478.3 L617.9 478.3 L618.7 478.2 L619.5 478.1 L620.3 478.0 L621.0 477.9 L621.8 477.8 L622.6 477.7 L623.4 477.5 L624.2 477.4 L624.9 477.2 L625.7 477.1 L626.5 476.9 L627.3 476.7 L628.1 476.5 L628.8 476.3 L629.6 476.1 L630.4 475.8 L631.2 475.6 L632.0 475.4 L632.7 475.1 L633.5 474.8 L634.3 474.6 L635.1 474.3 L635.9 474.0 L636.6 473.7 L637.4 473.3 L638.2 473.0 L639.0 472.7 L639.8 472.3 L640.5 472.0 L641.3 471.6 L642.1 471.2 L642.9 470.8 L643.7 470.4 L644.5 470.0 L645.2 469.6 L646.0 469.1 L646.8 468.7 L647.6 468.3 L648.4 467.8 L649.1 467.3 L649.9 466.8 L650.7 466.3 L651.5 465.8 L652.3 465.3 L653.0 464.8 L653.8 464.3 L654.6 463.7 L655.4 463.2 L656.2 462.6 L656.9 462.0 L657.7 461.5 L658.5 460.9" stroke="#ff0000"/>
<path d="M573.0 461.6 L573.7 462.0 L574.3 462.4 L575.0 462.8 L575.7 463.2 L576.3 463.7 L577.0 464.1 L577.7 464.4 L578.3 464.8 L579.0 465.2 L579.7 465.6 L580.3 465.9 L581.0 466.3 L581.7 466.6 L582.4 467.0 L583.0 467.3 L583.7 467.6 L584.4 467.9 L585.0 468.2 L585.7 468.5 L586.4 468.8 L587.0 469.1 L587.7 469.4 L588.4 469.7 L589.0 469.9 L589.7 470.2 L590.4 470.4 L591.1 470.7 L591.7 470.9 L592.4 471.2 L593.1 471.4 L593.7 471.6 L594.4 471.8 L595.1 472.0 L595.7 472.2 L596.4 472.4 L597.1 472.5 L597.7 472.7 L598.4 472.9 L599.1 473.0 L599.7 473.2 L600.4 473.3 L601.1 473.4 L601.8 473.5 L602.4 473.7 L603.1 473.8 L603.8 473.9 L604.4 474.0 L605.1 474.0 L605.8 474.1 L606.4 474.2 L607.1 474.3 L607.8 474.3 L608.4 474.4 L609.1 474.4 L609.8 474.4 L610.5 474.5 L611.1 474.5 L611.8 474.5 L612.5 474.5 L613.1 474.5 L613.8 474.5 L614.5 474.5 L615.1 474.4 L615.8 474.4 L616.5 474.4 L617.1 474.3 L617.8 474.3 L618.5 474.2 L619.1 474.1 L619.8 474.0 L620.5 474.0 L621.2 473.9 L621.8 473.8 L622.5 473.7 L623.2 473.5 L623.8 473.4 L624.5 473.3 L625.2 473.2 L625.8 473.0 L626.5 472.9 L627.2 472.7 L627.8 472.5 L628.5 472.4 L629.2 472.2 L629.9 472.0 L630.5 471.8 L631.2 471.6 L631.9 471.4 L632.5 471.2 L633.2 470.9 L633.9 470.7 L634.5 470.4 L635.2 470.2 L635.9 469.9 L636.5 469.7 L637.2 469.4 L637.9 469.1 L638.5 468.8 L639.2 468.5 L639.9 468.2 L640.6 467.9 L641.2 467.6 L641.9 467.3 L642.6 467.0 L643.2 466.6 L643.9 466.3 L644.6 465.9 L645.2 465.6 L645.9 465.2 L646.6 464.8 L647.2 464.4 L647.9 464.1 L648.6 463.7 L649.3 463.2 L649.9 462.8 L650.6 462.4 L651.3 462.0 L651.9 461.6" stroke="#ff0000"/>
<path d="M592.5 463.1 L592.8 463.2 L593.2 463.3 L593.5 463.4 L593.9 463.5 L594.2 463.6 L594.5 463.7 L594.9 463.8 L595.2 463.9 L595.5 464.0 L595.9 464.1 L596.2 464.2 L596.6 464.3 L596.9 464.4 L597.2 464.5 L597.6 464.6 L597.9 464.7 L598.3 464.7 L598.6 464.8 L598.9 464.9 L599.3 465.0 L599.6 465.1 L599.9 465.1 L600.3 465.2 L600.6 465.3 L601.0 465.3 L601.3 465.4 L601.6 465.5 L602.0 465.5 L602.3 465.6 L602.7 465.6 L603.0 465.7 L603.3 465.7 L603.7 465.8 L604.0 465.8 L604.3 465.9 L604.7 465.9 L605.0 466.0 L605.4 466.0 L605.7 466.1 L606.0 466.1 L606.4 466.1 L606.7 466.2 L607.0 466.2 L607.4 466.2 L607.7 466.3 L608.1 466.3 L608.4 466.3 L608.7 466.3 L609.1 466.3 L609.4 466.4 L609.8 466.4 L610.1 466.4 L610.4 466.4 L610.8 466.4 L611.1 466.4 L611.4 466.4 L611.8 466.4 L612.1 466.4 L612.5 466.4 L612.8 466.4 L613.1 466.4 L613.5 466.4 L613.8 466.4 L614.2 466.4 L614.5 466.4 L614.8 466.4 L615.2 466.4 L615.5 466.4 L615.8 466.3 L616.2 466.3 L616.5 466.3 L616.9 466.3 L617.2 466.3 L617.5 466.2 L617.9 466.2 L618.2 466.2 L618.5 466.1 L618.9 466.1 L619.2 466.1 L619.6 466.0 L619.9 466.0 L620.2 465.9 L620.6 465.9 L620.9 465.8 L621.3 465.8 L621.6 465.7 L621.9 465.7 L622.3 465.6 L622.6 465.6 L622.9 465.5 L623.3 465.5 L623.6 465.4 L624.0 465.3 L624.3 465.3 L624.6 465.2 L625.0 465.1 L625.3 465.1 L625.7 465.0 L626.0 464.9 L626.3 464.8 L626.7 464.7 L627.0 464.7 L627.3 464.6 L627.7 464.5 L628.0 464.4 L628.4 464.3 L628.7 464.2 L629.0 464.1 L629.4 464.0 L629.7 463.9 L630.0 463.8 L630.4 463.7 L630.7 463.6 L631.1 463.5 L631.4 463.4 L631.7 463.3 L632.1 463.2 L632.4 463.1" stroke="#ff0000"/>
<path d="M440.4 559.5 L442.4 559.8 L444.3 560.7 L446.2 562.3 L448.2 564.4 L450.1 566.9 L452.0 569.9 L454.0 573.2 L455.9 576.8 L457.8 580.6 L459.8 584.5 L461.7 588.5 L463.6 592.5 L465.5 596.5 L467.5 600.5 L469.4 604.6 L471.3 608.6 L473.3 612.7 L475.2 616.8 L477.1 620.9 L479.1 625.1 L481.0 629.3 L482.9 633.5 L484.9 637.7 L486.8 642.0 L488.7 646.1 L490.7 650.2 L492.6 654.1 L494.5 657.8 L496.5 661.4 L498.4 664.7 L500.3 667.7 L502.3 670.6 L504.2 673.1 L506.1 675.5 L508.1 677.6 L510.0 679.6 L511.9 681.4 L513.9 683.1 L515.8 684.8 L517.7 686.4 L519.7 687.9 L521.6 689.5 L523.5 691.0 L525.5 692.6 L527.4 694.2 L529.3 695.8 L531.3 697.3 L533.2 698.9 L535.1 700.4 L537.1 701.9 L539.0 703.4 L540.9 704.8 L542.9 706.2 L544.8 707.6 L546.7 708.9 L548.7 710.2 L550.6 711.5 L552.5 712.7 L554.5 713.9 L556.4 715.1 L558.3 716.3 L560.3 717.4 L562.2 718.5 L564.1 719.6 L566.1 720.6 L568.0 721.6 L569.9 722.5 L571.9 723.3 L573.8 724.1 L575.7 724.8 L577.7 725.5 L579.6 726.1 L581.5 726.6 L583.5 727.1 L585.4 727.5 L587.3 727.9 L589.3 728.3 L591.2 728.6 L593.1 728.9 L595.1 729.2 L597.0 729.5 L598.9 729.7 L600.9 729.9 L602.8 730.1 L604.7 730.3 L606.7 730.4 L608.6 730.5 L610.5 730.5 L612.5 730.6 L614.4 730.5 L616.3 730.5 L618.3 730.4 L620.2 730.3 L622.1 730.1 L624.1 729.9 L626.0 729.7 L627.9 729.5 L629.9 729.2 L631.8 728.9 L633.7 728.6 L635.7 728.3 L637.6 727.9 L639.5 727.5 L641.5 727.1 L643.4 726.6 L645.3 726.1 L647.3 725.5 L649.2 724.8 L651.1 724.1 L653.1 723.3 L655.0 722.5 L656.9 721.6 L658.9 720.6 L660.8 719.6 L662.7 718.5 L664.7 717.4 L666.6 716.3 L668.5 715.1 L670.5 713.9 L672.4 712.7 L674.3 711.5 L676.3 710.2 L678.2 708.9 L680.1 707.6 L682.0 706.2 L684.0 704.8 L685.9 703.4 L687.8 701.9 L689.8 700.4 L691.7 698.9 L693.6 697.3 L695.6 695.8 L697.5 694.2 L699.4 692.6 L701.4 691.0 L703.3 689.5 L705.2 687.9 L707.2 686.4 L709.1 684.8 L711.0 683.1 L713.0 681.4 L714.9 679.6 L716.8 677.6 L718.8 675.5 L720.7 673.1 L722.6 670.6 L724.6 667.7 L726.5 664.7 L728.4 661.4 L730.4 657.8 L732.3 654.1 L734.2 650.2 L736.2 646.1 L738.1 642.0 L740.0 637.7 L742.0 633.5 L743.9 629.3 L745.8 625.1 L747.8 620.9 L749.7 616.8 L751.6 612.7 L753.6 608.6 L755.5 604.6 L757.4 600.5 L759.4 596.5 L761.3 592.5 L763.2 588.5 L765.2 584.5 L767.1 580.6 L769.0 576.8 L771.0 573.2 L772.9 569.9 L774.8 566.9 L776.8 564.4 L778.7 562.3 L780.6 560.7 L782.6 559.8 L784.5 559.5" stroke="#0000ff"/>
<path d="M440.4 655.8 L442.4 655.9 L444.3 656.0 L446.2 656.3 L448.2 656.6 L450.1 657.0 L452.0 657.5 L454.0 658.0 L455.9 658.6 L457.8 659.2 L459.8 659.9 L461.7 660.6 L463.6 661.3 L465.5 662.2 L467.5 663.0 L469.4 664.0 L471.3 665.0 L473.3 666.1 L475.2 667.3 L477.1 668.5 L479.1 669.8 L481.0 671.1 L482.9 672.5 L484.9 673.8 L486.8 675.1 L488.7 676.5 L490.7 677.8 L492.6 679.1 L494.5 680.5 L496.5 681.9 L498.4 683.4 L500.3 685.0 L502.3 686.9 L504.2 688.9 L506.1 691.2 L508.1 693.7 L510.0 696.5 L511.9 699.6 L513.9 702.9 L515.8 706.4 L517.7 710.1 L519.7 713.9 L521.6 717.8 L523.5 721.8 L525.5 725.7 L527.4 729.6 L529.3 733.5 L531.3 737.2 L533.2 740.8 L535.1 744.4 L537.1 747.8 L539.0 751.1 L540.9 754.4 L542.9 757.6 L544.8 760.7 L546.7 763.9 L548.7 766.9 L550.6 769.9 L552.5 772.9 L554.5 775.8 L556.4 778.6 L558.3 781.3 L560.3 783.9 L562.2 786.4 L564.1 788.7 L566.1 790.8 L568.0 792.9 L569.9 794.8 L571.9 796.5 L573.8 798.2 L575.7 799.8 L577.7 801.2 L579.6 802.6 L581.5 804.0 L583.5 805.3 L585.4 806.5 L587.3 807.6 L589.3 808.7 L591.2 809.7 L593.1 810.6 L595.1 811.4 L597.0 812.1 L598.9 812.7 L600.9 813.3 L602.8 813.7 L604.7 814.0 L606.7 814.3 L608.6 814.4 L610.5 814.5 L612.5 814.6 L614.4 814.5 L616.3 814.4 L618.3 814.3 L620.2 814.0 L622.1 813.7 L624.1 813.3 L626.0 812.7 L627.9 812.1 L629.9 811.4 L631.8 810.6 L633.7 809.7 L635.7 808.7 L637.6 807.6 L639.5 806.5 L641.5 805.3 L643.4 804.0 L645.3 802.6 L647.3 801.2 L649.2 799.8 L651.1 798.2 L653.1 796.5 L655.0 794.8 L656.9 792.9 L658.9 790.8 L660.8 788.7 L662.7 786.4 L664.7 783.9 L666.6 781.3 L668.5 778.6 L670.5 775.8 L672.4 772.9 L674.3 769.9 L676.3 766.9 L678.2 763.9 L680.1 760.7 L682.0 757.6 L684.0 754.4 L685.9 751.1 L687.8 747.8 L689.8 744.4 L691.7 740.8 L693.6 737.2 L695.6 733.5 L697.5 729.6 L699.4 725.7 L701.4 721.8 L703.3 717.8 L705.2 713.9 L707.2 710.1 L709.1 706.4 L711.0 702.9 L713.0 699.6 L714.9 696.5 L716.8 693.7 L718.8 691.2 L720.7 688.9 L722.6 686.9 L724.6 685.0 L726.5 683.4 L728.4 681.9 L730.4 680.5 L732.3 679.1 L734.2 677.8 L736.2 676.5 L738.1 675.1 L740.0 673.8 L742.0 672.5 L743.9 671.1 L745.8 669.8 L747.8 668.5 L749.7 667.3 L751.6 666.1 L753.6 665.0 L755.5 664.0 L757.4 663.0 L759.4 662.2 L761.3 661.3 L763.2 660.6 L765.2 659.9 L767.1 659.2 L769.0 658.6 L771.0 658.0 L772.9 657.5 L774.8 657.0 L776.8 656.6 L778.7 656.3 L780.6 656.0 L782.6 655.9 L784.5 655.8" stroke="#0000ff"/>
<path d="M440.4 683.3 L442.4 683.3 L444.3 683.3 L446.2 683.4 L448.2 683.5 L450.1 683.6 L452.0 683.8 L454.0 684.0 L455.9 684.2 L457.8 684.4 L459.8 684.6 L461.7 684.9 L463.6 685.2 L465.5 685.5 L467.5 685.8 L469.4 686.1 L471.3 686.4 L473.3 686.7 L475.2 687.1 L477.1 687.4 L479.1 687.7 L481.0 688.1 L482.9 688.4 L484.9 688.8 L486.8 689.1 L488.7 689.4 L490.7 689.8 L492.6 690.1 L494.5 690.5 L496.5 690.8 L498.4 691.1 L500.3 691.5 L502.3 691.8 L504.2 692.2 L506.1 692.5 L508.1 692.8 L510.0 693.2 L511.9 693.6 L513.9 693.9 L515.8 694.3 L517.7 694.7 L519.7 695.0 L521.6 695.4 L523.5 695.8 L525.5 696.2 L527.4 696.6 L529.3 697.0 L531.3 697.5 L533.2 697.9 L535.1 698.3 L537.1 698.7 L539.0 699.2 L540.9 699.6 L542.9 700.0 L544.8 700.5 L546.7 700.9 L548.7 701.3 L550.6 701.8 L552.5 702.2 L554.5 702.6 L556.4 703.0 L558.3 703.4 L560.3 703.7 L562.2 704.1 L564.1 704.5 L566.1 704.8 L568.0 705.2 L569.9 705.5 L571.9 705.8 L573.8 706.1 L575.7 706.4 L577.7 706.6 L579.6 706.9 L581.5 707.1 L583.5 707.3 L585.4 707.5 L587.3 707.7 L589.3 707.9 L591.2 708.0 L593.1 708.2 L595.1 708.3 L597.0 708.4 L598.9 708.5 L600.9 708.6 L602.8 708.7 L604.7 708.8 L606.7 708.8 L608.6 708.8 L610.5 708.9 L612.5 708.9 L614.4 708.9 L616.3 708.8 L618.3 708.8 L620.2 708.8 L622.1 708.7 L624.1 708.6 L626.0 708.5 L627.9 708.4 L629.9 708.3 L631.8 708.2 L633.7 708.0 L635.7 707.9 L637.6 707.7 L639.5 707.5 L641.5 707.3 L643.4 707.1 L645.3 706.9 L647.3 706.6 L649.2 706.4 L651.1 706.1 L653.1 705.8 L655.0 705.5 L656.9 705.2 L658.9 704.8 L660.8 704.5 L662.7 704.1 L664.7 703.7 L666.6 703.4 L668.5 703.0 L670.5 702.6 L672.4 702.2 L674.3 701.8 L676.3 701.3 L678.2 700.9 L680.1 700.5 L682.0 700.0 L684.0 699.6 L685.9 699.2 L687.8 698.7 L689.8 698.3 L691.7 697.9 L693.6 697.5 L695.6 697.0 L697.5 696.6 L699.4 696.2 L701.4 695.8 L703.3 695.4 L705.2 695.0 L707.2 694.7 L709.1 694.3 L711.0 693.9 L713.0 693.6 L714.9 693.2 L716.8 692.8 L718.8 692.5 L720.7 692.2 L722.6 691.8 L724.6 691.5 L726.5 691.1 L728.4 690.8 L730.4 690.5 L732.3 690.1 L734.2 689.8 L736.2 689.4 L738.1 689.1 L740.0 688.8 L742.0 688.4 L743.9 688.1 L745.8 687.7 L747.8 687.4 L749.7 687.1 L751.6 686.7 L753.6 686.4 L755.5 686.1 L757.4 685.8 L759.4 685.5 L761.3 685.2 L763.2 684.9 L765.2 684.6 L767.1 684.4 L769.0 684.2 L771.0 684.0 L772.9 683.8 L774.8 683.6 L776.8 683.5 L778.7 683.4 L780.6 683.3 L782.6 683.3 L784.5 683.3" stroke="#0000ff"/>
<path d="M440.4 751.6 L442.4 751.6 L444.3 751.5 L446.2 751.4 L448.2 751.2 L450.1 751.0 L452.0 750.7 L454.0 750.4 L455.9 750.0 L457.8 749.6 L459.8 749.2 L461.7 748.7 L463.6 748.1 L465.5 747.5 L467.5 746.9 L469.4 746.2 L471.3 745.5 L473.3 744.8 L475.2 744.0 L477.1 743.2 L479.1 742.4 L481.0 741.5 L482.9 740.6 L484.9 739.6 L486.8 738.6 L488.7 737.6 L490.7 736.6 L492.6 735.5 L494.5 734.4 L496.5 733.3 L498.4 732.1 L500.3 730.9 L502.3 729.7 L504.2 728.5 L506.1 727.2 L508.1 726.0 L510.0 724.7 L511.9 723.4 L513.9 722.1 L515.8 720.8 L517.7 719.4 L519.7 718.1 L521.6 716.8 L523.5 715.4 L525.5 714.1 L527.4 712.7 L529.3 711.4 L531.3 710.0 L533.2 708.7 L535.1 707.3 L537.1 706.0 L539.0 704.6 L540.9 703.2 L542.9 701.8 L544.8 700.5 L546.7 699.1 L548.7 697.7 L550.6 696.2 L552.5 694.8 L554.5 693.4 L556.4 691.9 L558.3 690.4 L560.3 688.9 L562.2 687.4 L564.1 685.9 L566.1 684.4 L568.0 682.8 L569.9 681.2 L571.9 679.6 L573.8 678.1 L575.7 676.5 L577.7 674.8 L579.6 673.2 L581.5 671.6 L583.5 670.0 L585.4 668.4 L587.3 666.9 L589.3 665.3 L591.2 663.7 L591.8 663.2 L592.7 662.6 L593.1 662.2 L593.5 661.9 L594.4 661.2 L595.1 660.7 L595.3 660.6 L596.1 660.0 L597.0 659.3 L597.0 659.3 L597.8 658.7 L598.7 658.1 L598.9 657.9 L599.6 657.5 L600.4 656.9 L600.9 656.6 L601.3 656.4 L602.1 655.8 L602.8 655.5 L603.0 655.3 L603.9 654.9 L604.7 654.4 L604.7 654.4 L605.6 654.0 L606.4 653.6 L606.7 653.5 L607.3 653.2 L608.2 652.9 L608.6 652.8 L609.0 652.7 L609.9 652.5 L610.5 652.4 L610.7 652.3 L611.6 652.3 L612.5 652.2 L613.3 652.3 L614.2 652.3 L614.4 652.4 L615.0 652.5 L615.9 652.7 L616.3 652.8 L616.8 652.9 L617.6 653.2 L618.3 653.5 L618.5 653.6 L619.3 654.0 L620.2 654.4 L620.2 654.4 L621.1 654.9 L621.9 655.3 L622.1 655.5 L622.8 655.8 L623.6 656.4 L624.1 656.6 L624.5 656.9 L625.4 657.5 L626.0 657.9 L626.2 658.1 L627.1 658.7 L627.9 659.3 L627.9 659.3 L628.8 660.0 L629.7 660.6 L629.9 660.7 L630.5 661.2 L631.4 661.9 L631.8 662.2 L632.2 662.6 L633.1 663.2 L633.7 663.7 L635.7 665.3 L637.6 666.9 L639.5 668.4 L641.5 670.0 L643.4 671.6 L645.3 673.2 L647.3 674.8 L649.2 676.5 L651.1 678.1 L653.1 679.6 L655.0 681.2 L656.9 682.8 L658.9 684.4 L660.8 685.9 L662.7 687.4 L664.7 688.9 L666.6 690.4 L668.5 691.9 L670.5 693.4 L672.4 694.8 L674.3 696.2 L676.3 697.7 L678.2 699.1 L680.1 700.5 L682.0 701.8 L684.0 703.2 L685.9 704.6 L687.8 706.0 L689.8 707.3 L691.7 708.7 L693.6 710.0 L695.6 711.4 L697.5 712.7 L699.4 714.1 L701.4 715.4 L703.3 716.8 L705.2 718.1 L707.2 719.4 L709.1 720.8 L711.0 722.1 L713.0 723.4 L714.9 724.7 L716.8 726.0 L718.8 727.2 L720.7 728.5 L722.6 729.7 L724.6 730.9 L726.5 732.1 L728.4 733.3 L730.4 734.4 L732.3 735.5 L734.2 736.6 L736.2 737.6 L738.1 738.6 L740.0 739.6 L742.0 740.6 L743.9 741.5 L745.8 742.4 L747.8 743.2 L749.7 744.0 L751.6 744.8 L753.6 745.5 L755.5 746.2 L757.4 746.9 L759.4 747.5 L761.3 748.1 L763.2 748.7 L765.2 749.2 L767.1 749.6 L769.0 750.0 L771.0 750.4 L772.9 750.7 L774.8 751.0 L776.8 751.2 L778.7 751.4 L780.6 751.5 L782.6 751.6 L784.5 751.6" stroke="#0000ff"/>
<path d="M473.1 438.7 L475.4 445.3 L477.8 451.7 L480.1 457.8 L482.5 463.8 L484.9 469.5 L487.2 475.1 L489.6 480.5 L492.0 485.7 L494.3 490.7 L496.7 495.6 L499.0 500.4 L501.4 505.0 L503.8 509.5 L506.1 513.9 L508.5 518.1 L510.9 522.3 L513.2 526.3 L515.6 530.2 L517.9 534.1 L520.3 537.8 L522.7 541.5 L525.0 545.1 L527.4 548.6 L529.8 552.0 L532.1 555.4 L534.5 558.7 L536.9 561.9 L539.2 565.0 L541.6 568.1 L543.9 571.2 L546.3 574.2 L548.7 577.1 L551.0 580.0 L553.4 582.8 L555.8 585.6 L558.1 588.3 L560.5 590.9 L562.8 593.6 L565.2 596.1 L567.6 598.7 L569.9 601.1 L572.3 603.5 L574.7 605.9 L577.0 608.2 L579.4 610.5 L581.7 612.7 L584.1 614.8 L586.5 616.9 L588.8 618.9 L591.2 620.9 L591.8 621.3 L592.7 622.0 L593.5 622.7 L593.6 622.7 L594.4 623.3 L595.3 624.0 L595.9 624.4 L596.1 624.6 L597.0 625.2 L597.8 625.8 L598.3 626.1 L598.7 626.3 L599.6 626.9 L600.4 627.4 L600.6 627.6 L601.3 627.9 L602.1 628.4 L603.0 628.9 L603.0 628.9 L603.9 629.3 L604.7 629.7 L605.4 630.0 L605.6 630.1 L606.4 630.4 L607.3 630.7 L607.7 630.8 L608.2 630.9 L609.0 631.1 L609.9 631.3 L610.1 631.4 L610.7 631.4 L611.6 631.5 L612.5 631.5 L613.3 631.5 L614.2 631.4 L614.8 631.4 L615.0 631.3 L615.9 631.1 L616.8 630.9 L617.2 630.8 L617.6 630.7 L618.5 630.4 L619.3 630.1 L619.5 630.0 L620.2 629.7 L621.1 629.3 L621.9 628.9 L621.9 628.9 L622.8 628.4 L623.6 627.9 L624.3 627.6 L624.5 627.4 L625.4 626.9 L626.2 626.3 L626.6 626.1 L627.1 625.8 L627.9 625.2 L628.8 624.6 L629.0 624.4 L629.7 624.0 L630.5 623.3 L631.4 622.7 L631.4 622.7 L632.2 622.0 L633.1 621.3 L633.7 620.9 L636.1 618.9 L638.5 616.9 L640.8 614.8 L643.2 612.7 L645.5 610.5 L647.9 608.2 L650.3 605.9 L652.6 603.5 L655.0 601.1 L657.4 598.7 L659.7 596.1 L662.1 593.6 L664.4 590.9 L666.8 588.3 L669.2 585.6 L671.5 582.8 L673.9 580.0 L676.3 577.1 L678.6 574.2 L681.0 571.2 L683.3 568.1 L685.7 565.0 L688.1 561.9 L690.4 558.7 L692.8 555.4 L695.2 552.0 L697.5 548.6 L699.9 545.1 L702.2 541.5 L704.6 537.8 L707.0 534.1 L709.3 530.2 L711.7 526.3 L714.1 522.3 L716.4 518.1 L718.8 513.9 L721.1 509.5 L723.5 505.0 L725.9 500.4 L728.2 495.6 L730.6 490.7 L733.0 485.7 L735.3 480.5 L737.7 475.1 L740.1 469.5 L742.4 463.8 L744.8 457.8 L747.1 451.7 L749.5 445.3 L751.9 438.7" stroke="#0000ff"/>
<path d="M495.5 448.2 L497.5 452.1 L499.5 455.9 L501.4 459.7 L503.4 463.4 L505.4 467.0 L507.4 470.6 L509.4 474.1 L511.3 477.5 L513.3 480.9 L515.3 484.2 L517.3 487.4 L519.3 490.5 L521.3 493.6 L523.2 496.7 L525.2 499.6 L527.2 502.5 L529.2 505.4 L531.2 508.1 L533.2 510.8 L535.1 513.5 L537.1 516.0 L539.1 518.5 L541.1 520.9 L543.1 523.3 L545.1 525.6 L547.0 527.8 L549.0 530.0 L551.0 532.1 L553.0 534.1 L555.0 536.1 L556.9 538.0 L558.9 539.8 L560.9 541.6 L562.9 543.3 L564.9 544.9 L566.9 546.5 L568.8 548.0 L570.8 549.4 L572.8 550.8 L574.8 552.1 L576.8 553.3 L578.8 554.5 L580.7 555.6 L582.7 556.6 L584.7 557.6 L586.7 558.5 L588.7 559.3 L590.7 560.1 L592.6 560.8 L594.6 561.4 L596.6 562.0 L598.6 562.5 L600.6 562.9 L602.5 563.3 L604.5 563.6 L606.5 563.8 L608.5 564.0 L610.5 564.1 L612.5 564.1 L614.4 564.1 L616.4 564.0 L618.4 563.8 L620.4 563.6 L622.4 563.3 L624.4 562.9 L626.3 562.5 L628.3 562.0 L630.3 561.4 L632.3 560.8 L634.3 560.1 L636.3 559.3 L638.2 558.5 L640.2 557.6 L642.2 556.6 L644.2 555.6 L646.2 554.5 L648.1 553.3 L650.1 552.1 L652.1 550.8 L654.1 549.4 L656.1 548.0 L658.1 546.5 L660.0 544.9 L662.0 543.3 L664.0 541.6 L666.0 539.8 L668.0 538.0 L670.0 536.1 L671.9 534.1 L673.9 532.1 L675.9 530.0 L677.9 527.8 L679.9 525.6 L681.9 523.3 L683.8 520.9 L685.8 518.5 L687.8 516.0 L689.8 513.5 L691.8 510.8 L693.7 508.1 L695.7 505.4 L697.7 502.5 L699.7 499.6 L701.7 496.7 L703.7 493.6 L705.6 490.5 L707.6 487.4 L709.6 484.2 L711.6 480.9 L713.6 477.5 L715.6 474.1 L717.5 470.6 L719.5 467.0 L721.5 463.4 L723.5 459.7 L725.5 455.9 L727.5 452.1 L729.4 448.2" stroke="#0000ff"/>
<path d="M506.6 450.7 L508.4 453.9 L510.2 457.1 L512.0 460.2 L513.8 463.2 L515.6 466.2 L517.4 469.2 L519.2 472.1 L521.0 474.9 L522.8 477.7 L524.6 480.4 L526.3 483.1 L528.1 485.7 L529.9 488.2 L531.7 490.7 L533.5 493.2 L535.3 495.6 L537.1 497.9 L538.9 500.2 L540.7 502.4 L542.5 504.6 L544.3 506.7 L546.1 508.8 L547.9 510.8 L549.7 512.7 L551.5 514.6 L553.3 516.5 L555.1 518.3 L556.8 520.0 L558.6 521.7 L560.4 523.3 L562.2 524.9 L564.0 526.4 L565.8 527.8 L567.6 529.2 L569.4 530.6 L571.2 531.9 L573.0 533.1 L574.8 534.3 L576.6 535.4 L578.4 536.5 L580.2 537.5 L582.0 538.5 L583.8 539.4 L585.5 540.2 L587.3 541.0 L589.1 541.8 L590.9 542.5 L592.7 543.1 L594.5 543.7 L596.3 544.2 L598.1 544.7 L599.9 545.1 L601.7 545.4 L603.5 545.7 L605.3 546.0 L607.1 546.2 L608.9 546.3 L610.7 546.4 L612.5 546.4 L614.3 546.4 L616.0 546.3 L617.8 546.2 L619.6 546.0 L621.4 545.7 L623.2 545.4 L625.0 545.1 L626.8 544.7 L628.6 544.2 L630.4 543.7 L632.2 543.1 L634.0 542.5 L635.8 541.8 L637.6 541.0 L639.4 540.2 L641.2 539.4 L643.0 538.5 L644.8 537.5 L646.5 536.5 L648.3 535.4 L650.1 534.3 L651.9 533.1 L653.7 531.9 L655.5 530.6 L657.3 529.2 L659.1 527.8 L660.9 526.4 L662.7 524.9 L664.5 523.3 L666.3 521.7 L668.1 520.0 L669.9 518.3 L671.7 516.5 L673.5 514.6 L675.3 512.7 L677.0 510.8 L678.8 508.8 L680.6 506.7 L682.4 504.6 L684.2 502.4 L686.0 500.2 L687.8 497.9 L689.6 495.6 L691.4 493.2 L693.2 490.7 L695.0 488.2 L696.8 485.7 L698.6 483.1 L700.4 480.4 L702.2 477.7 L704.0 474.9 L705.8 472.1 L707.5 469.2 L709.3 466.2 L711.1 463.2 L712.9 460.2 L714.7 457.1 L716.5 453.9 L718.3 450.7" stroke="#0000ff"/>
<path d="M511.5 451.6 L513.2 454.6 L515.0 457.5 L516.7 460.3 L518.4 463.2 L520.1 465.9 L521.8 468.6 L523.5 471.3 L525.2 473.9 L526.9 476.5 L528.6 479.0 L530.4 481.5 L532.1 483.9 L533.8 486.2 L535.5 488.5 L537.2 490.8 L538.9 493.0 L540.6 495.2 L542.3 497.3 L544.0 499.3 L545.7 501.3 L547.5 503.3 L549.2 505.2 L550.9 507.0 L552.6 508.8 L554.3 510.6 L556.0 512.3 L557.7 513.9 L559.4 515.5 L561.1 517.1 L562.9 518.6 L564.6 520.0 L566.3 521.4 L568.0 522.8 L569.7 524.1 L571.4 525.3 L573.1 526.5 L574.8 527.6 L576.5 528.7 L578.2 529.8 L580.0 530.8 L581.7 531.7 L583.4 532.6 L585.1 533.4 L586.8 534.2 L588.5 534.9 L590.2 535.6 L591.9 536.3 L593.6 536.8 L595.4 537.4 L597.1 537.9 L598.8 538.3 L600.5 538.7 L602.2 539.0 L603.9 539.3 L605.6 539.5 L607.3 539.7 L609.0 539.8 L610.7 539.9 L612.5 539.9 L614.2 539.9 L615.9 539.8 L617.6 539.7 L619.3 539.5 L621.0 539.3 L622.7 539.0 L624.4 538.7 L626.1 538.3 L627.9 537.9 L629.6 537.4 L631.3 536.8 L633.0 536.3 L634.7 535.6 L636.4 534.9 L638.1 534.2 L639.8 533.4 L641.5 532.6 L643.3 531.7 L645.0 530.8 L646.7 529.8 L648.4 528.7 L650.1 527.6 L651.8 526.5 L653.5 525.3 L655.2 524.1 L656.9 522.8 L658.6 521.4 L660.4 520.0 L662.1 518.6 L663.8 517.1 L665.5 515.5 L667.2 513.9 L668.9 512.3 L670.6 510.6 L672.3 508.8 L674.0 507.0 L675.8 505.2 L677.5 503.3 L679.2 501.3 L680.9 499.3 L682.6 497.3 L684.3 495.2 L686.0 493.0 L687.7 490.8 L689.4 488.5 L691.1 486.2 L692.9 483.9 L694.6 481.5 L696.3 479.0 L698.0 476.5 L699.7 473.9 L701.4 471.3 L703.1 468.6 L704.8 465.9 L706.5 463.2 L708.3 460.3 L710.0 457.5 L711.7 454.6 L713.4 451.6" stroke="#0000ff"/>
<path d="M513.7 451.9 L515.4 454.8 L517.1 457.6 L518.7 460.4 L520.4 463.1 L522.1 465.8 L523.8 468.4 L525.4 471.0 L527.1 473.5 L528.8 476.0 L530.5 478.5 L532.1 480.8 L533.8 483.2 L535.5 485.5 L537.2 487.7 L538.8 489.9 L540.5 492.0 L542.2 494.1 L543.8 496.1 L545.5 498.1 L547.2 500.1 L548.9 502.0 L550.5 503.8 L552.2 505.6 L553.9 507.3 L555.6 509.0 L557.2 510.7 L558.9 512.3 L560.6 513.8 L562.3 515.3 L563.9 516.8 L565.6 518.2 L567.3 519.5 L568.9 520.8 L570.6 522.1 L572.3 523.3 L574.0 524.4 L575.6 525.5 L577.3 526.6 L579.0 527.6 L580.7 528.6 L582.3 529.5 L584.0 530.3 L585.7 531.1 L587.4 531.9 L589.0 532.6 L590.7 533.3 L592.4 533.9 L594.1 534.5 L595.7 535.0 L597.4 535.4 L599.1 535.9 L600.7 536.2 L602.4 536.5 L604.1 536.8 L605.8 537.0 L607.4 537.2 L609.1 537.3 L610.8 537.4 L612.5 537.4 L614.1 537.4 L615.8 537.3 L617.5 537.2 L619.2 537.0 L620.8 536.8 L622.5 536.5 L624.2 536.2 L625.8 535.9 L627.5 535.4 L629.2 535.0 L630.9 534.5 L632.5 533.9 L634.2 533.3 L635.9 532.6 L637.6 531.9 L639.2 531.1 L640.9 530.3 L642.6 529.5 L644.3 528.6 L645.9 527.6 L647.6 526.6 L649.3 525.5 L651.0 524.4 L652.6 523.3 L654.3 522.1 L656.0 520.8 L657.6 519.5 L659.3 518.2 L661.0 516.8 L662.7 515.3 L664.3 513.8 L666.0 512.3 L667.7 510.7 L669.4 509.0 L671.0 507.3 L672.7 505.6 L674.4 503.8 L676.1 502.0 L677.7 500.1 L679.4 498.1 L681.1 496.1 L682.7 494.1 L684.4 492.0 L686.1 489.9 L687.8 487.7 L689.4 485.5 L691.1 483.2 L692.8 480.8 L694.5 478.5 L696.1 476.0 L697.8 473.5 L699.5 471.0 L701.2 468.4 L702.8 465.8 L704.5 463.1 L706.2 460.4 L707.9 457.6 L709.5 454.8 L711.2 451.9" stroke="#0000ff"/>
<path d="M516.8 452.6 L518.4 455.3 L520.1 458.0 L521.7 460.5 L523.3 463.1 L524.9 465.6 L526.5 468.1 L528.2 470.5 L529.8 472.8 L531.4 475.2 L533.0 477.4 L534.7 479.7 L536.3 481.9 L537.9 484.0 L539.5 486.1 L541.1 488.1 L542.8 490.1 L544.4 492.1 L546.0 494.0 L547.6 495.9 L549.2 497.7 L550.9 499.4 L552.5 501.2 L554.1 502.8 L555.7 504.5 L557.3 506.1 L559.0 507.6 L560.6 509.1 L562.2 510.5 L563.8 511.9 L565.5 513.3 L567.1 514.6 L568.7 515.9 L570.3 517.1 L571.9 518.3 L573.6 519.4 L575.2 520.5 L576.8 521.5 L578.4 522.5 L580.0 523.4 L581.7 524.3 L583.3 525.2 L584.9 526.0 L586.5 526.7 L588.1 527.5 L589.8 528.1 L591.4 528.7 L593.0 529.3 L594.6 529.8 L596.3 530.3 L597.9 530.8 L599.5 531.2 L601.1 531.5 L602.7 531.8 L604.4 532.1 L606.0 532.3 L607.6 532.4 L609.2 532.5 L610.8 532.6 L612.5 532.6 L614.1 532.6 L615.7 532.5 L617.3 532.4 L618.9 532.3 L620.6 532.1 L622.2 531.8 L623.8 531.5 L625.4 531.2 L627.0 530.8 L628.7 530.3 L630.3 529.8 L631.9 529.3 L633.5 528.7 L635.2 528.1 L636.8 527.5 L638.4 526.7 L640.0 526.0 L641.6 525.2 L643.3 524.3 L644.9 523.4 L646.5 522.5 L648.1 521.5 L649.7 520.5 L651.4 519.4 L653.0 518.3 L654.6 517.1 L656.2 515.9 L657.8 514.6 L659.5 513.3 L661.1 511.9 L662.7 510.5 L664.3 509.1 L666.0 507.6 L667.6 506.1 L669.2 504.5 L670.8 502.8 L672.4 501.2 L674.1 499.4 L675.7 497.7 L677.3 495.9 L678.9 494.0 L680.5 492.1 L682.2 490.1 L683.8 488.1 L685.4 486.1 L687.0 484.0 L688.6 481.9 L690.3 479.7 L691.9 477.4 L693.5 475.2 L695.1 472.8 L696.8 470.5 L698.4 468.1 L700.0 465.6 L701.6 463.1 L703.2 460.5 L704.9 458.0 L706.5 455.3 L708.1 452.6" stroke="#0000ff"/>
<path d="M528.3 454.8 L529.7 456.9 L531.2 459.0 L532.6 461.0 L534.0 463.0 L535.4 465.0 L536.9 466.9 L538.3 468.8 L539.7 470.6 L541.1 472.4 L542.6 474.2 L544.0 476.0 L545.4 477.7 L546.9 479.3 L548.3 481.0 L549.7 482.6 L551.1 484.1 L552.6 485.6 L554.0 487.1 L555.4 488.6 L556.8 490.0 L558.3 491.4 L559.7 492.7 L561.1 494.0 L562.5 495.3 L564.0 496.5 L565.4 497.7 L566.8 498.9 L568.2 500.0 L569.7 501.1 L571.1 502.2 L572.5 503.2 L574.0 504.2 L575.4 505.2 L576.8 506.1 L578.2 506.9 L579.7 507.8 L581.1 508.6 L582.5 509.4 L583.9 510.1 L585.4 510.8 L586.8 511.5 L588.2 512.1 L589.6 512.7 L591.1 513.2 L592.5 513.8 L593.9 514.2 L595.3 514.7 L596.8 515.1 L598.2 515.5 L599.6 515.8 L601.1 516.1 L602.5 516.4 L603.9 516.6 L605.3 516.8 L606.8 517.0 L608.2 517.1 L609.6 517.2 L611.0 517.3 L612.5 517.3 L613.9 517.3 L615.3 517.2 L616.7 517.1 L618.2 517.0 L619.6 516.8 L621.0 516.6 L622.4 516.4 L623.9 516.1 L625.3 515.8 L626.7 515.5 L628.1 515.1 L629.6 514.7 L631.0 514.2 L632.4 513.8 L633.9 513.2 L635.3 512.7 L636.7 512.1 L638.1 511.5 L639.6 510.8 L641.0 510.1 L642.4 509.4 L643.8 508.6 L645.3 507.8 L646.7 506.9 L648.1 506.1 L649.5 505.2 L651.0 504.2 L652.4 503.2 L653.8 502.2 L655.2 501.1 L656.7 500.0 L658.1 498.9 L659.5 497.7 L661.0 496.5 L662.4 495.3 L663.8 494.0 L665.2 492.7 L666.7 491.4 L668.1 490.0 L669.5 488.6 L670.9 487.1 L672.4 485.6 L673.8 484.1 L675.2 482.6 L676.6 481.0 L678.1 479.3 L679.5 477.7 L680.9 476.0 L682.3 474.2 L683.8 472.4 L685.2 470.6 L686.6 468.8 L688.1 466.9 L689.5 465.0 L690.9 463.0 L692.3 461.0 L693.8 459.0 L695.2 456.9 L696.6 454.8" stroke="#0000ff"/>
<path d="M533.2 455.8 L534.6 457.6 L535.9 459.4 L537.3 461.2 L538.6 463.0 L539.9 464.7 L541.3 466.4 L542.6 468.1 L544.0 469.7 L545.3 471.3 L546.7 472.9 L548.0 474.5 L549.3 476.0 L550.7 477.5 L552.0 478.9 L553.4 480.3 L554.7 481.7 L556.1 483.0 L557.4 484.4 L558.7 485.7 L560.1 486.9 L561.4 488.1 L562.8 489.3 L564.1 490.5 L565.5 491.6 L566.8 492.7 L568.1 493.8 L569.5 494.8 L570.8 495.8 L572.2 496.8 L573.5 497.7 L574.9 498.6 L576.2 499.5 L577.5 500.3 L578.9 501.1 L580.2 501.9 L581.6 502.7 L582.9 503.4 L584.3 504.1 L585.6 504.7 L586.9 505.3 L588.3 505.9 L589.6 506.5 L591.0 507.0 L592.3 507.5 L593.7 508.0 L595.0 508.4 L596.3 508.8 L597.7 509.2 L599.0 509.5 L600.4 509.8 L601.7 510.1 L603.1 510.3 L604.4 510.5 L605.7 510.7 L607.1 510.8 L608.4 510.9 L609.8 511.0 L611.1 511.1 L612.5 511.1 L613.8 511.1 L615.1 511.0 L616.5 510.9 L617.8 510.8 L619.2 510.7 L620.5 510.5 L621.9 510.3 L623.2 510.1 L624.5 509.8 L625.9 509.5 L627.2 509.2 L628.6 508.8 L629.9 508.4 L631.3 508.0 L632.6 507.5 L633.9 507.0 L635.3 506.5 L636.6 505.9 L638.0 505.3 L639.3 504.7 L640.7 504.1 L642.0 503.4 L643.3 502.7 L644.7 501.9 L646.0 501.1 L647.4 500.3 L648.7 499.5 L650.1 498.6 L651.4 497.7 L652.7 496.8 L654.1 495.8 L655.4 494.8 L656.8 493.8 L658.1 492.7 L659.5 491.6 L660.8 490.5 L662.1 489.3 L663.5 488.1 L664.8 486.9 L666.2 485.7 L667.5 484.4 L668.9 483.0 L670.2 481.7 L671.5 480.3 L672.9 478.9 L674.2 477.5 L675.6 476.0 L676.9 474.5 L678.3 472.9 L679.6 471.3 L680.9 469.7 L682.3 468.1 L683.6 466.4 L685.0 464.7 L686.3 463.0 L687.7 461.2 L689.0 459.4 L690.3 457.6 L691.7 455.8" stroke="#0000ff"/>
<path d="M538.5 456.9 L539.8 458.4 L541.0 460.0 L542.3 461.5 L543.5 463.0 L544.8 464.5 L546.0 465.9 L547.3 467.4 L548.5 468.8 L549.8 470.1 L551.1 471.5 L552.3 472.8 L553.6 474.1 L554.8 475.3 L556.1 476.6 L557.3 477.8 L558.6 478.9 L559.8 480.1 L561.1 481.2 L562.3 482.3 L563.6 483.4 L564.8 484.4 L566.1 485.4 L567.3 486.4 L568.6 487.4 L569.9 488.3 L571.1 489.2 L572.4 490.1 L573.6 490.9 L574.9 491.8 L576.1 492.6 L577.4 493.3 L578.6 494.1 L579.9 494.8 L581.1 495.5 L582.4 496.2 L583.6 496.8 L584.9 497.4 L586.1 498.0 L587.4 498.5 L588.7 499.1 L589.9 499.6 L591.2 500.0 L592.4 500.5 L593.7 500.9 L594.9 501.3 L596.2 501.7 L597.4 502.0 L598.7 502.3 L599.9 502.6 L601.2 502.9 L602.4 503.1 L603.7 503.3 L604.9 503.5 L606.2 503.6 L607.4 503.7 L608.7 503.8 L610.0 503.9 L611.2 503.9 L612.5 504.0 L613.7 503.9 L615.0 503.9 L616.2 503.8 L617.5 503.7 L618.7 503.6 L620.0 503.5 L621.2 503.3 L622.5 503.1 L623.7 502.9 L625.0 502.6 L626.2 502.3 L627.5 502.0 L628.8 501.7 L630.0 501.3 L631.3 500.9 L632.5 500.5 L633.8 500.0 L635.0 499.6 L636.3 499.1 L637.5 498.5 L638.8 498.0 L640.0 497.4 L641.3 496.8 L642.5 496.2 L643.8 495.5 L645.0 494.8 L646.3 494.1 L647.5 493.3 L648.8 492.6 L650.1 491.8 L651.3 490.9 L652.6 490.1 L653.8 489.2 L655.1 488.3 L656.3 487.4 L657.6 486.4 L658.8 485.4 L660.1 484.4 L661.3 483.4 L662.6 482.3 L663.8 481.2 L665.1 480.1 L666.3 478.9 L667.6 477.8 L668.9 476.6 L670.1 475.3 L671.4 474.1 L672.6 472.8 L673.9 471.5 L675.1 470.1 L676.4 468.8 L677.6 467.4 L678.9 465.9 L680.1 464.5 L681.4 463.0 L682.6 461.5 L683.9 460.0 L685.1 458.4 L686.4 456.9" stroke="#0000ff"/>
<path d="M559.1 460.0 L560.0 460.8 L560.9 461.6 L561.8 462.4 L562.7 463.1 L563.7 463.9 L564.6 464.6 L565.5 465.3 L566.4 466.0 L567.3 466.7 L568.2 467.4 L569.1 468.0 L570.0 468.7 L570.9 469.3 L571.8 470.0 L572.7 470.6 L573.6 471.2 L574.5 471.7 L575.4 472.3 L576.3 472.9 L577.2 473.4 L578.1 473.9 L579.0 474.4 L579.9 474.9 L580.8 475.4 L581.7 475.9 L582.6 476.4 L583.5 476.8 L584.4 477.2 L585.3 477.6 L586.2 478.0 L587.2 478.4 L588.1 478.8 L589.0 479.2 L589.9 479.5 L590.8 479.9 L591.7 480.2 L592.6 480.5 L593.5 480.8 L594.4 481.1 L595.3 481.3 L596.2 481.6 L597.1 481.8 L598.0 482.0 L598.9 482.3 L599.8 482.5 L600.7 482.6 L601.6 482.8 L602.5 483.0 L603.4 483.1 L604.3 483.2 L605.2 483.4 L606.1 483.5 L607.0 483.6 L607.9 483.6 L608.8 483.7 L609.7 483.7 L610.7 483.8 L611.6 483.8 L612.5 483.8 L613.4 483.8 L614.3 483.8 L615.2 483.7 L616.1 483.7 L617.0 483.6 L617.9 483.6 L618.8 483.5 L619.7 483.4 L620.6 483.2 L621.5 483.1 L622.4 483.0 L623.3 482.8 L624.2 482.6 L625.1 482.5 L626.0 482.3 L626.9 482.0 L627.8 481.8 L628.7 481.6 L629.6 481.3 L630.5 481.1 L631.4 480.8 L632.3 480.5 L633.2 480.2 L634.2 479.9 L635.1 479.5 L636.0 479.2 L636.9 478.8 L637.8 478.4 L638.7 478.0 L639.6 477.6 L640.5 477.2 L641.4 476.8 L642.3 476.4 L643.2 475.9 L644.1 475.4 L645.0 474.9 L645.9 474.4 L646.8 473.9 L647.7 473.4 L648.6 472.9 L649.5 472.3 L650.4 471.7 L651.3 471.2 L652.2 470.6 L653.1 470.0 L654.0 469.3 L654.9 468.7 L655.8 468.0 L656.8 467.4 L657.7 466.7 L658.6 466.0 L659.5 465.3 L660.4 464.6 L661.3 463.9 L662.2 463.1 L663.1 462.4 L664.0 461.6 L664.9 460.8 L665.8 460.0" stroke="#0000ff"/>
<path d="M565.7 460.6 L566.5 461.3 L567.3 461.9 L568.1 462.5 L568.9 463.1 L569.7 463.7 L570.5 464.3 L571.2 464.9 L572.0 465.5 L572.8 466.0 L573.6 466.6 L574.4 467.1 L575.2 467.6 L576.0 468.1 L576.8 468.6 L577.6 469.1 L578.4 469.6 L579.2 470.1 L580.0 470.5 L580.8 471.0 L581.5 471.4 L582.3 471.8 L583.1 472.2 L583.9 472.6 L584.7 473.0 L585.5 473.4 L586.3 473.8 L587.1 474.1 L587.9 474.5 L588.7 474.8 L589.5 475.1 L590.3 475.5 L591.1 475.8 L591.9 476.1 L592.6 476.3 L593.4 476.6 L594.2 476.9 L595.0 477.1 L595.8 477.3 L596.6 477.6 L597.4 477.8 L598.2 478.0 L599.0 478.2 L599.8 478.4 L600.6 478.5 L601.4 478.7 L602.2 478.8 L602.9 479.0 L603.7 479.1 L604.5 479.2 L605.3 479.3 L606.1 479.4 L606.9 479.5 L607.7 479.6 L608.5 479.6 L609.3 479.7 L610.1 479.7 L610.9 479.7 L611.7 479.8 L612.5 479.8 L613.3 479.8 L614.0 479.7 L614.8 479.7 L615.6 479.7 L616.4 479.6 L617.2 479.6 L618.0 479.5 L618.8 479.4 L619.6 479.3 L620.4 479.2 L621.2 479.1 L622.0 479.0 L622.8 478.8 L623.6 478.7 L624.3 478.5 L625.1 478.4 L625.9 478.2 L626.7 478.0 L627.5 477.8 L628.3 477.6 L629.1 477.3 L629.9 477.1 L630.7 476.9 L631.5 476.6 L632.3 476.3 L633.1 476.1 L633.9 475.8 L634.7 475.5 L635.4 475.1 L636.2 474.8 L637.0 474.5 L637.8 474.1 L638.6 473.8 L639.4 473.4 L640.2 473.0 L641.0 472.6 L641.8 472.2 L642.6 471.8 L643.4 471.4 L644.2 471.0 L645.0 470.5 L645.7 470.1 L646.5 469.6 L647.3 469.1 L648.1 468.6 L648.9 468.1 L649.7 467.6 L650.5 467.1 L651.3 466.6 L652.1 466.0 L652.9 465.5 L653.7 464.9 L654.5 464.3 L655.3 463.7 L656.1 463.1 L656.8 462.5 L657.6 461.9 L658.4 461.3 L659.2 460.6" stroke="#0000ff"/>
<path d="M574.3 461.7 L574.9 462.1 L575.6 462.5 L576.2 462.9 L576.9 463.3 L577.5 463.7 L578.2 464.0 L578.8 464.4 L579.4 464.7 L580.1 465.1 L580.7 465.4 L581.4 465.7 L582.0 466.1 L582.7 466.4 L583.3 466.7 L584.0 467.0 L584.6 467.3 L585.3 467.6 L585.9 467.9 L586.6 468.1 L587.2 468.4 L587.9 468.7 L588.5 468.9 L589.2 469.2 L589.8 469.4 L590.5 469.6 L591.1 469.9 L591.7 470.1 L592.4 470.3 L593.0 470.5 L593.7 470.7 L594.3 470.9 L595.0 471.1 L595.6 471.3 L596.3 471.4 L596.9 471.6 L597.6 471.8 L598.2 471.9 L598.9 472.1 L599.5 472.2 L600.2 472.3 L600.8 472.5 L601.5 472.6 L602.1 472.7 L602.7 472.8 L603.4 472.9 L604.0 473.0 L604.7 473.1 L605.3 473.2 L606.0 473.2 L606.6 473.3 L607.3 473.4 L607.9 473.4 L608.6 473.4 L609.2 473.5 L609.9 473.5 L610.5 473.5 L611.2 473.6 L611.8 473.6 L612.5 473.6 L613.1 473.6 L613.8 473.6 L614.4 473.5 L615.0 473.5 L615.7 473.5 L616.3 473.4 L617.0 473.4 L617.6 473.4 L618.3 473.3 L618.9 473.2 L619.6 473.2 L620.2 473.1 L620.9 473.0 L621.5 472.9 L622.2 472.8 L622.8 472.7 L623.5 472.6 L624.1 472.5 L624.8 472.3 L625.4 472.2 L626.1 472.1 L626.7 471.9 L627.3 471.8 L628.0 471.6 L628.6 471.4 L629.3 471.3 L629.9 471.1 L630.6 470.9 L631.2 470.7 L631.9 470.5 L632.5 470.3 L633.2 470.1 L633.8 469.9 L634.5 469.6 L635.1 469.4 L635.8 469.2 L636.4 468.9 L637.1 468.7 L637.7 468.4 L638.4 468.1 L639.0 467.9 L639.6 467.6 L640.3 467.3 L640.9 467.0 L641.6 466.7 L642.2 466.4 L642.9 466.1 L643.5 465.7 L644.2 465.4 L644.8 465.1 L645.5 464.7 L646.1 464.4 L646.8 464.0 L647.4 463.7 L648.1 463.3 L648.7 462.9 L649.4 462.5 L650.0 462.1 L650.7 461.7" stroke="#0000ff"/>
<path d="M593.4 463.2 L593.7 463.3 L594.1 463.4 L594.4 463.5 L594.7 463.6 L595.0 463.7 L595.4 463.8 L595.7 463.8 L596.0 463.9 L596.3 464.0 L596.6 464.1 L597.0 464.2 L597.3 464.3 L597.6 464.3 L597.9 464.4 L598.3 464.5 L598.6 464.6 L598.9 464.6 L599.2 464.7 L599.5 464.8 L599.9 464.8 L600.2 464.9 L600.5 465.0 L600.8 465.0 L601.2 465.1 L601.5 465.2 L601.8 465.2 L602.1 465.3 L602.5 465.3 L602.8 465.4 L603.1 465.4 L603.4 465.5 L603.7 465.5 L604.1 465.6 L604.4 465.6 L604.7 465.6 L605.0 465.7 L605.4 465.7 L605.7 465.8 L606.0 465.8 L606.3 465.8 L606.6 465.9 L607.0 465.9 L607.3 465.9 L607.6 465.9 L607.9 466.0 L608.3 466.0 L608.6 466.0 L608.9 466.0 L609.2 466.0 L609.6 466.1 L609.9 466.1 L610.2 466.1 L610.5 466.1 L610.8 466.1 L611.2 466.1 L611.5 466.1 L611.8 466.1 L612.1 466.1 L612.5 466.1 L612.8 466.1 L613.1 466.1 L613.4 466.1 L613.8 466.1 L614.1 466.1 L614.4 466.1 L614.7 466.1 L615.0 466.1 L615.4 466.1 L615.7 466.0 L616.0 466.0 L616.3 466.0 L616.7 466.0 L617.0 466.0 L617.3 465.9 L617.6 465.9 L617.9 465.9 L618.3 465.9 L618.6 465.8 L618.9 465.8 L619.2 465.8 L619.6 465.7 L619.9 465.7 L620.2 465.6 L620.5 465.6 L620.9 465.6 L621.2 465.5 L621.5 465.5 L621.8 465.4 L622.1 465.4 L622.5 465.3 L622.8 465.3 L623.1 465.2 L623.4 465.2 L623.8 465.1 L624.1 465.0 L624.4 465.0 L624.7 464.9 L625.0 464.8 L625.4 464.8 L625.7 464.7 L626.0 464.6 L626.3 464.6 L626.7 464.5 L627.0 464.4 L627.3 464.3 L627.6 464.3 L628.0 464.2 L628.3 464.1 L628.6 464.0 L628.9 463.9 L629.2 463.8 L629.6 463.8 L629.9 463.7 L630.2 463.6 L630.5 463.5 L630.9 463.4 L631.2 463.3 L631.5 463.2" stroke="#0000ff"/>
</g>
<path d="M440.42 820.46 h13.3 M784.50 820.46 h-13.3 M440.42 758.46 h13.3 M784.50 758.46 h-13.3 M440.42 696.46 h13.3 M784.50 696.46 h-13.3 M440.42 634.46 h13.3 M784.50 634.46 h-13.3 M440.42 572.46 h13.3 M784.50 572.46 h-13.3 M440.42 510.46 h13.3 M784.50 510.46 h-13.3 M612.5 464.0 v13 M612.5 851.3 v-13" stroke="#000" stroke-width="1.15" fill="none"/>
<rect x="440.42" y="464.00" width="344.08" height="387.30" fill="none" stroke="#000" stroke-width="1.2"/>
</svg>
<svg width="789" height="901" viewBox="0 0 789 901" style="position:absolute;left:0;top:0">
<!-- y tick labels -->
<g class="tk">
<text x="73.2" y="59.2">6,0</text><text x="73.2" y="121.2">4,0</text><text x="73.2" y="183.2">2,0</text><text x="73.2" y="245.2">0,0</text><text x="73.2" y="307.2">−2,0</text><text x="73.2" y="369.2">−4,0</text>
<text x="73.2" y="520.2">6,0</text><text x="73.2" y="582.2">4,0</text><text x="73.2" y="644.2">2,0</text><text x="73.2" y="706.2">0,0</text><text x="73.2" y="768.2">−2,0</text><text x="73.2" y="830.2">−4,0</text>
</g>
<text class="yl" transform="translate(22.3 196.6) rotate(-90)">E (eV)</text>
<text class="yl" transform="translate(22.3 657.6) rotate(-90)">E (eV)</text>
<!-- x labels -->
<g transform="translate(0.0 0.0)"><path d="M79.2 409.9H94 M114.9 422.9L124.2 399 M400.2 422.9L411.4 399" stroke="#000" stroke-width="1.15" fill="none"/><text class="mi" x="97.0" y="416.6">π</text><text class="mi" x="126.6" y="416.6">a</text><text class="mi" x="382.8" y="416.6">π</text><text class="mi" x="413.2" y="416.6">a</text><text class="mr" transform="translate(251.9 416.6) scale(1.13 1)" text-anchor="middle">0</text><text class="mi" x="314" y="430.6" font-weight="bold">k</text><path d="M331 424.5v15.2M335.3 424.5v15.2" stroke="#000" stroke-width="1.1"/></g><g transform="translate(359.2 -2.5)"><path d="M79.2 409.9H94 M114.9 422.9L124.2 399 M400.2 422.9L411.4 399" stroke="#000" stroke-width="1.15" fill="none"/><text class="mi" x="97.0" y="416.6">π</text><text class="mi" x="126.6" y="416.6">a</text><text class="mi" x="382.8" y="416.6">π</text><text class="mi" x="413.2" y="416.6">a</text><text class="mr" transform="translate(251.9 416.6) scale(1.13 1)" text-anchor="middle">0</text><text class="mi" x="314" y="430.6" font-weight="bold">k</text><path d="M331 424.5v15.2M335.3 424.5v15.2" stroke="#000" stroke-width="1.1"/></g><g transform="translate(-0.3 458.2)"><path d="M79.2 409.9H94 M114.9 422.9L124.2 399 M400.2 422.9L411.4 399" stroke="#000" stroke-width="1.15" fill="none"/><text class="mi" x="97.0" y="416.6">π</text><text class="mi" x="126.6" y="416.6">a</text><text class="mi" x="382.8" y="416.6">π</text><text class="mi" x="413.2" y="416.6">a</text><text class="mr" transform="translate(251.9 416.6) scale(1.13 1)" text-anchor="middle">0</text><text class="mi" x="314" y="430.6" font-weight="bold">k</text><path d="M331 424.5v15.2M335.3 424.5v15.2" stroke="#000" stroke-width="1.1"/></g><g transform="translate(360.7 458.2)"><path d="M79.2 409.9H94 M114.9 422.9L124.2 399 M400.2 422.9L411.4 399" stroke="#000" stroke-width="1.15" fill="none"/><text class="mi" x="97.0" y="416.6">π</text><text class="mi" x="126.6" y="416.6">a</text><text class="mi" x="382.8" y="416.6">π</text><text class="mi" x="413.2" y="416.6">a</text><text class="mr" transform="translate(251.9 416.6) scale(1.13 1)" text-anchor="middle">0</text><text class="mi" x="314" y="430.6" font-weight="bold">k</text><path d="M331 424.5v15.2M335.3 424.5v15.2" stroke="#000" stroke-width="1.1"/></g>
<!-- panel labels -->
<text class="pl" x="85.5" y="382.1">(a)</text><text class="el" x="156.5" y="387.8">Cr</text>
<text class="pl" x="445.9" y="382.1">(b)</text><text class="el" transform="translate(507 387.8) scale(1.07 1)">Mn</text>
<text class="pl" x="84.2" y="843.5">(c)</text><text class="el" transform="translate(142.4 849.1) scale(1.04 1)">Fe</text>
<text class="pl" x="444.3" y="843.5">(d)</text><text class="el" x="504.2" y="849.1">Co</text>
</svg>
</body></html>
